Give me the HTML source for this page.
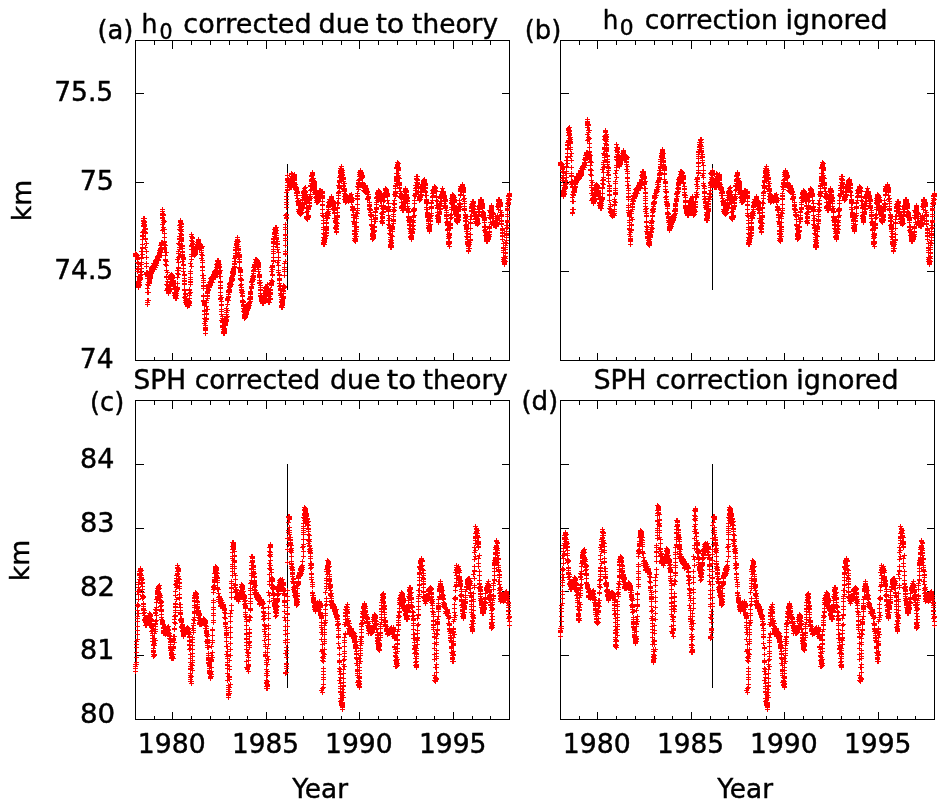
<!DOCTYPE html>
<html lang="en"><head><meta charset="utf-8"><title>Reflection height and sharpness time series, 1978-1998</title>
<style>
html,body{margin:0;padding:0;background:#fff}
body{width:945px;height:806px;overflow:hidden}
svg{display:block}
text{font-family:"DejaVu Sans","Liberation Sans",sans-serif;font-size:26.67px;fill:#000;stroke:#000;stroke-width:0.45px;stroke-linejoin:round}
.ax{fill:none;stroke:#000;stroke-width:1;shape-rendering:crispEdges}
.pt{fill:none;stroke:#f00;stroke-width:1;shape-rendering:crispEdges}
</style></head><body>
<svg width="945" height="806" viewBox="0 0 945 806" role="img" aria-label="Four-panel time series plot">
<rect width="945" height="806" fill="#fff"/>

<g id="panel-a">
<path class="ax" d="M135.5 40.5H509.5V360.5H135.5ZM154.5 360.5v-4M154.5 40.5v4M172.5 360.5v-8M172.5 40.5v8M191.5 360.5v-4M191.5 40.5v4M210.5 360.5v-4M210.5 40.5v4M229.5 360.5v-4M229.5 40.5v4M247.5 360.5v-4M247.5 40.5v4M266.5 360.5v-8M266.5 40.5v8M285.5 360.5v-4M285.5 40.5v4M303.5 360.5v-4M303.5 40.5v4M322.5 360.5v-4M322.5 40.5v4M341.5 360.5v-4M341.5 40.5v4M359.5 360.5v-8M359.5 40.5v8M378.5 360.5v-4M378.5 40.5v4M397.5 360.5v-4M397.5 40.5v4M416.5 360.5v-4M416.5 40.5v4M434.5 360.5v-4M434.5 40.5v4M453.5 360.5v-8M453.5 40.5v8M472.5 360.5v-4M472.5 40.5v4M490.5 360.5v-4M490.5 40.5v4M135.5 93.5h8M509.5 93.5h-8M135.5 182.5h8M509.5 182.5h-8M135.5 271.5h8M509.5 271.5h-8"/>
<path class="ax" d="M287.5 164V290"/>
<path class="pt" d="M133 253.5h5m-2.5-2.5v5M133 254.5h5m-2.5-2.5v5M133 256.5h5m-2.5-2.5v5M134 255.5h5m-2.5-2.5v5M133 255.5h5m-2.5-2.5v5M134 254.5h5m-2.5-2.5v5M134 256.5h5m-2.5-2.5v5M135 255.5h5m-2.5-2.5v5M135 257.5h5m-2.5-2.5v5M135 259.5h5m-2.5-2.5v5M135 258.5h5m-2.5-2.5v5M135 262.5h5m-2.5-2.5v5M136 263.5h5m-2.5-2.5v5M135 269.5h5m-2.5-2.5v5M135 271.5h5m-2.5-2.5v5M136 266.5h5m-2.5-2.5v5M136 268.5h5m-2.5-2.5v5M136 276.5h5m-2.5-2.5v5M136 281.5h5m-2.5-2.5v5M136 287.5h5m-2.5-2.5v5M136 283.5h5m-2.5-2.5v5M136 285.5h5m-2.5-2.5v5M136 286.5h5m-2.5-2.5v5M137 285.5h5m-2.5-2.5v5M137 284.5h5m-2.5-2.5v5M137 280.5h5m-2.5-2.5v5M137 282.5h5m-2.5-2.5v5M137 279.5h5m-2.5-2.5v5M138 279.5h5m-2.5-2.5v5M137 277.5h5m-2.5-2.5v5M138 278.5h5m-2.5-2.5v5M137 278.5h5m-2.5-2.5v5M138 277.5h5m-2.5-2.5v5M138 275.5h5m-2.5-2.5v5M139 274.5h5m-2.5-2.5v5M138 271.5h5m-2.5-2.5v5M138 272.5h5m-2.5-2.5v5M139 268.5h5m-2.5-2.5v5M138 264.5h5m-2.5-2.5v5M139 264.5h5m-2.5-2.5v5M139 262.5h5m-2.5-2.5v5M139 258.5h5m-2.5-2.5v5M139 257.5h5m-2.5-2.5v5M140 254.5h5m-2.5-2.5v5M139 251.5h5m-2.5-2.5v5M140 248.5h5m-2.5-2.5v5M140 247.5h5m-2.5-2.5v5M140 244.5h5m-2.5-2.5v5M140 239.5h5m-2.5-2.5v5M140 236.5h5m-2.5-2.5v5M140 235.5h5m-2.5-2.5v5M141 235.5h5m-2.5-2.5v5M140 232.5h5m-2.5-2.5v5M141 232.5h5m-2.5-2.5v5M141 231.5h5m-2.5-2.5v5M141 225.5h5m-2.5-2.5v5M141 226.5h5m-2.5-2.5v5M141 220.5h5m-2.5-2.5v5M141 223.5h5m-2.5-2.5v5M141 221.5h5m-2.5-2.5v5M141 218.5h5m-2.5-2.5v5M142 218.5h5m-2.5-2.5v5M142 222.5h5m-2.5-2.5v5M142 221.5h5m-2.5-2.5v5M142 224.5h5m-2.5-2.5v5M142 225.5h5m-2.5-2.5v5M142 226.5h5m-2.5-2.5v5M142 229.5h5m-2.5-2.5v5M143 228.5h5m-2.5-2.5v5M143 229.5h5m-2.5-2.5v5M142 231.5h5m-2.5-2.5v5M143 232.5h5m-2.5-2.5v5M143 233.5h5m-2.5-2.5v5M143 238.5h5m-2.5-2.5v5M143 239.5h5m-2.5-2.5v5M144 243.5h5m-2.5-2.5v5M143 247.5h5m-2.5-2.5v5M144 251.5h5m-2.5-2.5v5M144 257.5h5m-2.5-2.5v5M144 263.5h5m-2.5-2.5v5M144 266.5h5m-2.5-2.5v5M144 272.5h5m-2.5-2.5v5M144 273.5h5m-2.5-2.5v5M145 272.5h5m-2.5-2.5v5M144 274.5h5m-2.5-2.5v5M145 275.5h5m-2.5-2.5v5M145 274.5h5m-2.5-2.5v5M145 276.5h5m-2.5-2.5v5M145 278.5h5m-2.5-2.5v5M145 284.5h5m-2.5-2.5v5M145 292.5h5m-2.5-2.5v5M145 300.5h5m-2.5-2.5v5M146 300.5h5m-2.5-2.5v5M146 292.5h5m-2.5-2.5v5M145 288.5h5m-2.5-2.5v5M146 285.5h5m-2.5-2.5v5M146 282.5h5m-2.5-2.5v5M147 283.5h5m-2.5-2.5v5M147 282.5h5m-2.5-2.5v5M147 281.5h5m-2.5-2.5v5M147 279.5h5m-2.5-2.5v5M147 278.5h5m-2.5-2.5v5M147 280.5h5m-2.5-2.5v5M147 277.5h5m-2.5-2.5v5M148 278.5h5m-2.5-2.5v5M148 277.5h5m-2.5-2.5v5M148 276.5h5m-2.5-2.5v5M148 275.5h5m-2.5-2.5v5M148 274.5h5m-2.5-2.5v5M149 273.5h5m-2.5-2.5v5M148 271.5h5m-2.5-2.5v5M149 271.5h5m-2.5-2.5v5M149 272.5h5m-2.5-2.5v5M149 270.5h5m-2.5-2.5v5M149 269.5h5m-2.5-2.5v5M149 267.5h5m-2.5-2.5v5M149 268.5h5m-2.5-2.5v5M150 268.5h5m-2.5-2.5v5M150 269.5h5m-2.5-2.5v5M150 270.5h5m-2.5-2.5v5M150 266.5h5m-2.5-2.5v5M151 267.5h5m-2.5-2.5v5M151 268.5h5m-2.5-2.5v5M150 267.5h5m-2.5-2.5v5M151 265.5h5m-2.5-2.5v5M151 266.5h5m-2.5-2.5v5M151 263.5h5m-2.5-2.5v5M151 269.5h5m-2.5-2.5v5M152 269.5h5m-2.5-2.5v5M152 266.5h5m-2.5-2.5v5M152 265.5h5m-2.5-2.5v5M152 263.5h5m-2.5-2.5v5M153 264.5h5m-2.5-2.5v5M153 267.5h5m-2.5-2.5v5M153 260.5h5m-2.5-2.5v5M153 262.5h5m-2.5-2.5v5M153 261.5h5m-2.5-2.5v5M153 263.5h5m-2.5-2.5v5M154 262.5h5m-2.5-2.5v5M154 265.5h5m-2.5-2.5v5M154 263.5h5m-2.5-2.5v5M153 265.5h5m-2.5-2.5v5M154 260.5h5m-2.5-2.5v5M154 261.5h5m-2.5-2.5v5M155 260.5h5m-2.5-2.5v5M155 259.5h5m-2.5-2.5v5M154 259.5h5m-2.5-2.5v5M155 257.5h5m-2.5-2.5v5M155 256.5h5m-2.5-2.5v5M155 258.5h5m-2.5-2.5v5M156 260.5h5m-2.5-2.5v5M156 259.5h5m-2.5-2.5v5M156 256.5h5m-2.5-2.5v5M156 257.5h5m-2.5-2.5v5M157 255.5h5m-2.5-2.5v5M156 255.5h5m-2.5-2.5v5M157 257.5h5m-2.5-2.5v5M157 256.5h5m-2.5-2.5v5M157 254.5h5m-2.5-2.5v5M157 253.5h5m-2.5-2.5v5M158 255.5h5m-2.5-2.5v5M157 252.5h5m-2.5-2.5v5M158 251.5h5m-2.5-2.5v5M158 250.5h5m-2.5-2.5v5M157 250.5h5m-2.5-2.5v5M158 249.5h5m-2.5-2.5v5M158 252.5h5m-2.5-2.5v5M158 248.5h5m-2.5-2.5v5M159 247.5h5m-2.5-2.5v5M158 245.5h5m-2.5-2.5v5M159 245.5h5m-2.5-2.5v5M159 244.5h5m-2.5-2.5v5M159 242.5h5m-2.5-2.5v5M159 243.5h5m-2.5-2.5v5M160 242.5h5m-2.5-2.5v5M160 230.5h5m-2.5-2.5v5M160 224.5h5m-2.5-2.5v5M160 218.5h5m-2.5-2.5v5M160 211.5h5m-2.5-2.5v5M160 209.5h5m-2.5-2.5v5M160 213.5h5m-2.5-2.5v5M160 215.5h5m-2.5-2.5v5M161 214.5h5m-2.5-2.5v5M160 217.5h5m-2.5-2.5v5M161 215.5h5m-2.5-2.5v5M161 220.5h5m-2.5-2.5v5M161 222.5h5m-2.5-2.5v5M162 221.5h5m-2.5-2.5v5M161 227.5h5m-2.5-2.5v5M161 229.5h5m-2.5-2.5v5M162 229.5h5m-2.5-2.5v5M162 233.5h5m-2.5-2.5v5M162 237.5h5m-2.5-2.5v5M162 241.5h5m-2.5-2.5v5M162 242.5h5m-2.5-2.5v5M162 245.5h5m-2.5-2.5v5M162 244.5h5m-2.5-2.5v5M162 247.5h5m-2.5-2.5v5M163 245.5h5m-2.5-2.5v5M162 248.5h5m-2.5-2.5v5M162 249.5h5m-2.5-2.5v5M163 252.5h5m-2.5-2.5v5M164 252.5h5m-2.5-2.5v5M163 255.5h5m-2.5-2.5v5M163 259.5h5m-2.5-2.5v5M163 260.5h5m-2.5-2.5v5M164 261.5h5m-2.5-2.5v5M163 264.5h5m-2.5-2.5v5M164 265.5h5m-2.5-2.5v5M164 270.5h5m-2.5-2.5v5M165 272.5h5m-2.5-2.5v5M164 276.5h5m-2.5-2.5v5M164 277.5h5m-2.5-2.5v5M165 281.5h5m-2.5-2.5v5M164 284.5h5m-2.5-2.5v5M165 285.5h5m-2.5-2.5v5M165 288.5h5m-2.5-2.5v5M164 290.5h5m-2.5-2.5v5M165 289.5h5m-2.5-2.5v5M166 287.5h5m-2.5-2.5v5M166 288.5h5m-2.5-2.5v5M166 292.5h5m-2.5-2.5v5M166 290.5h5m-2.5-2.5v5M166 289.5h5m-2.5-2.5v5M166 291.5h5m-2.5-2.5v5M167 290.5h5m-2.5-2.5v5M167 291.5h5m-2.5-2.5v5M167 288.5h5m-2.5-2.5v5M167 286.5h5m-2.5-2.5v5M168 289.5h5m-2.5-2.5v5M168 284.5h5m-2.5-2.5v5M167 285.5h5m-2.5-2.5v5M168 282.5h5m-2.5-2.5v5M168 279.5h5m-2.5-2.5v5M169 281.5h5m-2.5-2.5v5M168 278.5h5m-2.5-2.5v5M169 278.5h5m-2.5-2.5v5M169 279.5h5m-2.5-2.5v5M168 275.5h5m-2.5-2.5v5M169 274.5h5m-2.5-2.5v5M169 275.5h5m-2.5-2.5v5M169 276.5h5m-2.5-2.5v5M170 276.5h5m-2.5-2.5v5M170 275.5h5m-2.5-2.5v5M169 277.5h5m-2.5-2.5v5M171 277.5h5m-2.5-2.5v5M170 277.5h5m-2.5-2.5v5M170 280.5h5m-2.5-2.5v5M171 280.5h5m-2.5-2.5v5M170 278.5h5m-2.5-2.5v5M171 284.5h5m-2.5-2.5v5M171 283.5h5m-2.5-2.5v5M171 281.5h5m-2.5-2.5v5M171 282.5h5m-2.5-2.5v5M171 285.5h5m-2.5-2.5v5M171 286.5h5m-2.5-2.5v5M172 288.5h5m-2.5-2.5v5M172 289.5h5m-2.5-2.5v5M172 293.5h5m-2.5-2.5v5M172 292.5h5m-2.5-2.5v5M172 295.5h5m-2.5-2.5v5M173 292.5h5m-2.5-2.5v5M173 293.5h5m-2.5-2.5v5M173 296.5h5m-2.5-2.5v5M173 298.5h5m-2.5-2.5v5M173 295.5h5m-2.5-2.5v5M173 297.5h5m-2.5-2.5v5M174 298.5h5m-2.5-2.5v5M173 294.5h5m-2.5-2.5v5M174 295.5h5m-2.5-2.5v5M174 293.5h5m-2.5-2.5v5M174 291.5h5m-2.5-2.5v5M174 290.5h5m-2.5-2.5v5M174 289.5h5m-2.5-2.5v5M174 288.5h5m-2.5-2.5v5M175 289.5h5m-2.5-2.5v5M175 288.5h5m-2.5-2.5v5M175 287.5h5m-2.5-2.5v5M175 283.5h5m-2.5-2.5v5M175 277.5h5m-2.5-2.5v5M176 274.5h5m-2.5-2.5v5M175 273.5h5m-2.5-2.5v5M175 270.5h5m-2.5-2.5v5M176 270.5h5m-2.5-2.5v5M176 268.5h5m-2.5-2.5v5M176 267.5h5m-2.5-2.5v5M176 262.5h5m-2.5-2.5v5M175 259.5h5m-2.5-2.5v5M177 256.5h5m-2.5-2.5v5M176 257.5h5m-2.5-2.5v5M176 253.5h5m-2.5-2.5v5M176 251.5h5m-2.5-2.5v5M177 249.5h5m-2.5-2.5v5M177 247.5h5m-2.5-2.5v5M177 244.5h5m-2.5-2.5v5M176 243.5h5m-2.5-2.5v5M177 238.5h5m-2.5-2.5v5M177 239.5h5m-2.5-2.5v5M177 236.5h5m-2.5-2.5v5M178 233.5h5m-2.5-2.5v5M177 229.5h5m-2.5-2.5v5M178 230.5h5m-2.5-2.5v5M178 227.5h5m-2.5-2.5v5M177 225.5h5m-2.5-2.5v5M178 221.5h5m-2.5-2.5v5M178 222.5h5m-2.5-2.5v5M178 220.5h5m-2.5-2.5v5M178 224.5h5m-2.5-2.5v5M179 224.5h5m-2.5-2.5v5M179 226.5h5m-2.5-2.5v5M179 229.5h5m-2.5-2.5v5M179 231.5h5m-2.5-2.5v5M179 234.5h5m-2.5-2.5v5M179 235.5h5m-2.5-2.5v5M179 238.5h5m-2.5-2.5v5M179 237.5h5m-2.5-2.5v5M179 239.5h5m-2.5-2.5v5M179 240.5h5m-2.5-2.5v5M179 241.5h5m-2.5-2.5v5M180 245.5h5m-2.5-2.5v5M180 246.5h5m-2.5-2.5v5M180 248.5h5m-2.5-2.5v5M180 251.5h5m-2.5-2.5v5M180 252.5h5m-2.5-2.5v5M180 254.5h5m-2.5-2.5v5M180 256.5h5m-2.5-2.5v5M180 255.5h5m-2.5-2.5v5M181 257.5h5m-2.5-2.5v5M181 258.5h5m-2.5-2.5v5M181 259.5h5m-2.5-2.5v5M180 261.5h5m-2.5-2.5v5M181 265.5h5m-2.5-2.5v5M181 264.5h5m-2.5-2.5v5M181 268.5h5m-2.5-2.5v5M181 271.5h5m-2.5-2.5v5M182 275.5h5m-2.5-2.5v5M182 274.5h5m-2.5-2.5v5M182 278.5h5m-2.5-2.5v5M182 280.5h5m-2.5-2.5v5M182 281.5h5m-2.5-2.5v5M182 283.5h5m-2.5-2.5v5M182 284.5h5m-2.5-2.5v5M182 289.5h5m-2.5-2.5v5M182 290.5h5m-2.5-2.5v5M183 294.5h5m-2.5-2.5v5M183 293.5h5m-2.5-2.5v5M183 296.5h5m-2.5-2.5v5M182 297.5h5m-2.5-2.5v5M183 298.5h5m-2.5-2.5v5M183 300.5h5m-2.5-2.5v5M183 302.5h5m-2.5-2.5v5M184 302.5h5m-2.5-2.5v5M184 303.5h5m-2.5-2.5v5M185 302.5h5m-2.5-2.5v5M185 301.5h5m-2.5-2.5v5M184 304.5h5m-2.5-2.5v5M185 303.5h5m-2.5-2.5v5M185 305.5h5m-2.5-2.5v5M185 306.5h5m-2.5-2.5v5M186 303.5h5m-2.5-2.5v5M186 302.5h5m-2.5-2.5v5M186 304.5h5m-2.5-2.5v5M186 305.5h5m-2.5-2.5v5M187 301.5h5m-2.5-2.5v5M187 305.5h5m-2.5-2.5v5M187 303.5h5m-2.5-2.5v5M186 300.5h5m-2.5-2.5v5M187 302.5h5m-2.5-2.5v5M187 298.5h5m-2.5-2.5v5M187 295.5h5m-2.5-2.5v5M187 293.5h5m-2.5-2.5v5M188 292.5h5m-2.5-2.5v5M187 290.5h5m-2.5-2.5v5M187 289.5h5m-2.5-2.5v5M188 284.5h5m-2.5-2.5v5M188 281.5h5m-2.5-2.5v5M188 282.5h5m-2.5-2.5v5M188 279.5h5m-2.5-2.5v5M188 277.5h5m-2.5-2.5v5M188 273.5h5m-2.5-2.5v5M188 271.5h5m-2.5-2.5v5M189 266.5h5m-2.5-2.5v5M188 263.5h5m-2.5-2.5v5M189 259.5h5m-2.5-2.5v5M189 256.5h5m-2.5-2.5v5M189 254.5h5m-2.5-2.5v5M189 249.5h5m-2.5-2.5v5M189 246.5h5m-2.5-2.5v5M189 245.5h5m-2.5-2.5v5M189 240.5h5m-2.5-2.5v5M190 238.5h5m-2.5-2.5v5M189 236.5h5m-2.5-2.5v5M189 234.5h5m-2.5-2.5v5M190 237.5h5m-2.5-2.5v5M190 241.5h5m-2.5-2.5v5M190 243.5h5m-2.5-2.5v5M190 244.5h5m-2.5-2.5v5M191 244.5h5m-2.5-2.5v5M190 246.5h5m-2.5-2.5v5M190 249.5h5m-2.5-2.5v5M191 249.5h5m-2.5-2.5v5M191 248.5h5m-2.5-2.5v5M191 253.5h5m-2.5-2.5v5M191 252.5h5m-2.5-2.5v5M192 250.5h5m-2.5-2.5v5M191 251.5h5m-2.5-2.5v5M191 254.5h5m-2.5-2.5v5M192 255.5h5m-2.5-2.5v5M192 254.5h5m-2.5-2.5v5M192 252.5h5m-2.5-2.5v5M192 249.5h5m-2.5-2.5v5M192 251.5h5m-2.5-2.5v5M192 253.5h5m-2.5-2.5v5M193 254.5h5m-2.5-2.5v5M193 252.5h5m-2.5-2.5v5M193 251.5h5m-2.5-2.5v5M193 253.5h5m-2.5-2.5v5M193 248.5h5m-2.5-2.5v5M194 249.5h5m-2.5-2.5v5M194 247.5h5m-2.5-2.5v5M193 247.5h5m-2.5-2.5v5M193 246.5h5m-2.5-2.5v5M194 246.5h5m-2.5-2.5v5M194 244.5h5m-2.5-2.5v5M195 248.5h5m-2.5-2.5v5M195 249.5h5m-2.5-2.5v5M195 245.5h5m-2.5-2.5v5M195 242.5h5m-2.5-2.5v5M196 241.5h5m-2.5-2.5v5M196 245.5h5m-2.5-2.5v5M196 242.5h5m-2.5-2.5v5M196 239.5h5m-2.5-2.5v5M197 244.5h5m-2.5-2.5v5M196 243.5h5m-2.5-2.5v5M196 246.5h5m-2.5-2.5v5M197 246.5h5m-2.5-2.5v5M197 245.5h5m-2.5-2.5v5M197 243.5h5m-2.5-2.5v5M197 248.5h5m-2.5-2.5v5M197 249.5h5m-2.5-2.5v5M198 248.5h5m-2.5-2.5v5M198 247.5h5m-2.5-2.5v5M198 246.5h5m-2.5-2.5v5M198 245.5h5m-2.5-2.5v5M199 248.5h5m-2.5-2.5v5M199 250.5h5m-2.5-2.5v5M199 246.5h5m-2.5-2.5v5M200 246.5h5m-2.5-2.5v5M199 247.5h5m-2.5-2.5v5M199 252.5h5m-2.5-2.5v5M199 254.5h5m-2.5-2.5v5M200 255.5h5m-2.5-2.5v5M199 258.5h5m-2.5-2.5v5M200 260.5h5m-2.5-2.5v5M200 262.5h5m-2.5-2.5v5M200 266.5h5m-2.5-2.5v5M200 267.5h5m-2.5-2.5v5M200 270.5h5m-2.5-2.5v5M200 275.5h5m-2.5-2.5v5M201 275.5h5m-2.5-2.5v5M201 278.5h5m-2.5-2.5v5M201 280.5h5m-2.5-2.5v5M201 282.5h5m-2.5-2.5v5M201 285.5h5m-2.5-2.5v5M201 286.5h5m-2.5-2.5v5M201 288.5h5m-2.5-2.5v5M201 295.5h5m-2.5-2.5v5M201 296.5h5m-2.5-2.5v5M201 301.5h5m-2.5-2.5v5M202 302.5h5m-2.5-2.5v5M201 300.5h5m-2.5-2.5v5M202 303.5h5m-2.5-2.5v5M202 304.5h5m-2.5-2.5v5M202 305.5h5m-2.5-2.5v5M202 310.5h5m-2.5-2.5v5M202 311.5h5m-2.5-2.5v5M202 314.5h5m-2.5-2.5v5M202 318.5h5m-2.5-2.5v5M203 321.5h5m-2.5-2.5v5M202 323.5h5m-2.5-2.5v5M203 325.5h5m-2.5-2.5v5M203 327.5h5m-2.5-2.5v5M203 329.5h5m-2.5-2.5v5M203 330.5h5m-2.5-2.5v5M203 333.5h5m-2.5-2.5v5M203 328.5h5m-2.5-2.5v5M204 319.5h5m-2.5-2.5v5M203 319.5h5m-2.5-2.5v5M204 318.5h5m-2.5-2.5v5M204 314.5h5m-2.5-2.5v5M204 313.5h5m-2.5-2.5v5M205 309.5h5m-2.5-2.5v5M204 306.5h5m-2.5-2.5v5M204 302.5h5m-2.5-2.5v5M204 300.5h5m-2.5-2.5v5M205 298.5h5m-2.5-2.5v5M205 296.5h5m-2.5-2.5v5M205 295.5h5m-2.5-2.5v5M205 293.5h5m-2.5-2.5v5M205 292.5h5m-2.5-2.5v5M205 291.5h5m-2.5-2.5v5M206 289.5h5m-2.5-2.5v5M205 288.5h5m-2.5-2.5v5M206 290.5h5m-2.5-2.5v5M206 287.5h5m-2.5-2.5v5M206 286.5h5m-2.5-2.5v5M206 284.5h5m-2.5-2.5v5M206 285.5h5m-2.5-2.5v5M207 286.5h5m-2.5-2.5v5M207 287.5h5m-2.5-2.5v5M207 284.5h5m-2.5-2.5v5M207 285.5h5m-2.5-2.5v5M207 282.5h5m-2.5-2.5v5M208 282.5h5m-2.5-2.5v5M208 281.5h5m-2.5-2.5v5M208 285.5h5m-2.5-2.5v5M208 284.5h5m-2.5-2.5v5M208 283.5h5m-2.5-2.5v5M209 281.5h5m-2.5-2.5v5M208 278.5h5m-2.5-2.5v5M209 278.5h5m-2.5-2.5v5M209 279.5h5m-2.5-2.5v5M209 277.5h5m-2.5-2.5v5M210 279.5h5m-2.5-2.5v5M210 282.5h5m-2.5-2.5v5M209 282.5h5m-2.5-2.5v5M210 277.5h5m-2.5-2.5v5M210 276.5h5m-2.5-2.5v5M210 278.5h5m-2.5-2.5v5M211 279.5h5m-2.5-2.5v5M211 276.5h5m-2.5-2.5v5M211 278.5h5m-2.5-2.5v5M211 275.5h5m-2.5-2.5v5M211 277.5h5m-2.5-2.5v5M211 274.5h5m-2.5-2.5v5M212 275.5h5m-2.5-2.5v5M212 274.5h5m-2.5-2.5v5M212 273.5h5m-2.5-2.5v5M212 277.5h5m-2.5-2.5v5M212 272.5h5m-2.5-2.5v5M213 273.5h5m-2.5-2.5v5M212 271.5h5m-2.5-2.5v5M213 271.5h5m-2.5-2.5v5M213 270.5h5m-2.5-2.5v5M213 272.5h5m-2.5-2.5v5M213 275.5h5m-2.5-2.5v5M214 273.5h5m-2.5-2.5v5M214 272.5h5m-2.5-2.5v5M214 271.5h5m-2.5-2.5v5M214 274.5h5m-2.5-2.5v5M214 270.5h5m-2.5-2.5v5M215 271.5h5m-2.5-2.5v5M214 267.5h5m-2.5-2.5v5M214 264.5h5m-2.5-2.5v5M215 266.5h5m-2.5-2.5v5M215 265.5h5m-2.5-2.5v5M215 263.5h5m-2.5-2.5v5M215 264.5h5m-2.5-2.5v5M215 260.5h5m-2.5-2.5v5M216 260.5h5m-2.5-2.5v5M216 261.5h5m-2.5-2.5v5M216 262.5h5m-2.5-2.5v5M215 261.5h5m-2.5-2.5v5M216 263.5h5m-2.5-2.5v5M216 265.5h5m-2.5-2.5v5M216 264.5h5m-2.5-2.5v5M216 266.5h5m-2.5-2.5v5M217 264.5h5m-2.5-2.5v5M217 266.5h5m-2.5-2.5v5M217 267.5h5m-2.5-2.5v5M218 270.5h5m-2.5-2.5v5M217 271.5h5m-2.5-2.5v5M217 272.5h5m-2.5-2.5v5M217 273.5h5m-2.5-2.5v5M218 276.5h5m-2.5-2.5v5M217 276.5h5m-2.5-2.5v5M218 281.5h5m-2.5-2.5v5M218 282.5h5m-2.5-2.5v5M218 285.5h5m-2.5-2.5v5M218 288.5h5m-2.5-2.5v5M218 287.5h5m-2.5-2.5v5M218 292.5h5m-2.5-2.5v5M218 295.5h5m-2.5-2.5v5M218 298.5h5m-2.5-2.5v5M219 297.5h5m-2.5-2.5v5M218 299.5h5m-2.5-2.5v5M219 301.5h5m-2.5-2.5v5M219 304.5h5m-2.5-2.5v5M219 305.5h5m-2.5-2.5v5M219 309.5h5m-2.5-2.5v5M219 311.5h5m-2.5-2.5v5M219 314.5h5m-2.5-2.5v5M220 316.5h5m-2.5-2.5v5M219 320.5h5m-2.5-2.5v5M220 321.5h5m-2.5-2.5v5M220 320.5h5m-2.5-2.5v5M220 318.5h5m-2.5-2.5v5M220 322.5h5m-2.5-2.5v5M220 325.5h5m-2.5-2.5v5M221 327.5h5m-2.5-2.5v5M220 326.5h5m-2.5-2.5v5M220 327.5h5m-2.5-2.5v5M221 329.5h5m-2.5-2.5v5M221 331.5h5m-2.5-2.5v5M221 332.5h5m-2.5-2.5v5M221 333.5h5m-2.5-2.5v5M222 332.5h5m-2.5-2.5v5M222 333.5h5m-2.5-2.5v5M222 331.5h5m-2.5-2.5v5M222 330.5h5m-2.5-2.5v5M222 329.5h5m-2.5-2.5v5M222 328.5h5m-2.5-2.5v5M223 325.5h5m-2.5-2.5v5M223 322.5h5m-2.5-2.5v5M223 323.5h5m-2.5-2.5v5M223 324.5h5m-2.5-2.5v5M223 321.5h5m-2.5-2.5v5M223 319.5h5m-2.5-2.5v5M224 319.5h5m-2.5-2.5v5M224 320.5h5m-2.5-2.5v5M224 321.5h5m-2.5-2.5v5M224 316.5h5m-2.5-2.5v5M224 317.5h5m-2.5-2.5v5M225 316.5h5m-2.5-2.5v5M224 314.5h5m-2.5-2.5v5M224 310.5h5m-2.5-2.5v5M224 308.5h5m-2.5-2.5v5M224 312.5h5m-2.5-2.5v5M225 310.5h5m-2.5-2.5v5M225 304.5h5m-2.5-2.5v5M225 300.5h5m-2.5-2.5v5M225 298.5h5m-2.5-2.5v5M226 300.5h5m-2.5-2.5v5M226 296.5h5m-2.5-2.5v5M225 299.5h5m-2.5-2.5v5M226 297.5h5m-2.5-2.5v5M226 294.5h5m-2.5-2.5v5M226 291.5h5m-2.5-2.5v5M226 292.5h5m-2.5-2.5v5M226 290.5h5m-2.5-2.5v5M227 292.5h5m-2.5-2.5v5M227 290.5h5m-2.5-2.5v5M227 289.5h5m-2.5-2.5v5M227 291.5h5m-2.5-2.5v5M227 287.5h5m-2.5-2.5v5M227 286.5h5m-2.5-2.5v5M227 284.5h5m-2.5-2.5v5M227 283.5h5m-2.5-2.5v5M228 282.5h5m-2.5-2.5v5M228 285.5h5m-2.5-2.5v5M228 286.5h5m-2.5-2.5v5M229 284.5h5m-2.5-2.5v5M228 283.5h5m-2.5-2.5v5M229 281.5h5m-2.5-2.5v5M229 280.5h5m-2.5-2.5v5M229 279.5h5m-2.5-2.5v5M229 278.5h5m-2.5-2.5v5M229 277.5h5m-2.5-2.5v5M230 275.5h5m-2.5-2.5v5M230 276.5h5m-2.5-2.5v5M230 278.5h5m-2.5-2.5v5M230 280.5h5m-2.5-2.5v5M230 279.5h5m-2.5-2.5v5M230 272.5h5m-2.5-2.5v5M230 271.5h5m-2.5-2.5v5M230 273.5h5m-2.5-2.5v5M231 273.5h5m-2.5-2.5v5M231 272.5h5m-2.5-2.5v5M231 269.5h5m-2.5-2.5v5M231 274.5h5m-2.5-2.5v5M231 271.5h5m-2.5-2.5v5M231 270.5h5m-2.5-2.5v5M232 267.5h5m-2.5-2.5v5M231 268.5h5m-2.5-2.5v5M232 266.5h5m-2.5-2.5v5M232 264.5h5m-2.5-2.5v5M232 263.5h5m-2.5-2.5v5M233 261.5h5m-2.5-2.5v5M232 261.5h5m-2.5-2.5v5M232 258.5h5m-2.5-2.5v5M233 257.5h5m-2.5-2.5v5M233 255.5h5m-2.5-2.5v5M233 256.5h5m-2.5-2.5v5M233 253.5h5m-2.5-2.5v5M233 249.5h5m-2.5-2.5v5M233 247.5h5m-2.5-2.5v5M234 247.5h5m-2.5-2.5v5M233 250.5h5m-2.5-2.5v5M234 249.5h5m-2.5-2.5v5M234 243.5h5m-2.5-2.5v5M234 241.5h5m-2.5-2.5v5M234 245.5h5m-2.5-2.5v5M234 244.5h5m-2.5-2.5v5M235 244.5h5m-2.5-2.5v5M235 240.5h5m-2.5-2.5v5M235 237.5h5m-2.5-2.5v5M235 239.5h5m-2.5-2.5v5M235 242.5h5m-2.5-2.5v5M236 241.5h5m-2.5-2.5v5M235 246.5h5m-2.5-2.5v5M236 249.5h5m-2.5-2.5v5M236 246.5h5m-2.5-2.5v5M236 248.5h5m-2.5-2.5v5M236 250.5h5m-2.5-2.5v5M236 252.5h5m-2.5-2.5v5M236 254.5h5m-2.5-2.5v5M236 257.5h5m-2.5-2.5v5M236 256.5h5m-2.5-2.5v5M237 254.5h5m-2.5-2.5v5M237 255.5h5m-2.5-2.5v5M237 256.5h5m-2.5-2.5v5M237 257.5h5m-2.5-2.5v5M237 259.5h5m-2.5-2.5v5M237 261.5h5m-2.5-2.5v5M237 262.5h5m-2.5-2.5v5M237 268.5h5m-2.5-2.5v5M237 267.5h5m-2.5-2.5v5M238 269.5h5m-2.5-2.5v5M238 270.5h5m-2.5-2.5v5M238 271.5h5m-2.5-2.5v5M238 272.5h5m-2.5-2.5v5M238 275.5h5m-2.5-2.5v5M238 278.5h5m-2.5-2.5v5M239 279.5h5m-2.5-2.5v5M238 279.5h5m-2.5-2.5v5M239 280.5h5m-2.5-2.5v5M239 284.5h5m-2.5-2.5v5M238 285.5h5m-2.5-2.5v5M239 287.5h5m-2.5-2.5v5M239 289.5h5m-2.5-2.5v5M239 292.5h5m-2.5-2.5v5M239 290.5h5m-2.5-2.5v5M240 291.5h5m-2.5-2.5v5M240 293.5h5m-2.5-2.5v5M240 295.5h5m-2.5-2.5v5M240 296.5h5m-2.5-2.5v5M240 301.5h5m-2.5-2.5v5M240 302.5h5m-2.5-2.5v5M240 300.5h5m-2.5-2.5v5M241 302.5h5m-2.5-2.5v5M241 301.5h5m-2.5-2.5v5M241 306.5h5m-2.5-2.5v5M241 304.5h5m-2.5-2.5v5M241 305.5h5m-2.5-2.5v5M241 308.5h5m-2.5-2.5v5M242 310.5h5m-2.5-2.5v5M241 311.5h5m-2.5-2.5v5M242 309.5h5m-2.5-2.5v5M242 312.5h5m-2.5-2.5v5M242 314.5h5m-2.5-2.5v5M242 317.5h5m-2.5-2.5v5M242 318.5h5m-2.5-2.5v5M242 316.5h5m-2.5-2.5v5M243 316.5h5m-2.5-2.5v5M243 317.5h5m-2.5-2.5v5M243 313.5h5m-2.5-2.5v5M243 315.5h5m-2.5-2.5v5M243 312.5h5m-2.5-2.5v5M244 314.5h5m-2.5-2.5v5M244 313.5h5m-2.5-2.5v5M243 311.5h5m-2.5-2.5v5M244 311.5h5m-2.5-2.5v5M244 312.5h5m-2.5-2.5v5M245 310.5h5m-2.5-2.5v5M244 310.5h5m-2.5-2.5v5M244 309.5h5m-2.5-2.5v5M245 309.5h5m-2.5-2.5v5M245 305.5h5m-2.5-2.5v5M246 306.5h5m-2.5-2.5v5M245 306.5h5m-2.5-2.5v5M246 305.5h5m-2.5-2.5v5M246 308.5h5m-2.5-2.5v5M245 307.5h5m-2.5-2.5v5M246 304.5h5m-2.5-2.5v5M246 307.5h5m-2.5-2.5v5M246 303.5h5m-2.5-2.5v5M247 302.5h5m-2.5-2.5v5M247 305.5h5m-2.5-2.5v5M247 303.5h5m-2.5-2.5v5M248 301.5h5m-2.5-2.5v5M247 299.5h5m-2.5-2.5v5M247 298.5h5m-2.5-2.5v5M248 299.5h5m-2.5-2.5v5M248 297.5h5m-2.5-2.5v5M248 298.5h5m-2.5-2.5v5M248 296.5h5m-2.5-2.5v5M248 294.5h5m-2.5-2.5v5M248 292.5h5m-2.5-2.5v5M248 293.5h5m-2.5-2.5v5M248 291.5h5m-2.5-2.5v5M249 288.5h5m-2.5-2.5v5M249 287.5h5m-2.5-2.5v5M249 286.5h5m-2.5-2.5v5M249 282.5h5m-2.5-2.5v5M250 284.5h5m-2.5-2.5v5M249 281.5h5m-2.5-2.5v5M250 280.5h5m-2.5-2.5v5M250 281.5h5m-2.5-2.5v5M250 279.5h5m-2.5-2.5v5M250 278.5h5m-2.5-2.5v5M251 279.5h5m-2.5-2.5v5M250 276.5h5m-2.5-2.5v5M251 276.5h5m-2.5-2.5v5M251 277.5h5m-2.5-2.5v5M251 275.5h5m-2.5-2.5v5M251 271.5h5m-2.5-2.5v5M251 270.5h5m-2.5-2.5v5M251 273.5h5m-2.5-2.5v5M252 269.5h5m-2.5-2.5v5M251 267.5h5m-2.5-2.5v5M252 265.5h5m-2.5-2.5v5M252 266.5h5m-2.5-2.5v5M252 264.5h5m-2.5-2.5v5M252 267.5h5m-2.5-2.5v5M253 269.5h5m-2.5-2.5v5M253 264.5h5m-2.5-2.5v5M253 265.5h5m-2.5-2.5v5M253 262.5h5m-2.5-2.5v5M254 262.5h5m-2.5-2.5v5M254 263.5h5m-2.5-2.5v5M254 265.5h5m-2.5-2.5v5M254 261.5h5m-2.5-2.5v5M254 264.5h5m-2.5-2.5v5M253 259.5h5m-2.5-2.5v5M254 260.5h5m-2.5-2.5v5M254 259.5h5m-2.5-2.5v5M255 263.5h5m-2.5-2.5v5M255 261.5h5m-2.5-2.5v5M255 260.5h5m-2.5-2.5v5M255 266.5h5m-2.5-2.5v5M255 267.5h5m-2.5-2.5v5M255 264.5h5m-2.5-2.5v5M256 263.5h5m-2.5-2.5v5M256 262.5h5m-2.5-2.5v5M256 266.5h5m-2.5-2.5v5M256 264.5h5m-2.5-2.5v5M256 265.5h5m-2.5-2.5v5M256 267.5h5m-2.5-2.5v5M256 269.5h5m-2.5-2.5v5M256 271.5h5m-2.5-2.5v5M257 274.5h5m-2.5-2.5v5M257 275.5h5m-2.5-2.5v5M257 276.5h5m-2.5-2.5v5M257 277.5h5m-2.5-2.5v5M257 280.5h5m-2.5-2.5v5M257 282.5h5m-2.5-2.5v5M257 283.5h5m-2.5-2.5v5M258 282.5h5m-2.5-2.5v5M258 285.5h5m-2.5-2.5v5M258 290.5h5m-2.5-2.5v5M258 287.5h5m-2.5-2.5v5M258 289.5h5m-2.5-2.5v5M258 293.5h5m-2.5-2.5v5M258 296.5h5m-2.5-2.5v5M259 296.5h5m-2.5-2.5v5M258 295.5h5m-2.5-2.5v5M259 295.5h5m-2.5-2.5v5M259 298.5h5m-2.5-2.5v5M259 299.5h5m-2.5-2.5v5M259 301.5h5m-2.5-2.5v5M259 300.5h5m-2.5-2.5v5M260 299.5h5m-2.5-2.5v5M259 297.5h5m-2.5-2.5v5M260 300.5h5m-2.5-2.5v5M260 301.5h5m-2.5-2.5v5M260 303.5h5m-2.5-2.5v5M260 302.5h5m-2.5-2.5v5M261 302.5h5m-2.5-2.5v5M261 303.5h5m-2.5-2.5v5M261 301.5h5m-2.5-2.5v5M261 299.5h5m-2.5-2.5v5M261 298.5h5m-2.5-2.5v5M261 297.5h5m-2.5-2.5v5M261 300.5h5m-2.5-2.5v5M262 300.5h5m-2.5-2.5v5M262 298.5h5m-2.5-2.5v5M262 299.5h5m-2.5-2.5v5M262 297.5h5m-2.5-2.5v5M262 296.5h5m-2.5-2.5v5M263 293.5h5m-2.5-2.5v5M263 294.5h5m-2.5-2.5v5M263 292.5h5m-2.5-2.5v5M263 290.5h5m-2.5-2.5v5M263 291.5h5m-2.5-2.5v5M263 287.5h5m-2.5-2.5v5M264 287.5h5m-2.5-2.5v5M263 288.5h5m-2.5-2.5v5M264 289.5h5m-2.5-2.5v5M264 290.5h5m-2.5-2.5v5M265 291.5h5m-2.5-2.5v5M264 286.5h5m-2.5-2.5v5M265 284.5h5m-2.5-2.5v5M265 288.5h5m-2.5-2.5v5M265 290.5h5m-2.5-2.5v5M265 294.5h5m-2.5-2.5v5M266 295.5h5m-2.5-2.5v5M266 293.5h5m-2.5-2.5v5M266 299.5h5m-2.5-2.5v5M266 300.5h5m-2.5-2.5v5M266 302.5h5m-2.5-2.5v5M266 301.5h5m-2.5-2.5v5M267 302.5h5m-2.5-2.5v5M267 299.5h5m-2.5-2.5v5M267 298.5h5m-2.5-2.5v5M268 298.5h5m-2.5-2.5v5M268 299.5h5m-2.5-2.5v5M268 294.5h5m-2.5-2.5v5M267 296.5h5m-2.5-2.5v5M268 293.5h5m-2.5-2.5v5M268 292.5h5m-2.5-2.5v5M268 290.5h5m-2.5-2.5v5M268 289.5h5m-2.5-2.5v5M268 283.5h5m-2.5-2.5v5M269 283.5h5m-2.5-2.5v5M269 285.5h5m-2.5-2.5v5M269 282.5h5m-2.5-2.5v5M269 284.5h5m-2.5-2.5v5M269 280.5h5m-2.5-2.5v5M270 281.5h5m-2.5-2.5v5M270 275.5h5m-2.5-2.5v5M270 274.5h5m-2.5-2.5v5M269 271.5h5m-2.5-2.5v5M270 269.5h5m-2.5-2.5v5M270 267.5h5m-2.5-2.5v5M270 266.5h5m-2.5-2.5v5M269 267.5h5m-2.5-2.5v5M270 265.5h5m-2.5-2.5v5M271 261.5h5m-2.5-2.5v5M271 260.5h5m-2.5-2.5v5M271 257.5h5m-2.5-2.5v5M271 253.5h5m-2.5-2.5v5M271 251.5h5m-2.5-2.5v5M271 249.5h5m-2.5-2.5v5M271 246.5h5m-2.5-2.5v5M271 243.5h5m-2.5-2.5v5M271 242.5h5m-2.5-2.5v5M271 241.5h5m-2.5-2.5v5M271 238.5h5m-2.5-2.5v5M272 239.5h5m-2.5-2.5v5M271 239.5h5m-2.5-2.5v5M272 234.5h5m-2.5-2.5v5M272 236.5h5m-2.5-2.5v5M272 232.5h5m-2.5-2.5v5M272 233.5h5m-2.5-2.5v5M273 233.5h5m-2.5-2.5v5M273 231.5h5m-2.5-2.5v5M272 229.5h5m-2.5-2.5v5M273 232.5h5m-2.5-2.5v5M273 228.5h5m-2.5-2.5v5M273 227.5h5m-2.5-2.5v5M274 227.5h5m-2.5-2.5v5M274 230.5h5m-2.5-2.5v5M273 230.5h5m-2.5-2.5v5M274 233.5h5m-2.5-2.5v5M274 235.5h5m-2.5-2.5v5M274 238.5h5m-2.5-2.5v5M274 237.5h5m-2.5-2.5v5M274 239.5h5m-2.5-2.5v5M275 241.5h5m-2.5-2.5v5M274 244.5h5m-2.5-2.5v5M275 244.5h5m-2.5-2.5v5M275 243.5h5m-2.5-2.5v5M275 247.5h5m-2.5-2.5v5M275 249.5h5m-2.5-2.5v5M276 252.5h5m-2.5-2.5v5M276 257.5h5m-2.5-2.5v5M276 260.5h5m-2.5-2.5v5M275 262.5h5m-2.5-2.5v5M276 265.5h5m-2.5-2.5v5M276 270.5h5m-2.5-2.5v5M276 272.5h5m-2.5-2.5v5M277 274.5h5m-2.5-2.5v5M277 275.5h5m-2.5-2.5v5M277 280.5h5m-2.5-2.5v5M277 278.5h5m-2.5-2.5v5M277 279.5h5m-2.5-2.5v5M277 286.5h5m-2.5-2.5v5M277 283.5h5m-2.5-2.5v5M278 286.5h5m-2.5-2.5v5M278 285.5h5m-2.5-2.5v5M278 289.5h5m-2.5-2.5v5M278 288.5h5m-2.5-2.5v5M278 290.5h5m-2.5-2.5v5M278 293.5h5m-2.5-2.5v5M278 295.5h5m-2.5-2.5v5M279 295.5h5m-2.5-2.5v5M279 294.5h5m-2.5-2.5v5M279 297.5h5m-2.5-2.5v5M279 299.5h5m-2.5-2.5v5M279 301.5h5m-2.5-2.5v5M279 302.5h5m-2.5-2.5v5M279 305.5h5m-2.5-2.5v5M279 306.5h5m-2.5-2.5v5M279 307.5h5m-2.5-2.5v5M280 303.5h5m-2.5-2.5v5M280 305.5h5m-2.5-2.5v5M280 307.5h5m-2.5-2.5v5M280 304.5h5m-2.5-2.5v5M280 302.5h5m-2.5-2.5v5M280 301.5h5m-2.5-2.5v5M280 300.5h5m-2.5-2.5v5M280 299.5h5m-2.5-2.5v5M281 298.5h5m-2.5-2.5v5M281 296.5h5m-2.5-2.5v5M281 297.5h5m-2.5-2.5v5M281 293.5h5m-2.5-2.5v5M281 290.5h5m-2.5-2.5v5M281 291.5h5m-2.5-2.5v5M281 288.5h5m-2.5-2.5v5M281 286.5h5m-2.5-2.5v5M281 285.5h5m-2.5-2.5v5M282 286.5h5m-2.5-2.5v5M282 269.5h5m-2.5-2.5v5M282 275.5h5m-2.5-2.5v5M283 261.5h5m-2.5-2.5v5M282 263.5h5m-2.5-2.5v5M282 267.5h5m-2.5-2.5v5M283 254.5h5m-2.5-2.5v5M283 238.5h5m-2.5-2.5v5M283 245.5h5m-2.5-2.5v5M283 251.5h5m-2.5-2.5v5M283 240.5h5m-2.5-2.5v5M284 217.5h5m-2.5-2.5v5M283 234.5h5m-2.5-2.5v5M283 227.5h5m-2.5-2.5v5M283 229.5h5m-2.5-2.5v5M284 214.5h5m-2.5-2.5v5M283 224.5h5m-2.5-2.5v5M284 215.5h5m-2.5-2.5v5M284 207.5h5m-2.5-2.5v5M284 204.5h5m-2.5-2.5v5M284 199.5h5m-2.5-2.5v5M284 196.5h5m-2.5-2.5v5M283 215.5h5m-2.5-2.5v5M285 185.5h5m-2.5-2.5v5M285 187.5h5m-2.5-2.5v5M285 179.5h5m-2.5-2.5v5M284 192.5h5m-2.5-2.5v5M285 175.5h5m-2.5-2.5v5M285 182.5h5m-2.5-2.5v5M285 180.5h5m-2.5-2.5v5M286 179.5h5m-2.5-2.5v5M285 178.5h5m-2.5-2.5v5M286 182.5h5m-2.5-2.5v5M286 181.5h5m-2.5-2.5v5M286 180.5h5m-2.5-2.5v5M287 183.5h5m-2.5-2.5v5M287 187.5h5m-2.5-2.5v5M287 186.5h5m-2.5-2.5v5M287 184.5h5m-2.5-2.5v5M288 187.5h5m-2.5-2.5v5M288 184.5h5m-2.5-2.5v5M288 185.5h5m-2.5-2.5v5M288 186.5h5m-2.5-2.5v5M289 187.5h5m-2.5-2.5v5M289 185.5h5m-2.5-2.5v5M289 182.5h5m-2.5-2.5v5M289 181.5h5m-2.5-2.5v5M289 179.5h5m-2.5-2.5v5M289 176.5h5m-2.5-2.5v5M289 174.5h5m-2.5-2.5v5M290 174.5h5m-2.5-2.5v5M289 173.5h5m-2.5-2.5v5M291 176.5h5m-2.5-2.5v5M290 178.5h5m-2.5-2.5v5M290 177.5h5m-2.5-2.5v5M290 176.5h5m-2.5-2.5v5M291 178.5h5m-2.5-2.5v5M291 177.5h5m-2.5-2.5v5M291 180.5h5m-2.5-2.5v5M291 175.5h5m-2.5-2.5v5M292 177.5h5m-2.5-2.5v5M292 174.5h5m-2.5-2.5v5M292 176.5h5m-2.5-2.5v5M292 179.5h5m-2.5-2.5v5M292 180.5h5m-2.5-2.5v5M292 178.5h5m-2.5-2.5v5M292 182.5h5m-2.5-2.5v5M292 183.5h5m-2.5-2.5v5M293 184.5h5m-2.5-2.5v5M293 187.5h5m-2.5-2.5v5M293 186.5h5m-2.5-2.5v5M293 189.5h5m-2.5-2.5v5M293 188.5h5m-2.5-2.5v5M294 189.5h5m-2.5-2.5v5M294 188.5h5m-2.5-2.5v5M294 187.5h5m-2.5-2.5v5M294 190.5h5m-2.5-2.5v5M294 192.5h5m-2.5-2.5v5M295 191.5h5m-2.5-2.5v5M295 193.5h5m-2.5-2.5v5M294 195.5h5m-2.5-2.5v5M294 193.5h5m-2.5-2.5v5M295 192.5h5m-2.5-2.5v5M295 195.5h5m-2.5-2.5v5M295 198.5h5m-2.5-2.5v5M295 201.5h5m-2.5-2.5v5M296 200.5h5m-2.5-2.5v5M296 201.5h5m-2.5-2.5v5M296 203.5h5m-2.5-2.5v5M296 202.5h5m-2.5-2.5v5M296 204.5h5m-2.5-2.5v5M296 205.5h5m-2.5-2.5v5M296 209.5h5m-2.5-2.5v5M296 211.5h5m-2.5-2.5v5M297 211.5h5m-2.5-2.5v5M297 212.5h5m-2.5-2.5v5M297 210.5h5m-2.5-2.5v5M297 209.5h5m-2.5-2.5v5M298 212.5h5m-2.5-2.5v5M297 213.5h5m-2.5-2.5v5M298 211.5h5m-2.5-2.5v5M298 213.5h5m-2.5-2.5v5M298 208.5h5m-2.5-2.5v5M298 210.5h5m-2.5-2.5v5M299 210.5h5m-2.5-2.5v5M299 213.5h5m-2.5-2.5v5M299 212.5h5m-2.5-2.5v5M299 208.5h5m-2.5-2.5v5M299 209.5h5m-2.5-2.5v5M299 206.5h5m-2.5-2.5v5M299 207.5h5m-2.5-2.5v5M300 208.5h5m-2.5-2.5v5M300 207.5h5m-2.5-2.5v5M300 205.5h5m-2.5-2.5v5M300 204.5h5m-2.5-2.5v5M300 206.5h5m-2.5-2.5v5M300 200.5h5m-2.5-2.5v5M300 203.5h5m-2.5-2.5v5M300 202.5h5m-2.5-2.5v5M300 199.5h5m-2.5-2.5v5M301 197.5h5m-2.5-2.5v5M301 195.5h5m-2.5-2.5v5M300 195.5h5m-2.5-2.5v5M301 191.5h5m-2.5-2.5v5M301 192.5h5m-2.5-2.5v5M302 193.5h5m-2.5-2.5v5M301 193.5h5m-2.5-2.5v5M302 194.5h5m-2.5-2.5v5M302 196.5h5m-2.5-2.5v5M302 195.5h5m-2.5-2.5v5M302 190.5h5m-2.5-2.5v5M303 187.5h5m-2.5-2.5v5M302 188.5h5m-2.5-2.5v5M303 191.5h5m-2.5-2.5v5M303 194.5h5m-2.5-2.5v5M303 196.5h5m-2.5-2.5v5M303 195.5h5m-2.5-2.5v5M304 197.5h5m-2.5-2.5v5M303 198.5h5m-2.5-2.5v5M304 201.5h5m-2.5-2.5v5M303 202.5h5m-2.5-2.5v5M304 200.5h5m-2.5-2.5v5M304 203.5h5m-2.5-2.5v5M305 207.5h5m-2.5-2.5v5M304 208.5h5m-2.5-2.5v5M304 212.5h5m-2.5-2.5v5M304 217.5h5m-2.5-2.5v5M304 218.5h5m-2.5-2.5v5M305 216.5h5m-2.5-2.5v5M305 217.5h5m-2.5-2.5v5M305 219.5h5m-2.5-2.5v5M305 218.5h5m-2.5-2.5v5M306 217.5h5m-2.5-2.5v5M306 216.5h5m-2.5-2.5v5M306 215.5h5m-2.5-2.5v5M305 211.5h5m-2.5-2.5v5M306 209.5h5m-2.5-2.5v5M306 207.5h5m-2.5-2.5v5M306 208.5h5m-2.5-2.5v5M307 206.5h5m-2.5-2.5v5M307 205.5h5m-2.5-2.5v5M307 203.5h5m-2.5-2.5v5M307 202.5h5m-2.5-2.5v5M307 200.5h5m-2.5-2.5v5M307 199.5h5m-2.5-2.5v5M307 197.5h5m-2.5-2.5v5M308 196.5h5m-2.5-2.5v5M308 198.5h5m-2.5-2.5v5M308 194.5h5m-2.5-2.5v5M308 190.5h5m-2.5-2.5v5M309 189.5h5m-2.5-2.5v5M309 183.5h5m-2.5-2.5v5M308 185.5h5m-2.5-2.5v5M308 186.5h5m-2.5-2.5v5M309 181.5h5m-2.5-2.5v5M309 179.5h5m-2.5-2.5v5M309 180.5h5m-2.5-2.5v5M309 176.5h5m-2.5-2.5v5M310 175.5h5m-2.5-2.5v5M310 173.5h5m-2.5-2.5v5M309 175.5h5m-2.5-2.5v5M310 174.5h5m-2.5-2.5v5M310 172.5h5m-2.5-2.5v5M310 178.5h5m-2.5-2.5v5M310 179.5h5m-2.5-2.5v5M311 178.5h5m-2.5-2.5v5M311 180.5h5m-2.5-2.5v5M311 184.5h5m-2.5-2.5v5M312 182.5h5m-2.5-2.5v5M312 181.5h5m-2.5-2.5v5M311 186.5h5m-2.5-2.5v5M311 185.5h5m-2.5-2.5v5M312 183.5h5m-2.5-2.5v5M312 184.5h5m-2.5-2.5v5M312 185.5h5m-2.5-2.5v5M312 186.5h5m-2.5-2.5v5M312 188.5h5m-2.5-2.5v5M312 187.5h5m-2.5-2.5v5M313 190.5h5m-2.5-2.5v5M313 191.5h5m-2.5-2.5v5M313 192.5h5m-2.5-2.5v5M312 192.5h5m-2.5-2.5v5M313 193.5h5m-2.5-2.5v5M314 190.5h5m-2.5-2.5v5M313 194.5h5m-2.5-2.5v5M314 193.5h5m-2.5-2.5v5M313 197.5h5m-2.5-2.5v5M314 198.5h5m-2.5-2.5v5M314 196.5h5m-2.5-2.5v5M314 194.5h5m-2.5-2.5v5M314 197.5h5m-2.5-2.5v5M315 201.5h5m-2.5-2.5v5M315 199.5h5m-2.5-2.5v5M315 202.5h5m-2.5-2.5v5M314 202.5h5m-2.5-2.5v5M314 200.5h5m-2.5-2.5v5M315 200.5h5m-2.5-2.5v5M315 198.5h5m-2.5-2.5v5M316 201.5h5m-2.5-2.5v5M316 200.5h5m-2.5-2.5v5M316 199.5h5m-2.5-2.5v5M316 196.5h5m-2.5-2.5v5M317 195.5h5m-2.5-2.5v5M317 193.5h5m-2.5-2.5v5M316 192.5h5m-2.5-2.5v5M317 191.5h5m-2.5-2.5v5M317 190.5h5m-2.5-2.5v5M317 192.5h5m-2.5-2.5v5M318 193.5h5m-2.5-2.5v5M317 194.5h5m-2.5-2.5v5M318 191.5h5m-2.5-2.5v5M318 190.5h5m-2.5-2.5v5M319 192.5h5m-2.5-2.5v5M318 192.5h5m-2.5-2.5v5M319 195.5h5m-2.5-2.5v5M319 191.5h5m-2.5-2.5v5M319 193.5h5m-2.5-2.5v5M320 191.5h5m-2.5-2.5v5M320 193.5h5m-2.5-2.5v5M320 195.5h5m-2.5-2.5v5M320 197.5h5m-2.5-2.5v5M320 198.5h5m-2.5-2.5v5M320 196.5h5m-2.5-2.5v5M320 201.5h5m-2.5-2.5v5M320 204.5h5m-2.5-2.5v5M320 205.5h5m-2.5-2.5v5M320 209.5h5m-2.5-2.5v5M320 213.5h5m-2.5-2.5v5M320 215.5h5m-2.5-2.5v5M321 216.5h5m-2.5-2.5v5M321 220.5h5m-2.5-2.5v5M321 223.5h5m-2.5-2.5v5M321 227.5h5m-2.5-2.5v5M321 229.5h5m-2.5-2.5v5M321 233.5h5m-2.5-2.5v5M321 237.5h5m-2.5-2.5v5M321 242.5h5m-2.5-2.5v5M322 241.5h5m-2.5-2.5v5M321 244.5h5m-2.5-2.5v5M321 240.5h5m-2.5-2.5v5M322 240.5h5m-2.5-2.5v5M322 242.5h5m-2.5-2.5v5M322 239.5h5m-2.5-2.5v5M322 238.5h5m-2.5-2.5v5M323 236.5h5m-2.5-2.5v5M322 234.5h5m-2.5-2.5v5M323 238.5h5m-2.5-2.5v5M323 235.5h5m-2.5-2.5v5M323 233.5h5m-2.5-2.5v5M324 233.5h5m-2.5-2.5v5M324 235.5h5m-2.5-2.5v5M324 232.5h5m-2.5-2.5v5M324 229.5h5m-2.5-2.5v5M324 228.5h5m-2.5-2.5v5M324 230.5h5m-2.5-2.5v5M324 227.5h5m-2.5-2.5v5M324 226.5h5m-2.5-2.5v5M324 223.5h5m-2.5-2.5v5M324 222.5h5m-2.5-2.5v5M325 218.5h5m-2.5-2.5v5M324 218.5h5m-2.5-2.5v5M325 214.5h5m-2.5-2.5v5M325 217.5h5m-2.5-2.5v5M325 212.5h5m-2.5-2.5v5M325 213.5h5m-2.5-2.5v5M325 215.5h5m-2.5-2.5v5M326 215.5h5m-2.5-2.5v5M326 213.5h5m-2.5-2.5v5M326 211.5h5m-2.5-2.5v5M326 209.5h5m-2.5-2.5v5M326 207.5h5m-2.5-2.5v5M326 206.5h5m-2.5-2.5v5M326 205.5h5m-2.5-2.5v5M327 203.5h5m-2.5-2.5v5M327 204.5h5m-2.5-2.5v5M327 202.5h5m-2.5-2.5v5M327 201.5h5m-2.5-2.5v5M327 199.5h5m-2.5-2.5v5M326 202.5h5m-2.5-2.5v5M327 205.5h5m-2.5-2.5v5M328 204.5h5m-2.5-2.5v5M328 201.5h5m-2.5-2.5v5M328 199.5h5m-2.5-2.5v5M328 203.5h5m-2.5-2.5v5M328 200.5h5m-2.5-2.5v5M329 200.5h5m-2.5-2.5v5M329 199.5h5m-2.5-2.5v5M329 196.5h5m-2.5-2.5v5M329 198.5h5m-2.5-2.5v5M329 197.5h5m-2.5-2.5v5M330 200.5h5m-2.5-2.5v5M330 202.5h5m-2.5-2.5v5M330 203.5h5m-2.5-2.5v5M330 204.5h5m-2.5-2.5v5M331 202.5h5m-2.5-2.5v5M331 201.5h5m-2.5-2.5v5M331 204.5h5m-2.5-2.5v5M331 208.5h5m-2.5-2.5v5M331 205.5h5m-2.5-2.5v5M331 206.5h5m-2.5-2.5v5M332 209.5h5m-2.5-2.5v5M331 209.5h5m-2.5-2.5v5M332 207.5h5m-2.5-2.5v5M332 208.5h5m-2.5-2.5v5M332 210.5h5m-2.5-2.5v5M332 213.5h5m-2.5-2.5v5M332 212.5h5m-2.5-2.5v5M333 218.5h5m-2.5-2.5v5M332 218.5h5m-2.5-2.5v5M333 220.5h5m-2.5-2.5v5M333 221.5h5m-2.5-2.5v5M333 222.5h5m-2.5-2.5v5M334 226.5h5m-2.5-2.5v5M333 228.5h5m-2.5-2.5v5M334 229.5h5m-2.5-2.5v5M334 231.5h5m-2.5-2.5v5M334 232.5h5m-2.5-2.5v5M334 228.5h5m-2.5-2.5v5M334 225.5h5m-2.5-2.5v5M334 223.5h5m-2.5-2.5v5M334 222.5h5m-2.5-2.5v5M335 223.5h5m-2.5-2.5v5M334 219.5h5m-2.5-2.5v5M335 217.5h5m-2.5-2.5v5M335 216.5h5m-2.5-2.5v5M335 215.5h5m-2.5-2.5v5M335 212.5h5m-2.5-2.5v5M335 208.5h5m-2.5-2.5v5M335 207.5h5m-2.5-2.5v5M335 203.5h5m-2.5-2.5v5M336 203.5h5m-2.5-2.5v5M335 202.5h5m-2.5-2.5v5M336 198.5h5m-2.5-2.5v5M336 195.5h5m-2.5-2.5v5M336 193.5h5m-2.5-2.5v5M336 192.5h5m-2.5-2.5v5M337 191.5h5m-2.5-2.5v5M337 188.5h5m-2.5-2.5v5M337 187.5h5m-2.5-2.5v5M336 185.5h5m-2.5-2.5v5M337 186.5h5m-2.5-2.5v5M337 182.5h5m-2.5-2.5v5M337 181.5h5m-2.5-2.5v5M337 180.5h5m-2.5-2.5v5M337 177.5h5m-2.5-2.5v5M338 177.5h5m-2.5-2.5v5M338 176.5h5m-2.5-2.5v5M338 175.5h5m-2.5-2.5v5M338 173.5h5m-2.5-2.5v5M338 171.5h5m-2.5-2.5v5M338 170.5h5m-2.5-2.5v5M338 172.5h5m-2.5-2.5v5M339 169.5h5m-2.5-2.5v5M338 168.5h5m-2.5-2.5v5M339 166.5h5m-2.5-2.5v5M339 168.5h5m-2.5-2.5v5M339 171.5h5m-2.5-2.5v5M340 172.5h5m-2.5-2.5v5M339 173.5h5m-2.5-2.5v5M339 172.5h5m-2.5-2.5v5M339 174.5h5m-2.5-2.5v5M340 174.5h5m-2.5-2.5v5M340 175.5h5m-2.5-2.5v5M340 177.5h5m-2.5-2.5v5M340 178.5h5m-2.5-2.5v5M341 177.5h5m-2.5-2.5v5M341 178.5h5m-2.5-2.5v5M341 179.5h5m-2.5-2.5v5M341 181.5h5m-2.5-2.5v5M341 183.5h5m-2.5-2.5v5M341 185.5h5m-2.5-2.5v5M341 186.5h5m-2.5-2.5v5M342 188.5h5m-2.5-2.5v5M342 183.5h5m-2.5-2.5v5M341 189.5h5m-2.5-2.5v5M342 189.5h5m-2.5-2.5v5M342 190.5h5m-2.5-2.5v5M342 191.5h5m-2.5-2.5v5M342 193.5h5m-2.5-2.5v5M343 194.5h5m-2.5-2.5v5M343 195.5h5m-2.5-2.5v5M342 196.5h5m-2.5-2.5v5M342 199.5h5m-2.5-2.5v5M343 201.5h5m-2.5-2.5v5M343 202.5h5m-2.5-2.5v5M343 199.5h5m-2.5-2.5v5M343 200.5h5m-2.5-2.5v5M343 197.5h5m-2.5-2.5v5M344 199.5h5m-2.5-2.5v5M344 200.5h5m-2.5-2.5v5M345 200.5h5m-2.5-2.5v5M344 201.5h5m-2.5-2.5v5M345 199.5h5m-2.5-2.5v5M345 196.5h5m-2.5-2.5v5M345 197.5h5m-2.5-2.5v5M345 198.5h5m-2.5-2.5v5M346 197.5h5m-2.5-2.5v5M346 201.5h5m-2.5-2.5v5M346 200.5h5m-2.5-2.5v5M346 199.5h5m-2.5-2.5v5M346 198.5h5m-2.5-2.5v5M347 195.5h5m-2.5-2.5v5M347 198.5h5m-2.5-2.5v5M347 196.5h5m-2.5-2.5v5M347 197.5h5m-2.5-2.5v5M348 197.5h5m-2.5-2.5v5M348 199.5h5m-2.5-2.5v5M348 200.5h5m-2.5-2.5v5M348 198.5h5m-2.5-2.5v5M349 197.5h5m-2.5-2.5v5M348 195.5h5m-2.5-2.5v5M348 196.5h5m-2.5-2.5v5M349 194.5h5m-2.5-2.5v5M349 199.5h5m-2.5-2.5v5M349 201.5h5m-2.5-2.5v5M349 202.5h5m-2.5-2.5v5M350 198.5h5m-2.5-2.5v5M349 198.5h5m-2.5-2.5v5M350 200.5h5m-2.5-2.5v5M350 206.5h5m-2.5-2.5v5M350 207.5h5m-2.5-2.5v5M350 209.5h5m-2.5-2.5v5M351 208.5h5m-2.5-2.5v5M350 210.5h5m-2.5-2.5v5M351 209.5h5m-2.5-2.5v5M351 210.5h5m-2.5-2.5v5M351 215.5h5m-2.5-2.5v5M351 214.5h5m-2.5-2.5v5M351 217.5h5m-2.5-2.5v5M352 217.5h5m-2.5-2.5v5M352 222.5h5m-2.5-2.5v5M351 221.5h5m-2.5-2.5v5M352 223.5h5m-2.5-2.5v5M352 224.5h5m-2.5-2.5v5M352 226.5h5m-2.5-2.5v5M352 230.5h5m-2.5-2.5v5M352 231.5h5m-2.5-2.5v5M352 233.5h5m-2.5-2.5v5M352 234.5h5m-2.5-2.5v5M353 238.5h5m-2.5-2.5v5M352 238.5h5m-2.5-2.5v5M353 239.5h5m-2.5-2.5v5M353 240.5h5m-2.5-2.5v5M353 241.5h5m-2.5-2.5v5M353 236.5h5m-2.5-2.5v5M354 236.5h5m-2.5-2.5v5M353 233.5h5m-2.5-2.5v5M353 234.5h5m-2.5-2.5v5M354 231.5h5m-2.5-2.5v5M354 229.5h5m-2.5-2.5v5M353 226.5h5m-2.5-2.5v5M354 227.5h5m-2.5-2.5v5M354 226.5h5m-2.5-2.5v5M354 222.5h5m-2.5-2.5v5M354 218.5h5m-2.5-2.5v5M354 216.5h5m-2.5-2.5v5M355 213.5h5m-2.5-2.5v5M354 212.5h5m-2.5-2.5v5M355 210.5h5m-2.5-2.5v5M355 208.5h5m-2.5-2.5v5M355 204.5h5m-2.5-2.5v5M355 199.5h5m-2.5-2.5v5M355 198.5h5m-2.5-2.5v5M355 196.5h5m-2.5-2.5v5M355 193.5h5m-2.5-2.5v5M355 195.5h5m-2.5-2.5v5M356 189.5h5m-2.5-2.5v5M355 186.5h5m-2.5-2.5v5M356 187.5h5m-2.5-2.5v5M356 186.5h5m-2.5-2.5v5M356 184.5h5m-2.5-2.5v5M356 183.5h5m-2.5-2.5v5M357 184.5h5m-2.5-2.5v5M357 179.5h5m-2.5-2.5v5M356 182.5h5m-2.5-2.5v5M356 180.5h5m-2.5-2.5v5M357 180.5h5m-2.5-2.5v5M357 176.5h5m-2.5-2.5v5M357 174.5h5m-2.5-2.5v5M357 172.5h5m-2.5-2.5v5M358 175.5h5m-2.5-2.5v5M358 172.5h5m-2.5-2.5v5M358 170.5h5m-2.5-2.5v5M358 173.5h5m-2.5-2.5v5M358 174.5h5m-2.5-2.5v5M359 173.5h5m-2.5-2.5v5M358 171.5h5m-2.5-2.5v5M359 174.5h5m-2.5-2.5v5M359 177.5h5m-2.5-2.5v5M359 176.5h5m-2.5-2.5v5M360 175.5h5m-2.5-2.5v5M360 176.5h5m-2.5-2.5v5M360 177.5h5m-2.5-2.5v5M359 178.5h5m-2.5-2.5v5M360 182.5h5m-2.5-2.5v5M360 184.5h5m-2.5-2.5v5M360 183.5h5m-2.5-2.5v5M360 185.5h5m-2.5-2.5v5M360 186.5h5m-2.5-2.5v5M361 185.5h5m-2.5-2.5v5M361 186.5h5m-2.5-2.5v5M361 187.5h5m-2.5-2.5v5M361 190.5h5m-2.5-2.5v5M362 187.5h5m-2.5-2.5v5M362 185.5h5m-2.5-2.5v5M362 186.5h5m-2.5-2.5v5M362 188.5h5m-2.5-2.5v5M362 190.5h5m-2.5-2.5v5M362 191.5h5m-2.5-2.5v5M363 187.5h5m-2.5-2.5v5M363 186.5h5m-2.5-2.5v5M363 188.5h5m-2.5-2.5v5M363 185.5h5m-2.5-2.5v5M363 189.5h5m-2.5-2.5v5M364 191.5h5m-2.5-2.5v5M363 191.5h5m-2.5-2.5v5M363 190.5h5m-2.5-2.5v5M364 188.5h5m-2.5-2.5v5M364 190.5h5m-2.5-2.5v5M364 189.5h5m-2.5-2.5v5M364 192.5h5m-2.5-2.5v5M365 192.5h5m-2.5-2.5v5M365 191.5h5m-2.5-2.5v5M365 194.5h5m-2.5-2.5v5M366 197.5h5m-2.5-2.5v5M365 198.5h5m-2.5-2.5v5M366 196.5h5m-2.5-2.5v5M365 199.5h5m-2.5-2.5v5M366 194.5h5m-2.5-2.5v5M366 198.5h5m-2.5-2.5v5M367 202.5h5m-2.5-2.5v5M367 204.5h5m-2.5-2.5v5M367 205.5h5m-2.5-2.5v5M367 206.5h5m-2.5-2.5v5M367 208.5h5m-2.5-2.5v5M367 209.5h5m-2.5-2.5v5M368 210.5h5m-2.5-2.5v5M368 209.5h5m-2.5-2.5v5M368 212.5h5m-2.5-2.5v5M368 214.5h5m-2.5-2.5v5M369 215.5h5m-2.5-2.5v5M368 215.5h5m-2.5-2.5v5M369 216.5h5m-2.5-2.5v5M369 214.5h5m-2.5-2.5v5M369 219.5h5m-2.5-2.5v5M369 224.5h5m-2.5-2.5v5M369 225.5h5m-2.5-2.5v5M370 226.5h5m-2.5-2.5v5M370 228.5h5m-2.5-2.5v5M370 229.5h5m-2.5-2.5v5M370 233.5h5m-2.5-2.5v5M370 234.5h5m-2.5-2.5v5M371 235.5h5m-2.5-2.5v5M370 235.5h5m-2.5-2.5v5M370 239.5h5m-2.5-2.5v5M370 238.5h5m-2.5-2.5v5M371 238.5h5m-2.5-2.5v5M371 236.5h5m-2.5-2.5v5M371 237.5h5m-2.5-2.5v5M371 234.5h5m-2.5-2.5v5M371 232.5h5m-2.5-2.5v5M371 231.5h5m-2.5-2.5v5M372 231.5h5m-2.5-2.5v5M371 230.5h5m-2.5-2.5v5M372 230.5h5m-2.5-2.5v5M372 227.5h5m-2.5-2.5v5M372 226.5h5m-2.5-2.5v5M372 221.5h5m-2.5-2.5v5M373 221.5h5m-2.5-2.5v5M373 219.5h5m-2.5-2.5v5M372 219.5h5m-2.5-2.5v5M373 218.5h5m-2.5-2.5v5M373 217.5h5m-2.5-2.5v5M373 215.5h5m-2.5-2.5v5M373 212.5h5m-2.5-2.5v5M373 211.5h5m-2.5-2.5v5M374 209.5h5m-2.5-2.5v5M374 207.5h5m-2.5-2.5v5M374 208.5h5m-2.5-2.5v5M374 204.5h5m-2.5-2.5v5M375 200.5h5m-2.5-2.5v5M374 202.5h5m-2.5-2.5v5M374 198.5h5m-2.5-2.5v5M374 197.5h5m-2.5-2.5v5M375 197.5h5m-2.5-2.5v5M375 193.5h5m-2.5-2.5v5M375 192.5h5m-2.5-2.5v5M375 194.5h5m-2.5-2.5v5M376 194.5h5m-2.5-2.5v5M375 196.5h5m-2.5-2.5v5M376 195.5h5m-2.5-2.5v5M376 192.5h5m-2.5-2.5v5M376 193.5h5m-2.5-2.5v5M376 191.5h5m-2.5-2.5v5M376 190.5h5m-2.5-2.5v5M377 192.5h5m-2.5-2.5v5M377 193.5h5m-2.5-2.5v5M377 191.5h5m-2.5-2.5v5M378 193.5h5m-2.5-2.5v5M377 194.5h5m-2.5-2.5v5M378 195.5h5m-2.5-2.5v5M377 197.5h5m-2.5-2.5v5M378 197.5h5m-2.5-2.5v5M378 198.5h5m-2.5-2.5v5M379 199.5h5m-2.5-2.5v5M378 199.5h5m-2.5-2.5v5M378 201.5h5m-2.5-2.5v5M379 197.5h5m-2.5-2.5v5M379 200.5h5m-2.5-2.5v5M379 205.5h5m-2.5-2.5v5M379 206.5h5m-2.5-2.5v5M380 208.5h5m-2.5-2.5v5M379 213.5h5m-2.5-2.5v5M380 212.5h5m-2.5-2.5v5M380 217.5h5m-2.5-2.5v5M380 222.5h5m-2.5-2.5v5M380 218.5h5m-2.5-2.5v5M380 220.5h5m-2.5-2.5v5M380 216.5h5m-2.5-2.5v5M380 214.5h5m-2.5-2.5v5M381 212.5h5m-2.5-2.5v5M381 211.5h5m-2.5-2.5v5M381 209.5h5m-2.5-2.5v5M381 207.5h5m-2.5-2.5v5M381 205.5h5m-2.5-2.5v5M381 206.5h5m-2.5-2.5v5M381 201.5h5m-2.5-2.5v5M382 200.5h5m-2.5-2.5v5M381 196.5h5m-2.5-2.5v5M381 195.5h5m-2.5-2.5v5M381 194.5h5m-2.5-2.5v5M382 196.5h5m-2.5-2.5v5M382 195.5h5m-2.5-2.5v5M382 197.5h5m-2.5-2.5v5M382 194.5h5m-2.5-2.5v5M383 194.5h5m-2.5-2.5v5M383 192.5h5m-2.5-2.5v5M383 193.5h5m-2.5-2.5v5M382 193.5h5m-2.5-2.5v5M383 190.5h5m-2.5-2.5v5M383 189.5h5m-2.5-2.5v5M383 188.5h5m-2.5-2.5v5M384 189.5h5m-2.5-2.5v5M384 191.5h5m-2.5-2.5v5M384 192.5h5m-2.5-2.5v5M384 190.5h5m-2.5-2.5v5M384 193.5h5m-2.5-2.5v5M385 193.5h5m-2.5-2.5v5M385 194.5h5m-2.5-2.5v5M385 196.5h5m-2.5-2.5v5M385 195.5h5m-2.5-2.5v5M385 200.5h5m-2.5-2.5v5M386 203.5h5m-2.5-2.5v5M386 206.5h5m-2.5-2.5v5M385 208.5h5m-2.5-2.5v5M386 207.5h5m-2.5-2.5v5M386 209.5h5m-2.5-2.5v5M386 210.5h5m-2.5-2.5v5M386 211.5h5m-2.5-2.5v5M386 215.5h5m-2.5-2.5v5M387 218.5h5m-2.5-2.5v5M387 220.5h5m-2.5-2.5v5M386 220.5h5m-2.5-2.5v5M386 224.5h5m-2.5-2.5v5M387 225.5h5m-2.5-2.5v5M387 227.5h5m-2.5-2.5v5M387 228.5h5m-2.5-2.5v5M388 230.5h5m-2.5-2.5v5M388 228.5h5m-2.5-2.5v5M388 234.5h5m-2.5-2.5v5M387 233.5h5m-2.5-2.5v5M388 233.5h5m-2.5-2.5v5M388 237.5h5m-2.5-2.5v5M388 239.5h5m-2.5-2.5v5M388 241.5h5m-2.5-2.5v5M388 245.5h5m-2.5-2.5v5M388 244.5h5m-2.5-2.5v5M389 247.5h5m-2.5-2.5v5M389 246.5h5m-2.5-2.5v5M389 245.5h5m-2.5-2.5v5M389 243.5h5m-2.5-2.5v5M389 242.5h5m-2.5-2.5v5M389 240.5h5m-2.5-2.5v5M390 236.5h5m-2.5-2.5v5M389 235.5h5m-2.5-2.5v5M390 231.5h5m-2.5-2.5v5M390 228.5h5m-2.5-2.5v5M390 229.5h5m-2.5-2.5v5M390 227.5h5m-2.5-2.5v5M390 226.5h5m-2.5-2.5v5M391 223.5h5m-2.5-2.5v5M391 221.5h5m-2.5-2.5v5M391 220.5h5m-2.5-2.5v5M391 219.5h5m-2.5-2.5v5M391 216.5h5m-2.5-2.5v5M391 214.5h5m-2.5-2.5v5M391 211.5h5m-2.5-2.5v5M391 209.5h5m-2.5-2.5v5M392 210.5h5m-2.5-2.5v5M392 207.5h5m-2.5-2.5v5M392 204.5h5m-2.5-2.5v5M391 203.5h5m-2.5-2.5v5M392 203.5h5m-2.5-2.5v5M392 200.5h5m-2.5-2.5v5M393 196.5h5m-2.5-2.5v5M392 194.5h5m-2.5-2.5v5M393 195.5h5m-2.5-2.5v5M393 193.5h5m-2.5-2.5v5M393 192.5h5m-2.5-2.5v5M393 191.5h5m-2.5-2.5v5M393 188.5h5m-2.5-2.5v5M393 186.5h5m-2.5-2.5v5M393 185.5h5m-2.5-2.5v5M394 183.5h5m-2.5-2.5v5M394 179.5h5m-2.5-2.5v5M394 181.5h5m-2.5-2.5v5M394 180.5h5m-2.5-2.5v5M394 178.5h5m-2.5-2.5v5M394 176.5h5m-2.5-2.5v5M394 177.5h5m-2.5-2.5v5M395 173.5h5m-2.5-2.5v5M394 173.5h5m-2.5-2.5v5M394 168.5h5m-2.5-2.5v5M394 167.5h5m-2.5-2.5v5M395 166.5h5m-2.5-2.5v5M395 165.5h5m-2.5-2.5v5M395 164.5h5m-2.5-2.5v5M395 167.5h5m-2.5-2.5v5M396 167.5h5m-2.5-2.5v5M396 168.5h5m-2.5-2.5v5M396 170.5h5m-2.5-2.5v5M396 169.5h5m-2.5-2.5v5M396 175.5h5m-2.5-2.5v5M397 178.5h5m-2.5-2.5v5M396 177.5h5m-2.5-2.5v5M397 183.5h5m-2.5-2.5v5M397 182.5h5m-2.5-2.5v5M397 184.5h5m-2.5-2.5v5M397 187.5h5m-2.5-2.5v5M397 185.5h5m-2.5-2.5v5M397 188.5h5m-2.5-2.5v5M398 191.5h5m-2.5-2.5v5M398 193.5h5m-2.5-2.5v5M399 195.5h5m-2.5-2.5v5M399 194.5h5m-2.5-2.5v5M398 196.5h5m-2.5-2.5v5M398 197.5h5m-2.5-2.5v5M399 197.5h5m-2.5-2.5v5M399 198.5h5m-2.5-2.5v5M399 202.5h5m-2.5-2.5v5M399 207.5h5m-2.5-2.5v5M399 206.5h5m-2.5-2.5v5M399 208.5h5m-2.5-2.5v5M400 206.5h5m-2.5-2.5v5M400 205.5h5m-2.5-2.5v5M400 208.5h5m-2.5-2.5v5M400 207.5h5m-2.5-2.5v5M400 210.5h5m-2.5-2.5v5M401 209.5h5m-2.5-2.5v5M401 210.5h5m-2.5-2.5v5M401 207.5h5m-2.5-2.5v5M401 208.5h5m-2.5-2.5v5M401 206.5h5m-2.5-2.5v5M401 205.5h5m-2.5-2.5v5M401 204.5h5m-2.5-2.5v5M402 203.5h5m-2.5-2.5v5M401 201.5h5m-2.5-2.5v5M402 202.5h5m-2.5-2.5v5M402 201.5h5m-2.5-2.5v5M402 198.5h5m-2.5-2.5v5M402 199.5h5m-2.5-2.5v5M402 195.5h5m-2.5-2.5v5M403 196.5h5m-2.5-2.5v5M402 194.5h5m-2.5-2.5v5M403 192.5h5m-2.5-2.5v5M403 191.5h5m-2.5-2.5v5M403 190.5h5m-2.5-2.5v5M403 188.5h5m-2.5-2.5v5M403 189.5h5m-2.5-2.5v5M404 192.5h5m-2.5-2.5v5M404 191.5h5m-2.5-2.5v5M404 190.5h5m-2.5-2.5v5M404 196.5h5m-2.5-2.5v5M404 195.5h5m-2.5-2.5v5M404 194.5h5m-2.5-2.5v5M404 200.5h5m-2.5-2.5v5M405 200.5h5m-2.5-2.5v5M404 199.5h5m-2.5-2.5v5M404 198.5h5m-2.5-2.5v5M405 198.5h5m-2.5-2.5v5M405 197.5h5m-2.5-2.5v5M405 201.5h5m-2.5-2.5v5M405 203.5h5m-2.5-2.5v5M405 206.5h5m-2.5-2.5v5M405 209.5h5m-2.5-2.5v5M406 208.5h5m-2.5-2.5v5M405 208.5h5m-2.5-2.5v5M405 210.5h5m-2.5-2.5v5M406 211.5h5m-2.5-2.5v5M406 212.5h5m-2.5-2.5v5M406 216.5h5m-2.5-2.5v5M406 217.5h5m-2.5-2.5v5M406 220.5h5m-2.5-2.5v5M407 218.5h5m-2.5-2.5v5M407 219.5h5m-2.5-2.5v5M407 221.5h5m-2.5-2.5v5M407 222.5h5m-2.5-2.5v5M407 224.5h5m-2.5-2.5v5M407 225.5h5m-2.5-2.5v5M408 225.5h5m-2.5-2.5v5M407 228.5h5m-2.5-2.5v5M408 231.5h5m-2.5-2.5v5M408 229.5h5m-2.5-2.5v5M408 233.5h5m-2.5-2.5v5M408 236.5h5m-2.5-2.5v5M409 237.5h5m-2.5-2.5v5M409 239.5h5m-2.5-2.5v5M409 236.5h5m-2.5-2.5v5M408 237.5h5m-2.5-2.5v5M409 238.5h5m-2.5-2.5v5M410 233.5h5m-2.5-2.5v5M409 233.5h5m-2.5-2.5v5M409 235.5h5m-2.5-2.5v5M409 232.5h5m-2.5-2.5v5M410 232.5h5m-2.5-2.5v5M410 231.5h5m-2.5-2.5v5M410 228.5h5m-2.5-2.5v5M411 229.5h5m-2.5-2.5v5M410 226.5h5m-2.5-2.5v5M411 225.5h5m-2.5-2.5v5M411 222.5h5m-2.5-2.5v5M410 221.5h5m-2.5-2.5v5M411 220.5h5m-2.5-2.5v5M411 216.5h5m-2.5-2.5v5M411 217.5h5m-2.5-2.5v5M412 215.5h5m-2.5-2.5v5M411 211.5h5m-2.5-2.5v5M411 210.5h5m-2.5-2.5v5M412 210.5h5m-2.5-2.5v5M411 209.5h5m-2.5-2.5v5M412 209.5h5m-2.5-2.5v5M412 208.5h5m-2.5-2.5v5M412 203.5h5m-2.5-2.5v5M412 200.5h5m-2.5-2.5v5M412 195.5h5m-2.5-2.5v5M413 196.5h5m-2.5-2.5v5M413 194.5h5m-2.5-2.5v5M413 193.5h5m-2.5-2.5v5M413 190.5h5m-2.5-2.5v5M413 188.5h5m-2.5-2.5v5M414 187.5h5m-2.5-2.5v5M413 185.5h5m-2.5-2.5v5M414 185.5h5m-2.5-2.5v5M414 182.5h5m-2.5-2.5v5M414 178.5h5m-2.5-2.5v5M414 176.5h5m-2.5-2.5v5M414 179.5h5m-2.5-2.5v5M415 176.5h5m-2.5-2.5v5M415 180.5h5m-2.5-2.5v5M415 179.5h5m-2.5-2.5v5M415 182.5h5m-2.5-2.5v5M415 184.5h5m-2.5-2.5v5M415 183.5h5m-2.5-2.5v5M415 186.5h5m-2.5-2.5v5M416 186.5h5m-2.5-2.5v5M416 187.5h5m-2.5-2.5v5M416 191.5h5m-2.5-2.5v5M416 188.5h5m-2.5-2.5v5M416 192.5h5m-2.5-2.5v5M416 194.5h5m-2.5-2.5v5M416 196.5h5m-2.5-2.5v5M417 198.5h5m-2.5-2.5v5M417 199.5h5m-2.5-2.5v5M417 197.5h5m-2.5-2.5v5M417 196.5h5m-2.5-2.5v5M417 200.5h5m-2.5-2.5v5M418 199.5h5m-2.5-2.5v5M418 197.5h5m-2.5-2.5v5M418 196.5h5m-2.5-2.5v5M418 195.5h5m-2.5-2.5v5M418 192.5h5m-2.5-2.5v5M419 194.5h5m-2.5-2.5v5M418 194.5h5m-2.5-2.5v5M419 192.5h5m-2.5-2.5v5M419 188.5h5m-2.5-2.5v5M419 187.5h5m-2.5-2.5v5M420 189.5h5m-2.5-2.5v5M420 187.5h5m-2.5-2.5v5M420 188.5h5m-2.5-2.5v5M420 186.5h5m-2.5-2.5v5M420 185.5h5m-2.5-2.5v5M420 184.5h5m-2.5-2.5v5M421 182.5h5m-2.5-2.5v5M421 183.5h5m-2.5-2.5v5M421 181.5h5m-2.5-2.5v5M421 180.5h5m-2.5-2.5v5M422 180.5h5m-2.5-2.5v5M422 179.5h5m-2.5-2.5v5M422 182.5h5m-2.5-2.5v5M422 183.5h5m-2.5-2.5v5M423 183.5h5m-2.5-2.5v5M423 184.5h5m-2.5-2.5v5M423 187.5h5m-2.5-2.5v5M423 185.5h5m-2.5-2.5v5M423 188.5h5m-2.5-2.5v5M422 190.5h5m-2.5-2.5v5M423 191.5h5m-2.5-2.5v5M423 192.5h5m-2.5-2.5v5M424 195.5h5m-2.5-2.5v5M423 195.5h5m-2.5-2.5v5M424 199.5h5m-2.5-2.5v5M424 200.5h5m-2.5-2.5v5M424 201.5h5m-2.5-2.5v5M424 202.5h5m-2.5-2.5v5M424 203.5h5m-2.5-2.5v5M425 203.5h5m-2.5-2.5v5M424 207.5h5m-2.5-2.5v5M424 209.5h5m-2.5-2.5v5M425 209.5h5m-2.5-2.5v5M425 212.5h5m-2.5-2.5v5M425 214.5h5m-2.5-2.5v5M425 213.5h5m-2.5-2.5v5M425 215.5h5m-2.5-2.5v5M425 216.5h5m-2.5-2.5v5M425 217.5h5m-2.5-2.5v5M426 219.5h5m-2.5-2.5v5M426 220.5h5m-2.5-2.5v5M426 223.5h5m-2.5-2.5v5M426 221.5h5m-2.5-2.5v5M426 225.5h5m-2.5-2.5v5M427 225.5h5m-2.5-2.5v5M427 226.5h5m-2.5-2.5v5M427 228.5h5m-2.5-2.5v5M426 227.5h5m-2.5-2.5v5M427 231.5h5m-2.5-2.5v5M427 229.5h5m-2.5-2.5v5M427 227.5h5m-2.5-2.5v5M428 224.5h5m-2.5-2.5v5M428 221.5h5m-2.5-2.5v5M428 220.5h5m-2.5-2.5v5M428 218.5h5m-2.5-2.5v5M428 215.5h5m-2.5-2.5v5M428 216.5h5m-2.5-2.5v5M429 215.5h5m-2.5-2.5v5M429 213.5h5m-2.5-2.5v5M429 207.5h5m-2.5-2.5v5M429 206.5h5m-2.5-2.5v5M429 208.5h5m-2.5-2.5v5M429 203.5h5m-2.5-2.5v5M429 202.5h5m-2.5-2.5v5M430 200.5h5m-2.5-2.5v5M430 197.5h5m-2.5-2.5v5M430 196.5h5m-2.5-2.5v5M431 195.5h5m-2.5-2.5v5M430 193.5h5m-2.5-2.5v5M430 190.5h5m-2.5-2.5v5M431 193.5h5m-2.5-2.5v5M431 191.5h5m-2.5-2.5v5M431 192.5h5m-2.5-2.5v5M431 189.5h5m-2.5-2.5v5M432 191.5h5m-2.5-2.5v5M432 187.5h5m-2.5-2.5v5M432 188.5h5m-2.5-2.5v5M432 189.5h5m-2.5-2.5v5M432 190.5h5m-2.5-2.5v5M433 188.5h5m-2.5-2.5v5M433 187.5h5m-2.5-2.5v5M433 191.5h5m-2.5-2.5v5M433 190.5h5m-2.5-2.5v5M434 191.5h5m-2.5-2.5v5M434 196.5h5m-2.5-2.5v5M434 197.5h5m-2.5-2.5v5M434 200.5h5m-2.5-2.5v5M435 201.5h5m-2.5-2.5v5M434 205.5h5m-2.5-2.5v5M435 205.5h5m-2.5-2.5v5M435 208.5h5m-2.5-2.5v5M435 207.5h5m-2.5-2.5v5M435 212.5h5m-2.5-2.5v5M435 215.5h5m-2.5-2.5v5M435 216.5h5m-2.5-2.5v5M436 217.5h5m-2.5-2.5v5M436 219.5h5m-2.5-2.5v5M436 221.5h5m-2.5-2.5v5M436 222.5h5m-2.5-2.5v5M436 218.5h5m-2.5-2.5v5M436 216.5h5m-2.5-2.5v5M436 214.5h5m-2.5-2.5v5M437 214.5h5m-2.5-2.5v5M437 213.5h5m-2.5-2.5v5M437 212.5h5m-2.5-2.5v5M437 208.5h5m-2.5-2.5v5M437 211.5h5m-2.5-2.5v5M437 209.5h5m-2.5-2.5v5M438 209.5h5m-2.5-2.5v5M437 205.5h5m-2.5-2.5v5M437 204.5h5m-2.5-2.5v5M438 208.5h5m-2.5-2.5v5M438 206.5h5m-2.5-2.5v5M438 205.5h5m-2.5-2.5v5M438 203.5h5m-2.5-2.5v5M439 201.5h5m-2.5-2.5v5M438 201.5h5m-2.5-2.5v5M438 198.5h5m-2.5-2.5v5M439 196.5h5m-2.5-2.5v5M439 194.5h5m-2.5-2.5v5M439 195.5h5m-2.5-2.5v5M438 197.5h5m-2.5-2.5v5M440 192.5h5m-2.5-2.5v5M440 188.5h5m-2.5-2.5v5M439 191.5h5m-2.5-2.5v5M440 191.5h5m-2.5-2.5v5M440 193.5h5m-2.5-2.5v5M440 195.5h5m-2.5-2.5v5M441 192.5h5m-2.5-2.5v5M440 194.5h5m-2.5-2.5v5M441 194.5h5m-2.5-2.5v5M441 193.5h5m-2.5-2.5v5M441 191.5h5m-2.5-2.5v5M441 195.5h5m-2.5-2.5v5M441 196.5h5m-2.5-2.5v5M442 197.5h5m-2.5-2.5v5M442 195.5h5m-2.5-2.5v5M442 196.5h5m-2.5-2.5v5M442 198.5h5m-2.5-2.5v5M442 200.5h5m-2.5-2.5v5M443 199.5h5m-2.5-2.5v5M442 203.5h5m-2.5-2.5v5M443 200.5h5m-2.5-2.5v5M443 201.5h5m-2.5-2.5v5M443 205.5h5m-2.5-2.5v5M443 207.5h5m-2.5-2.5v5M443 206.5h5m-2.5-2.5v5M443 208.5h5m-2.5-2.5v5M444 210.5h5m-2.5-2.5v5M444 212.5h5m-2.5-2.5v5M444 214.5h5m-2.5-2.5v5M444 215.5h5m-2.5-2.5v5M444 216.5h5m-2.5-2.5v5M444 218.5h5m-2.5-2.5v5M445 222.5h5m-2.5-2.5v5M444 222.5h5m-2.5-2.5v5M445 221.5h5m-2.5-2.5v5M445 223.5h5m-2.5-2.5v5M445 225.5h5m-2.5-2.5v5M445 224.5h5m-2.5-2.5v5M445 229.5h5m-2.5-2.5v5M446 228.5h5m-2.5-2.5v5M445 230.5h5m-2.5-2.5v5M446 236.5h5m-2.5-2.5v5M446 234.5h5m-2.5-2.5v5M446 238.5h5m-2.5-2.5v5M446 241.5h5m-2.5-2.5v5M446 243.5h5m-2.5-2.5v5M446 242.5h5m-2.5-2.5v5M447 246.5h5m-2.5-2.5v5M447 242.5h5m-2.5-2.5v5M447 243.5h5m-2.5-2.5v5M447 241.5h5m-2.5-2.5v5M447 235.5h5m-2.5-2.5v5M447 237.5h5m-2.5-2.5v5M447 234.5h5m-2.5-2.5v5M447 233.5h5m-2.5-2.5v5M448 228.5h5m-2.5-2.5v5M447 227.5h5m-2.5-2.5v5M447 228.5h5m-2.5-2.5v5M448 227.5h5m-2.5-2.5v5M448 225.5h5m-2.5-2.5v5M448 224.5h5m-2.5-2.5v5M448 223.5h5m-2.5-2.5v5M448 218.5h5m-2.5-2.5v5M449 217.5h5m-2.5-2.5v5M448 215.5h5m-2.5-2.5v5M449 214.5h5m-2.5-2.5v5M449 209.5h5m-2.5-2.5v5M449 207.5h5m-2.5-2.5v5M450 204.5h5m-2.5-2.5v5M449 202.5h5m-2.5-2.5v5M449 203.5h5m-2.5-2.5v5M449 200.5h5m-2.5-2.5v5M449 198.5h5m-2.5-2.5v5M450 200.5h5m-2.5-2.5v5M450 201.5h5m-2.5-2.5v5M450 199.5h5m-2.5-2.5v5M450 197.5h5m-2.5-2.5v5M450 195.5h5m-2.5-2.5v5M451 196.5h5m-2.5-2.5v5M450 194.5h5m-2.5-2.5v5M451 195.5h5m-2.5-2.5v5M450 196.5h5m-2.5-2.5v5M451 197.5h5m-2.5-2.5v5M451 198.5h5m-2.5-2.5v5M452 197.5h5m-2.5-2.5v5M452 200.5h5m-2.5-2.5v5M452 199.5h5m-2.5-2.5v5M452 202.5h5m-2.5-2.5v5M452 201.5h5m-2.5-2.5v5M452 205.5h5m-2.5-2.5v5M452 206.5h5m-2.5-2.5v5M452 208.5h5m-2.5-2.5v5M452 209.5h5m-2.5-2.5v5M452 207.5h5m-2.5-2.5v5M453 208.5h5m-2.5-2.5v5M452 210.5h5m-2.5-2.5v5M453 212.5h5m-2.5-2.5v5M453 211.5h5m-2.5-2.5v5M453 214.5h5m-2.5-2.5v5M453 210.5h5m-2.5-2.5v5M454 214.5h5m-2.5-2.5v5M453 213.5h5m-2.5-2.5v5M454 216.5h5m-2.5-2.5v5M454 220.5h5m-2.5-2.5v5M454 215.5h5m-2.5-2.5v5M455 216.5h5m-2.5-2.5v5M454 218.5h5m-2.5-2.5v5M454 221.5h5m-2.5-2.5v5M454 219.5h5m-2.5-2.5v5M455 220.5h5m-2.5-2.5v5M455 219.5h5m-2.5-2.5v5M455 221.5h5m-2.5-2.5v5M455 222.5h5m-2.5-2.5v5M456 220.5h5m-2.5-2.5v5M455 218.5h5m-2.5-2.5v5M456 219.5h5m-2.5-2.5v5M456 216.5h5m-2.5-2.5v5M456 217.5h5m-2.5-2.5v5M456 215.5h5m-2.5-2.5v5M456 214.5h5m-2.5-2.5v5M456 211.5h5m-2.5-2.5v5M456 210.5h5m-2.5-2.5v5M457 207.5h5m-2.5-2.5v5M456 207.5h5m-2.5-2.5v5M457 209.5h5m-2.5-2.5v5M456 208.5h5m-2.5-2.5v5M457 206.5h5m-2.5-2.5v5M457 204.5h5m-2.5-2.5v5M458 204.5h5m-2.5-2.5v5M457 203.5h5m-2.5-2.5v5M457 200.5h5m-2.5-2.5v5M458 195.5h5m-2.5-2.5v5M458 194.5h5m-2.5-2.5v5M458 191.5h5m-2.5-2.5v5M458 190.5h5m-2.5-2.5v5M458 189.5h5m-2.5-2.5v5M458 188.5h5m-2.5-2.5v5M459 191.5h5m-2.5-2.5v5M459 189.5h5m-2.5-2.5v5M458 186.5h5m-2.5-2.5v5M459 186.5h5m-2.5-2.5v5M459 187.5h5m-2.5-2.5v5M460 188.5h5m-2.5-2.5v5M460 186.5h5m-2.5-2.5v5M459 188.5h5m-2.5-2.5v5M460 187.5h5m-2.5-2.5v5M460 189.5h5m-2.5-2.5v5M461 187.5h5m-2.5-2.5v5M460 184.5h5m-2.5-2.5v5M460 185.5h5m-2.5-2.5v5M461 189.5h5m-2.5-2.5v5M461 188.5h5m-2.5-2.5v5M461 192.5h5m-2.5-2.5v5M461 190.5h5m-2.5-2.5v5M461 191.5h5m-2.5-2.5v5M461 195.5h5m-2.5-2.5v5M462 198.5h5m-2.5-2.5v5M461 199.5h5m-2.5-2.5v5M462 201.5h5m-2.5-2.5v5M462 203.5h5m-2.5-2.5v5M462 206.5h5m-2.5-2.5v5M462 208.5h5m-2.5-2.5v5M462 209.5h5m-2.5-2.5v5M462 210.5h5m-2.5-2.5v5M463 214.5h5m-2.5-2.5v5M463 215.5h5m-2.5-2.5v5M463 217.5h5m-2.5-2.5v5M463 218.5h5m-2.5-2.5v5M464 216.5h5m-2.5-2.5v5M463 221.5h5m-2.5-2.5v5M463 220.5h5m-2.5-2.5v5M464 221.5h5m-2.5-2.5v5M463 225.5h5m-2.5-2.5v5M464 224.5h5m-2.5-2.5v5M464 225.5h5m-2.5-2.5v5M464 226.5h5m-2.5-2.5v5M464 227.5h5m-2.5-2.5v5M464 228.5h5m-2.5-2.5v5M464 229.5h5m-2.5-2.5v5M465 231.5h5m-2.5-2.5v5M464 231.5h5m-2.5-2.5v5M465 233.5h5m-2.5-2.5v5M464 236.5h5m-2.5-2.5v5M465 236.5h5m-2.5-2.5v5M465 237.5h5m-2.5-2.5v5M465 239.5h5m-2.5-2.5v5M465 241.5h5m-2.5-2.5v5M465 243.5h5m-2.5-2.5v5M466 243.5h5m-2.5-2.5v5M465 244.5h5m-2.5-2.5v5M465 242.5h5m-2.5-2.5v5M466 245.5h5m-2.5-2.5v5M466 246.5h5m-2.5-2.5v5M466 250.5h5m-2.5-2.5v5M466 251.5h5m-2.5-2.5v5M466 248.5h5m-2.5-2.5v5M467 248.5h5m-2.5-2.5v5M467 244.5h5m-2.5-2.5v5M467 242.5h5m-2.5-2.5v5M468 239.5h5m-2.5-2.5v5M468 240.5h5m-2.5-2.5v5M468 234.5h5m-2.5-2.5v5M468 228.5h5m-2.5-2.5v5M468 223.5h5m-2.5-2.5v5M468 222.5h5m-2.5-2.5v5M468 219.5h5m-2.5-2.5v5M469 216.5h5m-2.5-2.5v5M468 216.5h5m-2.5-2.5v5M469 211.5h5m-2.5-2.5v5M469 210.5h5m-2.5-2.5v5M469 207.5h5m-2.5-2.5v5M469 208.5h5m-2.5-2.5v5M469 206.5h5m-2.5-2.5v5M470 204.5h5m-2.5-2.5v5M469 204.5h5m-2.5-2.5v5M470 203.5h5m-2.5-2.5v5M471 201.5h5m-2.5-2.5v5M470 205.5h5m-2.5-2.5v5M470 201.5h5m-2.5-2.5v5M471 203.5h5m-2.5-2.5v5M471 202.5h5m-2.5-2.5v5M471 206.5h5m-2.5-2.5v5M471 205.5h5m-2.5-2.5v5M471 208.5h5m-2.5-2.5v5M471 209.5h5m-2.5-2.5v5M471 213.5h5m-2.5-2.5v5M472 211.5h5m-2.5-2.5v5M472 209.5h5m-2.5-2.5v5M472 215.5h5m-2.5-2.5v5M472 212.5h5m-2.5-2.5v5M472 213.5h5m-2.5-2.5v5M472 216.5h5m-2.5-2.5v5M473 216.5h5m-2.5-2.5v5M473 218.5h5m-2.5-2.5v5M473 219.5h5m-2.5-2.5v5M473 223.5h5m-2.5-2.5v5M473 221.5h5m-2.5-2.5v5M474 219.5h5m-2.5-2.5v5M474 218.5h5m-2.5-2.5v5M474 222.5h5m-2.5-2.5v5M474 223.5h5m-2.5-2.5v5M475 220.5h5m-2.5-2.5v5M475 222.5h5m-2.5-2.5v5M475 224.5h5m-2.5-2.5v5M475 221.5h5m-2.5-2.5v5M476 223.5h5m-2.5-2.5v5M475 219.5h5m-2.5-2.5v5M475 218.5h5m-2.5-2.5v5M476 216.5h5m-2.5-2.5v5M476 215.5h5m-2.5-2.5v5M476 214.5h5m-2.5-2.5v5M476 212.5h5m-2.5-2.5v5M477 211.5h5m-2.5-2.5v5M476 211.5h5m-2.5-2.5v5M477 208.5h5m-2.5-2.5v5M477 209.5h5m-2.5-2.5v5M477 207.5h5m-2.5-2.5v5M476 206.5h5m-2.5-2.5v5M477 205.5h5m-2.5-2.5v5M478 204.5h5m-2.5-2.5v5M478 199.5h5m-2.5-2.5v5M478 200.5h5m-2.5-2.5v5M478 201.5h5m-2.5-2.5v5M478 202.5h5m-2.5-2.5v5M478 203.5h5m-2.5-2.5v5M479 199.5h5m-2.5-2.5v5M479 204.5h5m-2.5-2.5v5M479 201.5h5m-2.5-2.5v5M479 202.5h5m-2.5-2.5v5M479 203.5h5m-2.5-2.5v5M479 200.5h5m-2.5-2.5v5M479 205.5h5m-2.5-2.5v5M480 203.5h5m-2.5-2.5v5M480 204.5h5m-2.5-2.5v5M480 205.5h5m-2.5-2.5v5M480 206.5h5m-2.5-2.5v5M480 207.5h5m-2.5-2.5v5M480 208.5h5m-2.5-2.5v5M480 211.5h5m-2.5-2.5v5M480 212.5h5m-2.5-2.5v5M481 212.5h5m-2.5-2.5v5M481 213.5h5m-2.5-2.5v5M481 215.5h5m-2.5-2.5v5M481 216.5h5m-2.5-2.5v5M481 214.5h5m-2.5-2.5v5M481 217.5h5m-2.5-2.5v5M482 220.5h5m-2.5-2.5v5M482 217.5h5m-2.5-2.5v5M483 217.5h5m-2.5-2.5v5M482 218.5h5m-2.5-2.5v5M482 219.5h5m-2.5-2.5v5M482 222.5h5m-2.5-2.5v5M482 226.5h5m-2.5-2.5v5M483 226.5h5m-2.5-2.5v5M482 230.5h5m-2.5-2.5v5M482 227.5h5m-2.5-2.5v5M483 229.5h5m-2.5-2.5v5M483 231.5h5m-2.5-2.5v5M483 232.5h5m-2.5-2.5v5M484 234.5h5m-2.5-2.5v5M483 235.5h5m-2.5-2.5v5M484 235.5h5m-2.5-2.5v5M484 233.5h5m-2.5-2.5v5M484 236.5h5m-2.5-2.5v5M484 237.5h5m-2.5-2.5v5M484 239.5h5m-2.5-2.5v5M484 241.5h5m-2.5-2.5v5M484 240.5h5m-2.5-2.5v5M484 238.5h5m-2.5-2.5v5M485 240.5h5m-2.5-2.5v5M485 237.5h5m-2.5-2.5v5M485 241.5h5m-2.5-2.5v5M485 239.5h5m-2.5-2.5v5M485 238.5h5m-2.5-2.5v5M486 239.5h5m-2.5-2.5v5M486 235.5h5m-2.5-2.5v5M486 238.5h5m-2.5-2.5v5M486 237.5h5m-2.5-2.5v5M486 234.5h5m-2.5-2.5v5M487 236.5h5m-2.5-2.5v5M487 232.5h5m-2.5-2.5v5M487 234.5h5m-2.5-2.5v5M487 231.5h5m-2.5-2.5v5M487 228.5h5m-2.5-2.5v5M487 227.5h5m-2.5-2.5v5M487 226.5h5m-2.5-2.5v5M488 222.5h5m-2.5-2.5v5M488 218.5h5m-2.5-2.5v5M487 217.5h5m-2.5-2.5v5M487 215.5h5m-2.5-2.5v5M488 211.5h5m-2.5-2.5v5M487 210.5h5m-2.5-2.5v5M488 210.5h5m-2.5-2.5v5M488 212.5h5m-2.5-2.5v5M489 210.5h5m-2.5-2.5v5M489 212.5h5m-2.5-2.5v5M489 208.5h5m-2.5-2.5v5M489 207.5h5m-2.5-2.5v5M489 205.5h5m-2.5-2.5v5M489 206.5h5m-2.5-2.5v5M489 211.5h5m-2.5-2.5v5M490 213.5h5m-2.5-2.5v5M490 212.5h5m-2.5-2.5v5M490 216.5h5m-2.5-2.5v5M490 214.5h5m-2.5-2.5v5M491 214.5h5m-2.5-2.5v5M491 213.5h5m-2.5-2.5v5M491 216.5h5m-2.5-2.5v5M490 218.5h5m-2.5-2.5v5M491 221.5h5m-2.5-2.5v5M491 218.5h5m-2.5-2.5v5M491 223.5h5m-2.5-2.5v5M491 224.5h5m-2.5-2.5v5M491 222.5h5m-2.5-2.5v5M491 225.5h5m-2.5-2.5v5M492 224.5h5m-2.5-2.5v5M492 222.5h5m-2.5-2.5v5M492 225.5h5m-2.5-2.5v5M492 223.5h5m-2.5-2.5v5M493 226.5h5m-2.5-2.5v5M493 225.5h5m-2.5-2.5v5M493 223.5h5m-2.5-2.5v5M493 224.5h5m-2.5-2.5v5M494 224.5h5m-2.5-2.5v5M494 225.5h5m-2.5-2.5v5M494 222.5h5m-2.5-2.5v5M494 223.5h5m-2.5-2.5v5M494 226.5h5m-2.5-2.5v5M495 222.5h5m-2.5-2.5v5M495 216.5h5m-2.5-2.5v5M495 219.5h5m-2.5-2.5v5M495 220.5h5m-2.5-2.5v5M495 217.5h5m-2.5-2.5v5M496 218.5h5m-2.5-2.5v5M495 215.5h5m-2.5-2.5v5M496 209.5h5m-2.5-2.5v5M496 207.5h5m-2.5-2.5v5M495 206.5h5m-2.5-2.5v5M496 206.5h5m-2.5-2.5v5M496 205.5h5m-2.5-2.5v5M496 204.5h5m-2.5-2.5v5M496 199.5h5m-2.5-2.5v5M496 201.5h5m-2.5-2.5v5M497 203.5h5m-2.5-2.5v5M496 203.5h5m-2.5-2.5v5M496 200.5h5m-2.5-2.5v5M497 199.5h5m-2.5-2.5v5M497 204.5h5m-2.5-2.5v5M497 202.5h5m-2.5-2.5v5M497 201.5h5m-2.5-2.5v5M498 203.5h5m-2.5-2.5v5M498 202.5h5m-2.5-2.5v5M498 204.5h5m-2.5-2.5v5M498 206.5h5m-2.5-2.5v5M498 205.5h5m-2.5-2.5v5M498 210.5h5m-2.5-2.5v5M499 212.5h5m-2.5-2.5v5M498 212.5h5m-2.5-2.5v5M499 215.5h5m-2.5-2.5v5M499 214.5h5m-2.5-2.5v5M499 216.5h5m-2.5-2.5v5M499 220.5h5m-2.5-2.5v5M499 221.5h5m-2.5-2.5v5M499 223.5h5m-2.5-2.5v5M499 224.5h5m-2.5-2.5v5M500 228.5h5m-2.5-2.5v5M500 229.5h5m-2.5-2.5v5M500 230.5h5m-2.5-2.5v5M500 232.5h5m-2.5-2.5v5M500 233.5h5m-2.5-2.5v5M500 235.5h5m-2.5-2.5v5M500 236.5h5m-2.5-2.5v5M500 239.5h5m-2.5-2.5v5M501 243.5h5m-2.5-2.5v5M501 247.5h5m-2.5-2.5v5M501 248.5h5m-2.5-2.5v5M501 250.5h5m-2.5-2.5v5M501 252.5h5m-2.5-2.5v5M501 257.5h5m-2.5-2.5v5M501 259.5h5m-2.5-2.5v5M502 257.5h5m-2.5-2.5v5M502 258.5h5m-2.5-2.5v5M502 261.5h5m-2.5-2.5v5M502 263.5h5m-2.5-2.5v5M502 262.5h5m-2.5-2.5v5M501 261.5h5m-2.5-2.5v5M502 264.5h5m-2.5-2.5v5M502 260.5h5m-2.5-2.5v5M503 261.5h5m-2.5-2.5v5M503 256.5h5m-2.5-2.5v5M503 258.5h5m-2.5-2.5v5M503 253.5h5m-2.5-2.5v5M503 252.5h5m-2.5-2.5v5M503 249.5h5m-2.5-2.5v5M503 247.5h5m-2.5-2.5v5M503 245.5h5m-2.5-2.5v5M504 243.5h5m-2.5-2.5v5M503 242.5h5m-2.5-2.5v5M504 240.5h5m-2.5-2.5v5M504 237.5h5m-2.5-2.5v5M504 235.5h5m-2.5-2.5v5M504 233.5h5m-2.5-2.5v5M504 234.5h5m-2.5-2.5v5M504 231.5h5m-2.5-2.5v5M504 228.5h5m-2.5-2.5v5M505 227.5h5m-2.5-2.5v5M504 225.5h5m-2.5-2.5v5M505 222.5h5m-2.5-2.5v5M505 221.5h5m-2.5-2.5v5M505 220.5h5m-2.5-2.5v5M505 216.5h5m-2.5-2.5v5M505 214.5h5m-2.5-2.5v5M505 210.5h5m-2.5-2.5v5M505 208.5h5m-2.5-2.5v5M505 209.5h5m-2.5-2.5v5M505 206.5h5m-2.5-2.5v5M505 203.5h5m-2.5-2.5v5M506 204.5h5m-2.5-2.5v5M506 202.5h5m-2.5-2.5v5M506 203.5h5m-2.5-2.5v5M506 200.5h5m-2.5-2.5v5M506 196.5h5m-2.5-2.5v5M506 195.5h5m-2.5-2.5v5M507 193.5h5m-2.5-2.5v5M507 194.5h5m-2.5-2.5v5M507 199.5h5m-2.5-2.5v5M506 198.5h5m-2.5-2.5v5M507 195.5h5m-2.5-2.5v5M507 196.5h5m-2.5-2.5v5M136 284.5h5m-2.5-2.5v5M136 282.5h5m-2.5-2.5v5M145 304.5h5m-2.5-2.5v5M145 302.5h5m-2.5-2.5v5M160 214.5h5m-2.5-2.5v5M166 293.5h5m-2.5-2.5v5M179 223.5h5m-2.5-2.5v5M184 301.5h5m-2.5-2.5v5M196 240.5h5m-2.5-2.5v5M209 280.5h5m-2.5-2.5v5M213 277.5h5m-2.5-2.5v5M242 315.5h5m-2.5-2.5v5M264 288.5h5m-2.5-2.5v5M273 229.5h5m-2.5-2.5v5M285 190.5h5m-2.5-2.5v5M292 175.5h5m-2.5-2.5v5M298 214.5h5m-2.5-2.5v5M303 192.5h5m-2.5-2.5v5M304 216.5h5m-2.5-2.5v5M320 192.5h5m-2.5-2.5v5M322 244.5h5m-2.5-2.5v5M321 243.5h5m-2.5-2.5v5M333 227.5h5m-2.5-2.5v5M340 170.5h5m-2.5-2.5v5M343 198.5h5m-2.5-2.5v5M352 240.5h5m-2.5-2.5v5M359 172.5h5m-2.5-2.5v5M370 236.5h5m-2.5-2.5v5M380 223.5h5m-2.5-2.5v5M379 221.5h5m-2.5-2.5v5M388 247.5h5m-2.5-2.5v5M388 246.5h5m-2.5-2.5v5M395 162.5h5m-2.5-2.5v5M396 163.5h5m-2.5-2.5v5M422 181.5h5m-2.5-2.5v5M427 230.5h5m-2.5-2.5v5M426 228.5h5m-2.5-2.5v5M432 186.5h5m-2.5-2.5v5M436 220.5h5m-2.5-2.5v5M435 218.5h5m-2.5-2.5v5M446 244.5h5m-2.5-2.5v5M475 223.5h5m-2.5-2.5v5M489 209.5h5m-2.5-2.5v5M497 200.5h5m-2.5-2.5v5M282 287.5h5m-2.5-2.5v5M282 271.5h5m-2.5-2.5v5M283 253.5h5m-2.5-2.5v5M283 235.5h5m-2.5-2.5v5M284 218.5h5m-2.5-2.5v5M284 202.5h5m-2.5-2.5v5M285 189.5h5m-2.5-2.5v5"/>
</g>
<g id="panel-b">
<path class="ax" d="M560.5 40.5H934.5V360.5H560.5ZM579.5 360.5v-4M579.5 40.5v4M597.5 360.5v-8M597.5 40.5v8M616.5 360.5v-4M616.5 40.5v4M635.5 360.5v-4M635.5 40.5v4M654.5 360.5v-4M654.5 40.5v4M672.5 360.5v-4M672.5 40.5v4M691.5 360.5v-8M691.5 40.5v8M710.5 360.5v-4M710.5 40.5v4M728.5 360.5v-4M728.5 40.5v4M747.5 360.5v-4M747.5 40.5v4M766.5 360.5v-4M766.5 40.5v4M784.5 360.5v-8M784.5 40.5v8M803.5 360.5v-4M803.5 40.5v4M822.5 360.5v-4M822.5 40.5v4M841.5 360.5v-4M841.5 40.5v4M859.5 360.5v-4M859.5 40.5v4M878.5 360.5v-8M878.5 40.5v8M897.5 360.5v-4M897.5 40.5v4M915.5 360.5v-4M915.5 40.5v4M560.5 93.5h8M934.5 93.5h-8M560.5 182.5h8M934.5 182.5h-8M560.5 271.5h8M934.5 271.5h-8"/>
<path class="ax" d="M712.5 164V290"/>
<path class="pt" d="M558 162.5h5m-2.5-2.5v5M558 163.5h5m-2.5-2.5v5M558 165.5h5m-2.5-2.5v5M559 164.5h5m-2.5-2.5v5M558 164.5h5m-2.5-2.5v5M559 163.5h5m-2.5-2.5v5M559 165.5h5m-2.5-2.5v5M560 164.5h5m-2.5-2.5v5M560 166.5h5m-2.5-2.5v5M560 168.5h5m-2.5-2.5v5M560 167.5h5m-2.5-2.5v5M560 169.5h5m-2.5-2.5v5M560 171.5h5m-2.5-2.5v5M561 172.5h5m-2.5-2.5v5M560 178.5h5m-2.5-2.5v5M560 180.5h5m-2.5-2.5v5M561 175.5h5m-2.5-2.5v5M561 177.5h5m-2.5-2.5v5M561 185.5h5m-2.5-2.5v5M561 190.5h5m-2.5-2.5v5M561 196.5h5m-2.5-2.5v5M561 192.5h5m-2.5-2.5v5M561 194.5h5m-2.5-2.5v5M561 195.5h5m-2.5-2.5v5M562 194.5h5m-2.5-2.5v5M562 193.5h5m-2.5-2.5v5M562 189.5h5m-2.5-2.5v5M562 191.5h5m-2.5-2.5v5M562 188.5h5m-2.5-2.5v5M563 188.5h5m-2.5-2.5v5M562 187.5h5m-2.5-2.5v5M563 187.5h5m-2.5-2.5v5M563 186.5h5m-2.5-2.5v5M563 184.5h5m-2.5-2.5v5M564 183.5h5m-2.5-2.5v5M563 180.5h5m-2.5-2.5v5M563 181.5h5m-2.5-2.5v5M564 177.5h5m-2.5-2.5v5M563 173.5h5m-2.5-2.5v5M564 173.5h5m-2.5-2.5v5M564 171.5h5m-2.5-2.5v5M564 167.5h5m-2.5-2.5v5M564 166.5h5m-2.5-2.5v5M565 163.5h5m-2.5-2.5v5M564 160.5h5m-2.5-2.5v5M565 157.5h5m-2.5-2.5v5M565 156.5h5m-2.5-2.5v5M565 153.5h5m-2.5-2.5v5M565 149.5h5m-2.5-2.5v5M565 148.5h5m-2.5-2.5v5M565 145.5h5m-2.5-2.5v5M565 144.5h5m-2.5-2.5v5M566 144.5h5m-2.5-2.5v5M565 142.5h5m-2.5-2.5v5M566 141.5h5m-2.5-2.5v5M566 140.5h5m-2.5-2.5v5M566 135.5h5m-2.5-2.5v5M566 129.5h5m-2.5-2.5v5M566 132.5h5m-2.5-2.5v5M566 130.5h5m-2.5-2.5v5M566 128.5h5m-2.5-2.5v5M567 127.5h5m-2.5-2.5v5M567 131.5h5m-2.5-2.5v5M567 130.5h5m-2.5-2.5v5M567 133.5h5m-2.5-2.5v5M567 134.5h5m-2.5-2.5v5M567 135.5h5m-2.5-2.5v5M567 138.5h5m-2.5-2.5v5M568 137.5h5m-2.5-2.5v5M568 139.5h5m-2.5-2.5v5M567 140.5h5m-2.5-2.5v5M568 141.5h5m-2.5-2.5v5M568 143.5h5m-2.5-2.5v5M568 142.5h5m-2.5-2.5v5M568 147.5h5m-2.5-2.5v5M568 149.5h5m-2.5-2.5v5M569 153.5h5m-2.5-2.5v5M568 156.5h5m-2.5-2.5v5M569 160.5h5m-2.5-2.5v5M569 167.5h5m-2.5-2.5v5M569 173.5h5m-2.5-2.5v5M569 176.5h5m-2.5-2.5v5M569 175.5h5m-2.5-2.5v5M569 181.5h5m-2.5-2.5v5M569 182.5h5m-2.5-2.5v5M570 181.5h5m-2.5-2.5v5M569 184.5h5m-2.5-2.5v5M570 184.5h5m-2.5-2.5v5M570 183.5h5m-2.5-2.5v5M570 186.5h5m-2.5-2.5v5M570 187.5h5m-2.5-2.5v5M570 194.5h5m-2.5-2.5v5M570 201.5h5m-2.5-2.5v5M570 209.5h5m-2.5-2.5v5M571 209.5h5m-2.5-2.5v5M571 201.5h5m-2.5-2.5v5M570 197.5h5m-2.5-2.5v5M571 194.5h5m-2.5-2.5v5M571 195.5h5m-2.5-2.5v5M571 191.5h5m-2.5-2.5v5M571 192.5h5m-2.5-2.5v5M572 192.5h5m-2.5-2.5v5M572 191.5h5m-2.5-2.5v5M572 190.5h5m-2.5-2.5v5M572 188.5h5m-2.5-2.5v5M572 187.5h5m-2.5-2.5v5M572 186.5h5m-2.5-2.5v5M572 189.5h5m-2.5-2.5v5M573 187.5h5m-2.5-2.5v5M573 186.5h5m-2.5-2.5v5M573 184.5h5m-2.5-2.5v5M573 183.5h5m-2.5-2.5v5M574 182.5h5m-2.5-2.5v5M573 180.5h5m-2.5-2.5v5M574 180.5h5m-2.5-2.5v5M574 181.5h5m-2.5-2.5v5M574 179.5h5m-2.5-2.5v5M574 178.5h5m-2.5-2.5v5M574 176.5h5m-2.5-2.5v5M574 177.5h5m-2.5-2.5v5M575 177.5h5m-2.5-2.5v5M575 179.5h5m-2.5-2.5v5M575 180.5h5m-2.5-2.5v5M575 176.5h5m-2.5-2.5v5M576 176.5h5m-2.5-2.5v5M576 178.5h5m-2.5-2.5v5M576 175.5h5m-2.5-2.5v5M576 173.5h5m-2.5-2.5v5M576 174.5h5m-2.5-2.5v5M576 179.5h5m-2.5-2.5v5M577 178.5h5m-2.5-2.5v5M577 175.5h5m-2.5-2.5v5M577 174.5h5m-2.5-2.5v5M577 173.5h5m-2.5-2.5v5M578 173.5h5m-2.5-2.5v5M578 176.5h5m-2.5-2.5v5M578 170.5h5m-2.5-2.5v5M578 171.5h5m-2.5-2.5v5M578 172.5h5m-2.5-2.5v5M579 171.5h5m-2.5-2.5v5M579 174.5h5m-2.5-2.5v5M579 175.5h5m-2.5-2.5v5M579 173.5h5m-2.5-2.5v5M578 175.5h5m-2.5-2.5v5M579 170.5h5m-2.5-2.5v5M580 169.5h5m-2.5-2.5v5M579 172.5h5m-2.5-2.5v5M579 168.5h5m-2.5-2.5v5M580 166.5h5m-2.5-2.5v5M580 167.5h5m-2.5-2.5v5M580 168.5h5m-2.5-2.5v5M581 169.5h5m-2.5-2.5v5M581 166.5h5m-2.5-2.5v5M582 164.5h5m-2.5-2.5v5M581 165.5h5m-2.5-2.5v5M582 167.5h5m-2.5-2.5v5M582 165.5h5m-2.5-2.5v5M582 163.5h5m-2.5-2.5v5M583 165.5h5m-2.5-2.5v5M582 162.5h5m-2.5-2.5v5M583 160.5h5m-2.5-2.5v5M582 159.5h5m-2.5-2.5v5M583 158.5h5m-2.5-2.5v5M583 162.5h5m-2.5-2.5v5M583 159.5h5m-2.5-2.5v5M583 157.5h5m-2.5-2.5v5M584 157.5h5m-2.5-2.5v5M583 155.5h5m-2.5-2.5v5M584 155.5h5m-2.5-2.5v5M584 154.5h5m-2.5-2.5v5M584 152.5h5m-2.5-2.5v5M584 153.5h5m-2.5-2.5v5M585 152.5h5m-2.5-2.5v5M585 140.5h5m-2.5-2.5v5M585 134.5h5m-2.5-2.5v5M585 127.5h5m-2.5-2.5v5M585 121.5h5m-2.5-2.5v5M585 119.5h5m-2.5-2.5v5M585 123.5h5m-2.5-2.5v5M585 125.5h5m-2.5-2.5v5M586 124.5h5m-2.5-2.5v5M586 125.5h5m-2.5-2.5v5M586 130.5h5m-2.5-2.5v5M586 132.5h5m-2.5-2.5v5M587 130.5h5m-2.5-2.5v5M586 137.5h5m-2.5-2.5v5M586 139.5h5m-2.5-2.5v5M587 138.5h5m-2.5-2.5v5M587 143.5h5m-2.5-2.5v5M587 147.5h5m-2.5-2.5v5M587 151.5h5m-2.5-2.5v5M587 152.5h5m-2.5-2.5v5M587 155.5h5m-2.5-2.5v5M587 154.5h5m-2.5-2.5v5M587 156.5h5m-2.5-2.5v5M587 157.5h5m-2.5-2.5v5M588 155.5h5m-2.5-2.5v5M587 158.5h5m-2.5-2.5v5M587 159.5h5m-2.5-2.5v5M588 162.5h5m-2.5-2.5v5M588 161.5h5m-2.5-2.5v5M589 162.5h5m-2.5-2.5v5M588 165.5h5m-2.5-2.5v5M588 169.5h5m-2.5-2.5v5M588 170.5h5m-2.5-2.5v5M589 170.5h5m-2.5-2.5v5M588 174.5h5m-2.5-2.5v5M589 175.5h5m-2.5-2.5v5M589 180.5h5m-2.5-2.5v5M590 182.5h5m-2.5-2.5v5M589 185.5h5m-2.5-2.5v5M589 187.5h5m-2.5-2.5v5M590 190.5h5m-2.5-2.5v5M589 193.5h5m-2.5-2.5v5M590 195.5h5m-2.5-2.5v5M590 198.5h5m-2.5-2.5v5M589 200.5h5m-2.5-2.5v5M590 199.5h5m-2.5-2.5v5M591 197.5h5m-2.5-2.5v5M591 198.5h5m-2.5-2.5v5M591 202.5h5m-2.5-2.5v5M591 200.5h5m-2.5-2.5v5M591 199.5h5m-2.5-2.5v5M591 201.5h5m-2.5-2.5v5M592 200.5h5m-2.5-2.5v5M592 199.5h5m-2.5-2.5v5M592 201.5h5m-2.5-2.5v5M592 198.5h5m-2.5-2.5v5M592 196.5h5m-2.5-2.5v5M593 199.5h5m-2.5-2.5v5M593 194.5h5m-2.5-2.5v5M592 195.5h5m-2.5-2.5v5M593 192.5h5m-2.5-2.5v5M593 189.5h5m-2.5-2.5v5M594 191.5h5m-2.5-2.5v5M593 188.5h5m-2.5-2.5v5M594 188.5h5m-2.5-2.5v5M594 189.5h5m-2.5-2.5v5M593 185.5h5m-2.5-2.5v5M594 184.5h5m-2.5-2.5v5M594 185.5h5m-2.5-2.5v5M594 186.5h5m-2.5-2.5v5M595 186.5h5m-2.5-2.5v5M595 185.5h5m-2.5-2.5v5M594 187.5h5m-2.5-2.5v5M596 187.5h5m-2.5-2.5v5M595 187.5h5m-2.5-2.5v5M595 190.5h5m-2.5-2.5v5M596 190.5h5m-2.5-2.5v5M595 188.5h5m-2.5-2.5v5M596 194.5h5m-2.5-2.5v5M596 193.5h5m-2.5-2.5v5M596 191.5h5m-2.5-2.5v5M596 192.5h5m-2.5-2.5v5M596 195.5h5m-2.5-2.5v5M596 196.5h5m-2.5-2.5v5M597 198.5h5m-2.5-2.5v5M597 199.5h5m-2.5-2.5v5M597 203.5h5m-2.5-2.5v5M597 202.5h5m-2.5-2.5v5M597 205.5h5m-2.5-2.5v5M598 202.5h5m-2.5-2.5v5M598 203.5h5m-2.5-2.5v5M598 206.5h5m-2.5-2.5v5M598 208.5h5m-2.5-2.5v5M598 205.5h5m-2.5-2.5v5M598 207.5h5m-2.5-2.5v5M599 208.5h5m-2.5-2.5v5M598 204.5h5m-2.5-2.5v5M599 205.5h5m-2.5-2.5v5M599 203.5h5m-2.5-2.5v5M599 201.5h5m-2.5-2.5v5M599 200.5h5m-2.5-2.5v5M599 199.5h5m-2.5-2.5v5M599 198.5h5m-2.5-2.5v5M600 199.5h5m-2.5-2.5v5M600 198.5h5m-2.5-2.5v5M600 197.5h5m-2.5-2.5v5M600 193.5h5m-2.5-2.5v5M600 188.5h5m-2.5-2.5v5M600 187.5h5m-2.5-2.5v5M601 184.5h5m-2.5-2.5v5M600 183.5h5m-2.5-2.5v5M600 180.5h5m-2.5-2.5v5M601 180.5h5m-2.5-2.5v5M601 179.5h5m-2.5-2.5v5M601 177.5h5m-2.5-2.5v5M601 172.5h5m-2.5-2.5v5M600 169.5h5m-2.5-2.5v5M602 166.5h5m-2.5-2.5v5M601 167.5h5m-2.5-2.5v5M601 164.5h5m-2.5-2.5v5M601 162.5h5m-2.5-2.5v5M602 160.5h5m-2.5-2.5v5M602 157.5h5m-2.5-2.5v5M602 155.5h5m-2.5-2.5v5M602 154.5h5m-2.5-2.5v5M601 153.5h5m-2.5-2.5v5M602 148.5h5m-2.5-2.5v5M602 149.5h5m-2.5-2.5v5M602 147.5h5m-2.5-2.5v5M603 143.5h5m-2.5-2.5v5M602 139.5h5m-2.5-2.5v5M603 140.5h5m-2.5-2.5v5M603 138.5h5m-2.5-2.5v5M602 136.5h5m-2.5-2.5v5M603 131.5h5m-2.5-2.5v5M603 132.5h5m-2.5-2.5v5M603 130.5h5m-2.5-2.5v5M603 135.5h5m-2.5-2.5v5M604 134.5h5m-2.5-2.5v5M603 137.5h5m-2.5-2.5v5M604 137.5h5m-2.5-2.5v5M604 136.5h5m-2.5-2.5v5M604 139.5h5m-2.5-2.5v5M604 141.5h5m-2.5-2.5v5M604 144.5h5m-2.5-2.5v5M604 145.5h5m-2.5-2.5v5M604 148.5h5m-2.5-2.5v5M604 147.5h5m-2.5-2.5v5M604 149.5h5m-2.5-2.5v5M604 150.5h5m-2.5-2.5v5M604 151.5h5m-2.5-2.5v5M605 155.5h5m-2.5-2.5v5M605 156.5h5m-2.5-2.5v5M605 159.5h5m-2.5-2.5v5M605 161.5h5m-2.5-2.5v5M605 162.5h5m-2.5-2.5v5M605 164.5h5m-2.5-2.5v5M605 166.5h5m-2.5-2.5v5M606 167.5h5m-2.5-2.5v5M606 168.5h5m-2.5-2.5v5M606 170.5h5m-2.5-2.5v5M605 172.5h5m-2.5-2.5v5M606 175.5h5m-2.5-2.5v5M606 174.5h5m-2.5-2.5v5M606 178.5h5m-2.5-2.5v5M606 181.5h5m-2.5-2.5v5M607 186.5h5m-2.5-2.5v5M607 185.5h5m-2.5-2.5v5M607 188.5h5m-2.5-2.5v5M607 190.5h5m-2.5-2.5v5M607 191.5h5m-2.5-2.5v5M607 194.5h5m-2.5-2.5v5M607 195.5h5m-2.5-2.5v5M607 200.5h5m-2.5-2.5v5M608 204.5h5m-2.5-2.5v5M608 206.5h5m-2.5-2.5v5M607 208.5h5m-2.5-2.5v5M608 209.5h5m-2.5-2.5v5M608 211.5h5m-2.5-2.5v5M608 212.5h5m-2.5-2.5v5M609 212.5h5m-2.5-2.5v5M609 213.5h5m-2.5-2.5v5M610 213.5h5m-2.5-2.5v5M610 212.5h5m-2.5-2.5v5M609 215.5h5m-2.5-2.5v5M610 211.5h5m-2.5-2.5v5M610 215.5h5m-2.5-2.5v5M610 216.5h5m-2.5-2.5v5M611 213.5h5m-2.5-2.5v5M611 214.5h5m-2.5-2.5v5M611 215.5h5m-2.5-2.5v5M612 211.5h5m-2.5-2.5v5M612 215.5h5m-2.5-2.5v5M612 213.5h5m-2.5-2.5v5M611 211.5h5m-2.5-2.5v5M612 209.5h5m-2.5-2.5v5M612 205.5h5m-2.5-2.5v5M612 204.5h5m-2.5-2.5v5M613 202.5h5m-2.5-2.5v5M612 201.5h5m-2.5-2.5v5M612 199.5h5m-2.5-2.5v5M613 194.5h5m-2.5-2.5v5M613 192.5h5m-2.5-2.5v5M613 193.5h5m-2.5-2.5v5M613 190.5h5m-2.5-2.5v5M613 188.5h5m-2.5-2.5v5M613 183.5h5m-2.5-2.5v5M613 181.5h5m-2.5-2.5v5M614 177.5h5m-2.5-2.5v5M613 173.5h5m-2.5-2.5v5M614 170.5h5m-2.5-2.5v5M614 167.5h5m-2.5-2.5v5M614 165.5h5m-2.5-2.5v5M614 159.5h5m-2.5-2.5v5M614 157.5h5m-2.5-2.5v5M614 156.5h5m-2.5-2.5v5M614 150.5h5m-2.5-2.5v5M615 148.5h5m-2.5-2.5v5M614 147.5h5m-2.5-2.5v5M614 144.5h5m-2.5-2.5v5M615 151.5h5m-2.5-2.5v5M615 152.5h5m-2.5-2.5v5M615 154.5h5m-2.5-2.5v5M616 155.5h5m-2.5-2.5v5M615 156.5h5m-2.5-2.5v5M615 160.5h5m-2.5-2.5v5M616 159.5h5m-2.5-2.5v5M616 158.5h5m-2.5-2.5v5M616 163.5h5m-2.5-2.5v5M616 162.5h5m-2.5-2.5v5M617 160.5h5m-2.5-2.5v5M616 161.5h5m-2.5-2.5v5M616 164.5h5m-2.5-2.5v5M616 165.5h5m-2.5-2.5v5M617 166.5h5m-2.5-2.5v5M617 165.5h5m-2.5-2.5v5M617 163.5h5m-2.5-2.5v5M617 159.5h5m-2.5-2.5v5M617 161.5h5m-2.5-2.5v5M617 162.5h5m-2.5-2.5v5M617 164.5h5m-2.5-2.5v5M618 164.5h5m-2.5-2.5v5M618 163.5h5m-2.5-2.5v5M618 162.5h5m-2.5-2.5v5M618 159.5h5m-2.5-2.5v5M619 159.5h5m-2.5-2.5v5M619 158.5h5m-2.5-2.5v5M618 158.5h5m-2.5-2.5v5M619 157.5h5m-2.5-2.5v5M618 157.5h5m-2.5-2.5v5M619 156.5h5m-2.5-2.5v5M619 155.5h5m-2.5-2.5v5M620 159.5h5m-2.5-2.5v5M620 158.5h5m-2.5-2.5v5M620 155.5h5m-2.5-2.5v5M620 153.5h5m-2.5-2.5v5M621 151.5h5m-2.5-2.5v5M621 155.5h5m-2.5-2.5v5M621 153.5h5m-2.5-2.5v5M621 150.5h5m-2.5-2.5v5M621 152.5h5m-2.5-2.5v5M622 154.5h5m-2.5-2.5v5M621 154.5h5m-2.5-2.5v5M621 156.5h5m-2.5-2.5v5M622 157.5h5m-2.5-2.5v5M622 155.5h5m-2.5-2.5v5M622 158.5h5m-2.5-2.5v5M622 160.5h5m-2.5-2.5v5M622 159.5h5m-2.5-2.5v5M623 159.5h5m-2.5-2.5v5M623 157.5h5m-2.5-2.5v5M623 156.5h5m-2.5-2.5v5M623 158.5h5m-2.5-2.5v5M624 159.5h5m-2.5-2.5v5M624 161.5h5m-2.5-2.5v5M624 157.5h5m-2.5-2.5v5M625 157.5h5m-2.5-2.5v5M624 156.5h5m-2.5-2.5v5M624 158.5h5m-2.5-2.5v5M624 162.5h5m-2.5-2.5v5M624 164.5h5m-2.5-2.5v5M625 166.5h5m-2.5-2.5v5M624 169.5h5m-2.5-2.5v5M625 171.5h5m-2.5-2.5v5M625 173.5h5m-2.5-2.5v5M625 177.5h5m-2.5-2.5v5M625 178.5h5m-2.5-2.5v5M625 181.5h5m-2.5-2.5v5M625 185.5h5m-2.5-2.5v5M626 185.5h5m-2.5-2.5v5M626 188.5h5m-2.5-2.5v5M626 190.5h5m-2.5-2.5v5M626 193.5h5m-2.5-2.5v5M626 196.5h5m-2.5-2.5v5M626 197.5h5m-2.5-2.5v5M626 199.5h5m-2.5-2.5v5M626 205.5h5m-2.5-2.5v5M626 207.5h5m-2.5-2.5v5M626 212.5h5m-2.5-2.5v5M627 213.5h5m-2.5-2.5v5M626 210.5h5m-2.5-2.5v5M627 214.5h5m-2.5-2.5v5M627 215.5h5m-2.5-2.5v5M627 216.5h5m-2.5-2.5v5M627 220.5h5m-2.5-2.5v5M627 222.5h5m-2.5-2.5v5M627 225.5h5m-2.5-2.5v5M627 229.5h5m-2.5-2.5v5M627 228.5h5m-2.5-2.5v5M628 232.5h5m-2.5-2.5v5M627 234.5h5m-2.5-2.5v5M628 236.5h5m-2.5-2.5v5M628 238.5h5m-2.5-2.5v5M628 240.5h5m-2.5-2.5v5M628 241.5h5m-2.5-2.5v5M628 244.5h5m-2.5-2.5v5M628 239.5h5m-2.5-2.5v5M629 230.5h5m-2.5-2.5v5M628 230.5h5m-2.5-2.5v5M629 229.5h5m-2.5-2.5v5M629 225.5h5m-2.5-2.5v5M629 224.5h5m-2.5-2.5v5M630 219.5h5m-2.5-2.5v5M629 217.5h5m-2.5-2.5v5M629 213.5h5m-2.5-2.5v5M629 211.5h5m-2.5-2.5v5M630 209.5h5m-2.5-2.5v5M630 207.5h5m-2.5-2.5v5M630 206.5h5m-2.5-2.5v5M630 204.5h5m-2.5-2.5v5M630 203.5h5m-2.5-2.5v5M630 201.5h5m-2.5-2.5v5M631 200.5h5m-2.5-2.5v5M630 199.5h5m-2.5-2.5v5M631 201.5h5m-2.5-2.5v5M631 198.5h5m-2.5-2.5v5M631 196.5h5m-2.5-2.5v5M631 195.5h5m-2.5-2.5v5M632 197.5h5m-2.5-2.5v5M632 198.5h5m-2.5-2.5v5M632 195.5h5m-2.5-2.5v5M632 196.5h5m-2.5-2.5v5M632 193.5h5m-2.5-2.5v5M633 193.5h5m-2.5-2.5v5M633 192.5h5m-2.5-2.5v5M633 196.5h5m-2.5-2.5v5M633 195.5h5m-2.5-2.5v5M633 194.5h5m-2.5-2.5v5M634 192.5h5m-2.5-2.5v5M633 189.5h5m-2.5-2.5v5M634 189.5h5m-2.5-2.5v5M634 190.5h5m-2.5-2.5v5M634 188.5h5m-2.5-2.5v5M635 190.5h5m-2.5-2.5v5M635 193.5h5m-2.5-2.5v5M634 193.5h5m-2.5-2.5v5M635 188.5h5m-2.5-2.5v5M635 187.5h5m-2.5-2.5v5M635 189.5h5m-2.5-2.5v5M636 190.5h5m-2.5-2.5v5M636 187.5h5m-2.5-2.5v5M636 189.5h5m-2.5-2.5v5M636 186.5h5m-2.5-2.5v5M636 188.5h5m-2.5-2.5v5M636 185.5h5m-2.5-2.5v5M637 186.5h5m-2.5-2.5v5M637 187.5h5m-2.5-2.5v5M637 185.5h5m-2.5-2.5v5M637 184.5h5m-2.5-2.5v5M637 188.5h5m-2.5-2.5v5M637 183.5h5m-2.5-2.5v5M638 184.5h5m-2.5-2.5v5M637 182.5h5m-2.5-2.5v5M638 182.5h5m-2.5-2.5v5M638 183.5h5m-2.5-2.5v5M638 187.5h5m-2.5-2.5v5M639 184.5h5m-2.5-2.5v5M639 183.5h5m-2.5-2.5v5M639 182.5h5m-2.5-2.5v5M639 185.5h5m-2.5-2.5v5M639 181.5h5m-2.5-2.5v5M640 182.5h5m-2.5-2.5v5M639 179.5h5m-2.5-2.5v5M639 175.5h5m-2.5-2.5v5M640 177.5h5m-2.5-2.5v5M640 176.5h5m-2.5-2.5v5M640 174.5h5m-2.5-2.5v5M640 175.5h5m-2.5-2.5v5M640 171.5h5m-2.5-2.5v5M641 171.5h5m-2.5-2.5v5M641 172.5h5m-2.5-2.5v5M641 173.5h5m-2.5-2.5v5M640 172.5h5m-2.5-2.5v5M641 175.5h5m-2.5-2.5v5M641 174.5h5m-2.5-2.5v5M641 176.5h5m-2.5-2.5v5M641 177.5h5m-2.5-2.5v5M642 176.5h5m-2.5-2.5v5M642 177.5h5m-2.5-2.5v5M642 178.5h5m-2.5-2.5v5M643 181.5h5m-2.5-2.5v5M642 182.5h5m-2.5-2.5v5M642 183.5h5m-2.5-2.5v5M642 184.5h5m-2.5-2.5v5M643 188.5h5m-2.5-2.5v5M642 188.5h5m-2.5-2.5v5M643 192.5h5m-2.5-2.5v5M643 193.5h5m-2.5-2.5v5M643 196.5h5m-2.5-2.5v5M643 200.5h5m-2.5-2.5v5M643 198.5h5m-2.5-2.5v5M643 203.5h5m-2.5-2.5v5M643 206.5h5m-2.5-2.5v5M643 209.5h5m-2.5-2.5v5M644 208.5h5m-2.5-2.5v5M643 211.5h5m-2.5-2.5v5M644 213.5h5m-2.5-2.5v5M644 215.5h5m-2.5-2.5v5M644 216.5h5m-2.5-2.5v5M644 221.5h5m-2.5-2.5v5M644 222.5h5m-2.5-2.5v5M644 226.5h5m-2.5-2.5v5M645 227.5h5m-2.5-2.5v5M644 231.5h5m-2.5-2.5v5M645 233.5h5m-2.5-2.5v5M645 231.5h5m-2.5-2.5v5M645 232.5h5m-2.5-2.5v5M645 229.5h5m-2.5-2.5v5M645 234.5h5m-2.5-2.5v5M645 236.5h5m-2.5-2.5v5M646 238.5h5m-2.5-2.5v5M645 237.5h5m-2.5-2.5v5M645 238.5h5m-2.5-2.5v5M646 240.5h5m-2.5-2.5v5M646 242.5h5m-2.5-2.5v5M646 244.5h5m-2.5-2.5v5M646 243.5h5m-2.5-2.5v5M647 244.5h5m-2.5-2.5v5M647 245.5h5m-2.5-2.5v5M647 242.5h5m-2.5-2.5v5M647 243.5h5m-2.5-2.5v5M647 241.5h5m-2.5-2.5v5M647 239.5h5m-2.5-2.5v5M648 236.5h5m-2.5-2.5v5M648 237.5h5m-2.5-2.5v5M648 234.5h5m-2.5-2.5v5M648 235.5h5m-2.5-2.5v5M648 232.5h5m-2.5-2.5v5M648 231.5h5m-2.5-2.5v5M649 231.5h5m-2.5-2.5v5M649 232.5h5m-2.5-2.5v5M649 227.5h5m-2.5-2.5v5M649 229.5h5m-2.5-2.5v5M650 228.5h5m-2.5-2.5v5M649 225.5h5m-2.5-2.5v5M649 222.5h5m-2.5-2.5v5M649 220.5h5m-2.5-2.5v5M649 223.5h5m-2.5-2.5v5M650 221.5h5m-2.5-2.5v5M650 216.5h5m-2.5-2.5v5M650 215.5h5m-2.5-2.5v5M650 212.5h5m-2.5-2.5v5M650 209.5h5m-2.5-2.5v5M651 211.5h5m-2.5-2.5v5M651 208.5h5m-2.5-2.5v5M650 210.5h5m-2.5-2.5v5M651 209.5h5m-2.5-2.5v5M651 206.5h5m-2.5-2.5v5M651 202.5h5m-2.5-2.5v5M651 203.5h5m-2.5-2.5v5M651 204.5h5m-2.5-2.5v5M652 203.5h5m-2.5-2.5v5M652 201.5h5m-2.5-2.5v5M652 202.5h5m-2.5-2.5v5M652 198.5h5m-2.5-2.5v5M652 197.5h5m-2.5-2.5v5M652 196.5h5m-2.5-2.5v5M652 195.5h5m-2.5-2.5v5M653 193.5h5m-2.5-2.5v5M653 197.5h5m-2.5-2.5v5M654 195.5h5m-2.5-2.5v5M653 195.5h5m-2.5-2.5v5M654 192.5h5m-2.5-2.5v5M654 190.5h5m-2.5-2.5v5M654 191.5h5m-2.5-2.5v5M654 189.5h5m-2.5-2.5v5M655 187.5h5m-2.5-2.5v5M655 189.5h5m-2.5-2.5v5M655 191.5h5m-2.5-2.5v5M655 184.5h5m-2.5-2.5v5M655 182.5h5m-2.5-2.5v5M656 184.5h5m-2.5-2.5v5M656 181.5h5m-2.5-2.5v5M656 186.5h5m-2.5-2.5v5M656 182.5h5m-2.5-2.5v5M657 178.5h5m-2.5-2.5v5M656 180.5h5m-2.5-2.5v5M657 179.5h5m-2.5-2.5v5M657 177.5h5m-2.5-2.5v5M657 175.5h5m-2.5-2.5v5M657 174.5h5m-2.5-2.5v5M658 172.5h5m-2.5-2.5v5M657 173.5h5m-2.5-2.5v5M657 170.5h5m-2.5-2.5v5M658 168.5h5m-2.5-2.5v5M658 166.5h5m-2.5-2.5v5M658 167.5h5m-2.5-2.5v5M658 164.5h5m-2.5-2.5v5M658 161.5h5m-2.5-2.5v5M658 159.5h5m-2.5-2.5v5M659 159.5h5m-2.5-2.5v5M659 161.5h5m-2.5-2.5v5M659 155.5h5m-2.5-2.5v5M659 153.5h5m-2.5-2.5v5M659 157.5h5m-2.5-2.5v5M659 156.5h5m-2.5-2.5v5M660 156.5h5m-2.5-2.5v5M660 155.5h5m-2.5-2.5v5M660 152.5h5m-2.5-2.5v5M660 149.5h5m-2.5-2.5v5M660 150.5h5m-2.5-2.5v5M660 151.5h5m-2.5-2.5v5M660 154.5h5m-2.5-2.5v5M661 153.5h5m-2.5-2.5v5M660 158.5h5m-2.5-2.5v5M660 157.5h5m-2.5-2.5v5M661 160.5h5m-2.5-2.5v5M661 158.5h5m-2.5-2.5v5M661 162.5h5m-2.5-2.5v5M661 161.5h5m-2.5-2.5v5M661 164.5h5m-2.5-2.5v5M661 166.5h5m-2.5-2.5v5M661 165.5h5m-2.5-2.5v5M661 168.5h5m-2.5-2.5v5M662 166.5h5m-2.5-2.5v5M662 167.5h5m-2.5-2.5v5M662 168.5h5m-2.5-2.5v5M662 169.5h5m-2.5-2.5v5M662 170.5h5m-2.5-2.5v5M662 173.5h5m-2.5-2.5v5M662 174.5h5m-2.5-2.5v5M662 179.5h5m-2.5-2.5v5M663 181.5h5m-2.5-2.5v5M663 182.5h5m-2.5-2.5v5M663 183.5h5m-2.5-2.5v5M663 186.5h5m-2.5-2.5v5M663 189.5h5m-2.5-2.5v5M664 191.5h5m-2.5-2.5v5M663 191.5h5m-2.5-2.5v5M664 192.5h5m-2.5-2.5v5M664 196.5h5m-2.5-2.5v5M663 197.5h5m-2.5-2.5v5M664 199.5h5m-2.5-2.5v5M664 201.5h5m-2.5-2.5v5M664 204.5h5m-2.5-2.5v5M664 202.5h5m-2.5-2.5v5M665 203.5h5m-2.5-2.5v5M665 205.5h5m-2.5-2.5v5M665 204.5h5m-2.5-2.5v5M665 206.5h5m-2.5-2.5v5M665 208.5h5m-2.5-2.5v5M665 212.5h5m-2.5-2.5v5M665 213.5h5m-2.5-2.5v5M665 214.5h5m-2.5-2.5v5M666 213.5h5m-2.5-2.5v5M666 214.5h5m-2.5-2.5v5M666 218.5h5m-2.5-2.5v5M666 216.5h5m-2.5-2.5v5M666 217.5h5m-2.5-2.5v5M666 220.5h5m-2.5-2.5v5M667 222.5h5m-2.5-2.5v5M666 222.5h5m-2.5-2.5v5M667 221.5h5m-2.5-2.5v5M667 224.5h5m-2.5-2.5v5M667 226.5h5m-2.5-2.5v5M667 229.5h5m-2.5-2.5v5M667 230.5h5m-2.5-2.5v5M667 228.5h5m-2.5-2.5v5M668 227.5h5m-2.5-2.5v5M667 227.5h5m-2.5-2.5v5M668 228.5h5m-2.5-2.5v5M668 225.5h5m-2.5-2.5v5M668 224.5h5m-2.5-2.5v5M669 226.5h5m-2.5-2.5v5M669 224.5h5m-2.5-2.5v5M668 223.5h5m-2.5-2.5v5M669 223.5h5m-2.5-2.5v5M670 222.5h5m-2.5-2.5v5M669 222.5h5m-2.5-2.5v5M669 221.5h5m-2.5-2.5v5M670 221.5h5m-2.5-2.5v5M670 217.5h5m-2.5-2.5v5M671 218.5h5m-2.5-2.5v5M670 218.5h5m-2.5-2.5v5M671 217.5h5m-2.5-2.5v5M671 220.5h5m-2.5-2.5v5M670 219.5h5m-2.5-2.5v5M671 216.5h5m-2.5-2.5v5M671 219.5h5m-2.5-2.5v5M671 215.5h5m-2.5-2.5v5M672 214.5h5m-2.5-2.5v5M672 217.5h5m-2.5-2.5v5M672 215.5h5m-2.5-2.5v5M673 213.5h5m-2.5-2.5v5M672 211.5h5m-2.5-2.5v5M672 210.5h5m-2.5-2.5v5M673 211.5h5m-2.5-2.5v5M673 209.5h5m-2.5-2.5v5M673 210.5h5m-2.5-2.5v5M673 208.5h5m-2.5-2.5v5M673 206.5h5m-2.5-2.5v5M673 204.5h5m-2.5-2.5v5M673 205.5h5m-2.5-2.5v5M673 203.5h5m-2.5-2.5v5M674 200.5h5m-2.5-2.5v5M674 201.5h5m-2.5-2.5v5M674 199.5h5m-2.5-2.5v5M674 198.5h5m-2.5-2.5v5M674 194.5h5m-2.5-2.5v5M675 196.5h5m-2.5-2.5v5M674 193.5h5m-2.5-2.5v5M675 192.5h5m-2.5-2.5v5M675 193.5h5m-2.5-2.5v5M675 191.5h5m-2.5-2.5v5M676 191.5h5m-2.5-2.5v5M675 188.5h5m-2.5-2.5v5M676 188.5h5m-2.5-2.5v5M676 189.5h5m-2.5-2.5v5M676 187.5h5m-2.5-2.5v5M676 184.5h5m-2.5-2.5v5M676 182.5h5m-2.5-2.5v5M676 185.5h5m-2.5-2.5v5M676 183.5h5m-2.5-2.5v5M677 181.5h5m-2.5-2.5v5M676 179.5h5m-2.5-2.5v5M677 177.5h5m-2.5-2.5v5M677 178.5h5m-2.5-2.5v5M677 180.5h5m-2.5-2.5v5M678 181.5h5m-2.5-2.5v5M677 179.5h5m-2.5-2.5v5M678 176.5h5m-2.5-2.5v5M678 177.5h5m-2.5-2.5v5M678 174.5h5m-2.5-2.5v5M679 175.5h5m-2.5-2.5v5M679 174.5h5m-2.5-2.5v5M679 178.5h5m-2.5-2.5v5M679 173.5h5m-2.5-2.5v5M679 176.5h5m-2.5-2.5v5M678 171.5h5m-2.5-2.5v5M679 172.5h5m-2.5-2.5v5M679 171.5h5m-2.5-2.5v5M680 175.5h5m-2.5-2.5v5M680 173.5h5m-2.5-2.5v5M680 172.5h5m-2.5-2.5v5M680 178.5h5m-2.5-2.5v5M680 179.5h5m-2.5-2.5v5M680 176.5h5m-2.5-2.5v5M681 176.5h5m-2.5-2.5v5M681 175.5h5m-2.5-2.5v5M681 178.5h5m-2.5-2.5v5M681 177.5h5m-2.5-2.5v5M681 179.5h5m-2.5-2.5v5M681 182.5h5m-2.5-2.5v5M681 183.5h5m-2.5-2.5v5M682 186.5h5m-2.5-2.5v5M682 188.5h5m-2.5-2.5v5M682 189.5h5m-2.5-2.5v5M682 192.5h5m-2.5-2.5v5M682 194.5h5m-2.5-2.5v5M682 195.5h5m-2.5-2.5v5M683 195.5h5m-2.5-2.5v5M683 197.5h5m-2.5-2.5v5M683 202.5h5m-2.5-2.5v5M683 200.5h5m-2.5-2.5v5M683 201.5h5m-2.5-2.5v5M683 206.5h5m-2.5-2.5v5M683 205.5h5m-2.5-2.5v5M683 208.5h5m-2.5-2.5v5M684 208.5h5m-2.5-2.5v5M683 207.5h5m-2.5-2.5v5M684 207.5h5m-2.5-2.5v5M684 210.5h5m-2.5-2.5v5M684 211.5h5m-2.5-2.5v5M684 213.5h5m-2.5-2.5v5M684 212.5h5m-2.5-2.5v5M685 211.5h5m-2.5-2.5v5M684 209.5h5m-2.5-2.5v5M685 212.5h5m-2.5-2.5v5M685 213.5h5m-2.5-2.5v5M685 215.5h5m-2.5-2.5v5M685 214.5h5m-2.5-2.5v5M686 215.5h5m-2.5-2.5v5M686 214.5h5m-2.5-2.5v5M686 213.5h5m-2.5-2.5v5M686 211.5h5m-2.5-2.5v5M686 210.5h5m-2.5-2.5v5M686 212.5h5m-2.5-2.5v5M687 212.5h5m-2.5-2.5v5M687 210.5h5m-2.5-2.5v5M687 211.5h5m-2.5-2.5v5M687 209.5h5m-2.5-2.5v5M687 208.5h5m-2.5-2.5v5M688 205.5h5m-2.5-2.5v5M688 206.5h5m-2.5-2.5v5M688 202.5h5m-2.5-2.5v5M688 203.5h5m-2.5-2.5v5M688 200.5h5m-2.5-2.5v5M689 199.5h5m-2.5-2.5v5M688 204.5h5m-2.5-2.5v5M688 201.5h5m-2.5-2.5v5M689 202.5h5m-2.5-2.5v5M689 201.5h5m-2.5-2.5v5M690 203.5h5m-2.5-2.5v5M689 198.5h5m-2.5-2.5v5M690 196.5h5m-2.5-2.5v5M690 197.5h5m-2.5-2.5v5M690 201.5h5m-2.5-2.5v5M690 202.5h5m-2.5-2.5v5M690 207.5h5m-2.5-2.5v5M691 208.5h5m-2.5-2.5v5M691 205.5h5m-2.5-2.5v5M691 211.5h5m-2.5-2.5v5M691 212.5h5m-2.5-2.5v5M691 214.5h5m-2.5-2.5v5M691 213.5h5m-2.5-2.5v5M691 215.5h5m-2.5-2.5v5M692 214.5h5m-2.5-2.5v5M692 212.5h5m-2.5-2.5v5M692 211.5h5m-2.5-2.5v5M692 210.5h5m-2.5-2.5v5M693 211.5h5m-2.5-2.5v5M693 207.5h5m-2.5-2.5v5M692 209.5h5m-2.5-2.5v5M693 206.5h5m-2.5-2.5v5M693 204.5h5m-2.5-2.5v5M693 202.5h5m-2.5-2.5v5M693 201.5h5m-2.5-2.5v5M693 196.5h5m-2.5-2.5v5M694 196.5h5m-2.5-2.5v5M694 197.5h5m-2.5-2.5v5M694 194.5h5m-2.5-2.5v5M694 192.5h5m-2.5-2.5v5M695 194.5h5m-2.5-2.5v5M695 188.5h5m-2.5-2.5v5M695 186.5h5m-2.5-2.5v5M694 184.5h5m-2.5-2.5v5M695 181.5h5m-2.5-2.5v5M695 179.5h5m-2.5-2.5v5M694 179.5h5m-2.5-2.5v5M695 178.5h5m-2.5-2.5v5M695 177.5h5m-2.5-2.5v5M696 173.5h5m-2.5-2.5v5M696 172.5h5m-2.5-2.5v5M696 170.5h5m-2.5-2.5v5M696 166.5h5m-2.5-2.5v5M696 163.5h5m-2.5-2.5v5M696 162.5h5m-2.5-2.5v5M696 158.5h5m-2.5-2.5v5M696 156.5h5m-2.5-2.5v5M696 154.5h5m-2.5-2.5v5M696 151.5h5m-2.5-2.5v5M697 152.5h5m-2.5-2.5v5M696 152.5h5m-2.5-2.5v5M697 147.5h5m-2.5-2.5v5M697 149.5h5m-2.5-2.5v5M697 144.5h5m-2.5-2.5v5M697 146.5h5m-2.5-2.5v5M698 146.5h5m-2.5-2.5v5M698 144.5h5m-2.5-2.5v5M697 142.5h5m-2.5-2.5v5M698 145.5h5m-2.5-2.5v5M698 140.5h5m-2.5-2.5v5M698 139.5h5m-2.5-2.5v5M699 139.5h5m-2.5-2.5v5M699 142.5h5m-2.5-2.5v5M698 142.5h5m-2.5-2.5v5M699 146.5h5m-2.5-2.5v5M699 148.5h5m-2.5-2.5v5M699 151.5h5m-2.5-2.5v5M699 150.5h5m-2.5-2.5v5M699 152.5h5m-2.5-2.5v5M700 154.5h5m-2.5-2.5v5M699 156.5h5m-2.5-2.5v5M700 157.5h5m-2.5-2.5v5M700 156.5h5m-2.5-2.5v5M700 160.5h5m-2.5-2.5v5M700 162.5h5m-2.5-2.5v5M701 165.5h5m-2.5-2.5v5M701 170.5h5m-2.5-2.5v5M701 173.5h5m-2.5-2.5v5M700 175.5h5m-2.5-2.5v5M701 177.5h5m-2.5-2.5v5M701 183.5h5m-2.5-2.5v5M701 185.5h5m-2.5-2.5v5M702 186.5h5m-2.5-2.5v5M702 188.5h5m-2.5-2.5v5M702 192.5h5m-2.5-2.5v5M702 191.5h5m-2.5-2.5v5M702 193.5h5m-2.5-2.5v5M702 199.5h5m-2.5-2.5v5M702 196.5h5m-2.5-2.5v5M703 199.5h5m-2.5-2.5v5M703 198.5h5m-2.5-2.5v5M703 202.5h5m-2.5-2.5v5M703 201.5h5m-2.5-2.5v5M703 203.5h5m-2.5-2.5v5M703 205.5h5m-2.5-2.5v5M703 207.5h5m-2.5-2.5v5M704 208.5h5m-2.5-2.5v5M704 206.5h5m-2.5-2.5v5M704 209.5h5m-2.5-2.5v5M704 212.5h5m-2.5-2.5v5M704 214.5h5m-2.5-2.5v5M704 215.5h5m-2.5-2.5v5M704 218.5h5m-2.5-2.5v5M704 219.5h5m-2.5-2.5v5M704 220.5h5m-2.5-2.5v5M705 216.5h5m-2.5-2.5v5M705 218.5h5m-2.5-2.5v5M705 215.5h5m-2.5-2.5v5M705 220.5h5m-2.5-2.5v5M705 217.5h5m-2.5-2.5v5M705 214.5h5m-2.5-2.5v5M705 213.5h5m-2.5-2.5v5M705 212.5h5m-2.5-2.5v5M706 210.5h5m-2.5-2.5v5M706 209.5h5m-2.5-2.5v5M706 211.5h5m-2.5-2.5v5M706 208.5h5m-2.5-2.5v5M706 206.5h5m-2.5-2.5v5M706 203.5h5m-2.5-2.5v5M706 204.5h5m-2.5-2.5v5M706 201.5h5m-2.5-2.5v5M706 199.5h5m-2.5-2.5v5M706 198.5h5m-2.5-2.5v5M707 199.5h5m-2.5-2.5v5M707 193.5h5m-2.5-2.5v5M707 194.5h5m-2.5-2.5v5M708 197.5h5m-2.5-2.5v5M707 196.5h5m-2.5-2.5v5M708 193.5h5m-2.5-2.5v5M708 190.5h5m-2.5-2.5v5M708 187.5h5m-2.5-2.5v5M708 185.5h5m-2.5-2.5v5M709 184.5h5m-2.5-2.5v5M708 182.5h5m-2.5-2.5v5M708 183.5h5m-2.5-2.5v5M709 181.5h5m-2.5-2.5v5M709 179.5h5m-2.5-2.5v5M709 177.5h5m-2.5-2.5v5M709 174.5h5m-2.5-2.5v5M709 172.5h5m-2.5-2.5v5M708 173.5h5m-2.5-2.5v5M710 171.5h5m-2.5-2.5v5M710 170.5h5m-2.5-2.5v5M710 172.5h5m-2.5-2.5v5M710 174.5h5m-2.5-2.5v5M709 173.5h5m-2.5-2.5v5M710 175.5h5m-2.5-2.5v5M710 178.5h5m-2.5-2.5v5M710 180.5h5m-2.5-2.5v5M711 179.5h5m-2.5-2.5v5M711 182.5h5m-2.5-2.5v5M711 181.5h5m-2.5-2.5v5M711 180.5h5m-2.5-2.5v5M712 183.5h5m-2.5-2.5v5M712 187.5h5m-2.5-2.5v5M712 186.5h5m-2.5-2.5v5M712 184.5h5m-2.5-2.5v5M713 187.5h5m-2.5-2.5v5M713 184.5h5m-2.5-2.5v5M713 185.5h5m-2.5-2.5v5M713 186.5h5m-2.5-2.5v5M714 187.5h5m-2.5-2.5v5M714 185.5h5m-2.5-2.5v5M714 182.5h5m-2.5-2.5v5M714 181.5h5m-2.5-2.5v5M714 179.5h5m-2.5-2.5v5M714 176.5h5m-2.5-2.5v5M714 174.5h5m-2.5-2.5v5M715 174.5h5m-2.5-2.5v5M714 173.5h5m-2.5-2.5v5M716 176.5h5m-2.5-2.5v5M715 178.5h5m-2.5-2.5v5M715 177.5h5m-2.5-2.5v5M715 176.5h5m-2.5-2.5v5M716 178.5h5m-2.5-2.5v5M716 177.5h5m-2.5-2.5v5M716 180.5h5m-2.5-2.5v5M716 175.5h5m-2.5-2.5v5M717 177.5h5m-2.5-2.5v5M717 174.5h5m-2.5-2.5v5M717 176.5h5m-2.5-2.5v5M717 179.5h5m-2.5-2.5v5M717 180.5h5m-2.5-2.5v5M717 178.5h5m-2.5-2.5v5M717 182.5h5m-2.5-2.5v5M717 183.5h5m-2.5-2.5v5M718 184.5h5m-2.5-2.5v5M718 187.5h5m-2.5-2.5v5M718 186.5h5m-2.5-2.5v5M718 189.5h5m-2.5-2.5v5M718 188.5h5m-2.5-2.5v5M719 189.5h5m-2.5-2.5v5M719 188.5h5m-2.5-2.5v5M719 187.5h5m-2.5-2.5v5M719 190.5h5m-2.5-2.5v5M719 192.5h5m-2.5-2.5v5M720 191.5h5m-2.5-2.5v5M720 193.5h5m-2.5-2.5v5M719 195.5h5m-2.5-2.5v5M719 193.5h5m-2.5-2.5v5M720 192.5h5m-2.5-2.5v5M720 195.5h5m-2.5-2.5v5M720 198.5h5m-2.5-2.5v5M720 201.5h5m-2.5-2.5v5M721 200.5h5m-2.5-2.5v5M721 201.5h5m-2.5-2.5v5M721 203.5h5m-2.5-2.5v5M721 202.5h5m-2.5-2.5v5M721 204.5h5m-2.5-2.5v5M721 205.5h5m-2.5-2.5v5M721 209.5h5m-2.5-2.5v5M721 211.5h5m-2.5-2.5v5M722 211.5h5m-2.5-2.5v5M722 212.5h5m-2.5-2.5v5M722 210.5h5m-2.5-2.5v5M722 209.5h5m-2.5-2.5v5M723 212.5h5m-2.5-2.5v5M722 213.5h5m-2.5-2.5v5M723 211.5h5m-2.5-2.5v5M723 213.5h5m-2.5-2.5v5M723 208.5h5m-2.5-2.5v5M723 210.5h5m-2.5-2.5v5M724 210.5h5m-2.5-2.5v5M724 213.5h5m-2.5-2.5v5M724 212.5h5m-2.5-2.5v5M724 208.5h5m-2.5-2.5v5M724 209.5h5m-2.5-2.5v5M724 206.5h5m-2.5-2.5v5M724 207.5h5m-2.5-2.5v5M725 208.5h5m-2.5-2.5v5M725 207.5h5m-2.5-2.5v5M725 205.5h5m-2.5-2.5v5M725 204.5h5m-2.5-2.5v5M725 206.5h5m-2.5-2.5v5M725 200.5h5m-2.5-2.5v5M725 203.5h5m-2.5-2.5v5M725 202.5h5m-2.5-2.5v5M725 199.5h5m-2.5-2.5v5M726 197.5h5m-2.5-2.5v5M726 195.5h5m-2.5-2.5v5M725 195.5h5m-2.5-2.5v5M726 191.5h5m-2.5-2.5v5M726 192.5h5m-2.5-2.5v5M727 193.5h5m-2.5-2.5v5M726 193.5h5m-2.5-2.5v5M727 194.5h5m-2.5-2.5v5M727 196.5h5m-2.5-2.5v5M727 195.5h5m-2.5-2.5v5M727 190.5h5m-2.5-2.5v5M728 187.5h5m-2.5-2.5v5M727 188.5h5m-2.5-2.5v5M728 191.5h5m-2.5-2.5v5M728 194.5h5m-2.5-2.5v5M728 196.5h5m-2.5-2.5v5M728 195.5h5m-2.5-2.5v5M729 197.5h5m-2.5-2.5v5M728 198.5h5m-2.5-2.5v5M729 201.5h5m-2.5-2.5v5M728 202.5h5m-2.5-2.5v5M729 200.5h5m-2.5-2.5v5M729 203.5h5m-2.5-2.5v5M730 207.5h5m-2.5-2.5v5M729 208.5h5m-2.5-2.5v5M729 212.5h5m-2.5-2.5v5M729 217.5h5m-2.5-2.5v5M729 218.5h5m-2.5-2.5v5M730 216.5h5m-2.5-2.5v5M730 217.5h5m-2.5-2.5v5M730 219.5h5m-2.5-2.5v5M730 218.5h5m-2.5-2.5v5M731 217.5h5m-2.5-2.5v5M731 216.5h5m-2.5-2.5v5M731 215.5h5m-2.5-2.5v5M730 211.5h5m-2.5-2.5v5M731 209.5h5m-2.5-2.5v5M731 207.5h5m-2.5-2.5v5M731 208.5h5m-2.5-2.5v5M732 206.5h5m-2.5-2.5v5M732 205.5h5m-2.5-2.5v5M732 203.5h5m-2.5-2.5v5M732 202.5h5m-2.5-2.5v5M732 200.5h5m-2.5-2.5v5M732 199.5h5m-2.5-2.5v5M732 197.5h5m-2.5-2.5v5M733 196.5h5m-2.5-2.5v5M733 198.5h5m-2.5-2.5v5M733 194.5h5m-2.5-2.5v5M733 190.5h5m-2.5-2.5v5M734 189.5h5m-2.5-2.5v5M734 183.5h5m-2.5-2.5v5M733 185.5h5m-2.5-2.5v5M733 186.5h5m-2.5-2.5v5M734 181.5h5m-2.5-2.5v5M734 179.5h5m-2.5-2.5v5M734 180.5h5m-2.5-2.5v5M734 176.5h5m-2.5-2.5v5M735 175.5h5m-2.5-2.5v5M735 173.5h5m-2.5-2.5v5M734 175.5h5m-2.5-2.5v5M735 174.5h5m-2.5-2.5v5M735 172.5h5m-2.5-2.5v5M735 178.5h5m-2.5-2.5v5M735 179.5h5m-2.5-2.5v5M736 178.5h5m-2.5-2.5v5M736 180.5h5m-2.5-2.5v5M736 184.5h5m-2.5-2.5v5M737 182.5h5m-2.5-2.5v5M737 181.5h5m-2.5-2.5v5M736 186.5h5m-2.5-2.5v5M736 185.5h5m-2.5-2.5v5M737 183.5h5m-2.5-2.5v5M737 184.5h5m-2.5-2.5v5M737 185.5h5m-2.5-2.5v5M737 186.5h5m-2.5-2.5v5M737 188.5h5m-2.5-2.5v5M737 187.5h5m-2.5-2.5v5M738 190.5h5m-2.5-2.5v5M738 191.5h5m-2.5-2.5v5M738 192.5h5m-2.5-2.5v5M737 192.5h5m-2.5-2.5v5M738 193.5h5m-2.5-2.5v5M739 190.5h5m-2.5-2.5v5M738 194.5h5m-2.5-2.5v5M739 193.5h5m-2.5-2.5v5M738 197.5h5m-2.5-2.5v5M739 198.5h5m-2.5-2.5v5M739 196.5h5m-2.5-2.5v5M739 194.5h5m-2.5-2.5v5M739 197.5h5m-2.5-2.5v5M740 201.5h5m-2.5-2.5v5M740 199.5h5m-2.5-2.5v5M740 202.5h5m-2.5-2.5v5M739 202.5h5m-2.5-2.5v5M739 200.5h5m-2.5-2.5v5M740 200.5h5m-2.5-2.5v5M740 198.5h5m-2.5-2.5v5M741 201.5h5m-2.5-2.5v5M741 200.5h5m-2.5-2.5v5M741 199.5h5m-2.5-2.5v5M741 196.5h5m-2.5-2.5v5M742 195.5h5m-2.5-2.5v5M742 193.5h5m-2.5-2.5v5M741 192.5h5m-2.5-2.5v5M742 191.5h5m-2.5-2.5v5M742 190.5h5m-2.5-2.5v5M742 192.5h5m-2.5-2.5v5M743 193.5h5m-2.5-2.5v5M742 194.5h5m-2.5-2.5v5M743 191.5h5m-2.5-2.5v5M743 190.5h5m-2.5-2.5v5M744 192.5h5m-2.5-2.5v5M743 192.5h5m-2.5-2.5v5M744 195.5h5m-2.5-2.5v5M744 191.5h5m-2.5-2.5v5M744 193.5h5m-2.5-2.5v5M745 191.5h5m-2.5-2.5v5M745 193.5h5m-2.5-2.5v5M745 195.5h5m-2.5-2.5v5M745 197.5h5m-2.5-2.5v5M745 198.5h5m-2.5-2.5v5M745 196.5h5m-2.5-2.5v5M745 201.5h5m-2.5-2.5v5M745 204.5h5m-2.5-2.5v5M745 205.5h5m-2.5-2.5v5M745 209.5h5m-2.5-2.5v5M745 213.5h5m-2.5-2.5v5M745 215.5h5m-2.5-2.5v5M746 216.5h5m-2.5-2.5v5M746 220.5h5m-2.5-2.5v5M746 223.5h5m-2.5-2.5v5M746 227.5h5m-2.5-2.5v5M746 229.5h5m-2.5-2.5v5M746 233.5h5m-2.5-2.5v5M746 237.5h5m-2.5-2.5v5M746 242.5h5m-2.5-2.5v5M747 241.5h5m-2.5-2.5v5M746 244.5h5m-2.5-2.5v5M746 240.5h5m-2.5-2.5v5M747 240.5h5m-2.5-2.5v5M747 242.5h5m-2.5-2.5v5M747 239.5h5m-2.5-2.5v5M747 238.5h5m-2.5-2.5v5M748 236.5h5m-2.5-2.5v5M747 234.5h5m-2.5-2.5v5M748 238.5h5m-2.5-2.5v5M748 235.5h5m-2.5-2.5v5M748 233.5h5m-2.5-2.5v5M749 233.5h5m-2.5-2.5v5M749 235.5h5m-2.5-2.5v5M749 232.5h5m-2.5-2.5v5M749 229.5h5m-2.5-2.5v5M749 228.5h5m-2.5-2.5v5M749 230.5h5m-2.5-2.5v5M749 227.5h5m-2.5-2.5v5M749 226.5h5m-2.5-2.5v5M749 223.5h5m-2.5-2.5v5M749 222.5h5m-2.5-2.5v5M750 218.5h5m-2.5-2.5v5M749 218.5h5m-2.5-2.5v5M750 214.5h5m-2.5-2.5v5M750 217.5h5m-2.5-2.5v5M750 212.5h5m-2.5-2.5v5M750 213.5h5m-2.5-2.5v5M750 215.5h5m-2.5-2.5v5M751 215.5h5m-2.5-2.5v5M751 213.5h5m-2.5-2.5v5M751 211.5h5m-2.5-2.5v5M751 209.5h5m-2.5-2.5v5M751 207.5h5m-2.5-2.5v5M751 206.5h5m-2.5-2.5v5M751 205.5h5m-2.5-2.5v5M752 203.5h5m-2.5-2.5v5M752 204.5h5m-2.5-2.5v5M752 202.5h5m-2.5-2.5v5M752 201.5h5m-2.5-2.5v5M752 199.5h5m-2.5-2.5v5M751 202.5h5m-2.5-2.5v5M752 205.5h5m-2.5-2.5v5M753 204.5h5m-2.5-2.5v5M753 201.5h5m-2.5-2.5v5M753 199.5h5m-2.5-2.5v5M753 203.5h5m-2.5-2.5v5M753 200.5h5m-2.5-2.5v5M754 200.5h5m-2.5-2.5v5M754 199.5h5m-2.5-2.5v5M754 196.5h5m-2.5-2.5v5M754 198.5h5m-2.5-2.5v5M754 197.5h5m-2.5-2.5v5M755 200.5h5m-2.5-2.5v5M755 202.5h5m-2.5-2.5v5M755 203.5h5m-2.5-2.5v5M755 204.5h5m-2.5-2.5v5M756 202.5h5m-2.5-2.5v5M756 201.5h5m-2.5-2.5v5M756 204.5h5m-2.5-2.5v5M756 208.5h5m-2.5-2.5v5M756 205.5h5m-2.5-2.5v5M756 206.5h5m-2.5-2.5v5M757 209.5h5m-2.5-2.5v5M756 209.5h5m-2.5-2.5v5M757 207.5h5m-2.5-2.5v5M757 208.5h5m-2.5-2.5v5M757 210.5h5m-2.5-2.5v5M757 213.5h5m-2.5-2.5v5M757 212.5h5m-2.5-2.5v5M758 218.5h5m-2.5-2.5v5M757 218.5h5m-2.5-2.5v5M758 220.5h5m-2.5-2.5v5M758 221.5h5m-2.5-2.5v5M758 222.5h5m-2.5-2.5v5M759 226.5h5m-2.5-2.5v5M758 228.5h5m-2.5-2.5v5M759 229.5h5m-2.5-2.5v5M759 231.5h5m-2.5-2.5v5M759 232.5h5m-2.5-2.5v5M759 228.5h5m-2.5-2.5v5M759 225.5h5m-2.5-2.5v5M759 223.5h5m-2.5-2.5v5M759 222.5h5m-2.5-2.5v5M760 223.5h5m-2.5-2.5v5M759 219.5h5m-2.5-2.5v5M760 217.5h5m-2.5-2.5v5M760 216.5h5m-2.5-2.5v5M760 215.5h5m-2.5-2.5v5M760 212.5h5m-2.5-2.5v5M760 208.5h5m-2.5-2.5v5M760 207.5h5m-2.5-2.5v5M760 203.5h5m-2.5-2.5v5M761 203.5h5m-2.5-2.5v5M760 202.5h5m-2.5-2.5v5M761 198.5h5m-2.5-2.5v5M761 195.5h5m-2.5-2.5v5M761 193.5h5m-2.5-2.5v5M761 192.5h5m-2.5-2.5v5M762 191.5h5m-2.5-2.5v5M762 188.5h5m-2.5-2.5v5M762 187.5h5m-2.5-2.5v5M761 185.5h5m-2.5-2.5v5M762 186.5h5m-2.5-2.5v5M762 182.5h5m-2.5-2.5v5M762 181.5h5m-2.5-2.5v5M762 180.5h5m-2.5-2.5v5M762 177.5h5m-2.5-2.5v5M763 177.5h5m-2.5-2.5v5M763 176.5h5m-2.5-2.5v5M763 175.5h5m-2.5-2.5v5M763 173.5h5m-2.5-2.5v5M763 171.5h5m-2.5-2.5v5M763 170.5h5m-2.5-2.5v5M763 172.5h5m-2.5-2.5v5M764 169.5h5m-2.5-2.5v5M763 168.5h5m-2.5-2.5v5M764 166.5h5m-2.5-2.5v5M764 168.5h5m-2.5-2.5v5M764 171.5h5m-2.5-2.5v5M765 172.5h5m-2.5-2.5v5M764 173.5h5m-2.5-2.5v5M764 172.5h5m-2.5-2.5v5M764 174.5h5m-2.5-2.5v5M765 174.5h5m-2.5-2.5v5M765 175.5h5m-2.5-2.5v5M765 177.5h5m-2.5-2.5v5M765 178.5h5m-2.5-2.5v5M766 177.5h5m-2.5-2.5v5M766 178.5h5m-2.5-2.5v5M766 179.5h5m-2.5-2.5v5M766 181.5h5m-2.5-2.5v5M766 183.5h5m-2.5-2.5v5M766 185.5h5m-2.5-2.5v5M766 186.5h5m-2.5-2.5v5M767 188.5h5m-2.5-2.5v5M767 183.5h5m-2.5-2.5v5M766 189.5h5m-2.5-2.5v5M767 189.5h5m-2.5-2.5v5M767 190.5h5m-2.5-2.5v5M767 191.5h5m-2.5-2.5v5M767 193.5h5m-2.5-2.5v5M768 194.5h5m-2.5-2.5v5M768 195.5h5m-2.5-2.5v5M767 196.5h5m-2.5-2.5v5M767 199.5h5m-2.5-2.5v5M768 201.5h5m-2.5-2.5v5M768 202.5h5m-2.5-2.5v5M768 199.5h5m-2.5-2.5v5M768 200.5h5m-2.5-2.5v5M768 197.5h5m-2.5-2.5v5M769 199.5h5m-2.5-2.5v5M769 200.5h5m-2.5-2.5v5M770 200.5h5m-2.5-2.5v5M769 201.5h5m-2.5-2.5v5M770 199.5h5m-2.5-2.5v5M770 196.5h5m-2.5-2.5v5M770 197.5h5m-2.5-2.5v5M770 198.5h5m-2.5-2.5v5M771 197.5h5m-2.5-2.5v5M771 201.5h5m-2.5-2.5v5M771 200.5h5m-2.5-2.5v5M771 199.5h5m-2.5-2.5v5M771 198.5h5m-2.5-2.5v5M772 195.5h5m-2.5-2.5v5M772 198.5h5m-2.5-2.5v5M772 196.5h5m-2.5-2.5v5M772 197.5h5m-2.5-2.5v5M773 197.5h5m-2.5-2.5v5M773 199.5h5m-2.5-2.5v5M773 200.5h5m-2.5-2.5v5M773 198.5h5m-2.5-2.5v5M774 197.5h5m-2.5-2.5v5M773 195.5h5m-2.5-2.5v5M773 196.5h5m-2.5-2.5v5M774 194.5h5m-2.5-2.5v5M774 199.5h5m-2.5-2.5v5M774 201.5h5m-2.5-2.5v5M774 202.5h5m-2.5-2.5v5M775 198.5h5m-2.5-2.5v5M774 198.5h5m-2.5-2.5v5M775 200.5h5m-2.5-2.5v5M775 206.5h5m-2.5-2.5v5M775 207.5h5m-2.5-2.5v5M775 209.5h5m-2.5-2.5v5M776 208.5h5m-2.5-2.5v5M775 210.5h5m-2.5-2.5v5M776 209.5h5m-2.5-2.5v5M776 210.5h5m-2.5-2.5v5M776 215.5h5m-2.5-2.5v5M776 214.5h5m-2.5-2.5v5M776 217.5h5m-2.5-2.5v5M777 217.5h5m-2.5-2.5v5M777 222.5h5m-2.5-2.5v5M776 221.5h5m-2.5-2.5v5M777 223.5h5m-2.5-2.5v5M777 224.5h5m-2.5-2.5v5M777 226.5h5m-2.5-2.5v5M777 230.5h5m-2.5-2.5v5M777 231.5h5m-2.5-2.5v5M777 233.5h5m-2.5-2.5v5M777 234.5h5m-2.5-2.5v5M778 238.5h5m-2.5-2.5v5M777 238.5h5m-2.5-2.5v5M778 239.5h5m-2.5-2.5v5M778 240.5h5m-2.5-2.5v5M778 241.5h5m-2.5-2.5v5M778 236.5h5m-2.5-2.5v5M779 236.5h5m-2.5-2.5v5M778 233.5h5m-2.5-2.5v5M778 234.5h5m-2.5-2.5v5M779 231.5h5m-2.5-2.5v5M779 229.5h5m-2.5-2.5v5M778 226.5h5m-2.5-2.5v5M779 227.5h5m-2.5-2.5v5M779 226.5h5m-2.5-2.5v5M779 222.5h5m-2.5-2.5v5M779 218.5h5m-2.5-2.5v5M779 216.5h5m-2.5-2.5v5M780 213.5h5m-2.5-2.5v5M779 212.5h5m-2.5-2.5v5M780 210.5h5m-2.5-2.5v5M780 208.5h5m-2.5-2.5v5M780 204.5h5m-2.5-2.5v5M780 199.5h5m-2.5-2.5v5M780 198.5h5m-2.5-2.5v5M780 196.5h5m-2.5-2.5v5M780 193.5h5m-2.5-2.5v5M780 195.5h5m-2.5-2.5v5M781 189.5h5m-2.5-2.5v5M780 186.5h5m-2.5-2.5v5M781 187.5h5m-2.5-2.5v5M781 186.5h5m-2.5-2.5v5M781 184.5h5m-2.5-2.5v5M781 183.5h5m-2.5-2.5v5M782 184.5h5m-2.5-2.5v5M782 179.5h5m-2.5-2.5v5M781 182.5h5m-2.5-2.5v5M781 180.5h5m-2.5-2.5v5M782 180.5h5m-2.5-2.5v5M782 176.5h5m-2.5-2.5v5M782 174.5h5m-2.5-2.5v5M782 172.5h5m-2.5-2.5v5M783 175.5h5m-2.5-2.5v5M783 172.5h5m-2.5-2.5v5M783 170.5h5m-2.5-2.5v5M783 173.5h5m-2.5-2.5v5M783 174.5h5m-2.5-2.5v5M784 173.5h5m-2.5-2.5v5M783 171.5h5m-2.5-2.5v5M784 174.5h5m-2.5-2.5v5M784 177.5h5m-2.5-2.5v5M784 176.5h5m-2.5-2.5v5M785 175.5h5m-2.5-2.5v5M785 176.5h5m-2.5-2.5v5M785 177.5h5m-2.5-2.5v5M784 178.5h5m-2.5-2.5v5M785 182.5h5m-2.5-2.5v5M785 184.5h5m-2.5-2.5v5M785 183.5h5m-2.5-2.5v5M785 185.5h5m-2.5-2.5v5M785 186.5h5m-2.5-2.5v5M786 185.5h5m-2.5-2.5v5M786 186.5h5m-2.5-2.5v5M786 187.5h5m-2.5-2.5v5M786 190.5h5m-2.5-2.5v5M787 187.5h5m-2.5-2.5v5M787 185.5h5m-2.5-2.5v5M787 186.5h5m-2.5-2.5v5M787 188.5h5m-2.5-2.5v5M787 190.5h5m-2.5-2.5v5M787 191.5h5m-2.5-2.5v5M788 187.5h5m-2.5-2.5v5M788 186.5h5m-2.5-2.5v5M788 188.5h5m-2.5-2.5v5M788 185.5h5m-2.5-2.5v5M788 189.5h5m-2.5-2.5v5M789 191.5h5m-2.5-2.5v5M788 191.5h5m-2.5-2.5v5M788 190.5h5m-2.5-2.5v5M789 188.5h5m-2.5-2.5v5M789 190.5h5m-2.5-2.5v5M789 189.5h5m-2.5-2.5v5M789 192.5h5m-2.5-2.5v5M790 192.5h5m-2.5-2.5v5M790 191.5h5m-2.5-2.5v5M790 194.5h5m-2.5-2.5v5M791 197.5h5m-2.5-2.5v5M790 198.5h5m-2.5-2.5v5M791 196.5h5m-2.5-2.5v5M790 199.5h5m-2.5-2.5v5M791 194.5h5m-2.5-2.5v5M791 198.5h5m-2.5-2.5v5M792 202.5h5m-2.5-2.5v5M792 204.5h5m-2.5-2.5v5M792 205.5h5m-2.5-2.5v5M792 206.5h5m-2.5-2.5v5M792 208.5h5m-2.5-2.5v5M792 209.5h5m-2.5-2.5v5M793 210.5h5m-2.5-2.5v5M793 209.5h5m-2.5-2.5v5M793 212.5h5m-2.5-2.5v5M793 214.5h5m-2.5-2.5v5M794 215.5h5m-2.5-2.5v5M793 215.5h5m-2.5-2.5v5M794 216.5h5m-2.5-2.5v5M794 214.5h5m-2.5-2.5v5M794 219.5h5m-2.5-2.5v5M794 224.5h5m-2.5-2.5v5M794 225.5h5m-2.5-2.5v5M795 226.5h5m-2.5-2.5v5M795 228.5h5m-2.5-2.5v5M795 229.5h5m-2.5-2.5v5M795 233.5h5m-2.5-2.5v5M795 234.5h5m-2.5-2.5v5M796 235.5h5m-2.5-2.5v5M795 235.5h5m-2.5-2.5v5M795 239.5h5m-2.5-2.5v5M795 238.5h5m-2.5-2.5v5M796 238.5h5m-2.5-2.5v5M796 236.5h5m-2.5-2.5v5M796 237.5h5m-2.5-2.5v5M796 234.5h5m-2.5-2.5v5M796 232.5h5m-2.5-2.5v5M796 231.5h5m-2.5-2.5v5M797 231.5h5m-2.5-2.5v5M796 230.5h5m-2.5-2.5v5M797 230.5h5m-2.5-2.5v5M797 227.5h5m-2.5-2.5v5M797 226.5h5m-2.5-2.5v5M797 221.5h5m-2.5-2.5v5M798 221.5h5m-2.5-2.5v5M798 219.5h5m-2.5-2.5v5M797 219.5h5m-2.5-2.5v5M798 218.5h5m-2.5-2.5v5M798 217.5h5m-2.5-2.5v5M798 215.5h5m-2.5-2.5v5M798 212.5h5m-2.5-2.5v5M798 211.5h5m-2.5-2.5v5M799 209.5h5m-2.5-2.5v5M799 207.5h5m-2.5-2.5v5M799 208.5h5m-2.5-2.5v5M799 204.5h5m-2.5-2.5v5M800 200.5h5m-2.5-2.5v5M799 202.5h5m-2.5-2.5v5M799 198.5h5m-2.5-2.5v5M799 197.5h5m-2.5-2.5v5M800 197.5h5m-2.5-2.5v5M800 193.5h5m-2.5-2.5v5M800 192.5h5m-2.5-2.5v5M800 194.5h5m-2.5-2.5v5M801 194.5h5m-2.5-2.5v5M800 196.5h5m-2.5-2.5v5M801 195.5h5m-2.5-2.5v5M801 192.5h5m-2.5-2.5v5M801 193.5h5m-2.5-2.5v5M801 191.5h5m-2.5-2.5v5M801 190.5h5m-2.5-2.5v5M802 192.5h5m-2.5-2.5v5M802 193.5h5m-2.5-2.5v5M802 191.5h5m-2.5-2.5v5M803 193.5h5m-2.5-2.5v5M802 194.5h5m-2.5-2.5v5M803 195.5h5m-2.5-2.5v5M802 197.5h5m-2.5-2.5v5M803 197.5h5m-2.5-2.5v5M803 198.5h5m-2.5-2.5v5M804 199.5h5m-2.5-2.5v5M803 199.5h5m-2.5-2.5v5M803 201.5h5m-2.5-2.5v5M804 197.5h5m-2.5-2.5v5M804 200.5h5m-2.5-2.5v5M804 205.5h5m-2.5-2.5v5M804 206.5h5m-2.5-2.5v5M805 208.5h5m-2.5-2.5v5M804 213.5h5m-2.5-2.5v5M805 212.5h5m-2.5-2.5v5M805 217.5h5m-2.5-2.5v5M805 222.5h5m-2.5-2.5v5M805 218.5h5m-2.5-2.5v5M805 220.5h5m-2.5-2.5v5M805 216.5h5m-2.5-2.5v5M805 214.5h5m-2.5-2.5v5M806 212.5h5m-2.5-2.5v5M806 211.5h5m-2.5-2.5v5M806 209.5h5m-2.5-2.5v5M806 207.5h5m-2.5-2.5v5M806 205.5h5m-2.5-2.5v5M806 206.5h5m-2.5-2.5v5M806 201.5h5m-2.5-2.5v5M807 200.5h5m-2.5-2.5v5M806 196.5h5m-2.5-2.5v5M806 195.5h5m-2.5-2.5v5M806 194.5h5m-2.5-2.5v5M807 196.5h5m-2.5-2.5v5M807 195.5h5m-2.5-2.5v5M807 197.5h5m-2.5-2.5v5M807 194.5h5m-2.5-2.5v5M808 194.5h5m-2.5-2.5v5M808 192.5h5m-2.5-2.5v5M808 193.5h5m-2.5-2.5v5M807 193.5h5m-2.5-2.5v5M808 190.5h5m-2.5-2.5v5M808 189.5h5m-2.5-2.5v5M808 188.5h5m-2.5-2.5v5M809 189.5h5m-2.5-2.5v5M809 191.5h5m-2.5-2.5v5M809 192.5h5m-2.5-2.5v5M809 190.5h5m-2.5-2.5v5M809 193.5h5m-2.5-2.5v5M810 193.5h5m-2.5-2.5v5M810 194.5h5m-2.5-2.5v5M810 196.5h5m-2.5-2.5v5M810 195.5h5m-2.5-2.5v5M810 200.5h5m-2.5-2.5v5M811 203.5h5m-2.5-2.5v5M811 206.5h5m-2.5-2.5v5M810 208.5h5m-2.5-2.5v5M811 207.5h5m-2.5-2.5v5M811 209.5h5m-2.5-2.5v5M811 210.5h5m-2.5-2.5v5M811 211.5h5m-2.5-2.5v5M811 215.5h5m-2.5-2.5v5M812 218.5h5m-2.5-2.5v5M812 220.5h5m-2.5-2.5v5M811 220.5h5m-2.5-2.5v5M811 224.5h5m-2.5-2.5v5M812 225.5h5m-2.5-2.5v5M812 227.5h5m-2.5-2.5v5M812 228.5h5m-2.5-2.5v5M813 230.5h5m-2.5-2.5v5M813 228.5h5m-2.5-2.5v5M813 234.5h5m-2.5-2.5v5M812 233.5h5m-2.5-2.5v5M813 233.5h5m-2.5-2.5v5M813 237.5h5m-2.5-2.5v5M813 239.5h5m-2.5-2.5v5M813 241.5h5m-2.5-2.5v5M813 245.5h5m-2.5-2.5v5M813 244.5h5m-2.5-2.5v5M814 247.5h5m-2.5-2.5v5M814 246.5h5m-2.5-2.5v5M814 245.5h5m-2.5-2.5v5M814 243.5h5m-2.5-2.5v5M814 242.5h5m-2.5-2.5v5M814 240.5h5m-2.5-2.5v5M815 236.5h5m-2.5-2.5v5M814 235.5h5m-2.5-2.5v5M815 231.5h5m-2.5-2.5v5M815 228.5h5m-2.5-2.5v5M815 229.5h5m-2.5-2.5v5M815 227.5h5m-2.5-2.5v5M815 226.5h5m-2.5-2.5v5M816 223.5h5m-2.5-2.5v5M816 221.5h5m-2.5-2.5v5M816 220.5h5m-2.5-2.5v5M816 219.5h5m-2.5-2.5v5M816 216.5h5m-2.5-2.5v5M816 214.5h5m-2.5-2.5v5M816 211.5h5m-2.5-2.5v5M816 209.5h5m-2.5-2.5v5M817 210.5h5m-2.5-2.5v5M817 207.5h5m-2.5-2.5v5M817 204.5h5m-2.5-2.5v5M816 203.5h5m-2.5-2.5v5M817 203.5h5m-2.5-2.5v5M817 200.5h5m-2.5-2.5v5M818 196.5h5m-2.5-2.5v5M817 194.5h5m-2.5-2.5v5M818 195.5h5m-2.5-2.5v5M818 193.5h5m-2.5-2.5v5M818 192.5h5m-2.5-2.5v5M818 191.5h5m-2.5-2.5v5M818 188.5h5m-2.5-2.5v5M818 186.5h5m-2.5-2.5v5M818 185.5h5m-2.5-2.5v5M819 183.5h5m-2.5-2.5v5M819 179.5h5m-2.5-2.5v5M819 181.5h5m-2.5-2.5v5M819 180.5h5m-2.5-2.5v5M819 178.5h5m-2.5-2.5v5M819 176.5h5m-2.5-2.5v5M819 177.5h5m-2.5-2.5v5M820 173.5h5m-2.5-2.5v5M819 173.5h5m-2.5-2.5v5M819 168.5h5m-2.5-2.5v5M819 167.5h5m-2.5-2.5v5M820 166.5h5m-2.5-2.5v5M820 165.5h5m-2.5-2.5v5M820 164.5h5m-2.5-2.5v5M820 167.5h5m-2.5-2.5v5M821 167.5h5m-2.5-2.5v5M821 168.5h5m-2.5-2.5v5M821 170.5h5m-2.5-2.5v5M821 169.5h5m-2.5-2.5v5M821 175.5h5m-2.5-2.5v5M822 178.5h5m-2.5-2.5v5M821 177.5h5m-2.5-2.5v5M822 183.5h5m-2.5-2.5v5M822 182.5h5m-2.5-2.5v5M822 184.5h5m-2.5-2.5v5M822 187.5h5m-2.5-2.5v5M822 185.5h5m-2.5-2.5v5M822 188.5h5m-2.5-2.5v5M823 191.5h5m-2.5-2.5v5M823 193.5h5m-2.5-2.5v5M824 195.5h5m-2.5-2.5v5M824 194.5h5m-2.5-2.5v5M823 196.5h5m-2.5-2.5v5M823 197.5h5m-2.5-2.5v5M824 197.5h5m-2.5-2.5v5M824 198.5h5m-2.5-2.5v5M824 202.5h5m-2.5-2.5v5M824 207.5h5m-2.5-2.5v5M824 206.5h5m-2.5-2.5v5M824 208.5h5m-2.5-2.5v5M825 206.5h5m-2.5-2.5v5M825 205.5h5m-2.5-2.5v5M825 208.5h5m-2.5-2.5v5M825 207.5h5m-2.5-2.5v5M825 210.5h5m-2.5-2.5v5M826 209.5h5m-2.5-2.5v5M826 210.5h5m-2.5-2.5v5M826 207.5h5m-2.5-2.5v5M826 208.5h5m-2.5-2.5v5M826 206.5h5m-2.5-2.5v5M826 205.5h5m-2.5-2.5v5M826 204.5h5m-2.5-2.5v5M827 203.5h5m-2.5-2.5v5M826 201.5h5m-2.5-2.5v5M827 202.5h5m-2.5-2.5v5M827 201.5h5m-2.5-2.5v5M827 198.5h5m-2.5-2.5v5M827 199.5h5m-2.5-2.5v5M827 195.5h5m-2.5-2.5v5M828 196.5h5m-2.5-2.5v5M827 194.5h5m-2.5-2.5v5M828 192.5h5m-2.5-2.5v5M828 191.5h5m-2.5-2.5v5M828 190.5h5m-2.5-2.5v5M828 188.5h5m-2.5-2.5v5M828 189.5h5m-2.5-2.5v5M829 192.5h5m-2.5-2.5v5M829 191.5h5m-2.5-2.5v5M829 190.5h5m-2.5-2.5v5M829 196.5h5m-2.5-2.5v5M829 195.5h5m-2.5-2.5v5M829 194.5h5m-2.5-2.5v5M829 200.5h5m-2.5-2.5v5M830 200.5h5m-2.5-2.5v5M829 199.5h5m-2.5-2.5v5M829 198.5h5m-2.5-2.5v5M830 198.5h5m-2.5-2.5v5M830 197.5h5m-2.5-2.5v5M830 201.5h5m-2.5-2.5v5M830 203.5h5m-2.5-2.5v5M830 206.5h5m-2.5-2.5v5M830 209.5h5m-2.5-2.5v5M831 208.5h5m-2.5-2.5v5M830 208.5h5m-2.5-2.5v5M830 210.5h5m-2.5-2.5v5M831 211.5h5m-2.5-2.5v5M831 212.5h5m-2.5-2.5v5M831 216.5h5m-2.5-2.5v5M831 217.5h5m-2.5-2.5v5M831 220.5h5m-2.5-2.5v5M832 218.5h5m-2.5-2.5v5M832 219.5h5m-2.5-2.5v5M832 221.5h5m-2.5-2.5v5M832 222.5h5m-2.5-2.5v5M832 224.5h5m-2.5-2.5v5M832 225.5h5m-2.5-2.5v5M833 225.5h5m-2.5-2.5v5M832 228.5h5m-2.5-2.5v5M833 231.5h5m-2.5-2.5v5M833 229.5h5m-2.5-2.5v5M833 233.5h5m-2.5-2.5v5M833 236.5h5m-2.5-2.5v5M834 237.5h5m-2.5-2.5v5M834 239.5h5m-2.5-2.5v5M834 236.5h5m-2.5-2.5v5M833 237.5h5m-2.5-2.5v5M834 238.5h5m-2.5-2.5v5M835 233.5h5m-2.5-2.5v5M834 233.5h5m-2.5-2.5v5M834 235.5h5m-2.5-2.5v5M834 232.5h5m-2.5-2.5v5M835 232.5h5m-2.5-2.5v5M835 231.5h5m-2.5-2.5v5M835 228.5h5m-2.5-2.5v5M836 229.5h5m-2.5-2.5v5M835 226.5h5m-2.5-2.5v5M836 225.5h5m-2.5-2.5v5M836 222.5h5m-2.5-2.5v5M835 221.5h5m-2.5-2.5v5M836 220.5h5m-2.5-2.5v5M836 216.5h5m-2.5-2.5v5M836 217.5h5m-2.5-2.5v5M837 215.5h5m-2.5-2.5v5M836 211.5h5m-2.5-2.5v5M836 210.5h5m-2.5-2.5v5M837 210.5h5m-2.5-2.5v5M836 209.5h5m-2.5-2.5v5M837 209.5h5m-2.5-2.5v5M837 208.5h5m-2.5-2.5v5M837 203.5h5m-2.5-2.5v5M837 200.5h5m-2.5-2.5v5M837 195.5h5m-2.5-2.5v5M838 196.5h5m-2.5-2.5v5M838 194.5h5m-2.5-2.5v5M838 193.5h5m-2.5-2.5v5M838 190.5h5m-2.5-2.5v5M838 188.5h5m-2.5-2.5v5M839 187.5h5m-2.5-2.5v5M838 185.5h5m-2.5-2.5v5M839 185.5h5m-2.5-2.5v5M839 182.5h5m-2.5-2.5v5M839 178.5h5m-2.5-2.5v5M839 176.5h5m-2.5-2.5v5M839 179.5h5m-2.5-2.5v5M840 176.5h5m-2.5-2.5v5M840 180.5h5m-2.5-2.5v5M840 179.5h5m-2.5-2.5v5M840 182.5h5m-2.5-2.5v5M840 184.5h5m-2.5-2.5v5M840 183.5h5m-2.5-2.5v5M840 186.5h5m-2.5-2.5v5M841 186.5h5m-2.5-2.5v5M841 187.5h5m-2.5-2.5v5M841 191.5h5m-2.5-2.5v5M841 188.5h5m-2.5-2.5v5M841 192.5h5m-2.5-2.5v5M841 194.5h5m-2.5-2.5v5M841 196.5h5m-2.5-2.5v5M842 198.5h5m-2.5-2.5v5M842 199.5h5m-2.5-2.5v5M842 197.5h5m-2.5-2.5v5M842 196.5h5m-2.5-2.5v5M842 200.5h5m-2.5-2.5v5M843 199.5h5m-2.5-2.5v5M843 197.5h5m-2.5-2.5v5M843 196.5h5m-2.5-2.5v5M843 195.5h5m-2.5-2.5v5M843 192.5h5m-2.5-2.5v5M844 194.5h5m-2.5-2.5v5M843 194.5h5m-2.5-2.5v5M844 192.5h5m-2.5-2.5v5M844 188.5h5m-2.5-2.5v5M844 187.5h5m-2.5-2.5v5M845 189.5h5m-2.5-2.5v5M845 187.5h5m-2.5-2.5v5M845 188.5h5m-2.5-2.5v5M845 186.5h5m-2.5-2.5v5M845 185.5h5m-2.5-2.5v5M845 184.5h5m-2.5-2.5v5M846 182.5h5m-2.5-2.5v5M846 183.5h5m-2.5-2.5v5M846 181.5h5m-2.5-2.5v5M846 180.5h5m-2.5-2.5v5M847 180.5h5m-2.5-2.5v5M847 179.5h5m-2.5-2.5v5M847 182.5h5m-2.5-2.5v5M847 183.5h5m-2.5-2.5v5M848 183.5h5m-2.5-2.5v5M848 184.5h5m-2.5-2.5v5M848 187.5h5m-2.5-2.5v5M848 185.5h5m-2.5-2.5v5M848 188.5h5m-2.5-2.5v5M847 190.5h5m-2.5-2.5v5M848 191.5h5m-2.5-2.5v5M848 192.5h5m-2.5-2.5v5M849 195.5h5m-2.5-2.5v5M848 195.5h5m-2.5-2.5v5M849 199.5h5m-2.5-2.5v5M849 200.5h5m-2.5-2.5v5M849 201.5h5m-2.5-2.5v5M849 202.5h5m-2.5-2.5v5M849 203.5h5m-2.5-2.5v5M850 203.5h5m-2.5-2.5v5M849 207.5h5m-2.5-2.5v5M849 209.5h5m-2.5-2.5v5M850 209.5h5m-2.5-2.5v5M850 212.5h5m-2.5-2.5v5M850 214.5h5m-2.5-2.5v5M850 213.5h5m-2.5-2.5v5M850 215.5h5m-2.5-2.5v5M850 216.5h5m-2.5-2.5v5M850 217.5h5m-2.5-2.5v5M851 219.5h5m-2.5-2.5v5M851 220.5h5m-2.5-2.5v5M851 223.5h5m-2.5-2.5v5M851 221.5h5m-2.5-2.5v5M851 225.5h5m-2.5-2.5v5M852 225.5h5m-2.5-2.5v5M852 226.5h5m-2.5-2.5v5M852 228.5h5m-2.5-2.5v5M851 227.5h5m-2.5-2.5v5M852 231.5h5m-2.5-2.5v5M852 229.5h5m-2.5-2.5v5M852 227.5h5m-2.5-2.5v5M853 224.5h5m-2.5-2.5v5M853 221.5h5m-2.5-2.5v5M853 220.5h5m-2.5-2.5v5M853 218.5h5m-2.5-2.5v5M853 215.5h5m-2.5-2.5v5M853 216.5h5m-2.5-2.5v5M854 215.5h5m-2.5-2.5v5M854 213.5h5m-2.5-2.5v5M854 207.5h5m-2.5-2.5v5M854 206.5h5m-2.5-2.5v5M854 208.5h5m-2.5-2.5v5M854 203.5h5m-2.5-2.5v5M854 202.5h5m-2.5-2.5v5M855 200.5h5m-2.5-2.5v5M855 197.5h5m-2.5-2.5v5M855 196.5h5m-2.5-2.5v5M856 195.5h5m-2.5-2.5v5M855 193.5h5m-2.5-2.5v5M855 190.5h5m-2.5-2.5v5M856 193.5h5m-2.5-2.5v5M856 191.5h5m-2.5-2.5v5M856 192.5h5m-2.5-2.5v5M856 189.5h5m-2.5-2.5v5M857 191.5h5m-2.5-2.5v5M857 187.5h5m-2.5-2.5v5M857 188.5h5m-2.5-2.5v5M857 189.5h5m-2.5-2.5v5M857 190.5h5m-2.5-2.5v5M858 188.5h5m-2.5-2.5v5M858 187.5h5m-2.5-2.5v5M858 191.5h5m-2.5-2.5v5M858 190.5h5m-2.5-2.5v5M859 191.5h5m-2.5-2.5v5M859 196.5h5m-2.5-2.5v5M859 197.5h5m-2.5-2.5v5M859 200.5h5m-2.5-2.5v5M860 201.5h5m-2.5-2.5v5M859 205.5h5m-2.5-2.5v5M860 205.5h5m-2.5-2.5v5M860 208.5h5m-2.5-2.5v5M860 207.5h5m-2.5-2.5v5M860 212.5h5m-2.5-2.5v5M860 215.5h5m-2.5-2.5v5M860 216.5h5m-2.5-2.5v5M861 217.5h5m-2.5-2.5v5M861 219.5h5m-2.5-2.5v5M861 221.5h5m-2.5-2.5v5M861 222.5h5m-2.5-2.5v5M861 218.5h5m-2.5-2.5v5M861 216.5h5m-2.5-2.5v5M861 214.5h5m-2.5-2.5v5M862 214.5h5m-2.5-2.5v5M862 213.5h5m-2.5-2.5v5M862 212.5h5m-2.5-2.5v5M862 208.5h5m-2.5-2.5v5M862 211.5h5m-2.5-2.5v5M862 209.5h5m-2.5-2.5v5M863 209.5h5m-2.5-2.5v5M862 205.5h5m-2.5-2.5v5M862 204.5h5m-2.5-2.5v5M863 208.5h5m-2.5-2.5v5M863 206.5h5m-2.5-2.5v5M863 205.5h5m-2.5-2.5v5M863 203.5h5m-2.5-2.5v5M864 201.5h5m-2.5-2.5v5M863 201.5h5m-2.5-2.5v5M863 198.5h5m-2.5-2.5v5M864 196.5h5m-2.5-2.5v5M864 194.5h5m-2.5-2.5v5M864 195.5h5m-2.5-2.5v5M863 197.5h5m-2.5-2.5v5M865 192.5h5m-2.5-2.5v5M865 188.5h5m-2.5-2.5v5M864 191.5h5m-2.5-2.5v5M865 191.5h5m-2.5-2.5v5M865 193.5h5m-2.5-2.5v5M865 195.5h5m-2.5-2.5v5M866 192.5h5m-2.5-2.5v5M865 194.5h5m-2.5-2.5v5M866 194.5h5m-2.5-2.5v5M866 193.5h5m-2.5-2.5v5M866 191.5h5m-2.5-2.5v5M866 195.5h5m-2.5-2.5v5M866 196.5h5m-2.5-2.5v5M867 197.5h5m-2.5-2.5v5M867 195.5h5m-2.5-2.5v5M867 196.5h5m-2.5-2.5v5M867 198.5h5m-2.5-2.5v5M867 200.5h5m-2.5-2.5v5M868 199.5h5m-2.5-2.5v5M867 203.5h5m-2.5-2.5v5M868 200.5h5m-2.5-2.5v5M868 201.5h5m-2.5-2.5v5M868 205.5h5m-2.5-2.5v5M868 207.5h5m-2.5-2.5v5M868 206.5h5m-2.5-2.5v5M868 208.5h5m-2.5-2.5v5M869 210.5h5m-2.5-2.5v5M869 212.5h5m-2.5-2.5v5M869 214.5h5m-2.5-2.5v5M869 215.5h5m-2.5-2.5v5M869 216.5h5m-2.5-2.5v5M869 218.5h5m-2.5-2.5v5M870 222.5h5m-2.5-2.5v5M869 222.5h5m-2.5-2.5v5M870 221.5h5m-2.5-2.5v5M870 223.5h5m-2.5-2.5v5M870 225.5h5m-2.5-2.5v5M870 224.5h5m-2.5-2.5v5M870 229.5h5m-2.5-2.5v5M871 228.5h5m-2.5-2.5v5M870 230.5h5m-2.5-2.5v5M871 236.5h5m-2.5-2.5v5M871 234.5h5m-2.5-2.5v5M871 238.5h5m-2.5-2.5v5M871 241.5h5m-2.5-2.5v5M871 243.5h5m-2.5-2.5v5M871 242.5h5m-2.5-2.5v5M872 246.5h5m-2.5-2.5v5M872 242.5h5m-2.5-2.5v5M872 243.5h5m-2.5-2.5v5M872 241.5h5m-2.5-2.5v5M872 235.5h5m-2.5-2.5v5M872 237.5h5m-2.5-2.5v5M872 234.5h5m-2.5-2.5v5M872 233.5h5m-2.5-2.5v5M873 228.5h5m-2.5-2.5v5M872 227.5h5m-2.5-2.5v5M872 228.5h5m-2.5-2.5v5M873 227.5h5m-2.5-2.5v5M873 225.5h5m-2.5-2.5v5M873 224.5h5m-2.5-2.5v5M873 223.5h5m-2.5-2.5v5M873 218.5h5m-2.5-2.5v5M874 217.5h5m-2.5-2.5v5M873 215.5h5m-2.5-2.5v5M874 214.5h5m-2.5-2.5v5M874 209.5h5m-2.5-2.5v5M874 207.5h5m-2.5-2.5v5M875 204.5h5m-2.5-2.5v5M874 202.5h5m-2.5-2.5v5M874 203.5h5m-2.5-2.5v5M874 200.5h5m-2.5-2.5v5M874 198.5h5m-2.5-2.5v5M875 200.5h5m-2.5-2.5v5M875 201.5h5m-2.5-2.5v5M875 199.5h5m-2.5-2.5v5M875 197.5h5m-2.5-2.5v5M875 195.5h5m-2.5-2.5v5M876 196.5h5m-2.5-2.5v5M875 194.5h5m-2.5-2.5v5M876 195.5h5m-2.5-2.5v5M875 196.5h5m-2.5-2.5v5M876 197.5h5m-2.5-2.5v5M876 198.5h5m-2.5-2.5v5M877 197.5h5m-2.5-2.5v5M877 200.5h5m-2.5-2.5v5M877 199.5h5m-2.5-2.5v5M877 202.5h5m-2.5-2.5v5M877 201.5h5m-2.5-2.5v5M877 205.5h5m-2.5-2.5v5M877 206.5h5m-2.5-2.5v5M877 208.5h5m-2.5-2.5v5M877 209.5h5m-2.5-2.5v5M877 207.5h5m-2.5-2.5v5M878 208.5h5m-2.5-2.5v5M877 210.5h5m-2.5-2.5v5M878 212.5h5m-2.5-2.5v5M878 211.5h5m-2.5-2.5v5M878 214.5h5m-2.5-2.5v5M878 210.5h5m-2.5-2.5v5M879 214.5h5m-2.5-2.5v5M878 213.5h5m-2.5-2.5v5M879 216.5h5m-2.5-2.5v5M879 220.5h5m-2.5-2.5v5M879 215.5h5m-2.5-2.5v5M880 216.5h5m-2.5-2.5v5M879 218.5h5m-2.5-2.5v5M879 221.5h5m-2.5-2.5v5M879 219.5h5m-2.5-2.5v5M880 220.5h5m-2.5-2.5v5M880 219.5h5m-2.5-2.5v5M880 221.5h5m-2.5-2.5v5M880 222.5h5m-2.5-2.5v5M881 220.5h5m-2.5-2.5v5M880 218.5h5m-2.5-2.5v5M881 219.5h5m-2.5-2.5v5M881 216.5h5m-2.5-2.5v5M881 217.5h5m-2.5-2.5v5M881 215.5h5m-2.5-2.5v5M881 214.5h5m-2.5-2.5v5M881 211.5h5m-2.5-2.5v5M881 210.5h5m-2.5-2.5v5M882 207.5h5m-2.5-2.5v5M881 207.5h5m-2.5-2.5v5M882 209.5h5m-2.5-2.5v5M881 208.5h5m-2.5-2.5v5M882 206.5h5m-2.5-2.5v5M882 204.5h5m-2.5-2.5v5M883 204.5h5m-2.5-2.5v5M882 203.5h5m-2.5-2.5v5M882 200.5h5m-2.5-2.5v5M883 195.5h5m-2.5-2.5v5M883 194.5h5m-2.5-2.5v5M883 191.5h5m-2.5-2.5v5M883 190.5h5m-2.5-2.5v5M883 189.5h5m-2.5-2.5v5M883 188.5h5m-2.5-2.5v5M884 191.5h5m-2.5-2.5v5M884 189.5h5m-2.5-2.5v5M883 186.5h5m-2.5-2.5v5M884 186.5h5m-2.5-2.5v5M884 187.5h5m-2.5-2.5v5M885 188.5h5m-2.5-2.5v5M885 186.5h5m-2.5-2.5v5M884 188.5h5m-2.5-2.5v5M885 187.5h5m-2.5-2.5v5M885 189.5h5m-2.5-2.5v5M886 187.5h5m-2.5-2.5v5M885 184.5h5m-2.5-2.5v5M885 185.5h5m-2.5-2.5v5M886 189.5h5m-2.5-2.5v5M886 188.5h5m-2.5-2.5v5M886 192.5h5m-2.5-2.5v5M886 190.5h5m-2.5-2.5v5M886 191.5h5m-2.5-2.5v5M886 195.5h5m-2.5-2.5v5M887 198.5h5m-2.5-2.5v5M886 199.5h5m-2.5-2.5v5M887 201.5h5m-2.5-2.5v5M887 203.5h5m-2.5-2.5v5M887 206.5h5m-2.5-2.5v5M887 208.5h5m-2.5-2.5v5M887 209.5h5m-2.5-2.5v5M887 210.5h5m-2.5-2.5v5M888 214.5h5m-2.5-2.5v5M888 215.5h5m-2.5-2.5v5M888 217.5h5m-2.5-2.5v5M888 218.5h5m-2.5-2.5v5M889 216.5h5m-2.5-2.5v5M888 221.5h5m-2.5-2.5v5M888 220.5h5m-2.5-2.5v5M889 221.5h5m-2.5-2.5v5M888 225.5h5m-2.5-2.5v5M889 224.5h5m-2.5-2.5v5M889 225.5h5m-2.5-2.5v5M889 226.5h5m-2.5-2.5v5M889 227.5h5m-2.5-2.5v5M889 228.5h5m-2.5-2.5v5M889 229.5h5m-2.5-2.5v5M890 231.5h5m-2.5-2.5v5M889 231.5h5m-2.5-2.5v5M890 233.5h5m-2.5-2.5v5M889 236.5h5m-2.5-2.5v5M890 236.5h5m-2.5-2.5v5M890 237.5h5m-2.5-2.5v5M890 239.5h5m-2.5-2.5v5M890 241.5h5m-2.5-2.5v5M890 243.5h5m-2.5-2.5v5M891 243.5h5m-2.5-2.5v5M890 244.5h5m-2.5-2.5v5M890 242.5h5m-2.5-2.5v5M891 245.5h5m-2.5-2.5v5M891 246.5h5m-2.5-2.5v5M891 250.5h5m-2.5-2.5v5M891 251.5h5m-2.5-2.5v5M891 248.5h5m-2.5-2.5v5M892 248.5h5m-2.5-2.5v5M892 244.5h5m-2.5-2.5v5M892 242.5h5m-2.5-2.5v5M893 239.5h5m-2.5-2.5v5M893 240.5h5m-2.5-2.5v5M893 234.5h5m-2.5-2.5v5M893 228.5h5m-2.5-2.5v5M893 223.5h5m-2.5-2.5v5M893 222.5h5m-2.5-2.5v5M893 219.5h5m-2.5-2.5v5M894 216.5h5m-2.5-2.5v5M893 216.5h5m-2.5-2.5v5M894 211.5h5m-2.5-2.5v5M894 210.5h5m-2.5-2.5v5M894 207.5h5m-2.5-2.5v5M894 208.5h5m-2.5-2.5v5M894 206.5h5m-2.5-2.5v5M895 204.5h5m-2.5-2.5v5M894 204.5h5m-2.5-2.5v5M895 203.5h5m-2.5-2.5v5M896 201.5h5m-2.5-2.5v5M895 205.5h5m-2.5-2.5v5M895 201.5h5m-2.5-2.5v5M896 203.5h5m-2.5-2.5v5M896 202.5h5m-2.5-2.5v5M896 206.5h5m-2.5-2.5v5M896 205.5h5m-2.5-2.5v5M896 208.5h5m-2.5-2.5v5M896 209.5h5m-2.5-2.5v5M896 213.5h5m-2.5-2.5v5M897 211.5h5m-2.5-2.5v5M897 209.5h5m-2.5-2.5v5M897 215.5h5m-2.5-2.5v5M897 212.5h5m-2.5-2.5v5M897 213.5h5m-2.5-2.5v5M897 216.5h5m-2.5-2.5v5M898 216.5h5m-2.5-2.5v5M898 218.5h5m-2.5-2.5v5M898 219.5h5m-2.5-2.5v5M898 223.5h5m-2.5-2.5v5M898 221.5h5m-2.5-2.5v5M899 219.5h5m-2.5-2.5v5M899 218.5h5m-2.5-2.5v5M899 222.5h5m-2.5-2.5v5M899 223.5h5m-2.5-2.5v5M900 220.5h5m-2.5-2.5v5M900 222.5h5m-2.5-2.5v5M900 224.5h5m-2.5-2.5v5M900 221.5h5m-2.5-2.5v5M901 223.5h5m-2.5-2.5v5M900 219.5h5m-2.5-2.5v5M900 218.5h5m-2.5-2.5v5M901 216.5h5m-2.5-2.5v5M901 215.5h5m-2.5-2.5v5M901 214.5h5m-2.5-2.5v5M901 212.5h5m-2.5-2.5v5M902 211.5h5m-2.5-2.5v5M901 211.5h5m-2.5-2.5v5M902 208.5h5m-2.5-2.5v5M902 209.5h5m-2.5-2.5v5M902 207.5h5m-2.5-2.5v5M901 206.5h5m-2.5-2.5v5M902 205.5h5m-2.5-2.5v5M903 204.5h5m-2.5-2.5v5M903 199.5h5m-2.5-2.5v5M903 200.5h5m-2.5-2.5v5M903 201.5h5m-2.5-2.5v5M903 202.5h5m-2.5-2.5v5M903 203.5h5m-2.5-2.5v5M904 199.5h5m-2.5-2.5v5M904 204.5h5m-2.5-2.5v5M904 201.5h5m-2.5-2.5v5M904 202.5h5m-2.5-2.5v5M904 203.5h5m-2.5-2.5v5M904 200.5h5m-2.5-2.5v5M904 205.5h5m-2.5-2.5v5M905 203.5h5m-2.5-2.5v5M905 204.5h5m-2.5-2.5v5M905 205.5h5m-2.5-2.5v5M905 206.5h5m-2.5-2.5v5M905 207.5h5m-2.5-2.5v5M905 208.5h5m-2.5-2.5v5M905 211.5h5m-2.5-2.5v5M905 212.5h5m-2.5-2.5v5M906 212.5h5m-2.5-2.5v5M906 213.5h5m-2.5-2.5v5M906 215.5h5m-2.5-2.5v5M906 216.5h5m-2.5-2.5v5M906 214.5h5m-2.5-2.5v5M906 217.5h5m-2.5-2.5v5M907 220.5h5m-2.5-2.5v5M907 217.5h5m-2.5-2.5v5M908 217.5h5m-2.5-2.5v5M907 218.5h5m-2.5-2.5v5M907 219.5h5m-2.5-2.5v5M907 222.5h5m-2.5-2.5v5M907 226.5h5m-2.5-2.5v5M908 226.5h5m-2.5-2.5v5M907 230.5h5m-2.5-2.5v5M907 227.5h5m-2.5-2.5v5M908 229.5h5m-2.5-2.5v5M908 231.5h5m-2.5-2.5v5M908 232.5h5m-2.5-2.5v5M909 234.5h5m-2.5-2.5v5M908 235.5h5m-2.5-2.5v5M909 235.5h5m-2.5-2.5v5M909 233.5h5m-2.5-2.5v5M909 236.5h5m-2.5-2.5v5M909 237.5h5m-2.5-2.5v5M909 239.5h5m-2.5-2.5v5M909 241.5h5m-2.5-2.5v5M909 240.5h5m-2.5-2.5v5M909 238.5h5m-2.5-2.5v5M910 240.5h5m-2.5-2.5v5M910 237.5h5m-2.5-2.5v5M910 241.5h5m-2.5-2.5v5M910 239.5h5m-2.5-2.5v5M910 238.5h5m-2.5-2.5v5M911 239.5h5m-2.5-2.5v5M911 235.5h5m-2.5-2.5v5M911 238.5h5m-2.5-2.5v5M911 237.5h5m-2.5-2.5v5M911 234.5h5m-2.5-2.5v5M912 236.5h5m-2.5-2.5v5M912 232.5h5m-2.5-2.5v5M912 234.5h5m-2.5-2.5v5M912 231.5h5m-2.5-2.5v5M912 228.5h5m-2.5-2.5v5M912 227.5h5m-2.5-2.5v5M912 226.5h5m-2.5-2.5v5M913 222.5h5m-2.5-2.5v5M913 218.5h5m-2.5-2.5v5M912 217.5h5m-2.5-2.5v5M912 215.5h5m-2.5-2.5v5M913 211.5h5m-2.5-2.5v5M912 210.5h5m-2.5-2.5v5M913 210.5h5m-2.5-2.5v5M913 212.5h5m-2.5-2.5v5M914 210.5h5m-2.5-2.5v5M914 212.5h5m-2.5-2.5v5M914 208.5h5m-2.5-2.5v5M914 207.5h5m-2.5-2.5v5M914 205.5h5m-2.5-2.5v5M914 206.5h5m-2.5-2.5v5M914 211.5h5m-2.5-2.5v5M915 213.5h5m-2.5-2.5v5M915 212.5h5m-2.5-2.5v5M915 216.5h5m-2.5-2.5v5M915 214.5h5m-2.5-2.5v5M916 214.5h5m-2.5-2.5v5M916 213.5h5m-2.5-2.5v5M916 216.5h5m-2.5-2.5v5M915 218.5h5m-2.5-2.5v5M916 221.5h5m-2.5-2.5v5M916 218.5h5m-2.5-2.5v5M916 223.5h5m-2.5-2.5v5M916 224.5h5m-2.5-2.5v5M916 222.5h5m-2.5-2.5v5M916 225.5h5m-2.5-2.5v5M917 224.5h5m-2.5-2.5v5M917 222.5h5m-2.5-2.5v5M917 225.5h5m-2.5-2.5v5M917 223.5h5m-2.5-2.5v5M918 226.5h5m-2.5-2.5v5M918 225.5h5m-2.5-2.5v5M918 223.5h5m-2.5-2.5v5M918 224.5h5m-2.5-2.5v5M919 224.5h5m-2.5-2.5v5M919 225.5h5m-2.5-2.5v5M919 222.5h5m-2.5-2.5v5M919 223.5h5m-2.5-2.5v5M919 226.5h5m-2.5-2.5v5M920 222.5h5m-2.5-2.5v5M920 216.5h5m-2.5-2.5v5M920 219.5h5m-2.5-2.5v5M920 220.5h5m-2.5-2.5v5M920 217.5h5m-2.5-2.5v5M921 218.5h5m-2.5-2.5v5M920 215.5h5m-2.5-2.5v5M921 209.5h5m-2.5-2.5v5M921 207.5h5m-2.5-2.5v5M920 206.5h5m-2.5-2.5v5M921 206.5h5m-2.5-2.5v5M921 205.5h5m-2.5-2.5v5M921 204.5h5m-2.5-2.5v5M921 199.5h5m-2.5-2.5v5M921 201.5h5m-2.5-2.5v5M922 203.5h5m-2.5-2.5v5M921 203.5h5m-2.5-2.5v5M921 200.5h5m-2.5-2.5v5M922 199.5h5m-2.5-2.5v5M922 204.5h5m-2.5-2.5v5M922 202.5h5m-2.5-2.5v5M922 201.5h5m-2.5-2.5v5M923 203.5h5m-2.5-2.5v5M923 202.5h5m-2.5-2.5v5M923 204.5h5m-2.5-2.5v5M923 206.5h5m-2.5-2.5v5M923 205.5h5m-2.5-2.5v5M923 210.5h5m-2.5-2.5v5M924 212.5h5m-2.5-2.5v5M923 212.5h5m-2.5-2.5v5M924 215.5h5m-2.5-2.5v5M924 214.5h5m-2.5-2.5v5M924 216.5h5m-2.5-2.5v5M924 220.5h5m-2.5-2.5v5M924 221.5h5m-2.5-2.5v5M924 223.5h5m-2.5-2.5v5M924 224.5h5m-2.5-2.5v5M925 228.5h5m-2.5-2.5v5M925 229.5h5m-2.5-2.5v5M925 230.5h5m-2.5-2.5v5M925 232.5h5m-2.5-2.5v5M925 233.5h5m-2.5-2.5v5M925 235.5h5m-2.5-2.5v5M925 236.5h5m-2.5-2.5v5M925 239.5h5m-2.5-2.5v5M926 243.5h5m-2.5-2.5v5M926 247.5h5m-2.5-2.5v5M926 248.5h5m-2.5-2.5v5M926 250.5h5m-2.5-2.5v5M926 252.5h5m-2.5-2.5v5M926 257.5h5m-2.5-2.5v5M926 259.5h5m-2.5-2.5v5M927 257.5h5m-2.5-2.5v5M927 258.5h5m-2.5-2.5v5M927 261.5h5m-2.5-2.5v5M927 263.5h5m-2.5-2.5v5M927 262.5h5m-2.5-2.5v5M926 261.5h5m-2.5-2.5v5M927 264.5h5m-2.5-2.5v5M927 260.5h5m-2.5-2.5v5M928 261.5h5m-2.5-2.5v5M928 256.5h5m-2.5-2.5v5M928 258.5h5m-2.5-2.5v5M928 253.5h5m-2.5-2.5v5M928 252.5h5m-2.5-2.5v5M928 249.5h5m-2.5-2.5v5M928 247.5h5m-2.5-2.5v5M928 245.5h5m-2.5-2.5v5M929 243.5h5m-2.5-2.5v5M928 242.5h5m-2.5-2.5v5M929 240.5h5m-2.5-2.5v5M929 237.5h5m-2.5-2.5v5M929 235.5h5m-2.5-2.5v5M929 233.5h5m-2.5-2.5v5M929 234.5h5m-2.5-2.5v5M929 231.5h5m-2.5-2.5v5M929 228.5h5m-2.5-2.5v5M930 227.5h5m-2.5-2.5v5M929 225.5h5m-2.5-2.5v5M930 222.5h5m-2.5-2.5v5M930 221.5h5m-2.5-2.5v5M930 220.5h5m-2.5-2.5v5M930 216.5h5m-2.5-2.5v5M930 214.5h5m-2.5-2.5v5M930 210.5h5m-2.5-2.5v5M930 208.5h5m-2.5-2.5v5M930 209.5h5m-2.5-2.5v5M930 206.5h5m-2.5-2.5v5M930 203.5h5m-2.5-2.5v5M931 204.5h5m-2.5-2.5v5M931 202.5h5m-2.5-2.5v5M931 203.5h5m-2.5-2.5v5M931 200.5h5m-2.5-2.5v5M931 196.5h5m-2.5-2.5v5M931 195.5h5m-2.5-2.5v5M932 193.5h5m-2.5-2.5v5M932 194.5h5m-2.5-2.5v5M932 199.5h5m-2.5-2.5v5M931 198.5h5m-2.5-2.5v5M932 195.5h5m-2.5-2.5v5M932 196.5h5m-2.5-2.5v5M561 193.5h5m-2.5-2.5v5M561 191.5h5m-2.5-2.5v5M570 213.5h5m-2.5-2.5v5M570 212.5h5m-2.5-2.5v5M585 122.5h5m-2.5-2.5v5M585 124.5h5m-2.5-2.5v5M591 203.5h5m-2.5-2.5v5M615 147.5h5m-2.5-2.5v5M615 149.5h5m-2.5-2.5v5M634 191.5h5m-2.5-2.5v5M638 188.5h5m-2.5-2.5v5M660 153.5h5m-2.5-2.5v5M689 200.5h5m-2.5-2.5v5M710 173.5h5m-2.5-2.5v5M717 175.5h5m-2.5-2.5v5M723 214.5h5m-2.5-2.5v5M728 192.5h5m-2.5-2.5v5M729 216.5h5m-2.5-2.5v5M745 192.5h5m-2.5-2.5v5M747 244.5h5m-2.5-2.5v5M746 243.5h5m-2.5-2.5v5M758 227.5h5m-2.5-2.5v5M765 170.5h5m-2.5-2.5v5M768 198.5h5m-2.5-2.5v5M777 240.5h5m-2.5-2.5v5M784 172.5h5m-2.5-2.5v5M795 236.5h5m-2.5-2.5v5M805 223.5h5m-2.5-2.5v5M804 221.5h5m-2.5-2.5v5M813 247.5h5m-2.5-2.5v5M813 246.5h5m-2.5-2.5v5M820 162.5h5m-2.5-2.5v5M821 163.5h5m-2.5-2.5v5M847 181.5h5m-2.5-2.5v5M852 230.5h5m-2.5-2.5v5M851 228.5h5m-2.5-2.5v5M857 186.5h5m-2.5-2.5v5M861 220.5h5m-2.5-2.5v5M860 218.5h5m-2.5-2.5v5M871 244.5h5m-2.5-2.5v5M900 223.5h5m-2.5-2.5v5M914 209.5h5m-2.5-2.5v5M922 200.5h5m-2.5-2.5v5"/>
</g>
<g id="panel-c">
<path class="ax" d="M135.5 400.5H509.5V719.5H135.5ZM154.5 719.5v-4M154.5 400.5v4M172.5 719.5v-8M172.5 400.5v8M191.5 719.5v-4M191.5 400.5v4M210.5 719.5v-4M210.5 400.5v4M229.5 719.5v-4M229.5 400.5v4M247.5 719.5v-4M247.5 400.5v4M266.5 719.5v-8M266.5 400.5v8M285.5 719.5v-4M285.5 400.5v4M303.5 719.5v-4M303.5 400.5v4M322.5 719.5v-4M322.5 400.5v4M341.5 719.5v-4M341.5 400.5v4M359.5 719.5v-8M359.5 400.5v8M378.5 719.5v-4M378.5 400.5v4M397.5 719.5v-4M397.5 400.5v4M416.5 719.5v-4M416.5 400.5v4M434.5 719.5v-4M434.5 400.5v4M453.5 719.5v-8M453.5 400.5v8M472.5 719.5v-4M472.5 400.5v4M490.5 719.5v-4M490.5 400.5v4M135.5 464.5h8M509.5 464.5h-8M135.5 528.5h8M509.5 528.5h-8M135.5 591.5h8M509.5 591.5h-8M135.5 655.5h8M509.5 655.5h-8"/>
<path class="ax" d="M287.5 464V688"/>
<path class="pt" d="M133 671.5h5m-2.5-2.5v5M133 668.5h5m-2.5-2.5v5M133 664.5h5m-2.5-2.5v5M133 666.5h5m-2.5-2.5v5M134 664.5h5m-2.5-2.5v5M134 662.5h5m-2.5-2.5v5M134 657.5h5m-2.5-2.5v5M134 652.5h5m-2.5-2.5v5M134 647.5h5m-2.5-2.5v5M134 644.5h5m-2.5-2.5v5M134 641.5h5m-2.5-2.5v5M135 639.5h5m-2.5-2.5v5M135 634.5h5m-2.5-2.5v5M135 630.5h5m-2.5-2.5v5M135 626.5h5m-2.5-2.5v5M135 621.5h5m-2.5-2.5v5M135 618.5h5m-2.5-2.5v5M135 616.5h5m-2.5-2.5v5M136 613.5h5m-2.5-2.5v5M135 610.5h5m-2.5-2.5v5M135 606.5h5m-2.5-2.5v5M135 604.5h5m-2.5-2.5v5M136 605.5h5m-2.5-2.5v5M136 599.5h5m-2.5-2.5v5M136 594.5h5m-2.5-2.5v5M136 591.5h5m-2.5-2.5v5M135 591.5h5m-2.5-2.5v5M137 590.5h5m-2.5-2.5v5M137 589.5h5m-2.5-2.5v5M136 587.5h5m-2.5-2.5v5M136 584.5h5m-2.5-2.5v5M136 582.5h5m-2.5-2.5v5M137 579.5h5m-2.5-2.5v5M137 575.5h5m-2.5-2.5v5M137 573.5h5m-2.5-2.5v5M137 574.5h5m-2.5-2.5v5M138 575.5h5m-2.5-2.5v5M137 571.5h5m-2.5-2.5v5M138 569.5h5m-2.5-2.5v5M138 571.5h5m-2.5-2.5v5M139 570.5h5m-2.5-2.5v5M138 568.5h5m-2.5-2.5v5M138 574.5h5m-2.5-2.5v5M138 573.5h5m-2.5-2.5v5M139 575.5h5m-2.5-2.5v5M138 577.5h5m-2.5-2.5v5M139 578.5h5m-2.5-2.5v5M139 577.5h5m-2.5-2.5v5M140 579.5h5m-2.5-2.5v5M139 580.5h5m-2.5-2.5v5M139 582.5h5m-2.5-2.5v5M140 582.5h5m-2.5-2.5v5M139 583.5h5m-2.5-2.5v5M140 583.5h5m-2.5-2.5v5M140 586.5h5m-2.5-2.5v5M140 589.5h5m-2.5-2.5v5M140 592.5h5m-2.5-2.5v5M140 595.5h5m-2.5-2.5v5M140 596.5h5m-2.5-2.5v5M140 598.5h5m-2.5-2.5v5M141 597.5h5m-2.5-2.5v5M141 596.5h5m-2.5-2.5v5M141 603.5h5m-2.5-2.5v5M141 604.5h5m-2.5-2.5v5M141 606.5h5m-2.5-2.5v5M141 608.5h5m-2.5-2.5v5M142 610.5h5m-2.5-2.5v5M141 609.5h5m-2.5-2.5v5M141 610.5h5m-2.5-2.5v5M142 612.5h5m-2.5-2.5v5M141 613.5h5m-2.5-2.5v5M142 615.5h5m-2.5-2.5v5M142 619.5h5m-2.5-2.5v5M143 618.5h5m-2.5-2.5v5M142 620.5h5m-2.5-2.5v5M143 621.5h5m-2.5-2.5v5M143 620.5h5m-2.5-2.5v5M143 622.5h5m-2.5-2.5v5M143 619.5h5m-2.5-2.5v5M143 617.5h5m-2.5-2.5v5M144 621.5h5m-2.5-2.5v5M144 622.5h5m-2.5-2.5v5M143 625.5h5m-2.5-2.5v5M144 623.5h5m-2.5-2.5v5M144 625.5h5m-2.5-2.5v5M144 624.5h5m-2.5-2.5v5M145 622.5h5m-2.5-2.5v5M144 618.5h5m-2.5-2.5v5M145 621.5h5m-2.5-2.5v5M145 620.5h5m-2.5-2.5v5M145 619.5h5m-2.5-2.5v5M145 623.5h5m-2.5-2.5v5M146 620.5h5m-2.5-2.5v5M146 621.5h5m-2.5-2.5v5M146 619.5h5m-2.5-2.5v5M146 617.5h5m-2.5-2.5v5M147 617.5h5m-2.5-2.5v5M146 615.5h5m-2.5-2.5v5M146 618.5h5m-2.5-2.5v5M146 616.5h5m-2.5-2.5v5M147 618.5h5m-2.5-2.5v5M147 616.5h5m-2.5-2.5v5M147 613.5h5m-2.5-2.5v5M148 614.5h5m-2.5-2.5v5M148 615.5h5m-2.5-2.5v5M148 618.5h5m-2.5-2.5v5M148 616.5h5m-2.5-2.5v5M148 619.5h5m-2.5-2.5v5M148 621.5h5m-2.5-2.5v5M149 619.5h5m-2.5-2.5v5M149 620.5h5m-2.5-2.5v5M149 621.5h5m-2.5-2.5v5M149 624.5h5m-2.5-2.5v5M149 625.5h5m-2.5-2.5v5M149 627.5h5m-2.5-2.5v5M149 626.5h5m-2.5-2.5v5M150 625.5h5m-2.5-2.5v5M150 628.5h5m-2.5-2.5v5M150 630.5h5m-2.5-2.5v5M149 631.5h5m-2.5-2.5v5M150 633.5h5m-2.5-2.5v5M150 635.5h5m-2.5-2.5v5M150 638.5h5m-2.5-2.5v5M151 638.5h5m-2.5-2.5v5M150 641.5h5m-2.5-2.5v5M151 644.5h5m-2.5-2.5v5M151 645.5h5m-2.5-2.5v5M151 648.5h5m-2.5-2.5v5M151 651.5h5m-2.5-2.5v5M151 654.5h5m-2.5-2.5v5M151 652.5h5m-2.5-2.5v5M152 654.5h5m-2.5-2.5v5M152 655.5h5m-2.5-2.5v5M151 650.5h5m-2.5-2.5v5M152 645.5h5m-2.5-2.5v5M152 643.5h5m-2.5-2.5v5M152 640.5h5m-2.5-2.5v5M153 640.5h5m-2.5-2.5v5M152 638.5h5m-2.5-2.5v5M152 633.5h5m-2.5-2.5v5M153 631.5h5m-2.5-2.5v5M152 631.5h5m-2.5-2.5v5M153 629.5h5m-2.5-2.5v5M153 626.5h5m-2.5-2.5v5M153 624.5h5m-2.5-2.5v5M153 623.5h5m-2.5-2.5v5M154 620.5h5m-2.5-2.5v5M153 621.5h5m-2.5-2.5v5M154 615.5h5m-2.5-2.5v5M153 613.5h5m-2.5-2.5v5M153 612.5h5m-2.5-2.5v5M154 610.5h5m-2.5-2.5v5M153 609.5h5m-2.5-2.5v5M154 609.5h5m-2.5-2.5v5M154 607.5h5m-2.5-2.5v5M154 602.5h5m-2.5-2.5v5M155 599.5h5m-2.5-2.5v5M154 599.5h5m-2.5-2.5v5M155 597.5h5m-2.5-2.5v5M155 598.5h5m-2.5-2.5v5M155 596.5h5m-2.5-2.5v5M155 594.5h5m-2.5-2.5v5M155 593.5h5m-2.5-2.5v5M155 592.5h5m-2.5-2.5v5M156 592.5h5m-2.5-2.5v5M155 590.5h5m-2.5-2.5v5M156 591.5h5m-2.5-2.5v5M155 591.5h5m-2.5-2.5v5M156 589.5h5m-2.5-2.5v5M156 586.5h5m-2.5-2.5v5M155 588.5h5m-2.5-2.5v5M156 588.5h5m-2.5-2.5v5M156 587.5h5m-2.5-2.5v5M157 585.5h5m-2.5-2.5v5M157 588.5h5m-2.5-2.5v5M157 594.5h5m-2.5-2.5v5M157 595.5h5m-2.5-2.5v5M157 596.5h5m-2.5-2.5v5M157 597.5h5m-2.5-2.5v5M157 593.5h5m-2.5-2.5v5M158 595.5h5m-2.5-2.5v5M158 597.5h5m-2.5-2.5v5M158 600.5h5m-2.5-2.5v5M158 602.5h5m-2.5-2.5v5M158 603.5h5m-2.5-2.5v5M159 601.5h5m-2.5-2.5v5M159 602.5h5m-2.5-2.5v5M159 605.5h5m-2.5-2.5v5M158 606.5h5m-2.5-2.5v5M159 609.5h5m-2.5-2.5v5M159 611.5h5m-2.5-2.5v5M159 610.5h5m-2.5-2.5v5M159 614.5h5m-2.5-2.5v5M159 617.5h5m-2.5-2.5v5M159 619.5h5m-2.5-2.5v5M160 621.5h5m-2.5-2.5v5M160 620.5h5m-2.5-2.5v5M160 623.5h5m-2.5-2.5v5M160 622.5h5m-2.5-2.5v5M160 624.5h5m-2.5-2.5v5M161 624.5h5m-2.5-2.5v5M161 627.5h5m-2.5-2.5v5M161 628.5h5m-2.5-2.5v5M161 631.5h5m-2.5-2.5v5M161 633.5h5m-2.5-2.5v5M161 632.5h5m-2.5-2.5v5M162 632.5h5m-2.5-2.5v5M162 631.5h5m-2.5-2.5v5M161 630.5h5m-2.5-2.5v5M162 633.5h5m-2.5-2.5v5M162 628.5h5m-2.5-2.5v5M162 627.5h5m-2.5-2.5v5M163 627.5h5m-2.5-2.5v5M163 630.5h5m-2.5-2.5v5M163 633.5h5m-2.5-2.5v5M163 632.5h5m-2.5-2.5v5M163 634.5h5m-2.5-2.5v5M164 630.5h5m-2.5-2.5v5M164 628.5h5m-2.5-2.5v5M164 629.5h5m-2.5-2.5v5M164 633.5h5m-2.5-2.5v5M164 632.5h5m-2.5-2.5v5M164 631.5h5m-2.5-2.5v5M165 631.5h5m-2.5-2.5v5M165 632.5h5m-2.5-2.5v5M165 629.5h5m-2.5-2.5v5M165 630.5h5m-2.5-2.5v5M165 628.5h5m-2.5-2.5v5M166 626.5h5m-2.5-2.5v5M165 627.5h5m-2.5-2.5v5M166 632.5h5m-2.5-2.5v5M166 629.5h5m-2.5-2.5v5M166 633.5h5m-2.5-2.5v5M166 630.5h5m-2.5-2.5v5M166 634.5h5m-2.5-2.5v5M167 635.5h5m-2.5-2.5v5M167 633.5h5m-2.5-2.5v5M167 636.5h5m-2.5-2.5v5M167 638.5h5m-2.5-2.5v5M168 639.5h5m-2.5-2.5v5M168 642.5h5m-2.5-2.5v5M168 641.5h5m-2.5-2.5v5M168 646.5h5m-2.5-2.5v5M168 644.5h5m-2.5-2.5v5M168 647.5h5m-2.5-2.5v5M168 648.5h5m-2.5-2.5v5M169 649.5h5m-2.5-2.5v5M168 650.5h5m-2.5-2.5v5M169 652.5h5m-2.5-2.5v5M169 654.5h5m-2.5-2.5v5M169 653.5h5m-2.5-2.5v5M169 655.5h5m-2.5-2.5v5M169 657.5h5m-2.5-2.5v5M169 658.5h5m-2.5-2.5v5M170 657.5h5m-2.5-2.5v5M170 656.5h5m-2.5-2.5v5M171 658.5h5m-2.5-2.5v5M171 654.5h5m-2.5-2.5v5M170 650.5h5m-2.5-2.5v5M171 648.5h5m-2.5-2.5v5M171 647.5h5m-2.5-2.5v5M171 646.5h5m-2.5-2.5v5M172 642.5h5m-2.5-2.5v5M171 640.5h5m-2.5-2.5v5M171 639.5h5m-2.5-2.5v5M171 638.5h5m-2.5-2.5v5M172 636.5h5m-2.5-2.5v5M171 636.5h5m-2.5-2.5v5M172 629.5h5m-2.5-2.5v5M172 628.5h5m-2.5-2.5v5M173 623.5h5m-2.5-2.5v5M172 622.5h5m-2.5-2.5v5M172 619.5h5m-2.5-2.5v5M172 616.5h5m-2.5-2.5v5M173 616.5h5m-2.5-2.5v5M173 615.5h5m-2.5-2.5v5M173 612.5h5m-2.5-2.5v5M173 610.5h5m-2.5-2.5v5M173 606.5h5m-2.5-2.5v5M173 607.5h5m-2.5-2.5v5M173 604.5h5m-2.5-2.5v5M173 603.5h5m-2.5-2.5v5M174 599.5h5m-2.5-2.5v5M173 595.5h5m-2.5-2.5v5M173 591.5h5m-2.5-2.5v5M174 587.5h5m-2.5-2.5v5M173 584.5h5m-2.5-2.5v5M174 585.5h5m-2.5-2.5v5M174 583.5h5m-2.5-2.5v5M174 580.5h5m-2.5-2.5v5M174 581.5h5m-2.5-2.5v5M174 578.5h5m-2.5-2.5v5M174 575.5h5m-2.5-2.5v5M175 574.5h5m-2.5-2.5v5M175 571.5h5m-2.5-2.5v5M175 567.5h5m-2.5-2.5v5M175 568.5h5m-2.5-2.5v5M175 565.5h5m-2.5-2.5v5M176 568.5h5m-2.5-2.5v5M176 569.5h5m-2.5-2.5v5M176 570.5h5m-2.5-2.5v5M176 571.5h5m-2.5-2.5v5M175 573.5h5m-2.5-2.5v5M176 576.5h5m-2.5-2.5v5M176 578.5h5m-2.5-2.5v5M177 579.5h5m-2.5-2.5v5M177 582.5h5m-2.5-2.5v5M177 583.5h5m-2.5-2.5v5M177 586.5h5m-2.5-2.5v5M177 588.5h5m-2.5-2.5v5M177 594.5h5m-2.5-2.5v5M177 597.5h5m-2.5-2.5v5M177 598.5h5m-2.5-2.5v5M177 604.5h5m-2.5-2.5v5M178 604.5h5m-2.5-2.5v5M178 607.5h5m-2.5-2.5v5M178 612.5h5m-2.5-2.5v5M178 610.5h5m-2.5-2.5v5M178 614.5h5m-2.5-2.5v5M178 613.5h5m-2.5-2.5v5M178 619.5h5m-2.5-2.5v5M178 620.5h5m-2.5-2.5v5M179 619.5h5m-2.5-2.5v5M179 618.5h5m-2.5-2.5v5M179 620.5h5m-2.5-2.5v5M179 621.5h5m-2.5-2.5v5M179 622.5h5m-2.5-2.5v5M179 627.5h5m-2.5-2.5v5M179 626.5h5m-2.5-2.5v5M180 624.5h5m-2.5-2.5v5M180 626.5h5m-2.5-2.5v5M180 625.5h5m-2.5-2.5v5M180 628.5h5m-2.5-2.5v5M180 627.5h5m-2.5-2.5v5M180 630.5h5m-2.5-2.5v5M180 631.5h5m-2.5-2.5v5M181 631.5h5m-2.5-2.5v5M181 634.5h5m-2.5-2.5v5M181 632.5h5m-2.5-2.5v5M181 633.5h5m-2.5-2.5v5M181 636.5h5m-2.5-2.5v5M181 635.5h5m-2.5-2.5v5M182 633.5h5m-2.5-2.5v5M182 634.5h5m-2.5-2.5v5M182 631.5h5m-2.5-2.5v5M182 632.5h5m-2.5-2.5v5M183 634.5h5m-2.5-2.5v5M183 632.5h5m-2.5-2.5v5M183 631.5h5m-2.5-2.5v5M183 629.5h5m-2.5-2.5v5M184 631.5h5m-2.5-2.5v5M184 629.5h5m-2.5-2.5v5M184 628.5h5m-2.5-2.5v5M185 629.5h5m-2.5-2.5v5M185 628.5h5m-2.5-2.5v5M185 631.5h5m-2.5-2.5v5M184 630.5h5m-2.5-2.5v5M185 630.5h5m-2.5-2.5v5M186 632.5h5m-2.5-2.5v5M185 627.5h5m-2.5-2.5v5M186 629.5h5m-2.5-2.5v5M186 628.5h5m-2.5-2.5v5M186 633.5h5m-2.5-2.5v5M187 636.5h5m-2.5-2.5v5M187 634.5h5m-2.5-2.5v5M187 637.5h5m-2.5-2.5v5M187 641.5h5m-2.5-2.5v5M187 640.5h5m-2.5-2.5v5M187 644.5h5m-2.5-2.5v5M187 645.5h5m-2.5-2.5v5M187 649.5h5m-2.5-2.5v5M188 648.5h5m-2.5-2.5v5M188 654.5h5m-2.5-2.5v5M188 658.5h5m-2.5-2.5v5M188 662.5h5m-2.5-2.5v5M188 666.5h5m-2.5-2.5v5M188 668.5h5m-2.5-2.5v5M188 669.5h5m-2.5-2.5v5M188 673.5h5m-2.5-2.5v5M188 675.5h5m-2.5-2.5v5M188 677.5h5m-2.5-2.5v5M188 679.5h5m-2.5-2.5v5M188 681.5h5m-2.5-2.5v5M189 681.5h5m-2.5-2.5v5M189 676.5h5m-2.5-2.5v5M190 670.5h5m-2.5-2.5v5M189 668.5h5m-2.5-2.5v5M189 664.5h5m-2.5-2.5v5M190 662.5h5m-2.5-2.5v5M190 665.5h5m-2.5-2.5v5M190 660.5h5m-2.5-2.5v5M190 656.5h5m-2.5-2.5v5M190 653.5h5m-2.5-2.5v5M190 649.5h5m-2.5-2.5v5M190 645.5h5m-2.5-2.5v5M190 642.5h5m-2.5-2.5v5M190 639.5h5m-2.5-2.5v5M190 637.5h5m-2.5-2.5v5M191 632.5h5m-2.5-2.5v5M191 630.5h5m-2.5-2.5v5M190 628.5h5m-2.5-2.5v5M191 628.5h5m-2.5-2.5v5M191 625.5h5m-2.5-2.5v5M191 623.5h5m-2.5-2.5v5M191 619.5h5m-2.5-2.5v5M192 620.5h5m-2.5-2.5v5M192 617.5h5m-2.5-2.5v5M192 613.5h5m-2.5-2.5v5M192 612.5h5m-2.5-2.5v5M192 611.5h5m-2.5-2.5v5M192 607.5h5m-2.5-2.5v5M192 605.5h5m-2.5-2.5v5M192 600.5h5m-2.5-2.5v5M192 601.5h5m-2.5-2.5v5M192 598.5h5m-2.5-2.5v5M192 597.5h5m-2.5-2.5v5M193 595.5h5m-2.5-2.5v5M192 595.5h5m-2.5-2.5v5M193 594.5h5m-2.5-2.5v5M193 593.5h5m-2.5-2.5v5M193 592.5h5m-2.5-2.5v5M194 597.5h5m-2.5-2.5v5M193 596.5h5m-2.5-2.5v5M194 593.5h5m-2.5-2.5v5M194 598.5h5m-2.5-2.5v5M194 596.5h5m-2.5-2.5v5M194 600.5h5m-2.5-2.5v5M195 601.5h5m-2.5-2.5v5M195 602.5h5m-2.5-2.5v5M195 604.5h5m-2.5-2.5v5M195 608.5h5m-2.5-2.5v5M195 606.5h5m-2.5-2.5v5M194 607.5h5m-2.5-2.5v5M195 607.5h5m-2.5-2.5v5M195 610.5h5m-2.5-2.5v5M196 611.5h5m-2.5-2.5v5M196 610.5h5m-2.5-2.5v5M196 612.5h5m-2.5-2.5v5M195 613.5h5m-2.5-2.5v5M196 614.5h5m-2.5-2.5v5M197 614.5h5m-2.5-2.5v5M197 613.5h5m-2.5-2.5v5M196 615.5h5m-2.5-2.5v5M196 617.5h5m-2.5-2.5v5M197 615.5h5m-2.5-2.5v5M197 618.5h5m-2.5-2.5v5M197 620.5h5m-2.5-2.5v5M197 622.5h5m-2.5-2.5v5M197 624.5h5m-2.5-2.5v5M197 623.5h5m-2.5-2.5v5M198 622.5h5m-2.5-2.5v5M198 623.5h5m-2.5-2.5v5M198 620.5h5m-2.5-2.5v5M198 621.5h5m-2.5-2.5v5M198 619.5h5m-2.5-2.5v5M198 618.5h5m-2.5-2.5v5M199 620.5h5m-2.5-2.5v5M199 621.5h5m-2.5-2.5v5M199 622.5h5m-2.5-2.5v5M198 624.5h5m-2.5-2.5v5M200 621.5h5m-2.5-2.5v5M199 624.5h5m-2.5-2.5v5M199 623.5h5m-2.5-2.5v5M200 622.5h5m-2.5-2.5v5M200 623.5h5m-2.5-2.5v5M201 623.5h5m-2.5-2.5v5M201 620.5h5m-2.5-2.5v5M201 618.5h5m-2.5-2.5v5M201 622.5h5m-2.5-2.5v5M201 621.5h5m-2.5-2.5v5M202 624.5h5m-2.5-2.5v5M201 619.5h5m-2.5-2.5v5M202 619.5h5m-2.5-2.5v5M202 621.5h5m-2.5-2.5v5M203 623.5h5m-2.5-2.5v5M202 623.5h5m-2.5-2.5v5M203 620.5h5m-2.5-2.5v5M203 622.5h5m-2.5-2.5v5M203 621.5h5m-2.5-2.5v5M203 625.5h5m-2.5-2.5v5M203 628.5h5m-2.5-2.5v5M204 626.5h5m-2.5-2.5v5M204 628.5h5m-2.5-2.5v5M204 631.5h5m-2.5-2.5v5M204 633.5h5m-2.5-2.5v5M204 630.5h5m-2.5-2.5v5M204 632.5h5m-2.5-2.5v5M205 634.5h5m-2.5-2.5v5M204 635.5h5m-2.5-2.5v5M205 636.5h5m-2.5-2.5v5M205 640.5h5m-2.5-2.5v5M205 642.5h5m-2.5-2.5v5M205 639.5h5m-2.5-2.5v5M204 641.5h5m-2.5-2.5v5M205 641.5h5m-2.5-2.5v5M205 643.5h5m-2.5-2.5v5M205 645.5h5m-2.5-2.5v5M205 647.5h5m-2.5-2.5v5M206 647.5h5m-2.5-2.5v5M206 653.5h5m-2.5-2.5v5M206 655.5h5m-2.5-2.5v5M206 657.5h5m-2.5-2.5v5M206 658.5h5m-2.5-2.5v5M206 659.5h5m-2.5-2.5v5M206 662.5h5m-2.5-2.5v5M206 660.5h5m-2.5-2.5v5M206 663.5h5m-2.5-2.5v5M207 664.5h5m-2.5-2.5v5M207 665.5h5m-2.5-2.5v5M207 666.5h5m-2.5-2.5v5M207 668.5h5m-2.5-2.5v5M207 671.5h5m-2.5-2.5v5M207 673.5h5m-2.5-2.5v5M207 670.5h5m-2.5-2.5v5M208 672.5h5m-2.5-2.5v5M207 672.5h5m-2.5-2.5v5M208 673.5h5m-2.5-2.5v5M208 676.5h5m-2.5-2.5v5M208 674.5h5m-2.5-2.5v5M209 674.5h5m-2.5-2.5v5M208 677.5h5m-2.5-2.5v5M209 676.5h5m-2.5-2.5v5M209 671.5h5m-2.5-2.5v5M209 667.5h5m-2.5-2.5v5M209 661.5h5m-2.5-2.5v5M209 660.5h5m-2.5-2.5v5M209 659.5h5m-2.5-2.5v5M210 657.5h5m-2.5-2.5v5M209 655.5h5m-2.5-2.5v5M210 652.5h5m-2.5-2.5v5M209 646.5h5m-2.5-2.5v5M210 642.5h5m-2.5-2.5v5M210 640.5h5m-2.5-2.5v5M210 635.5h5m-2.5-2.5v5M210 630.5h5m-2.5-2.5v5M210 629.5h5m-2.5-2.5v5M211 622.5h5m-2.5-2.5v5M211 620.5h5m-2.5-2.5v5M211 615.5h5m-2.5-2.5v5M211 613.5h5m-2.5-2.5v5M211 609.5h5m-2.5-2.5v5M211 607.5h5m-2.5-2.5v5M211 602.5h5m-2.5-2.5v5M211 600.5h5m-2.5-2.5v5M211 592.5h5m-2.5-2.5v5M211 589.5h5m-2.5-2.5v5M211 587.5h5m-2.5-2.5v5M211 586.5h5m-2.5-2.5v5M212 588.5h5m-2.5-2.5v5M212 585.5h5m-2.5-2.5v5M212 582.5h5m-2.5-2.5v5M212 581.5h5m-2.5-2.5v5M212 580.5h5m-2.5-2.5v5M212 579.5h5m-2.5-2.5v5M212 577.5h5m-2.5-2.5v5M212 573.5h5m-2.5-2.5v5M213 572.5h5m-2.5-2.5v5M213 569.5h5m-2.5-2.5v5M213 570.5h5m-2.5-2.5v5M213 571.5h5m-2.5-2.5v5M213 567.5h5m-2.5-2.5v5M213 566.5h5m-2.5-2.5v5M213 568.5h5m-2.5-2.5v5M214 567.5h5m-2.5-2.5v5M214 568.5h5m-2.5-2.5v5M214 570.5h5m-2.5-2.5v5M214 573.5h5m-2.5-2.5v5M214 572.5h5m-2.5-2.5v5M214 575.5h5m-2.5-2.5v5M215 573.5h5m-2.5-2.5v5M214 576.5h5m-2.5-2.5v5M214 578.5h5m-2.5-2.5v5M215 577.5h5m-2.5-2.5v5M215 578.5h5m-2.5-2.5v5M215 580.5h5m-2.5-2.5v5M215 582.5h5m-2.5-2.5v5M215 588.5h5m-2.5-2.5v5M215 587.5h5m-2.5-2.5v5M216 589.5h5m-2.5-2.5v5M215 589.5h5m-2.5-2.5v5M216 593.5h5m-2.5-2.5v5M217 596.5h5m-2.5-2.5v5M216 597.5h5m-2.5-2.5v5M216 599.5h5m-2.5-2.5v5M217 597.5h5m-2.5-2.5v5M217 599.5h5m-2.5-2.5v5M216 601.5h5m-2.5-2.5v5M218 600.5h5m-2.5-2.5v5M217 601.5h5m-2.5-2.5v5M218 598.5h5m-2.5-2.5v5M218 601.5h5m-2.5-2.5v5M218 599.5h5m-2.5-2.5v5M218 602.5h5m-2.5-2.5v5M218 606.5h5m-2.5-2.5v5M218 605.5h5m-2.5-2.5v5M218 603.5h5m-2.5-2.5v5M219 604.5h5m-2.5-2.5v5M219 602.5h5m-2.5-2.5v5M219 605.5h5m-2.5-2.5v5M219 600.5h5m-2.5-2.5v5M220 605.5h5m-2.5-2.5v5M220 607.5h5m-2.5-2.5v5M220 604.5h5m-2.5-2.5v5M220 602.5h5m-2.5-2.5v5M220 606.5h5m-2.5-2.5v5M221 604.5h5m-2.5-2.5v5M221 605.5h5m-2.5-2.5v5M221 607.5h5m-2.5-2.5v5M221 606.5h5m-2.5-2.5v5M221 608.5h5m-2.5-2.5v5M222 610.5h5m-2.5-2.5v5M222 608.5h5m-2.5-2.5v5M222 609.5h5m-2.5-2.5v5M222 612.5h5m-2.5-2.5v5M223 613.5h5m-2.5-2.5v5M223 618.5h5m-2.5-2.5v5M222 617.5h5m-2.5-2.5v5M223 622.5h5m-2.5-2.5v5M223 623.5h5m-2.5-2.5v5M223 624.5h5m-2.5-2.5v5M223 626.5h5m-2.5-2.5v5M224 628.5h5m-2.5-2.5v5M224 630.5h5m-2.5-2.5v5M224 634.5h5m-2.5-2.5v5M224 632.5h5m-2.5-2.5v5M224 633.5h5m-2.5-2.5v5M224 635.5h5m-2.5-2.5v5M224 637.5h5m-2.5-2.5v5M224 641.5h5m-2.5-2.5v5M224 646.5h5m-2.5-2.5v5M225 646.5h5m-2.5-2.5v5M225 651.5h5m-2.5-2.5v5M224 654.5h5m-2.5-2.5v5M225 654.5h5m-2.5-2.5v5M225 656.5h5m-2.5-2.5v5M225 658.5h5m-2.5-2.5v5M225 662.5h5m-2.5-2.5v5M225 664.5h5m-2.5-2.5v5M225 665.5h5m-2.5-2.5v5M225 668.5h5m-2.5-2.5v5M225 673.5h5m-2.5-2.5v5M226 676.5h5m-2.5-2.5v5M225 680.5h5m-2.5-2.5v5M226 685.5h5m-2.5-2.5v5M226 687.5h5m-2.5-2.5v5M226 689.5h5m-2.5-2.5v5M226 691.5h5m-2.5-2.5v5M226 693.5h5m-2.5-2.5v5M227 693.5h5m-2.5-2.5v5M226 697.5h5m-2.5-2.5v5M226 694.5h5m-2.5-2.5v5M226 695.5h5m-2.5-2.5v5M227 691.5h5m-2.5-2.5v5M227 687.5h5m-2.5-2.5v5M228 684.5h5m-2.5-2.5v5M227 679.5h5m-2.5-2.5v5M227 677.5h5m-2.5-2.5v5M227 676.5h5m-2.5-2.5v5M227 669.5h5m-2.5-2.5v5M227 666.5h5m-2.5-2.5v5M227 660.5h5m-2.5-2.5v5M228 655.5h5m-2.5-2.5v5M228 649.5h5m-2.5-2.5v5M228 643.5h5m-2.5-2.5v5M228 637.5h5m-2.5-2.5v5M228 632.5h5m-2.5-2.5v5M228 627.5h5m-2.5-2.5v5M228 621.5h5m-2.5-2.5v5M228 616.5h5m-2.5-2.5v5M228 613.5h5m-2.5-2.5v5M229 610.5h5m-2.5-2.5v5M229 605.5h5m-2.5-2.5v5M229 597.5h5m-2.5-2.5v5M229 592.5h5m-2.5-2.5v5M229 588.5h5m-2.5-2.5v5M229 587.5h5m-2.5-2.5v5M229 583.5h5m-2.5-2.5v5M229 581.5h5m-2.5-2.5v5M230 575.5h5m-2.5-2.5v5M230 571.5h5m-2.5-2.5v5M230 568.5h5m-2.5-2.5v5M230 566.5h5m-2.5-2.5v5M230 564.5h5m-2.5-2.5v5M230 558.5h5m-2.5-2.5v5M230 556.5h5m-2.5-2.5v5M230 552.5h5m-2.5-2.5v5M230 549.5h5m-2.5-2.5v5M230 546.5h5m-2.5-2.5v5M231 548.5h5m-2.5-2.5v5M231 545.5h5m-2.5-2.5v5M230 542.5h5m-2.5-2.5v5M231 544.5h5m-2.5-2.5v5M231 543.5h5m-2.5-2.5v5M231 546.5h5m-2.5-2.5v5M231 547.5h5m-2.5-2.5v5M231 549.5h5m-2.5-2.5v5M232 551.5h5m-2.5-2.5v5M232 556.5h5m-2.5-2.5v5M232 555.5h5m-2.5-2.5v5M232 560.5h5m-2.5-2.5v5M231 560.5h5m-2.5-2.5v5M232 561.5h5m-2.5-2.5v5M232 562.5h5m-2.5-2.5v5M232 566.5h5m-2.5-2.5v5M232 568.5h5m-2.5-2.5v5M232 573.5h5m-2.5-2.5v5M233 575.5h5m-2.5-2.5v5M233 579.5h5m-2.5-2.5v5M233 584.5h5m-2.5-2.5v5M233 585.5h5m-2.5-2.5v5M232 585.5h5m-2.5-2.5v5M233 587.5h5m-2.5-2.5v5M234 589.5h5m-2.5-2.5v5M233 589.5h5m-2.5-2.5v5M233 592.5h5m-2.5-2.5v5M233 591.5h5m-2.5-2.5v5M234 590.5h5m-2.5-2.5v5M234 592.5h5m-2.5-2.5v5M234 596.5h5m-2.5-2.5v5M234 597.5h5m-2.5-2.5v5M234 598.5h5m-2.5-2.5v5M235 596.5h5m-2.5-2.5v5M235 598.5h5m-2.5-2.5v5M235 597.5h5m-2.5-2.5v5M234 599.5h5m-2.5-2.5v5M235 595.5h5m-2.5-2.5v5M236 594.5h5m-2.5-2.5v5M236 597.5h5m-2.5-2.5v5M236 596.5h5m-2.5-2.5v5M236 598.5h5m-2.5-2.5v5M236 601.5h5m-2.5-2.5v5M237 598.5h5m-2.5-2.5v5M236 599.5h5m-2.5-2.5v5M237 597.5h5m-2.5-2.5v5M237 596.5h5m-2.5-2.5v5M237 594.5h5m-2.5-2.5v5M237 593.5h5m-2.5-2.5v5M238 593.5h5m-2.5-2.5v5M237 595.5h5m-2.5-2.5v5M238 596.5h5m-2.5-2.5v5M238 595.5h5m-2.5-2.5v5M238 592.5h5m-2.5-2.5v5M239 590.5h5m-2.5-2.5v5M239 592.5h5m-2.5-2.5v5M239 594.5h5m-2.5-2.5v5M239 593.5h5m-2.5-2.5v5M239 595.5h5m-2.5-2.5v5M239 591.5h5m-2.5-2.5v5M239 586.5h5m-2.5-2.5v5M239 587.5h5m-2.5-2.5v5M239 584.5h5m-2.5-2.5v5M240 587.5h5m-2.5-2.5v5M240 585.5h5m-2.5-2.5v5M240 589.5h5m-2.5-2.5v5M241 591.5h5m-2.5-2.5v5M240 592.5h5m-2.5-2.5v5M241 594.5h5m-2.5-2.5v5M240 594.5h5m-2.5-2.5v5M241 599.5h5m-2.5-2.5v5M241 598.5h5m-2.5-2.5v5M241 595.5h5m-2.5-2.5v5M241 596.5h5m-2.5-2.5v5M242 595.5h5m-2.5-2.5v5M242 596.5h5m-2.5-2.5v5M242 597.5h5m-2.5-2.5v5M242 598.5h5m-2.5-2.5v5M243 600.5h5m-2.5-2.5v5M242 601.5h5m-2.5-2.5v5M243 603.5h5m-2.5-2.5v5M242 604.5h5m-2.5-2.5v5M243 605.5h5m-2.5-2.5v5M243 607.5h5m-2.5-2.5v5M243 606.5h5m-2.5-2.5v5M243 608.5h5m-2.5-2.5v5M243 612.5h5m-2.5-2.5v5M243 614.5h5m-2.5-2.5v5M243 616.5h5m-2.5-2.5v5M244 617.5h5m-2.5-2.5v5M244 616.5h5m-2.5-2.5v5M244 619.5h5m-2.5-2.5v5M244 621.5h5m-2.5-2.5v5M244 625.5h5m-2.5-2.5v5M244 629.5h5m-2.5-2.5v5M244 633.5h5m-2.5-2.5v5M244 634.5h5m-2.5-2.5v5M244 638.5h5m-2.5-2.5v5M244 639.5h5m-2.5-2.5v5M244 642.5h5m-2.5-2.5v5M244 645.5h5m-2.5-2.5v5M244 649.5h5m-2.5-2.5v5M245 652.5h5m-2.5-2.5v5M245 655.5h5m-2.5-2.5v5M244 661.5h5m-2.5-2.5v5M244 667.5h5m-2.5-2.5v5M245 669.5h5m-2.5-2.5v5M246 671.5h5m-2.5-2.5v5M245 668.5h5m-2.5-2.5v5M246 664.5h5m-2.5-2.5v5M246 665.5h5m-2.5-2.5v5M246 666.5h5m-2.5-2.5v5M246 660.5h5m-2.5-2.5v5M246 657.5h5m-2.5-2.5v5M246 653.5h5m-2.5-2.5v5M246 652.5h5m-2.5-2.5v5M247 647.5h5m-2.5-2.5v5M247 645.5h5m-2.5-2.5v5M246 643.5h5m-2.5-2.5v5M247 642.5h5m-2.5-2.5v5M247 641.5h5m-2.5-2.5v5M247 636.5h5m-2.5-2.5v5M247 632.5h5m-2.5-2.5v5M247 633.5h5m-2.5-2.5v5M247 629.5h5m-2.5-2.5v5M247 620.5h5m-2.5-2.5v5M248 617.5h5m-2.5-2.5v5M247 616.5h5m-2.5-2.5v5M248 610.5h5m-2.5-2.5v5M248 609.5h5m-2.5-2.5v5M248 608.5h5m-2.5-2.5v5M248 603.5h5m-2.5-2.5v5M248 601.5h5m-2.5-2.5v5M248 598.5h5m-2.5-2.5v5M248 594.5h5m-2.5-2.5v5M248 590.5h5m-2.5-2.5v5M248 588.5h5m-2.5-2.5v5M248 583.5h5m-2.5-2.5v5M249 582.5h5m-2.5-2.5v5M249 580.5h5m-2.5-2.5v5M249 575.5h5m-2.5-2.5v5M249 573.5h5m-2.5-2.5v5M249 569.5h5m-2.5-2.5v5M249 568.5h5m-2.5-2.5v5M249 565.5h5m-2.5-2.5v5M249 562.5h5m-2.5-2.5v5M250 562.5h5m-2.5-2.5v5M250 561.5h5m-2.5-2.5v5M250 558.5h5m-2.5-2.5v5M249 556.5h5m-2.5-2.5v5M250 557.5h5m-2.5-2.5v5M250 556.5h5m-2.5-2.5v5M251 565.5h5m-2.5-2.5v5M251 566.5h5m-2.5-2.5v5M251 567.5h5m-2.5-2.5v5M251 569.5h5m-2.5-2.5v5M251 571.5h5m-2.5-2.5v5M251 574.5h5m-2.5-2.5v5M251 572.5h5m-2.5-2.5v5M252 573.5h5m-2.5-2.5v5M252 576.5h5m-2.5-2.5v5M252 577.5h5m-2.5-2.5v5M252 580.5h5m-2.5-2.5v5M252 581.5h5m-2.5-2.5v5M252 582.5h5m-2.5-2.5v5M252 586.5h5m-2.5-2.5v5M252 583.5h5m-2.5-2.5v5M252 584.5h5m-2.5-2.5v5M253 585.5h5m-2.5-2.5v5M252 587.5h5m-2.5-2.5v5M252 589.5h5m-2.5-2.5v5M252 592.5h5m-2.5-2.5v5M253 592.5h5m-2.5-2.5v5M253 593.5h5m-2.5-2.5v5M253 590.5h5m-2.5-2.5v5M253 594.5h5m-2.5-2.5v5M254 597.5h5m-2.5-2.5v5M254 596.5h5m-2.5-2.5v5M254 592.5h5m-2.5-2.5v5M254 593.5h5m-2.5-2.5v5M255 594.5h5m-2.5-2.5v5M254 595.5h5m-2.5-2.5v5M255 598.5h5m-2.5-2.5v5M255 599.5h5m-2.5-2.5v5M255 596.5h5m-2.5-2.5v5M255 597.5h5m-2.5-2.5v5M255 595.5h5m-2.5-2.5v5M256 597.5h5m-2.5-2.5v5M256 600.5h5m-2.5-2.5v5M256 595.5h5m-2.5-2.5v5M256 596.5h5m-2.5-2.5v5M257 598.5h5m-2.5-2.5v5M257 600.5h5m-2.5-2.5v5M257 603.5h5m-2.5-2.5v5M257 604.5h5m-2.5-2.5v5M258 603.5h5m-2.5-2.5v5M258 601.5h5m-2.5-2.5v5M258 600.5h5m-2.5-2.5v5M258 602.5h5m-2.5-2.5v5M258 599.5h5m-2.5-2.5v5M259 599.5h5m-2.5-2.5v5M259 600.5h5m-2.5-2.5v5M259 603.5h5m-2.5-2.5v5M259 602.5h5m-2.5-2.5v5M260 601.5h5m-2.5-2.5v5M260 602.5h5m-2.5-2.5v5M260 604.5h5m-2.5-2.5v5M260 603.5h5m-2.5-2.5v5M261 603.5h5m-2.5-2.5v5M261 607.5h5m-2.5-2.5v5M261 608.5h5m-2.5-2.5v5M261 611.5h5m-2.5-2.5v5M261 612.5h5m-2.5-2.5v5M261 616.5h5m-2.5-2.5v5M262 613.5h5m-2.5-2.5v5M262 615.5h5m-2.5-2.5v5M261 619.5h5m-2.5-2.5v5M262 618.5h5m-2.5-2.5v5M262 624.5h5m-2.5-2.5v5M262 625.5h5m-2.5-2.5v5M262 629.5h5m-2.5-2.5v5M263 626.5h5m-2.5-2.5v5M262 631.5h5m-2.5-2.5v5M263 634.5h5m-2.5-2.5v5M263 636.5h5m-2.5-2.5v5M262 640.5h5m-2.5-2.5v5M263 644.5h5m-2.5-2.5v5M263 646.5h5m-2.5-2.5v5M263 652.5h5m-2.5-2.5v5M263 654.5h5m-2.5-2.5v5M263 655.5h5m-2.5-2.5v5M263 656.5h5m-2.5-2.5v5M264 660.5h5m-2.5-2.5v5M264 662.5h5m-2.5-2.5v5M264 664.5h5m-2.5-2.5v5M264 669.5h5m-2.5-2.5v5M264 673.5h5m-2.5-2.5v5M264 675.5h5m-2.5-2.5v5M264 680.5h5m-2.5-2.5v5M264 683.5h5m-2.5-2.5v5M265 684.5h5m-2.5-2.5v5M265 686.5h5m-2.5-2.5v5M265 688.5h5m-2.5-2.5v5M265 685.5h5m-2.5-2.5v5M264 682.5h5m-2.5-2.5v5M265 681.5h5m-2.5-2.5v5M265 675.5h5m-2.5-2.5v5M265 671.5h5m-2.5-2.5v5M265 664.5h5m-2.5-2.5v5M266 659.5h5m-2.5-2.5v5M265 656.5h5m-2.5-2.5v5M265 652.5h5m-2.5-2.5v5M265 648.5h5m-2.5-2.5v5M266 644.5h5m-2.5-2.5v5M266 639.5h5m-2.5-2.5v5M266 634.5h5m-2.5-2.5v5M266 628.5h5m-2.5-2.5v5M266 625.5h5m-2.5-2.5v5M266 618.5h5m-2.5-2.5v5M266 613.5h5m-2.5-2.5v5M266 607.5h5m-2.5-2.5v5M267 601.5h5m-2.5-2.5v5M267 595.5h5m-2.5-2.5v5M266 592.5h5m-2.5-2.5v5M267 584.5h5m-2.5-2.5v5M267 581.5h5m-2.5-2.5v5M267 574.5h5m-2.5-2.5v5M267 568.5h5m-2.5-2.5v5M267 563.5h5m-2.5-2.5v5M267 555.5h5m-2.5-2.5v5M267 551.5h5m-2.5-2.5v5M267 547.5h5m-2.5-2.5v5M268 546.5h5m-2.5-2.5v5M268 544.5h5m-2.5-2.5v5M268 547.5h5m-2.5-2.5v5M268 552.5h5m-2.5-2.5v5M268 554.5h5m-2.5-2.5v5M268 556.5h5m-2.5-2.5v5M268 560.5h5m-2.5-2.5v5M268 565.5h5m-2.5-2.5v5M268 569.5h5m-2.5-2.5v5M269 569.5h5m-2.5-2.5v5M269 572.5h5m-2.5-2.5v5M269 577.5h5m-2.5-2.5v5M269 580.5h5m-2.5-2.5v5M269 581.5h5m-2.5-2.5v5M269 578.5h5m-2.5-2.5v5M270 578.5h5m-2.5-2.5v5M270 579.5h5m-2.5-2.5v5M270 580.5h5m-2.5-2.5v5M270 581.5h5m-2.5-2.5v5M270 585.5h5m-2.5-2.5v5M270 588.5h5m-2.5-2.5v5M270 587.5h5m-2.5-2.5v5M271 588.5h5m-2.5-2.5v5M271 587.5h5m-2.5-2.5v5M271 586.5h5m-2.5-2.5v5M271 589.5h5m-2.5-2.5v5M270 593.5h5m-2.5-2.5v5M271 593.5h5m-2.5-2.5v5M271 594.5h5m-2.5-2.5v5M271 595.5h5m-2.5-2.5v5M272 594.5h5m-2.5-2.5v5M271 598.5h5m-2.5-2.5v5M271 600.5h5m-2.5-2.5v5M272 600.5h5m-2.5-2.5v5M272 603.5h5m-2.5-2.5v5M272 602.5h5m-2.5-2.5v5M272 604.5h5m-2.5-2.5v5M272 606.5h5m-2.5-2.5v5M273 607.5h5m-2.5-2.5v5M273 608.5h5m-2.5-2.5v5M272 605.5h5m-2.5-2.5v5M273 609.5h5m-2.5-2.5v5M273 611.5h5m-2.5-2.5v5M274 615.5h5m-2.5-2.5v5M273 616.5h5m-2.5-2.5v5M274 613.5h5m-2.5-2.5v5M274 612.5h5m-2.5-2.5v5M274 609.5h5m-2.5-2.5v5M274 610.5h5m-2.5-2.5v5M274 607.5h5m-2.5-2.5v5M274 605.5h5m-2.5-2.5v5M274 606.5h5m-2.5-2.5v5M275 606.5h5m-2.5-2.5v5M274 602.5h5m-2.5-2.5v5M275 600.5h5m-2.5-2.5v5M275 598.5h5m-2.5-2.5v5M275 599.5h5m-2.5-2.5v5M275 601.5h5m-2.5-2.5v5M275 595.5h5m-2.5-2.5v5M275 593.5h5m-2.5-2.5v5M276 594.5h5m-2.5-2.5v5M276 593.5h5m-2.5-2.5v5M276 591.5h5m-2.5-2.5v5M276 590.5h5m-2.5-2.5v5M276 589.5h5m-2.5-2.5v5M275 586.5h5m-2.5-2.5v5M277 586.5h5m-2.5-2.5v5M276 586.5h5m-2.5-2.5v5M276 588.5h5m-2.5-2.5v5M276 587.5h5m-2.5-2.5v5M277 584.5h5m-2.5-2.5v5M277 585.5h5m-2.5-2.5v5M277 582.5h5m-2.5-2.5v5M278 581.5h5m-2.5-2.5v5M277 580.5h5m-2.5-2.5v5M278 579.5h5m-2.5-2.5v5M278 582.5h5m-2.5-2.5v5M278 580.5h5m-2.5-2.5v5M278 585.5h5m-2.5-2.5v5M278 586.5h5m-2.5-2.5v5M278 583.5h5m-2.5-2.5v5M279 582.5h5m-2.5-2.5v5M279 581.5h5m-2.5-2.5v5M280 579.5h5m-2.5-2.5v5M279 580.5h5m-2.5-2.5v5M280 584.5h5m-2.5-2.5v5M279 584.5h5m-2.5-2.5v5M279 585.5h5m-2.5-2.5v5M280 583.5h5m-2.5-2.5v5M280 582.5h5m-2.5-2.5v5M280 587.5h5m-2.5-2.5v5M281 585.5h5m-2.5-2.5v5M281 582.5h5m-2.5-2.5v5M281 583.5h5m-2.5-2.5v5M281 584.5h5m-2.5-2.5v5M281 588.5h5m-2.5-2.5v5M281 589.5h5m-2.5-2.5v5M281 590.5h5m-2.5-2.5v5M282 593.5h5m-2.5-2.5v5M282 594.5h5m-2.5-2.5v5M281 593.5h5m-2.5-2.5v5M281 591.5h5m-2.5-2.5v5M282 595.5h5m-2.5-2.5v5M282 600.5h5m-2.5-2.5v5M282 602.5h5m-2.5-2.5v5M282 601.5h5m-2.5-2.5v5M282 605.5h5m-2.5-2.5v5M282 611.5h5m-2.5-2.5v5M282 617.5h5m-2.5-2.5v5M283 620.5h5m-2.5-2.5v5M283 626.5h5m-2.5-2.5v5M283 630.5h5m-2.5-2.5v5M283 634.5h5m-2.5-2.5v5M283 640.5h5m-2.5-2.5v5M283 642.5h5m-2.5-2.5v5M283 653.5h5m-2.5-2.5v5M284 664.5h5m-2.5-2.5v5M283 673.5h5m-2.5-2.5v5M284 672.5h5m-2.5-2.5v5M284 668.5h5m-2.5-2.5v5M284 666.5h5m-2.5-2.5v5M284 663.5h5m-2.5-2.5v5M284 657.5h5m-2.5-2.5v5M284 653.5h5m-2.5-2.5v5M284 650.5h5m-2.5-2.5v5M284 647.5h5m-2.5-2.5v5M285 642.5h5m-2.5-2.5v5M285 639.5h5m-2.5-2.5v5M285 633.5h5m-2.5-2.5v5M285 626.5h5m-2.5-2.5v5M285 620.5h5m-2.5-2.5v5M285 613.5h5m-2.5-2.5v5M285 614.5h5m-2.5-2.5v5M285 607.5h5m-2.5-2.5v5M285 600.5h5m-2.5-2.5v5M285 596.5h5m-2.5-2.5v5M285 590.5h5m-2.5-2.5v5M285 549.5h5m-2.5-2.5v5M286 544.5h5m-2.5-2.5v5M285 538.5h5m-2.5-2.5v5M286 532.5h5m-2.5-2.5v5M285 562.5h5m-2.5-2.5v5M286 522.5h5m-2.5-2.5v5M287 517.5h5m-2.5-2.5v5M286 516.5h5m-2.5-2.5v5M287 516.5h5m-2.5-2.5v5M287 519.5h5m-2.5-2.5v5M287 527.5h5m-2.5-2.5v5M287 530.5h5m-2.5-2.5v5M286 530.5h5m-2.5-2.5v5M287 534.5h5m-2.5-2.5v5M287 532.5h5m-2.5-2.5v5M288 537.5h5m-2.5-2.5v5M288 539.5h5m-2.5-2.5v5M288 542.5h5m-2.5-2.5v5M288 540.5h5m-2.5-2.5v5M288 544.5h5m-2.5-2.5v5M288 543.5h5m-2.5-2.5v5M289 545.5h5m-2.5-2.5v5M288 549.5h5m-2.5-2.5v5M289 548.5h5m-2.5-2.5v5M289 552.5h5m-2.5-2.5v5M289 550.5h5m-2.5-2.5v5M288 551.5h5m-2.5-2.5v5M289 556.5h5m-2.5-2.5v5M289 561.5h5m-2.5-2.5v5M289 563.5h5m-2.5-2.5v5M289 566.5h5m-2.5-2.5v5M290 567.5h5m-2.5-2.5v5M289 568.5h5m-2.5-2.5v5M289 564.5h5m-2.5-2.5v5M290 570.5h5m-2.5-2.5v5M290 569.5h5m-2.5-2.5v5M290 572.5h5m-2.5-2.5v5M290 573.5h5m-2.5-2.5v5M290 574.5h5m-2.5-2.5v5M290 576.5h5m-2.5-2.5v5M291 578.5h5m-2.5-2.5v5M290 581.5h5m-2.5-2.5v5M291 579.5h5m-2.5-2.5v5M291 583.5h5m-2.5-2.5v5M291 582.5h5m-2.5-2.5v5M291 581.5h5m-2.5-2.5v5M292 583.5h5m-2.5-2.5v5M292 587.5h5m-2.5-2.5v5M292 586.5h5m-2.5-2.5v5M291 587.5h5m-2.5-2.5v5M292 588.5h5m-2.5-2.5v5M291 589.5h5m-2.5-2.5v5M292 590.5h5m-2.5-2.5v5M292 591.5h5m-2.5-2.5v5M292 592.5h5m-2.5-2.5v5M293 593.5h5m-2.5-2.5v5M292 595.5h5m-2.5-2.5v5M293 592.5h5m-2.5-2.5v5M293 594.5h5m-2.5-2.5v5M293 596.5h5m-2.5-2.5v5M293 597.5h5m-2.5-2.5v5M294 598.5h5m-2.5-2.5v5M294 601.5h5m-2.5-2.5v5M294 599.5h5m-2.5-2.5v5M294 603.5h5m-2.5-2.5v5M294 602.5h5m-2.5-2.5v5M295 601.5h5m-2.5-2.5v5M294 604.5h5m-2.5-2.5v5M294 605.5h5m-2.5-2.5v5M295 604.5h5m-2.5-2.5v5M295 599.5h5m-2.5-2.5v5M295 595.5h5m-2.5-2.5v5M295 596.5h5m-2.5-2.5v5M295 593.5h5m-2.5-2.5v5M295 588.5h5m-2.5-2.5v5M295 585.5h5m-2.5-2.5v5M296 584.5h5m-2.5-2.5v5M296 583.5h5m-2.5-2.5v5M296 582.5h5m-2.5-2.5v5M296 581.5h5m-2.5-2.5v5M296 577.5h5m-2.5-2.5v5M296 575.5h5m-2.5-2.5v5M296 578.5h5m-2.5-2.5v5M297 576.5h5m-2.5-2.5v5M296 576.5h5m-2.5-2.5v5M297 574.5h5m-2.5-2.5v5M297 573.5h5m-2.5-2.5v5M297 572.5h5m-2.5-2.5v5M298 573.5h5m-2.5-2.5v5M298 572.5h5m-2.5-2.5v5M298 574.5h5m-2.5-2.5v5M298 575.5h5m-2.5-2.5v5M298 569.5h5m-2.5-2.5v5M298 570.5h5m-2.5-2.5v5M299 570.5h5m-2.5-2.5v5M298 568.5h5m-2.5-2.5v5M299 573.5h5m-2.5-2.5v5M299 567.5h5m-2.5-2.5v5M299 569.5h5m-2.5-2.5v5M299 568.5h5m-2.5-2.5v5M299 571.5h5m-2.5-2.5v5M299 566.5h5m-2.5-2.5v5M300 567.5h5m-2.5-2.5v5M300 569.5h5m-2.5-2.5v5M300 565.5h5m-2.5-2.5v5M300 561.5h5m-2.5-2.5v5M301 556.5h5m-2.5-2.5v5M301 551.5h5m-2.5-2.5v5M300 547.5h5m-2.5-2.5v5M301 546.5h5m-2.5-2.5v5M301 544.5h5m-2.5-2.5v5M301 539.5h5m-2.5-2.5v5M301 534.5h5m-2.5-2.5v5M301 532.5h5m-2.5-2.5v5M301 530.5h5m-2.5-2.5v5M301 528.5h5m-2.5-2.5v5M301 526.5h5m-2.5-2.5v5M301 523.5h5m-2.5-2.5v5M302 520.5h5m-2.5-2.5v5M301 517.5h5m-2.5-2.5v5M302 518.5h5m-2.5-2.5v5M302 515.5h5m-2.5-2.5v5M302 513.5h5m-2.5-2.5v5M302 514.5h5m-2.5-2.5v5M303 512.5h5m-2.5-2.5v5M302 510.5h5m-2.5-2.5v5M302 507.5h5m-2.5-2.5v5M303 508.5h5m-2.5-2.5v5M303 509.5h5m-2.5-2.5v5M302 509.5h5m-2.5-2.5v5M303 511.5h5m-2.5-2.5v5M303 510.5h5m-2.5-2.5v5M303 514.5h5m-2.5-2.5v5M304 516.5h5m-2.5-2.5v5M304 514.5h5m-2.5-2.5v5M304 515.5h5m-2.5-2.5v5M304 513.5h5m-2.5-2.5v5M304 518.5h5m-2.5-2.5v5M305 518.5h5m-2.5-2.5v5M305 521.5h5m-2.5-2.5v5M305 522.5h5m-2.5-2.5v5M304 523.5h5m-2.5-2.5v5M305 519.5h5m-2.5-2.5v5M306 521.5h5m-2.5-2.5v5M305 524.5h5m-2.5-2.5v5M305 525.5h5m-2.5-2.5v5M306 525.5h5m-2.5-2.5v5M306 528.5h5m-2.5-2.5v5M306 529.5h5m-2.5-2.5v5M306 531.5h5m-2.5-2.5v5M306 534.5h5m-2.5-2.5v5M307 535.5h5m-2.5-2.5v5M307 539.5h5m-2.5-2.5v5M306 540.5h5m-2.5-2.5v5M306 539.5h5m-2.5-2.5v5M307 541.5h5m-2.5-2.5v5M306 543.5h5m-2.5-2.5v5M307 545.5h5m-2.5-2.5v5M307 546.5h5m-2.5-2.5v5M308 548.5h5m-2.5-2.5v5M307 549.5h5m-2.5-2.5v5M308 550.5h5m-2.5-2.5v5M307 551.5h5m-2.5-2.5v5M308 553.5h5m-2.5-2.5v5M308 552.5h5m-2.5-2.5v5M308 556.5h5m-2.5-2.5v5M308 558.5h5m-2.5-2.5v5M308 563.5h5m-2.5-2.5v5M309 563.5h5m-2.5-2.5v5M309 565.5h5m-2.5-2.5v5M309 564.5h5m-2.5-2.5v5M308 565.5h5m-2.5-2.5v5M309 567.5h5m-2.5-2.5v5M308 568.5h5m-2.5-2.5v5M309 573.5h5m-2.5-2.5v5M309 574.5h5m-2.5-2.5v5M309 577.5h5m-2.5-2.5v5M309 579.5h5m-2.5-2.5v5M310 582.5h5m-2.5-2.5v5M310 584.5h5m-2.5-2.5v5M310 586.5h5m-2.5-2.5v5M310 592.5h5m-2.5-2.5v5M310 593.5h5m-2.5-2.5v5M310 595.5h5m-2.5-2.5v5M311 595.5h5m-2.5-2.5v5M311 597.5h5m-2.5-2.5v5M311 600.5h5m-2.5-2.5v5M311 601.5h5m-2.5-2.5v5M311 602.5h5m-2.5-2.5v5M311 598.5h5m-2.5-2.5v5M311 599.5h5m-2.5-2.5v5M312 602.5h5m-2.5-2.5v5M312 601.5h5m-2.5-2.5v5M312 603.5h5m-2.5-2.5v5M312 605.5h5m-2.5-2.5v5M312 607.5h5m-2.5-2.5v5M313 611.5h5m-2.5-2.5v5M313 608.5h5m-2.5-2.5v5M313 609.5h5m-2.5-2.5v5M312 606.5h5m-2.5-2.5v5M312 609.5h5m-2.5-2.5v5M313 610.5h5m-2.5-2.5v5M314 605.5h5m-2.5-2.5v5M313 606.5h5m-2.5-2.5v5M313 605.5h5m-2.5-2.5v5M314 607.5h5m-2.5-2.5v5M314 608.5h5m-2.5-2.5v5M314 606.5h5m-2.5-2.5v5M315 606.5h5m-2.5-2.5v5M314 609.5h5m-2.5-2.5v5M315 605.5h5m-2.5-2.5v5M315 604.5h5m-2.5-2.5v5M315 602.5h5m-2.5-2.5v5M316 605.5h5m-2.5-2.5v5M315 603.5h5m-2.5-2.5v5M316 606.5h5m-2.5-2.5v5M316 604.5h5m-2.5-2.5v5M316 607.5h5m-2.5-2.5v5M316 609.5h5m-2.5-2.5v5M316 608.5h5m-2.5-2.5v5M317 609.5h5m-2.5-2.5v5M317 606.5h5m-2.5-2.5v5M317 603.5h5m-2.5-2.5v5M317 602.5h5m-2.5-2.5v5M317 601.5h5m-2.5-2.5v5M318 604.5h5m-2.5-2.5v5M318 603.5h5m-2.5-2.5v5M318 605.5h5m-2.5-2.5v5M318 606.5h5m-2.5-2.5v5M318 607.5h5m-2.5-2.5v5M318 612.5h5m-2.5-2.5v5M318 613.5h5m-2.5-2.5v5M319 616.5h5m-2.5-2.5v5M318 614.5h5m-2.5-2.5v5M318 615.5h5m-2.5-2.5v5M319 618.5h5m-2.5-2.5v5M319 617.5h5m-2.5-2.5v5M319 622.5h5m-2.5-2.5v5M319 625.5h5m-2.5-2.5v5M319 627.5h5m-2.5-2.5v5M320 629.5h5m-2.5-2.5v5M319 632.5h5m-2.5-2.5v5M320 634.5h5m-2.5-2.5v5M319 639.5h5m-2.5-2.5v5M320 644.5h5m-2.5-2.5v5M320 649.5h5m-2.5-2.5v5M320 650.5h5m-2.5-2.5v5M319 651.5h5m-2.5-2.5v5M321 656.5h5m-2.5-2.5v5M320 657.5h5m-2.5-2.5v5M320 660.5h5m-2.5-2.5v5M320 692.5h5m-2.5-2.5v5M320 688.5h5m-2.5-2.5v5M321 687.5h5m-2.5-2.5v5M321 684.5h5m-2.5-2.5v5M321 679.5h5m-2.5-2.5v5M321 677.5h5m-2.5-2.5v5M321 674.5h5m-2.5-2.5v5M321 671.5h5m-2.5-2.5v5M321 668.5h5m-2.5-2.5v5M321 661.5h5m-2.5-2.5v5M321 658.5h5m-2.5-2.5v5M322 654.5h5m-2.5-2.5v5M321 653.5h5m-2.5-2.5v5M322 649.5h5m-2.5-2.5v5M322 643.5h5m-2.5-2.5v5M322 641.5h5m-2.5-2.5v5M322 639.5h5m-2.5-2.5v5M322 634.5h5m-2.5-2.5v5M322 632.5h5m-2.5-2.5v5M322 629.5h5m-2.5-2.5v5M322 625.5h5m-2.5-2.5v5M322 623.5h5m-2.5-2.5v5M323 622.5h5m-2.5-2.5v5M323 620.5h5m-2.5-2.5v5M323 615.5h5m-2.5-2.5v5M323 613.5h5m-2.5-2.5v5M323 609.5h5m-2.5-2.5v5M323 605.5h5m-2.5-2.5v5M324 604.5h5m-2.5-2.5v5M324 601.5h5m-2.5-2.5v5M324 598.5h5m-2.5-2.5v5M323 592.5h5m-2.5-2.5v5M324 588.5h5m-2.5-2.5v5M324 586.5h5m-2.5-2.5v5M324 583.5h5m-2.5-2.5v5M324 580.5h5m-2.5-2.5v5M324 578.5h5m-2.5-2.5v5M325 574.5h5m-2.5-2.5v5M324 571.5h5m-2.5-2.5v5M324 569.5h5m-2.5-2.5v5M325 567.5h5m-2.5-2.5v5M325 568.5h5m-2.5-2.5v5M325 569.5h5m-2.5-2.5v5M325 566.5h5m-2.5-2.5v5M326 566.5h5m-2.5-2.5v5M325 565.5h5m-2.5-2.5v5M326 562.5h5m-2.5-2.5v5M326 561.5h5m-2.5-2.5v5M325 560.5h5m-2.5-2.5v5M326 563.5h5m-2.5-2.5v5M326 564.5h5m-2.5-2.5v5M327 566.5h5m-2.5-2.5v5M326 567.5h5m-2.5-2.5v5M326 571.5h5m-2.5-2.5v5M326 570.5h5m-2.5-2.5v5M327 574.5h5m-2.5-2.5v5M327 576.5h5m-2.5-2.5v5M327 579.5h5m-2.5-2.5v5M327 578.5h5m-2.5-2.5v5M327 580.5h5m-2.5-2.5v5M327 581.5h5m-2.5-2.5v5M328 584.5h5m-2.5-2.5v5M327 584.5h5m-2.5-2.5v5M328 585.5h5m-2.5-2.5v5M327 588.5h5m-2.5-2.5v5M328 587.5h5m-2.5-2.5v5M328 586.5h5m-2.5-2.5v5M328 590.5h5m-2.5-2.5v5M328 593.5h5m-2.5-2.5v5M328 595.5h5m-2.5-2.5v5M329 593.5h5m-2.5-2.5v5M329 596.5h5m-2.5-2.5v5M329 598.5h5m-2.5-2.5v5M328 594.5h5m-2.5-2.5v5M329 601.5h5m-2.5-2.5v5M329 602.5h5m-2.5-2.5v5M329 600.5h5m-2.5-2.5v5M330 603.5h5m-2.5-2.5v5M329 605.5h5m-2.5-2.5v5M329 604.5h5m-2.5-2.5v5M330 605.5h5m-2.5-2.5v5M330 606.5h5m-2.5-2.5v5M330 608.5h5m-2.5-2.5v5M330 604.5h5m-2.5-2.5v5M330 607.5h5m-2.5-2.5v5M331 607.5h5m-2.5-2.5v5M331 604.5h5m-2.5-2.5v5M331 605.5h5m-2.5-2.5v5M331 608.5h5m-2.5-2.5v5M331 606.5h5m-2.5-2.5v5M332 606.5h5m-2.5-2.5v5M332 608.5h5m-2.5-2.5v5M332 609.5h5m-2.5-2.5v5M332 610.5h5m-2.5-2.5v5M332 607.5h5m-2.5-2.5v5M333 610.5h5m-2.5-2.5v5M332 611.5h5m-2.5-2.5v5M333 609.5h5m-2.5-2.5v5M333 611.5h5m-2.5-2.5v5M333 614.5h5m-2.5-2.5v5M333 612.5h5m-2.5-2.5v5M333 613.5h5m-2.5-2.5v5M334 609.5h5m-2.5-2.5v5M334 615.5h5m-2.5-2.5v5M334 614.5h5m-2.5-2.5v5M335 615.5h5m-2.5-2.5v5M334 617.5h5m-2.5-2.5v5M335 619.5h5m-2.5-2.5v5M335 616.5h5m-2.5-2.5v5M334 616.5h5m-2.5-2.5v5M335 618.5h5m-2.5-2.5v5M335 621.5h5m-2.5-2.5v5M335 625.5h5m-2.5-2.5v5M336 623.5h5m-2.5-2.5v5M335 624.5h5m-2.5-2.5v5M336 624.5h5m-2.5-2.5v5M336 628.5h5m-2.5-2.5v5M336 630.5h5m-2.5-2.5v5M336 634.5h5m-2.5-2.5v5M336 636.5h5m-2.5-2.5v5M336 637.5h5m-2.5-2.5v5M336 643.5h5m-2.5-2.5v5M337 648.5h5m-2.5-2.5v5M337 647.5h5m-2.5-2.5v5M337 654.5h5m-2.5-2.5v5M337 660.5h5m-2.5-2.5v5M337 661.5h5m-2.5-2.5v5M337 662.5h5m-2.5-2.5v5M337 668.5h5m-2.5-2.5v5M338 669.5h5m-2.5-2.5v5M337 671.5h5m-2.5-2.5v5M338 674.5h5m-2.5-2.5v5M338 677.5h5m-2.5-2.5v5M337 680.5h5m-2.5-2.5v5M338 683.5h5m-2.5-2.5v5M338 686.5h5m-2.5-2.5v5M338 688.5h5m-2.5-2.5v5M338 691.5h5m-2.5-2.5v5M338 692.5h5m-2.5-2.5v5M339 694.5h5m-2.5-2.5v5M338 698.5h5m-2.5-2.5v5M339 700.5h5m-2.5-2.5v5M338 701.5h5m-2.5-2.5v5M339 703.5h5m-2.5-2.5v5M339 702.5h5m-2.5-2.5v5M339 705.5h5m-2.5-2.5v5M339 704.5h5m-2.5-2.5v5M340 705.5h5m-2.5-2.5v5M340 704.5h5m-2.5-2.5v5M340 707.5h5m-2.5-2.5v5M340 706.5h5m-2.5-2.5v5M340 709.5h5m-2.5-2.5v5M340 703.5h5m-2.5-2.5v5M340 702.5h5m-2.5-2.5v5M340 697.5h5m-2.5-2.5v5M341 697.5h5m-2.5-2.5v5M340 695.5h5m-2.5-2.5v5M341 692.5h5m-2.5-2.5v5M340 689.5h5m-2.5-2.5v5M341 686.5h5m-2.5-2.5v5M341 685.5h5m-2.5-2.5v5M341 682.5h5m-2.5-2.5v5M341 678.5h5m-2.5-2.5v5M341 673.5h5m-2.5-2.5v5M341 669.5h5m-2.5-2.5v5M342 666.5h5m-2.5-2.5v5M341 664.5h5m-2.5-2.5v5M341 660.5h5m-2.5-2.5v5M342 659.5h5m-2.5-2.5v5M342 656.5h5m-2.5-2.5v5M342 653.5h5m-2.5-2.5v5M342 651.5h5m-2.5-2.5v5M342 646.5h5m-2.5-2.5v5M342 642.5h5m-2.5-2.5v5M342 640.5h5m-2.5-2.5v5M342 637.5h5m-2.5-2.5v5M343 633.5h5m-2.5-2.5v5M343 634.5h5m-2.5-2.5v5M343 624.5h5m-2.5-2.5v5M342 624.5h5m-2.5-2.5v5M343 622.5h5m-2.5-2.5v5M343 619.5h5m-2.5-2.5v5M343 616.5h5m-2.5-2.5v5M343 612.5h5m-2.5-2.5v5M343 615.5h5m-2.5-2.5v5M343 613.5h5m-2.5-2.5v5M344 612.5h5m-2.5-2.5v5M344 610.5h5m-2.5-2.5v5M343 609.5h5m-2.5-2.5v5M344 606.5h5m-2.5-2.5v5M344 609.5h5m-2.5-2.5v5M345 604.5h5m-2.5-2.5v5M345 607.5h5m-2.5-2.5v5M345 612.5h5m-2.5-2.5v5M345 611.5h5m-2.5-2.5v5M345 613.5h5m-2.5-2.5v5M345 616.5h5m-2.5-2.5v5M345 618.5h5m-2.5-2.5v5M346 621.5h5m-2.5-2.5v5M345 622.5h5m-2.5-2.5v5M346 623.5h5m-2.5-2.5v5M346 625.5h5m-2.5-2.5v5M346 620.5h5m-2.5-2.5v5M347 623.5h5m-2.5-2.5v5M347 626.5h5m-2.5-2.5v5M346 628.5h5m-2.5-2.5v5M347 632.5h5m-2.5-2.5v5M347 629.5h5m-2.5-2.5v5M347 633.5h5m-2.5-2.5v5M347 631.5h5m-2.5-2.5v5M348 630.5h5m-2.5-2.5v5M347 634.5h5m-2.5-2.5v5M347 630.5h5m-2.5-2.5v5M348 631.5h5m-2.5-2.5v5M348 628.5h5m-2.5-2.5v5M349 629.5h5m-2.5-2.5v5M349 628.5h5m-2.5-2.5v5M349 630.5h5m-2.5-2.5v5M348 633.5h5m-2.5-2.5v5M349 633.5h5m-2.5-2.5v5M349 636.5h5m-2.5-2.5v5M349 634.5h5m-2.5-2.5v5M349 635.5h5m-2.5-2.5v5M350 635.5h5m-2.5-2.5v5M350 634.5h5m-2.5-2.5v5M350 636.5h5m-2.5-2.5v5M350 633.5h5m-2.5-2.5v5M351 632.5h5m-2.5-2.5v5M351 633.5h5m-2.5-2.5v5M350 632.5h5m-2.5-2.5v5M351 635.5h5m-2.5-2.5v5M351 636.5h5m-2.5-2.5v5M351 634.5h5m-2.5-2.5v5M352 633.5h5m-2.5-2.5v5M352 635.5h5m-2.5-2.5v5M352 637.5h5m-2.5-2.5v5M352 640.5h5m-2.5-2.5v5M352 638.5h5m-2.5-2.5v5M353 636.5h5m-2.5-2.5v5M352 639.5h5m-2.5-2.5v5M352 642.5h5m-2.5-2.5v5M352 641.5h5m-2.5-2.5v5M353 642.5h5m-2.5-2.5v5M353 641.5h5m-2.5-2.5v5M353 645.5h5m-2.5-2.5v5M353 644.5h5m-2.5-2.5v5M353 646.5h5m-2.5-2.5v5M354 645.5h5m-2.5-2.5v5M354 647.5h5m-2.5-2.5v5M353 647.5h5m-2.5-2.5v5M353 648.5h5m-2.5-2.5v5M354 651.5h5m-2.5-2.5v5M354 654.5h5m-2.5-2.5v5M354 653.5h5m-2.5-2.5v5M354 657.5h5m-2.5-2.5v5M354 658.5h5m-2.5-2.5v5M355 659.5h5m-2.5-2.5v5M355 663.5h5m-2.5-2.5v5M354 663.5h5m-2.5-2.5v5M355 665.5h5m-2.5-2.5v5M355 669.5h5m-2.5-2.5v5M355 671.5h5m-2.5-2.5v5M355 670.5h5m-2.5-2.5v5M355 673.5h5m-2.5-2.5v5M355 675.5h5m-2.5-2.5v5M356 677.5h5m-2.5-2.5v5M356 680.5h5m-2.5-2.5v5M356 681.5h5m-2.5-2.5v5M355 682.5h5m-2.5-2.5v5M356 682.5h5m-2.5-2.5v5M357 684.5h5m-2.5-2.5v5M357 686.5h5m-2.5-2.5v5M356 685.5h5m-2.5-2.5v5M357 687.5h5m-2.5-2.5v5M357 683.5h5m-2.5-2.5v5M357 681.5h5m-2.5-2.5v5M357 678.5h5m-2.5-2.5v5M357 677.5h5m-2.5-2.5v5M357 676.5h5m-2.5-2.5v5M357 673.5h5m-2.5-2.5v5M357 670.5h5m-2.5-2.5v5M357 667.5h5m-2.5-2.5v5M357 663.5h5m-2.5-2.5v5M358 661.5h5m-2.5-2.5v5M357 658.5h5m-2.5-2.5v5M358 655.5h5m-2.5-2.5v5M358 653.5h5m-2.5-2.5v5M358 650.5h5m-2.5-2.5v5M358 648.5h5m-2.5-2.5v5M358 645.5h5m-2.5-2.5v5M358 641.5h5m-2.5-2.5v5M359 643.5h5m-2.5-2.5v5M359 641.5h5m-2.5-2.5v5M358 639.5h5m-2.5-2.5v5M359 637.5h5m-2.5-2.5v5M359 636.5h5m-2.5-2.5v5M359 632.5h5m-2.5-2.5v5M359 629.5h5m-2.5-2.5v5M359 626.5h5m-2.5-2.5v5M359 624.5h5m-2.5-2.5v5M359 623.5h5m-2.5-2.5v5M360 623.5h5m-2.5-2.5v5M360 622.5h5m-2.5-2.5v5M360 620.5h5m-2.5-2.5v5M360 617.5h5m-2.5-2.5v5M360 616.5h5m-2.5-2.5v5M361 617.5h5m-2.5-2.5v5M360 613.5h5m-2.5-2.5v5M361 614.5h5m-2.5-2.5v5M361 613.5h5m-2.5-2.5v5M361 612.5h5m-2.5-2.5v5M360 611.5h5m-2.5-2.5v5M361 608.5h5m-2.5-2.5v5M361 606.5h5m-2.5-2.5v5M361 607.5h5m-2.5-2.5v5M361 611.5h5m-2.5-2.5v5M362 606.5h5m-2.5-2.5v5M362 607.5h5m-2.5-2.5v5M362 605.5h5m-2.5-2.5v5M362 603.5h5m-2.5-2.5v5M362 604.5h5m-2.5-2.5v5M363 606.5h5m-2.5-2.5v5M363 608.5h5m-2.5-2.5v5M363 610.5h5m-2.5-2.5v5M363 611.5h5m-2.5-2.5v5M363 614.5h5m-2.5-2.5v5M363 615.5h5m-2.5-2.5v5M364 614.5h5m-2.5-2.5v5M363 612.5h5m-2.5-2.5v5M364 616.5h5m-2.5-2.5v5M364 617.5h5m-2.5-2.5v5M364 618.5h5m-2.5-2.5v5M365 618.5h5m-2.5-2.5v5M365 617.5h5m-2.5-2.5v5M365 619.5h5m-2.5-2.5v5M365 621.5h5m-2.5-2.5v5M365 623.5h5m-2.5-2.5v5M364 621.5h5m-2.5-2.5v5M365 622.5h5m-2.5-2.5v5M366 623.5h5m-2.5-2.5v5M365 625.5h5m-2.5-2.5v5M366 627.5h5m-2.5-2.5v5M366 628.5h5m-2.5-2.5v5M366 625.5h5m-2.5-2.5v5M366 626.5h5m-2.5-2.5v5M367 630.5h5m-2.5-2.5v5M367 629.5h5m-2.5-2.5v5M366 633.5h5m-2.5-2.5v5M367 631.5h5m-2.5-2.5v5M366 630.5h5m-2.5-2.5v5M368 629.5h5m-2.5-2.5v5M368 630.5h5m-2.5-2.5v5M368 627.5h5m-2.5-2.5v5M367 626.5h5m-2.5-2.5v5M367 627.5h5m-2.5-2.5v5M369 630.5h5m-2.5-2.5v5M368 633.5h5m-2.5-2.5v5M368 631.5h5m-2.5-2.5v5M369 633.5h5m-2.5-2.5v5M369 632.5h5m-2.5-2.5v5M369 631.5h5m-2.5-2.5v5M369 629.5h5m-2.5-2.5v5M370 632.5h5m-2.5-2.5v5M370 630.5h5m-2.5-2.5v5M369 628.5h5m-2.5-2.5v5M370 631.5h5m-2.5-2.5v5M370 628.5h5m-2.5-2.5v5M370 627.5h5m-2.5-2.5v5M371 627.5h5m-2.5-2.5v5M371 626.5h5m-2.5-2.5v5M371 625.5h5m-2.5-2.5v5M370 621.5h5m-2.5-2.5v5M371 619.5h5m-2.5-2.5v5M371 617.5h5m-2.5-2.5v5M372 618.5h5m-2.5-2.5v5M372 620.5h5m-2.5-2.5v5M372 621.5h5m-2.5-2.5v5M372 619.5h5m-2.5-2.5v5M372 615.5h5m-2.5-2.5v5M372 616.5h5m-2.5-2.5v5M372 617.5h5m-2.5-2.5v5M372 614.5h5m-2.5-2.5v5M373 618.5h5m-2.5-2.5v5M373 615.5h5m-2.5-2.5v5M373 620.5h5m-2.5-2.5v5M373 617.5h5m-2.5-2.5v5M373 616.5h5m-2.5-2.5v5M373 621.5h5m-2.5-2.5v5M374 621.5h5m-2.5-2.5v5M373 623.5h5m-2.5-2.5v5M373 625.5h5m-2.5-2.5v5M374 623.5h5m-2.5-2.5v5M374 624.5h5m-2.5-2.5v5M374 628.5h5m-2.5-2.5v5M374 629.5h5m-2.5-2.5v5M375 632.5h5m-2.5-2.5v5M375 634.5h5m-2.5-2.5v5M375 635.5h5m-2.5-2.5v5M375 637.5h5m-2.5-2.5v5M375 638.5h5m-2.5-2.5v5M375 640.5h5m-2.5-2.5v5M376 638.5h5m-2.5-2.5v5M376 639.5h5m-2.5-2.5v5M375 641.5h5m-2.5-2.5v5M375 643.5h5m-2.5-2.5v5M376 642.5h5m-2.5-2.5v5M376 644.5h5m-2.5-2.5v5M376 645.5h5m-2.5-2.5v5M376 647.5h5m-2.5-2.5v5M376 646.5h5m-2.5-2.5v5M376 648.5h5m-2.5-2.5v5M377 649.5h5m-2.5-2.5v5M377 646.5h5m-2.5-2.5v5M377 645.5h5m-2.5-2.5v5M377 644.5h5m-2.5-2.5v5M377 643.5h5m-2.5-2.5v5M377 640.5h5m-2.5-2.5v5M378 637.5h5m-2.5-2.5v5M378 635.5h5m-2.5-2.5v5M378 633.5h5m-2.5-2.5v5M378 632.5h5m-2.5-2.5v5M378 628.5h5m-2.5-2.5v5M378 626.5h5m-2.5-2.5v5M378 624.5h5m-2.5-2.5v5M379 622.5h5m-2.5-2.5v5M379 619.5h5m-2.5-2.5v5M379 617.5h5m-2.5-2.5v5M379 614.5h5m-2.5-2.5v5M379 611.5h5m-2.5-2.5v5M379 609.5h5m-2.5-2.5v5M379 608.5h5m-2.5-2.5v5M379 605.5h5m-2.5-2.5v5M379 602.5h5m-2.5-2.5v5M380 597.5h5m-2.5-2.5v5M380 599.5h5m-2.5-2.5v5M380 600.5h5m-2.5-2.5v5M381 596.5h5m-2.5-2.5v5M380 594.5h5m-2.5-2.5v5M381 593.5h5m-2.5-2.5v5M381 594.5h5m-2.5-2.5v5M381 598.5h5m-2.5-2.5v5M381 601.5h5m-2.5-2.5v5M381 602.5h5m-2.5-2.5v5M381 603.5h5m-2.5-2.5v5M381 605.5h5m-2.5-2.5v5M382 605.5h5m-2.5-2.5v5M381 607.5h5m-2.5-2.5v5M381 608.5h5m-2.5-2.5v5M382 606.5h5m-2.5-2.5v5M382 608.5h5m-2.5-2.5v5M382 609.5h5m-2.5-2.5v5M382 612.5h5m-2.5-2.5v5M382 614.5h5m-2.5-2.5v5M382 617.5h5m-2.5-2.5v5M382 620.5h5m-2.5-2.5v5M383 622.5h5m-2.5-2.5v5M383 620.5h5m-2.5-2.5v5M382 622.5h5m-2.5-2.5v5M383 621.5h5m-2.5-2.5v5M383 624.5h5m-2.5-2.5v5M383 625.5h5m-2.5-2.5v5M383 626.5h5m-2.5-2.5v5M384 628.5h5m-2.5-2.5v5M384 626.5h5m-2.5-2.5v5M384 629.5h5m-2.5-2.5v5M384 630.5h5m-2.5-2.5v5M384 631.5h5m-2.5-2.5v5M385 631.5h5m-2.5-2.5v5M385 629.5h5m-2.5-2.5v5M385 628.5h5m-2.5-2.5v5M385 633.5h5m-2.5-2.5v5M385 630.5h5m-2.5-2.5v5M386 632.5h5m-2.5-2.5v5M385 634.5h5m-2.5-2.5v5M386 631.5h5m-2.5-2.5v5M386 633.5h5m-2.5-2.5v5M386 630.5h5m-2.5-2.5v5M387 632.5h5m-2.5-2.5v5M387 631.5h5m-2.5-2.5v5M387 633.5h5m-2.5-2.5v5M387 630.5h5m-2.5-2.5v5M388 632.5h5m-2.5-2.5v5M387 629.5h5m-2.5-2.5v5M388 628.5h5m-2.5-2.5v5M388 631.5h5m-2.5-2.5v5M388 630.5h5m-2.5-2.5v5M389 629.5h5m-2.5-2.5v5M389 627.5h5m-2.5-2.5v5M389 630.5h5m-2.5-2.5v5M389 628.5h5m-2.5-2.5v5M389 631.5h5m-2.5-2.5v5M390 630.5h5m-2.5-2.5v5M390 631.5h5m-2.5-2.5v5M389 632.5h5m-2.5-2.5v5M390 632.5h5m-2.5-2.5v5M391 628.5h5m-2.5-2.5v5M391 629.5h5m-2.5-2.5v5M391 627.5h5m-2.5-2.5v5M391 630.5h5m-2.5-2.5v5M391 634.5h5m-2.5-2.5v5M391 631.5h5m-2.5-2.5v5M392 629.5h5m-2.5-2.5v5M392 635.5h5m-2.5-2.5v5M392 634.5h5m-2.5-2.5v5M391 636.5h5m-2.5-2.5v5M392 636.5h5m-2.5-2.5v5M392 637.5h5m-2.5-2.5v5M392 638.5h5m-2.5-2.5v5M392 646.5h5m-2.5-2.5v5M392 647.5h5m-2.5-2.5v5M393 649.5h5m-2.5-2.5v5M393 652.5h5m-2.5-2.5v5M393 655.5h5m-2.5-2.5v5M393 656.5h5m-2.5-2.5v5M393 660.5h5m-2.5-2.5v5M394 657.5h5m-2.5-2.5v5M394 660.5h5m-2.5-2.5v5M394 661.5h5m-2.5-2.5v5M393 666.5h5m-2.5-2.5v5M394 662.5h5m-2.5-2.5v5M394 663.5h5m-2.5-2.5v5M394 666.5h5m-2.5-2.5v5M395 665.5h5m-2.5-2.5v5M395 663.5h5m-2.5-2.5v5M394 659.5h5m-2.5-2.5v5M395 659.5h5m-2.5-2.5v5M394 653.5h5m-2.5-2.5v5M395 651.5h5m-2.5-2.5v5M395 648.5h5m-2.5-2.5v5M395 644.5h5m-2.5-2.5v5M395 643.5h5m-2.5-2.5v5M395 639.5h5m-2.5-2.5v5M395 640.5h5m-2.5-2.5v5M395 635.5h5m-2.5-2.5v5M395 634.5h5m-2.5-2.5v5M395 631.5h5m-2.5-2.5v5M396 629.5h5m-2.5-2.5v5M396 625.5h5m-2.5-2.5v5M396 624.5h5m-2.5-2.5v5M396 622.5h5m-2.5-2.5v5M396 620.5h5m-2.5-2.5v5M396 617.5h5m-2.5-2.5v5M396 615.5h5m-2.5-2.5v5M397 616.5h5m-2.5-2.5v5M397 611.5h5m-2.5-2.5v5M397 612.5h5m-2.5-2.5v5M397 608.5h5m-2.5-2.5v5M398 603.5h5m-2.5-2.5v5M397 604.5h5m-2.5-2.5v5M398 604.5h5m-2.5-2.5v5M397 600.5h5m-2.5-2.5v5M397 598.5h5m-2.5-2.5v5M398 599.5h5m-2.5-2.5v5M398 600.5h5m-2.5-2.5v5M397 602.5h5m-2.5-2.5v5M398 598.5h5m-2.5-2.5v5M398 595.5h5m-2.5-2.5v5M399 598.5h5m-2.5-2.5v5M398 597.5h5m-2.5-2.5v5M399 596.5h5m-2.5-2.5v5M399 597.5h5m-2.5-2.5v5M399 594.5h5m-2.5-2.5v5M399 592.5h5m-2.5-2.5v5M399 595.5h5m-2.5-2.5v5M400 595.5h5m-2.5-2.5v5M400 596.5h5m-2.5-2.5v5M400 593.5h5m-2.5-2.5v5M400 594.5h5m-2.5-2.5v5M400 598.5h5m-2.5-2.5v5M401 599.5h5m-2.5-2.5v5M401 598.5h5m-2.5-2.5v5M400 599.5h5m-2.5-2.5v5M401 600.5h5m-2.5-2.5v5M401 601.5h5m-2.5-2.5v5M400 602.5h5m-2.5-2.5v5M401 602.5h5m-2.5-2.5v5M401 605.5h5m-2.5-2.5v5M401 606.5h5m-2.5-2.5v5M401 607.5h5m-2.5-2.5v5M402 605.5h5m-2.5-2.5v5M402 608.5h5m-2.5-2.5v5M402 606.5h5m-2.5-2.5v5M402 607.5h5m-2.5-2.5v5M402 610.5h5m-2.5-2.5v5M402 609.5h5m-2.5-2.5v5M403 609.5h5m-2.5-2.5v5M403 611.5h5m-2.5-2.5v5M403 613.5h5m-2.5-2.5v5M403 610.5h5m-2.5-2.5v5M403 614.5h5m-2.5-2.5v5M403 615.5h5m-2.5-2.5v5M404 617.5h5m-2.5-2.5v5M404 615.5h5m-2.5-2.5v5M404 618.5h5m-2.5-2.5v5M404 616.5h5m-2.5-2.5v5M405 616.5h5m-2.5-2.5v5M405 619.5h5m-2.5-2.5v5M405 618.5h5m-2.5-2.5v5M405 615.5h5m-2.5-2.5v5M405 612.5h5m-2.5-2.5v5M405 611.5h5m-2.5-2.5v5M406 610.5h5m-2.5-2.5v5M405 609.5h5m-2.5-2.5v5M406 608.5h5m-2.5-2.5v5M406 607.5h5m-2.5-2.5v5M406 606.5h5m-2.5-2.5v5M406 605.5h5m-2.5-2.5v5M406 604.5h5m-2.5-2.5v5M406 600.5h5m-2.5-2.5v5M407 597.5h5m-2.5-2.5v5M407 596.5h5m-2.5-2.5v5M407 598.5h5m-2.5-2.5v5M406 596.5h5m-2.5-2.5v5M407 594.5h5m-2.5-2.5v5M407 590.5h5m-2.5-2.5v5M407 591.5h5m-2.5-2.5v5M407 587.5h5m-2.5-2.5v5M407 589.5h5m-2.5-2.5v5M408 588.5h5m-2.5-2.5v5M408 589.5h5m-2.5-2.5v5M408 592.5h5m-2.5-2.5v5M409 592.5h5m-2.5-2.5v5M408 593.5h5m-2.5-2.5v5M408 595.5h5m-2.5-2.5v5M408 597.5h5m-2.5-2.5v5M409 597.5h5m-2.5-2.5v5M409 599.5h5m-2.5-2.5v5M409 598.5h5m-2.5-2.5v5M409 602.5h5m-2.5-2.5v5M409 605.5h5m-2.5-2.5v5M409 606.5h5m-2.5-2.5v5M410 606.5h5m-2.5-2.5v5M410 607.5h5m-2.5-2.5v5M409 607.5h5m-2.5-2.5v5M410 611.5h5m-2.5-2.5v5M410 612.5h5m-2.5-2.5v5M411 612.5h5m-2.5-2.5v5M410 616.5h5m-2.5-2.5v5M411 615.5h5m-2.5-2.5v5M411 618.5h5m-2.5-2.5v5M411 619.5h5m-2.5-2.5v5M411 620.5h5m-2.5-2.5v5M411 623.5h5m-2.5-2.5v5M411 625.5h5m-2.5-2.5v5M411 629.5h5m-2.5-2.5v5M411 634.5h5m-2.5-2.5v5M412 634.5h5m-2.5-2.5v5M412 638.5h5m-2.5-2.5v5M411 638.5h5m-2.5-2.5v5M412 642.5h5m-2.5-2.5v5M412 645.5h5m-2.5-2.5v5M413 646.5h5m-2.5-2.5v5M412 648.5h5m-2.5-2.5v5M413 647.5h5m-2.5-2.5v5M413 648.5h5m-2.5-2.5v5M412 649.5h5m-2.5-2.5v5M412 653.5h5m-2.5-2.5v5M413 652.5h5m-2.5-2.5v5M414 654.5h5m-2.5-2.5v5M413 658.5h5m-2.5-2.5v5M414 661.5h5m-2.5-2.5v5M413 662.5h5m-2.5-2.5v5M413 665.5h5m-2.5-2.5v5M414 666.5h5m-2.5-2.5v5M414 667.5h5m-2.5-2.5v5M414 665.5h5m-2.5-2.5v5M414 658.5h5m-2.5-2.5v5M414 656.5h5m-2.5-2.5v5M414 653.5h5m-2.5-2.5v5M414 650.5h5m-2.5-2.5v5M414 648.5h5m-2.5-2.5v5M415 644.5h5m-2.5-2.5v5M414 639.5h5m-2.5-2.5v5M415 640.5h5m-2.5-2.5v5M415 637.5h5m-2.5-2.5v5M415 638.5h5m-2.5-2.5v5M415 633.5h5m-2.5-2.5v5M415 630.5h5m-2.5-2.5v5M415 625.5h5m-2.5-2.5v5M416 624.5h5m-2.5-2.5v5M415 618.5h5m-2.5-2.5v5M416 615.5h5m-2.5-2.5v5M416 614.5h5m-2.5-2.5v5M416 609.5h5m-2.5-2.5v5M416 606.5h5m-2.5-2.5v5M416 601.5h5m-2.5-2.5v5M416 598.5h5m-2.5-2.5v5M416 596.5h5m-2.5-2.5v5M417 594.5h5m-2.5-2.5v5M417 590.5h5m-2.5-2.5v5M416 590.5h5m-2.5-2.5v5M417 585.5h5m-2.5-2.5v5M417 584.5h5m-2.5-2.5v5M417 580.5h5m-2.5-2.5v5M417 577.5h5m-2.5-2.5v5M417 573.5h5m-2.5-2.5v5M417 574.5h5m-2.5-2.5v5M417 572.5h5m-2.5-2.5v5M418 569.5h5m-2.5-2.5v5M418 568.5h5m-2.5-2.5v5M417 567.5h5m-2.5-2.5v5M418 566.5h5m-2.5-2.5v5M418 563.5h5m-2.5-2.5v5M418 562.5h5m-2.5-2.5v5M417 566.5h5m-2.5-2.5v5M418 561.5h5m-2.5-2.5v5M418 560.5h5m-2.5-2.5v5M419 560.5h5m-2.5-2.5v5M419 558.5h5m-2.5-2.5v5M419 559.5h5m-2.5-2.5v5M420 560.5h5m-2.5-2.5v5M420 561.5h5m-2.5-2.5v5M419 561.5h5m-2.5-2.5v5M420 565.5h5m-2.5-2.5v5M419 566.5h5m-2.5-2.5v5M420 569.5h5m-2.5-2.5v5M421 570.5h5m-2.5-2.5v5M420 570.5h5m-2.5-2.5v5M421 573.5h5m-2.5-2.5v5M421 575.5h5m-2.5-2.5v5M420 577.5h5m-2.5-2.5v5M421 578.5h5m-2.5-2.5v5M421 579.5h5m-2.5-2.5v5M421 581.5h5m-2.5-2.5v5M421 583.5h5m-2.5-2.5v5M421 584.5h5m-2.5-2.5v5M421 587.5h5m-2.5-2.5v5M421 591.5h5m-2.5-2.5v5M421 592.5h5m-2.5-2.5v5M421 597.5h5m-2.5-2.5v5M422 597.5h5m-2.5-2.5v5M421 596.5h5m-2.5-2.5v5M422 596.5h5m-2.5-2.5v5M422 598.5h5m-2.5-2.5v5M422 600.5h5m-2.5-2.5v5M423 596.5h5m-2.5-2.5v5M423 598.5h5m-2.5-2.5v5M423 599.5h5m-2.5-2.5v5M423 600.5h5m-2.5-2.5v5M423 601.5h5m-2.5-2.5v5M423 603.5h5m-2.5-2.5v5M424 600.5h5m-2.5-2.5v5M424 599.5h5m-2.5-2.5v5M424 598.5h5m-2.5-2.5v5M424 596.5h5m-2.5-2.5v5M425 597.5h5m-2.5-2.5v5M425 598.5h5m-2.5-2.5v5M425 599.5h5m-2.5-2.5v5M425 596.5h5m-2.5-2.5v5M425 595.5h5m-2.5-2.5v5M426 596.5h5m-2.5-2.5v5M426 598.5h5m-2.5-2.5v5M426 594.5h5m-2.5-2.5v5M426 593.5h5m-2.5-2.5v5M426 591.5h5m-2.5-2.5v5M426 590.5h5m-2.5-2.5v5M427 589.5h5m-2.5-2.5v5M427 590.5h5m-2.5-2.5v5M427 591.5h5m-2.5-2.5v5M426 589.5h5m-2.5-2.5v5M427 588.5h5m-2.5-2.5v5M428 588.5h5m-2.5-2.5v5M428 587.5h5m-2.5-2.5v5M428 590.5h5m-2.5-2.5v5M428 589.5h5m-2.5-2.5v5M429 589.5h5m-2.5-2.5v5M429 588.5h5m-2.5-2.5v5M429 592.5h5m-2.5-2.5v5M429 594.5h5m-2.5-2.5v5M429 593.5h5m-2.5-2.5v5M429 597.5h5m-2.5-2.5v5M429 596.5h5m-2.5-2.5v5M430 599.5h5m-2.5-2.5v5M429 602.5h5m-2.5-2.5v5M429 599.5h5m-2.5-2.5v5M429 600.5h5m-2.5-2.5v5M430 601.5h5m-2.5-2.5v5M430 603.5h5m-2.5-2.5v5M430 605.5h5m-2.5-2.5v5M430 608.5h5m-2.5-2.5v5M430 611.5h5m-2.5-2.5v5M431 612.5h5m-2.5-2.5v5M431 614.5h5m-2.5-2.5v5M431 616.5h5m-2.5-2.5v5M431 620.5h5m-2.5-2.5v5M431 621.5h5m-2.5-2.5v5M431 624.5h5m-2.5-2.5v5M431 625.5h5m-2.5-2.5v5M431 629.5h5m-2.5-2.5v5M431 627.5h5m-2.5-2.5v5M432 633.5h5m-2.5-2.5v5M432 636.5h5m-2.5-2.5v5M432 637.5h5m-2.5-2.5v5M432 643.5h5m-2.5-2.5v5M432 648.5h5m-2.5-2.5v5M432 654.5h5m-2.5-2.5v5M432 659.5h5m-2.5-2.5v5M433 667.5h5m-2.5-2.5v5M432 675.5h5m-2.5-2.5v5M433 678.5h5m-2.5-2.5v5M432 680.5h5m-2.5-2.5v5M433 680.5h5m-2.5-2.5v5M434 679.5h5m-2.5-2.5v5M433 681.5h5m-2.5-2.5v5M434 678.5h5m-2.5-2.5v5M434 672.5h5m-2.5-2.5v5M434 667.5h5m-2.5-2.5v5M434 664.5h5m-2.5-2.5v5M434 658.5h5m-2.5-2.5v5M434 656.5h5m-2.5-2.5v5M434 653.5h5m-2.5-2.5v5M434 650.5h5m-2.5-2.5v5M434 644.5h5m-2.5-2.5v5M434 642.5h5m-2.5-2.5v5M434 638.5h5m-2.5-2.5v5M435 634.5h5m-2.5-2.5v5M434 633.5h5m-2.5-2.5v5M435 630.5h5m-2.5-2.5v5M435 629.5h5m-2.5-2.5v5M435 624.5h5m-2.5-2.5v5M435 623.5h5m-2.5-2.5v5M435 622.5h5m-2.5-2.5v5M435 621.5h5m-2.5-2.5v5M435 619.5h5m-2.5-2.5v5M436 616.5h5m-2.5-2.5v5M436 611.5h5m-2.5-2.5v5M436 607.5h5m-2.5-2.5v5M436 608.5h5m-2.5-2.5v5M436 609.5h5m-2.5-2.5v5M436 606.5h5m-2.5-2.5v5M436 605.5h5m-2.5-2.5v5M436 603.5h5m-2.5-2.5v5M436 599.5h5m-2.5-2.5v5M437 597.5h5m-2.5-2.5v5M437 596.5h5m-2.5-2.5v5M437 591.5h5m-2.5-2.5v5M437 586.5h5m-2.5-2.5v5M437 590.5h5m-2.5-2.5v5M437 588.5h5m-2.5-2.5v5M437 589.5h5m-2.5-2.5v5M438 587.5h5m-2.5-2.5v5M438 583.5h5m-2.5-2.5v5M438 581.5h5m-2.5-2.5v5M438 585.5h5m-2.5-2.5v5M439 588.5h5m-2.5-2.5v5M439 589.5h5m-2.5-2.5v5M438 590.5h5m-2.5-2.5v5M439 590.5h5m-2.5-2.5v5M439 591.5h5m-2.5-2.5v5M439 592.5h5m-2.5-2.5v5M439 586.5h5m-2.5-2.5v5M439 587.5h5m-2.5-2.5v5M440 590.5h5m-2.5-2.5v5M440 594.5h5m-2.5-2.5v5M440 596.5h5m-2.5-2.5v5M440 595.5h5m-2.5-2.5v5M440 597.5h5m-2.5-2.5v5M440 598.5h5m-2.5-2.5v5M441 595.5h5m-2.5-2.5v5M441 598.5h5m-2.5-2.5v5M441 599.5h5m-2.5-2.5v5M441 602.5h5m-2.5-2.5v5M441 606.5h5m-2.5-2.5v5M441 604.5h5m-2.5-2.5v5M442 605.5h5m-2.5-2.5v5M442 607.5h5m-2.5-2.5v5M442 606.5h5m-2.5-2.5v5M442 603.5h5m-2.5-2.5v5M442 604.5h5m-2.5-2.5v5M443 607.5h5m-2.5-2.5v5M443 608.5h5m-2.5-2.5v5M443 611.5h5m-2.5-2.5v5M444 609.5h5m-2.5-2.5v5M444 612.5h5m-2.5-2.5v5M444 611.5h5m-2.5-2.5v5M443 613.5h5m-2.5-2.5v5M444 613.5h5m-2.5-2.5v5M445 612.5h5m-2.5-2.5v5M445 611.5h5m-2.5-2.5v5M445 610.5h5m-2.5-2.5v5M445 609.5h5m-2.5-2.5v5M445 613.5h5m-2.5-2.5v5M446 613.5h5m-2.5-2.5v5M446 615.5h5m-2.5-2.5v5M446 616.5h5m-2.5-2.5v5M446 618.5h5m-2.5-2.5v5M447 617.5h5m-2.5-2.5v5M446 623.5h5m-2.5-2.5v5M447 625.5h5m-2.5-2.5v5M447 624.5h5m-2.5-2.5v5M447 623.5h5m-2.5-2.5v5M447 628.5h5m-2.5-2.5v5M447 629.5h5m-2.5-2.5v5M448 630.5h5m-2.5-2.5v5M447 631.5h5m-2.5-2.5v5M448 631.5h5m-2.5-2.5v5M449 630.5h5m-2.5-2.5v5M448 633.5h5m-2.5-2.5v5M448 637.5h5m-2.5-2.5v5M449 637.5h5m-2.5-2.5v5M448 635.5h5m-2.5-2.5v5M448 638.5h5m-2.5-2.5v5M448 640.5h5m-2.5-2.5v5M449 642.5h5m-2.5-2.5v5M449 641.5h5m-2.5-2.5v5M449 646.5h5m-2.5-2.5v5M449 647.5h5m-2.5-2.5v5M449 648.5h5m-2.5-2.5v5M449 652.5h5m-2.5-2.5v5M450 652.5h5m-2.5-2.5v5M450 655.5h5m-2.5-2.5v5M450 657.5h5m-2.5-2.5v5M450 659.5h5m-2.5-2.5v5M451 661.5h5m-2.5-2.5v5M450 661.5h5m-2.5-2.5v5M450 658.5h5m-2.5-2.5v5M451 654.5h5m-2.5-2.5v5M451 655.5h5m-2.5-2.5v5M450 653.5h5m-2.5-2.5v5M451 651.5h5m-2.5-2.5v5M451 645.5h5m-2.5-2.5v5M451 644.5h5m-2.5-2.5v5M451 643.5h5m-2.5-2.5v5M451 641.5h5m-2.5-2.5v5M451 637.5h5m-2.5-2.5v5M452 634.5h5m-2.5-2.5v5M451 632.5h5m-2.5-2.5v5M451 631.5h5m-2.5-2.5v5M451 628.5h5m-2.5-2.5v5M451 629.5h5m-2.5-2.5v5M451 621.5h5m-2.5-2.5v5M452 619.5h5m-2.5-2.5v5M452 617.5h5m-2.5-2.5v5M453 615.5h5m-2.5-2.5v5M452 612.5h5m-2.5-2.5v5M452 608.5h5m-2.5-2.5v5M452 604.5h5m-2.5-2.5v5M453 599.5h5m-2.5-2.5v5M452 598.5h5m-2.5-2.5v5M453 598.5h5m-2.5-2.5v5M453 597.5h5m-2.5-2.5v5M453 590.5h5m-2.5-2.5v5M453 586.5h5m-2.5-2.5v5M454 585.5h5m-2.5-2.5v5M454 584.5h5m-2.5-2.5v5M454 582.5h5m-2.5-2.5v5M454 578.5h5m-2.5-2.5v5M454 575.5h5m-2.5-2.5v5M453 572.5h5m-2.5-2.5v5M454 570.5h5m-2.5-2.5v5M454 569.5h5m-2.5-2.5v5M454 572.5h5m-2.5-2.5v5M455 568.5h5m-2.5-2.5v5M454 565.5h5m-2.5-2.5v5M454 567.5h5m-2.5-2.5v5M455 569.5h5m-2.5-2.5v5M455 571.5h5m-2.5-2.5v5M456 568.5h5m-2.5-2.5v5M455 567.5h5m-2.5-2.5v5M455 570.5h5m-2.5-2.5v5M456 570.5h5m-2.5-2.5v5M456 571.5h5m-2.5-2.5v5M457 570.5h5m-2.5-2.5v5M456 569.5h5m-2.5-2.5v5M457 572.5h5m-2.5-2.5v5M457 576.5h5m-2.5-2.5v5M457 577.5h5m-2.5-2.5v5M457 578.5h5m-2.5-2.5v5M457 580.5h5m-2.5-2.5v5M457 579.5h5m-2.5-2.5v5M458 581.5h5m-2.5-2.5v5M458 580.5h5m-2.5-2.5v5M457 582.5h5m-2.5-2.5v5M458 584.5h5m-2.5-2.5v5M458 583.5h5m-2.5-2.5v5M458 585.5h5m-2.5-2.5v5M458 586.5h5m-2.5-2.5v5M459 589.5h5m-2.5-2.5v5M459 591.5h5m-2.5-2.5v5M458 595.5h5m-2.5-2.5v5M459 594.5h5m-2.5-2.5v5M459 596.5h5m-2.5-2.5v5M459 599.5h5m-2.5-2.5v5M459 600.5h5m-2.5-2.5v5M459 601.5h5m-2.5-2.5v5M460 604.5h5m-2.5-2.5v5M460 605.5h5m-2.5-2.5v5M459 605.5h5m-2.5-2.5v5M460 607.5h5m-2.5-2.5v5M460 609.5h5m-2.5-2.5v5M460 611.5h5m-2.5-2.5v5M460 610.5h5m-2.5-2.5v5M461 615.5h5m-2.5-2.5v5M461 616.5h5m-2.5-2.5v5M460 616.5h5m-2.5-2.5v5M461 614.5h5m-2.5-2.5v5M460 613.5h5m-2.5-2.5v5M461 617.5h5m-2.5-2.5v5M461 618.5h5m-2.5-2.5v5M462 612.5h5m-2.5-2.5v5M462 609.5h5m-2.5-2.5v5M462 607.5h5m-2.5-2.5v5M462 608.5h5m-2.5-2.5v5M462 605.5h5m-2.5-2.5v5M462 606.5h5m-2.5-2.5v5M462 603.5h5m-2.5-2.5v5M462 602.5h5m-2.5-2.5v5M462 601.5h5m-2.5-2.5v5M463 603.5h5m-2.5-2.5v5M463 601.5h5m-2.5-2.5v5M463 602.5h5m-2.5-2.5v5M463 599.5h5m-2.5-2.5v5M463 597.5h5m-2.5-2.5v5M463 595.5h5m-2.5-2.5v5M463 591.5h5m-2.5-2.5v5M464 589.5h5m-2.5-2.5v5M464 587.5h5m-2.5-2.5v5M464 586.5h5m-2.5-2.5v5M465 584.5h5m-2.5-2.5v5M465 582.5h5m-2.5-2.5v5M465 581.5h5m-2.5-2.5v5M466 583.5h5m-2.5-2.5v5M465 583.5h5m-2.5-2.5v5M466 579.5h5m-2.5-2.5v5M465 580.5h5m-2.5-2.5v5M466 581.5h5m-2.5-2.5v5M465 579.5h5m-2.5-2.5v5M466 578.5h5m-2.5-2.5v5M466 582.5h5m-2.5-2.5v5M467 582.5h5m-2.5-2.5v5M466 580.5h5m-2.5-2.5v5M467 580.5h5m-2.5-2.5v5M467 584.5h5m-2.5-2.5v5M467 583.5h5m-2.5-2.5v5M467 585.5h5m-2.5-2.5v5M468 581.5h5m-2.5-2.5v5M468 585.5h5m-2.5-2.5v5M468 583.5h5m-2.5-2.5v5M467 588.5h5m-2.5-2.5v5M468 588.5h5m-2.5-2.5v5M468 592.5h5m-2.5-2.5v5M468 593.5h5m-2.5-2.5v5M468 595.5h5m-2.5-2.5v5M469 595.5h5m-2.5-2.5v5M469 596.5h5m-2.5-2.5v5M469 597.5h5m-2.5-2.5v5M469 600.5h5m-2.5-2.5v5M469 601.5h5m-2.5-2.5v5M469 604.5h5m-2.5-2.5v5M469 606.5h5m-2.5-2.5v5M469 609.5h5m-2.5-2.5v5M469 612.5h5m-2.5-2.5v5M470 614.5h5m-2.5-2.5v5M470 616.5h5m-2.5-2.5v5M470 621.5h5m-2.5-2.5v5M470 620.5h5m-2.5-2.5v5M469 624.5h5m-2.5-2.5v5M469 627.5h5m-2.5-2.5v5M470 631.5h5m-2.5-2.5v5M470 628.5h5m-2.5-2.5v5M470 626.5h5m-2.5-2.5v5M471 623.5h5m-2.5-2.5v5M471 618.5h5m-2.5-2.5v5M471 617.5h5m-2.5-2.5v5M471 615.5h5m-2.5-2.5v5M471 610.5h5m-2.5-2.5v5M471 606.5h5m-2.5-2.5v5M471 601.5h5m-2.5-2.5v5M471 599.5h5m-2.5-2.5v5M471 593.5h5m-2.5-2.5v5M472 587.5h5m-2.5-2.5v5M472 585.5h5m-2.5-2.5v5M472 578.5h5m-2.5-2.5v5M471 574.5h5m-2.5-2.5v5M472 571.5h5m-2.5-2.5v5M472 570.5h5m-2.5-2.5v5M472 566.5h5m-2.5-2.5v5M472 559.5h5m-2.5-2.5v5M473 556.5h5m-2.5-2.5v5M472 552.5h5m-2.5-2.5v5M473 550.5h5m-2.5-2.5v5M472 547.5h5m-2.5-2.5v5M473 543.5h5m-2.5-2.5v5M473 540.5h5m-2.5-2.5v5M473 536.5h5m-2.5-2.5v5M473 538.5h5m-2.5-2.5v5M473 537.5h5m-2.5-2.5v5M473 533.5h5m-2.5-2.5v5M474 532.5h5m-2.5-2.5v5M474 529.5h5m-2.5-2.5v5M473 526.5h5m-2.5-2.5v5M474 531.5h5m-2.5-2.5v5M474 533.5h5m-2.5-2.5v5M475 533.5h5m-2.5-2.5v5M475 535.5h5m-2.5-2.5v5M475 537.5h5m-2.5-2.5v5M475 536.5h5m-2.5-2.5v5M476 537.5h5m-2.5-2.5v5M475 541.5h5m-2.5-2.5v5M476 541.5h5m-2.5-2.5v5M475 543.5h5m-2.5-2.5v5M476 543.5h5m-2.5-2.5v5M476 542.5h5m-2.5-2.5v5M476 544.5h5m-2.5-2.5v5M476 546.5h5m-2.5-2.5v5M476 547.5h5m-2.5-2.5v5M477 555.5h5m-2.5-2.5v5M476 558.5h5m-2.5-2.5v5M476 563.5h5m-2.5-2.5v5M476 566.5h5m-2.5-2.5v5M477 571.5h5m-2.5-2.5v5M477 575.5h5m-2.5-2.5v5M477 580.5h5m-2.5-2.5v5M477 584.5h5m-2.5-2.5v5M477 583.5h5m-2.5-2.5v5M478 586.5h5m-2.5-2.5v5M477 587.5h5m-2.5-2.5v5M477 588.5h5m-2.5-2.5v5M478 589.5h5m-2.5-2.5v5M478 587.5h5m-2.5-2.5v5M478 591.5h5m-2.5-2.5v5M478 590.5h5m-2.5-2.5v5M478 593.5h5m-2.5-2.5v5M478 596.5h5m-2.5-2.5v5M478 594.5h5m-2.5-2.5v5M478 598.5h5m-2.5-2.5v5M479 599.5h5m-2.5-2.5v5M478 600.5h5m-2.5-2.5v5M479 601.5h5m-2.5-2.5v5M479 605.5h5m-2.5-2.5v5M479 602.5h5m-2.5-2.5v5M479 603.5h5m-2.5-2.5v5M479 604.5h5m-2.5-2.5v5M479 607.5h5m-2.5-2.5v5M480 607.5h5m-2.5-2.5v5M480 608.5h5m-2.5-2.5v5M480 609.5h5m-2.5-2.5v5M480 611.5h5m-2.5-2.5v5M480 612.5h5m-2.5-2.5v5M480 613.5h5m-2.5-2.5v5M481 612.5h5m-2.5-2.5v5M481 610.5h5m-2.5-2.5v5M481 613.5h5m-2.5-2.5v5M481 611.5h5m-2.5-2.5v5M482 609.5h5m-2.5-2.5v5M481 606.5h5m-2.5-2.5v5M482 607.5h5m-2.5-2.5v5M482 608.5h5m-2.5-2.5v5M482 605.5h5m-2.5-2.5v5M482 601.5h5m-2.5-2.5v5M482 602.5h5m-2.5-2.5v5M483 602.5h5m-2.5-2.5v5M483 603.5h5m-2.5-2.5v5M483 599.5h5m-2.5-2.5v5M483 598.5h5m-2.5-2.5v5M483 597.5h5m-2.5-2.5v5M483 593.5h5m-2.5-2.5v5M484 587.5h5m-2.5-2.5v5M484 589.5h5m-2.5-2.5v5M484 588.5h5m-2.5-2.5v5M484 590.5h5m-2.5-2.5v5M485 590.5h5m-2.5-2.5v5M485 589.5h5m-2.5-2.5v5M485 588.5h5m-2.5-2.5v5M485 586.5h5m-2.5-2.5v5M485 585.5h5m-2.5-2.5v5M485 587.5h5m-2.5-2.5v5M486 584.5h5m-2.5-2.5v5M485 583.5h5m-2.5-2.5v5M486 581.5h5m-2.5-2.5v5M486 587.5h5m-2.5-2.5v5M486 586.5h5m-2.5-2.5v5M486 589.5h5m-2.5-2.5v5M487 590.5h5m-2.5-2.5v5M487 589.5h5m-2.5-2.5v5M487 587.5h5m-2.5-2.5v5M486 590.5h5m-2.5-2.5v5M487 591.5h5m-2.5-2.5v5M487 592.5h5m-2.5-2.5v5M488 594.5h5m-2.5-2.5v5M487 596.5h5m-2.5-2.5v5M487 595.5h5m-2.5-2.5v5M487 597.5h5m-2.5-2.5v5M487 598.5h5m-2.5-2.5v5M488 599.5h5m-2.5-2.5v5M487 599.5h5m-2.5-2.5v5M488 600.5h5m-2.5-2.5v5M488 602.5h5m-2.5-2.5v5M488 604.5h5m-2.5-2.5v5M489 605.5h5m-2.5-2.5v5M488 605.5h5m-2.5-2.5v5M489 607.5h5m-2.5-2.5v5M489 610.5h5m-2.5-2.5v5M489 613.5h5m-2.5-2.5v5M489 619.5h5m-2.5-2.5v5M489 622.5h5m-2.5-2.5v5M489 626.5h5m-2.5-2.5v5M489 624.5h5m-2.5-2.5v5M490 627.5h5m-2.5-2.5v5M490 625.5h5m-2.5-2.5v5M489 623.5h5m-2.5-2.5v5M490 622.5h5m-2.5-2.5v5M490 619.5h5m-2.5-2.5v5M490 616.5h5m-2.5-2.5v5M490 609.5h5m-2.5-2.5v5M490 608.5h5m-2.5-2.5v5M490 604.5h5m-2.5-2.5v5M490 602.5h5m-2.5-2.5v5M490 600.5h5m-2.5-2.5v5M491 596.5h5m-2.5-2.5v5M491 598.5h5m-2.5-2.5v5M491 595.5h5m-2.5-2.5v5M491 589.5h5m-2.5-2.5v5M491 585.5h5m-2.5-2.5v5M491 583.5h5m-2.5-2.5v5M492 580.5h5m-2.5-2.5v5M492 579.5h5m-2.5-2.5v5M492 575.5h5m-2.5-2.5v5M492 571.5h5m-2.5-2.5v5M492 568.5h5m-2.5-2.5v5M492 565.5h5m-2.5-2.5v5M492 564.5h5m-2.5-2.5v5M493 561.5h5m-2.5-2.5v5M492 562.5h5m-2.5-2.5v5M492 563.5h5m-2.5-2.5v5M492 560.5h5m-2.5-2.5v5M493 562.5h5m-2.5-2.5v5M493 558.5h5m-2.5-2.5v5M493 559.5h5m-2.5-2.5v5M493 557.5h5m-2.5-2.5v5M493 554.5h5m-2.5-2.5v5M493 553.5h5m-2.5-2.5v5M493 552.5h5m-2.5-2.5v5M494 549.5h5m-2.5-2.5v5M493 547.5h5m-2.5-2.5v5M494 547.5h5m-2.5-2.5v5M494 548.5h5m-2.5-2.5v5M493 549.5h5m-2.5-2.5v5M494 546.5h5m-2.5-2.5v5M494 545.5h5m-2.5-2.5v5M494 540.5h5m-2.5-2.5v5M495 543.5h5m-2.5-2.5v5M494 541.5h5m-2.5-2.5v5M495 542.5h5m-2.5-2.5v5M495 548.5h5m-2.5-2.5v5M495 550.5h5m-2.5-2.5v5M495 552.5h5m-2.5-2.5v5M495 555.5h5m-2.5-2.5v5M495 553.5h5m-2.5-2.5v5M496 558.5h5m-2.5-2.5v5M496 559.5h5m-2.5-2.5v5M495 562.5h5m-2.5-2.5v5M496 565.5h5m-2.5-2.5v5M496 569.5h5m-2.5-2.5v5M496 567.5h5m-2.5-2.5v5M496 570.5h5m-2.5-2.5v5M497 571.5h5m-2.5-2.5v5M497 575.5h5m-2.5-2.5v5M497 574.5h5m-2.5-2.5v5M497 577.5h5m-2.5-2.5v5M496 581.5h5m-2.5-2.5v5M497 581.5h5m-2.5-2.5v5M497 584.5h5m-2.5-2.5v5M497 588.5h5m-2.5-2.5v5M497 590.5h5m-2.5-2.5v5M498 587.5h5m-2.5-2.5v5M498 589.5h5m-2.5-2.5v5M497 593.5h5m-2.5-2.5v5M498 592.5h5m-2.5-2.5v5M498 593.5h5m-2.5-2.5v5M498 596.5h5m-2.5-2.5v5M498 599.5h5m-2.5-2.5v5M498 598.5h5m-2.5-2.5v5M498 595.5h5m-2.5-2.5v5M498 601.5h5m-2.5-2.5v5M499 600.5h5m-2.5-2.5v5M499 597.5h5m-2.5-2.5v5M499 595.5h5m-2.5-2.5v5M499 599.5h5m-2.5-2.5v5M499 598.5h5m-2.5-2.5v5M500 596.5h5m-2.5-2.5v5M500 598.5h5m-2.5-2.5v5M500 599.5h5m-2.5-2.5v5M500 600.5h5m-2.5-2.5v5M501 599.5h5m-2.5-2.5v5M501 598.5h5m-2.5-2.5v5M501 601.5h5m-2.5-2.5v5M501 597.5h5m-2.5-2.5v5M501 596.5h5m-2.5-2.5v5M501 595.5h5m-2.5-2.5v5M502 595.5h5m-2.5-2.5v5M502 600.5h5m-2.5-2.5v5M502 596.5h5m-2.5-2.5v5M502 597.5h5m-2.5-2.5v5M502 598.5h5m-2.5-2.5v5M503 597.5h5m-2.5-2.5v5M503 594.5h5m-2.5-2.5v5M503 595.5h5m-2.5-2.5v5M503 592.5h5m-2.5-2.5v5M503 593.5h5m-2.5-2.5v5M504 597.5h5m-2.5-2.5v5M504 595.5h5m-2.5-2.5v5M504 593.5h5m-2.5-2.5v5M504 591.5h5m-2.5-2.5v5M504 596.5h5m-2.5-2.5v5M504 592.5h5m-2.5-2.5v5M504 594.5h5m-2.5-2.5v5M504 598.5h5m-2.5-2.5v5M505 599.5h5m-2.5-2.5v5M505 597.5h5m-2.5-2.5v5M505 595.5h5m-2.5-2.5v5M505 602.5h5m-2.5-2.5v5M506 603.5h5m-2.5-2.5v5M506 602.5h5m-2.5-2.5v5M505 600.5h5m-2.5-2.5v5M506 605.5h5m-2.5-2.5v5M506 607.5h5m-2.5-2.5v5M506 611.5h5m-2.5-2.5v5M506 610.5h5m-2.5-2.5v5M506 614.5h5m-2.5-2.5v5M507 616.5h5m-2.5-2.5v5M507 617.5h5m-2.5-2.5v5M506 618.5h5m-2.5-2.5v5M507 621.5h5m-2.5-2.5v5M507 625.5h5m-2.5-2.5v5M138 570.5h5m-2.5-2.5v5M151 656.5h5m-2.5-2.5v5M170 658.5h5m-2.5-2.5v5M181 630.5h5m-2.5-2.5v5M186 631.5h5m-2.5-2.5v5M189 683.5h5m-2.5-2.5v5M194 594.5h5m-2.5-2.5v5M208 678.5h5m-2.5-2.5v5M214 569.5h5m-2.5-2.5v5M231 542.5h5m-2.5-2.5v5M240 586.5h5m-2.5-2.5v5M240 588.5h5m-2.5-2.5v5M245 667.5h5m-2.5-2.5v5M250 560.5h5m-2.5-2.5v5M256 598.5h5m-2.5-2.5v5M264 688.5h5m-2.5-2.5v5M264 686.5h5m-2.5-2.5v5M268 545.5h5m-2.5-2.5v5M273 612.5h5m-2.5-2.5v5M279 583.5h5m-2.5-2.5v5M283 672.5h5m-2.5-2.5v5M286 517.5h5m-2.5-2.5v5M287 518.5h5m-2.5-2.5v5M295 602.5h5m-2.5-2.5v5M294 600.5h5m-2.5-2.5v5M319 690.5h5m-2.5-2.5v5M344 607.5h5m-2.5-2.5v5M345 609.5h5m-2.5-2.5v5M349 632.5h5m-2.5-2.5v5M349 631.5h5m-2.5-2.5v5M352 636.5h5m-2.5-2.5v5M356 684.5h5m-2.5-2.5v5M377 650.5h5m-2.5-2.5v5M376 649.5h5m-2.5-2.5v5M380 595.5h5m-2.5-2.5v5M381 597.5h5m-2.5-2.5v5M390 633.5h5m-2.5-2.5v5M394 664.5h5m-2.5-2.5v5M400 597.5h5m-2.5-2.5v5M404 619.5h5m-2.5-2.5v5M408 587.5h5m-2.5-2.5v5M414 664.5h5m-2.5-2.5v5M424 601.5h5m-2.5-2.5v5M433 677.5h5m-2.5-2.5v5M438 584.5h5m-2.5-2.5v5M456 566.5h5m-2.5-2.5v5M467 578.5h5m-2.5-2.5v5M470 630.5h5m-2.5-2.5v5M470 629.5h5m-2.5-2.5v5M474 528.5h5m-2.5-2.5v5M475 530.5h5m-2.5-2.5v5M480 610.5h5m-2.5-2.5v5M486 585.5h5m-2.5-2.5v5M489 628.5h5m-2.5-2.5v5M489 627.5h5m-2.5-2.5v5"/>
</g>
<g id="panel-d">
<path class="ax" d="M560.5 400.5H934.5V719.5H560.5ZM579.5 719.5v-4M579.5 400.5v4M597.5 719.5v-8M597.5 400.5v8M616.5 719.5v-4M616.5 400.5v4M635.5 719.5v-4M635.5 400.5v4M654.5 719.5v-4M654.5 400.5v4M672.5 719.5v-4M672.5 400.5v4M691.5 719.5v-8M691.5 400.5v8M710.5 719.5v-4M710.5 400.5v4M728.5 719.5v-4M728.5 400.5v4M747.5 719.5v-4M747.5 400.5v4M766.5 719.5v-4M766.5 400.5v4M784.5 719.5v-8M784.5 400.5v8M803.5 719.5v-4M803.5 400.5v4M822.5 719.5v-4M822.5 400.5v4M841.5 719.5v-4M841.5 400.5v4M859.5 719.5v-4M859.5 400.5v4M878.5 719.5v-8M878.5 400.5v8M897.5 719.5v-4M897.5 400.5v4M915.5 719.5v-4M915.5 400.5v4M560.5 464.5h8M934.5 464.5h-8M560.5 528.5h8M934.5 528.5h-8M560.5 591.5h8M934.5 591.5h-8M560.5 655.5h8M934.5 655.5h-8"/>
<path class="ax" d="M712.5 464V688"/>
<path class="pt" d="M558 636.5h5m-2.5-2.5v5M558 632.5h5m-2.5-2.5v5M558 628.5h5m-2.5-2.5v5M558 631.5h5m-2.5-2.5v5M558 630.5h5m-2.5-2.5v5M559 628.5h5m-2.5-2.5v5M559 626.5h5m-2.5-2.5v5M559 621.5h5m-2.5-2.5v5M559 616.5h5m-2.5-2.5v5M559 611.5h5m-2.5-2.5v5M559 608.5h5m-2.5-2.5v5M559 605.5h5m-2.5-2.5v5M560 603.5h5m-2.5-2.5v5M560 598.5h5m-2.5-2.5v5M560 594.5h5m-2.5-2.5v5M560 591.5h5m-2.5-2.5v5M560 585.5h5m-2.5-2.5v5M560 582.5h5m-2.5-2.5v5M560 580.5h5m-2.5-2.5v5M561 577.5h5m-2.5-2.5v5M560 574.5h5m-2.5-2.5v5M560 570.5h5m-2.5-2.5v5M560 568.5h5m-2.5-2.5v5M561 569.5h5m-2.5-2.5v5M561 563.5h5m-2.5-2.5v5M561 558.5h5m-2.5-2.5v5M561 555.5h5m-2.5-2.5v5M560 555.5h5m-2.5-2.5v5M562 554.5h5m-2.5-2.5v5M562 553.5h5m-2.5-2.5v5M561 551.5h5m-2.5-2.5v5M561 548.5h5m-2.5-2.5v5M561 545.5h5m-2.5-2.5v5M562 543.5h5m-2.5-2.5v5M562 539.5h5m-2.5-2.5v5M562 537.5h5m-2.5-2.5v5M562 538.5h5m-2.5-2.5v5M563 539.5h5m-2.5-2.5v5M562 535.5h5m-2.5-2.5v5M563 533.5h5m-2.5-2.5v5M563 535.5h5m-2.5-2.5v5M564 534.5h5m-2.5-2.5v5M563 532.5h5m-2.5-2.5v5M563 538.5h5m-2.5-2.5v5M563 537.5h5m-2.5-2.5v5M564 539.5h5m-2.5-2.5v5M563 541.5h5m-2.5-2.5v5M564 542.5h5m-2.5-2.5v5M564 541.5h5m-2.5-2.5v5M565 543.5h5m-2.5-2.5v5M564 544.5h5m-2.5-2.5v5M564 546.5h5m-2.5-2.5v5M565 546.5h5m-2.5-2.5v5M564 547.5h5m-2.5-2.5v5M565 547.5h5m-2.5-2.5v5M565 550.5h5m-2.5-2.5v5M565 553.5h5m-2.5-2.5v5M565 555.5h5m-2.5-2.5v5M565 559.5h5m-2.5-2.5v5M565 560.5h5m-2.5-2.5v5M565 562.5h5m-2.5-2.5v5M566 561.5h5m-2.5-2.5v5M566 560.5h5m-2.5-2.5v5M566 567.5h5m-2.5-2.5v5M566 568.5h5m-2.5-2.5v5M566 570.5h5m-2.5-2.5v5M566 572.5h5m-2.5-2.5v5M567 574.5h5m-2.5-2.5v5M566 573.5h5m-2.5-2.5v5M566 574.5h5m-2.5-2.5v5M567 576.5h5m-2.5-2.5v5M566 577.5h5m-2.5-2.5v5M567 579.5h5m-2.5-2.5v5M567 583.5h5m-2.5-2.5v5M568 582.5h5m-2.5-2.5v5M567 584.5h5m-2.5-2.5v5M568 585.5h5m-2.5-2.5v5M568 584.5h5m-2.5-2.5v5M568 586.5h5m-2.5-2.5v5M568 583.5h5m-2.5-2.5v5M568 581.5h5m-2.5-2.5v5M569 585.5h5m-2.5-2.5v5M569 586.5h5m-2.5-2.5v5M568 589.5h5m-2.5-2.5v5M569 587.5h5m-2.5-2.5v5M569 589.5h5m-2.5-2.5v5M569 588.5h5m-2.5-2.5v5M570 586.5h5m-2.5-2.5v5M569 583.5h5m-2.5-2.5v5M570 585.5h5m-2.5-2.5v5M570 584.5h5m-2.5-2.5v5M570 583.5h5m-2.5-2.5v5M570 587.5h5m-2.5-2.5v5M571 584.5h5m-2.5-2.5v5M571 586.5h5m-2.5-2.5v5M571 585.5h5m-2.5-2.5v5M571 583.5h5m-2.5-2.5v5M571 581.5h5m-2.5-2.5v5M572 582.5h5m-2.5-2.5v5M571 579.5h5m-2.5-2.5v5M571 582.5h5m-2.5-2.5v5M571 580.5h5m-2.5-2.5v5M572 580.5h5m-2.5-2.5v5M572 577.5h5m-2.5-2.5v5M573 578.5h5m-2.5-2.5v5M573 579.5h5m-2.5-2.5v5M573 582.5h5m-2.5-2.5v5M573 580.5h5m-2.5-2.5v5M573 583.5h5m-2.5-2.5v5M573 585.5h5m-2.5-2.5v5M574 583.5h5m-2.5-2.5v5M574 584.5h5m-2.5-2.5v5M574 585.5h5m-2.5-2.5v5M574 588.5h5m-2.5-2.5v5M574 589.5h5m-2.5-2.5v5M574 591.5h5m-2.5-2.5v5M574 590.5h5m-2.5-2.5v5M575 590.5h5m-2.5-2.5v5M575 589.5h5m-2.5-2.5v5M575 592.5h5m-2.5-2.5v5M575 594.5h5m-2.5-2.5v5M574 595.5h5m-2.5-2.5v5M575 598.5h5m-2.5-2.5v5M575 600.5h5m-2.5-2.5v5M575 602.5h5m-2.5-2.5v5M576 602.5h5m-2.5-2.5v5M575 606.5h5m-2.5-2.5v5M576 609.5h5m-2.5-2.5v5M576 613.5h5m-2.5-2.5v5M576 616.5h5m-2.5-2.5v5M576 615.5h5m-2.5-2.5v5M576 618.5h5m-2.5-2.5v5M577 618.5h5m-2.5-2.5v5M577 620.5h5m-2.5-2.5v5M576 614.5h5m-2.5-2.5v5M577 609.5h5m-2.5-2.5v5M577 610.5h5m-2.5-2.5v5M577 607.5h5m-2.5-2.5v5M577 604.5h5m-2.5-2.5v5M578 604.5h5m-2.5-2.5v5M577 602.5h5m-2.5-2.5v5M577 597.5h5m-2.5-2.5v5M578 595.5h5m-2.5-2.5v5M577 595.5h5m-2.5-2.5v5M578 593.5h5m-2.5-2.5v5M578 590.5h5m-2.5-2.5v5M578 588.5h5m-2.5-2.5v5M578 587.5h5m-2.5-2.5v5M579 584.5h5m-2.5-2.5v5M578 585.5h5m-2.5-2.5v5M579 579.5h5m-2.5-2.5v5M578 577.5h5m-2.5-2.5v5M578 576.5h5m-2.5-2.5v5M579 574.5h5m-2.5-2.5v5M578 573.5h5m-2.5-2.5v5M579 573.5h5m-2.5-2.5v5M579 571.5h5m-2.5-2.5v5M579 566.5h5m-2.5-2.5v5M580 563.5h5m-2.5-2.5v5M579 563.5h5m-2.5-2.5v5M580 561.5h5m-2.5-2.5v5M580 562.5h5m-2.5-2.5v5M580 560.5h5m-2.5-2.5v5M580 558.5h5m-2.5-2.5v5M580 557.5h5m-2.5-2.5v5M580 556.5h5m-2.5-2.5v5M581 556.5h5m-2.5-2.5v5M580 554.5h5m-2.5-2.5v5M581 555.5h5m-2.5-2.5v5M580 555.5h5m-2.5-2.5v5M581 553.5h5m-2.5-2.5v5M581 550.5h5m-2.5-2.5v5M580 552.5h5m-2.5-2.5v5M581 552.5h5m-2.5-2.5v5M581 551.5h5m-2.5-2.5v5M582 549.5h5m-2.5-2.5v5M582 552.5h5m-2.5-2.5v5M582 558.5h5m-2.5-2.5v5M582 559.5h5m-2.5-2.5v5M582 560.5h5m-2.5-2.5v5M582 561.5h5m-2.5-2.5v5M582 557.5h5m-2.5-2.5v5M583 559.5h5m-2.5-2.5v5M583 561.5h5m-2.5-2.5v5M583 564.5h5m-2.5-2.5v5M583 566.5h5m-2.5-2.5v5M583 567.5h5m-2.5-2.5v5M584 565.5h5m-2.5-2.5v5M584 566.5h5m-2.5-2.5v5M584 569.5h5m-2.5-2.5v5M583 570.5h5m-2.5-2.5v5M584 573.5h5m-2.5-2.5v5M584 575.5h5m-2.5-2.5v5M584 574.5h5m-2.5-2.5v5M584 578.5h5m-2.5-2.5v5M584 582.5h5m-2.5-2.5v5M584 583.5h5m-2.5-2.5v5M585 585.5h5m-2.5-2.5v5M585 584.5h5m-2.5-2.5v5M585 587.5h5m-2.5-2.5v5M585 586.5h5m-2.5-2.5v5M585 588.5h5m-2.5-2.5v5M586 588.5h5m-2.5-2.5v5M586 589.5h5m-2.5-2.5v5M586 591.5h5m-2.5-2.5v5M586 592.5h5m-2.5-2.5v5M586 595.5h5m-2.5-2.5v5M586 597.5h5m-2.5-2.5v5M586 596.5h5m-2.5-2.5v5M587 596.5h5m-2.5-2.5v5M587 595.5h5m-2.5-2.5v5M587 597.5h5m-2.5-2.5v5M587 592.5h5m-2.5-2.5v5M587 591.5h5m-2.5-2.5v5M588 591.5h5m-2.5-2.5v5M588 594.5h5m-2.5-2.5v5M588 597.5h5m-2.5-2.5v5M588 596.5h5m-2.5-2.5v5M588 598.5h5m-2.5-2.5v5M589 594.5h5m-2.5-2.5v5M589 592.5h5m-2.5-2.5v5M589 597.5h5m-2.5-2.5v5M589 596.5h5m-2.5-2.5v5M589 595.5h5m-2.5-2.5v5M590 595.5h5m-2.5-2.5v5M590 596.5h5m-2.5-2.5v5M590 594.5h5m-2.5-2.5v5M590 593.5h5m-2.5-2.5v5M590 592.5h5m-2.5-2.5v5M591 591.5h5m-2.5-2.5v5M591 590.5h5m-2.5-2.5v5M590 591.5h5m-2.5-2.5v5M591 596.5h5m-2.5-2.5v5M591 593.5h5m-2.5-2.5v5M591 594.5h5m-2.5-2.5v5M591 597.5h5m-2.5-2.5v5M591 598.5h5m-2.5-2.5v5M592 599.5h5m-2.5-2.5v5M592 600.5h5m-2.5-2.5v5M592 597.5h5m-2.5-2.5v5M592 602.5h5m-2.5-2.5v5M593 604.5h5m-2.5-2.5v5M593 603.5h5m-2.5-2.5v5M593 606.5h5m-2.5-2.5v5M593 605.5h5m-2.5-2.5v5M593 610.5h5m-2.5-2.5v5M593 609.5h5m-2.5-2.5v5M593 608.5h5m-2.5-2.5v5M593 612.5h5m-2.5-2.5v5M594 614.5h5m-2.5-2.5v5M593 614.5h5m-2.5-2.5v5M594 616.5h5m-2.5-2.5v5M594 619.5h5m-2.5-2.5v5M594 618.5h5m-2.5-2.5v5M594 621.5h5m-2.5-2.5v5M594 622.5h5m-2.5-2.5v5M595 621.5h5m-2.5-2.5v5M595 622.5h5m-2.5-2.5v5M596 622.5h5m-2.5-2.5v5M596 618.5h5m-2.5-2.5v5M595 614.5h5m-2.5-2.5v5M596 612.5h5m-2.5-2.5v5M596 611.5h5m-2.5-2.5v5M596 610.5h5m-2.5-2.5v5M597 606.5h5m-2.5-2.5v5M596 605.5h5m-2.5-2.5v5M596 603.5h5m-2.5-2.5v5M596 602.5h5m-2.5-2.5v5M597 600.5h5m-2.5-2.5v5M596 600.5h5m-2.5-2.5v5M597 593.5h5m-2.5-2.5v5M597 592.5h5m-2.5-2.5v5M598 587.5h5m-2.5-2.5v5M597 586.5h5m-2.5-2.5v5M597 584.5h5m-2.5-2.5v5M597 580.5h5m-2.5-2.5v5M598 580.5h5m-2.5-2.5v5M598 579.5h5m-2.5-2.5v5M598 576.5h5m-2.5-2.5v5M598 574.5h5m-2.5-2.5v5M598 570.5h5m-2.5-2.5v5M598 571.5h5m-2.5-2.5v5M598 568.5h5m-2.5-2.5v5M598 567.5h5m-2.5-2.5v5M599 563.5h5m-2.5-2.5v5M598 559.5h5m-2.5-2.5v5M598 555.5h5m-2.5-2.5v5M599 551.5h5m-2.5-2.5v5M598 547.5h5m-2.5-2.5v5M599 549.5h5m-2.5-2.5v5M599 547.5h5m-2.5-2.5v5M599 544.5h5m-2.5-2.5v5M599 545.5h5m-2.5-2.5v5M599 541.5h5m-2.5-2.5v5M599 539.5h5m-2.5-2.5v5M600 538.5h5m-2.5-2.5v5M600 535.5h5m-2.5-2.5v5M600 531.5h5m-2.5-2.5v5M600 532.5h5m-2.5-2.5v5M600 529.5h5m-2.5-2.5v5M601 532.5h5m-2.5-2.5v5M601 533.5h5m-2.5-2.5v5M601 535.5h5m-2.5-2.5v5M600 537.5h5m-2.5-2.5v5M601 540.5h5m-2.5-2.5v5M601 542.5h5m-2.5-2.5v5M602 543.5h5m-2.5-2.5v5M602 546.5h5m-2.5-2.5v5M602 550.5h5m-2.5-2.5v5M602 552.5h5m-2.5-2.5v5M602 558.5h5m-2.5-2.5v5M602 561.5h5m-2.5-2.5v5M602 562.5h5m-2.5-2.5v5M602 568.5h5m-2.5-2.5v5M603 568.5h5m-2.5-2.5v5M603 571.5h5m-2.5-2.5v5M603 576.5h5m-2.5-2.5v5M603 574.5h5m-2.5-2.5v5M603 578.5h5m-2.5-2.5v5M603 577.5h5m-2.5-2.5v5M603 583.5h5m-2.5-2.5v5M603 584.5h5m-2.5-2.5v5M604 583.5h5m-2.5-2.5v5M604 582.5h5m-2.5-2.5v5M604 584.5h5m-2.5-2.5v5M604 585.5h5m-2.5-2.5v5M604 586.5h5m-2.5-2.5v5M604 591.5h5m-2.5-2.5v5M604 590.5h5m-2.5-2.5v5M605 589.5h5m-2.5-2.5v5M605 590.5h5m-2.5-2.5v5M605 592.5h5m-2.5-2.5v5M605 591.5h5m-2.5-2.5v5M605 594.5h5m-2.5-2.5v5M605 596.5h5m-2.5-2.5v5M605 595.5h5m-2.5-2.5v5M606 595.5h5m-2.5-2.5v5M606 596.5h5m-2.5-2.5v5M606 598.5h5m-2.5-2.5v5M606 597.5h5m-2.5-2.5v5M606 600.5h5m-2.5-2.5v5M606 599.5h5m-2.5-2.5v5M607 597.5h5m-2.5-2.5v5M607 598.5h5m-2.5-2.5v5M607 596.5h5m-2.5-2.5v5M608 598.5h5m-2.5-2.5v5M608 597.5h5m-2.5-2.5v5M608 595.5h5m-2.5-2.5v5M608 596.5h5m-2.5-2.5v5M608 593.5h5m-2.5-2.5v5M609 595.5h5m-2.5-2.5v5M609 593.5h5m-2.5-2.5v5M609 592.5h5m-2.5-2.5v5M610 593.5h5m-2.5-2.5v5M610 595.5h5m-2.5-2.5v5M609 594.5h5m-2.5-2.5v5M610 596.5h5m-2.5-2.5v5M610 594.5h5m-2.5-2.5v5M611 596.5h5m-2.5-2.5v5M610 592.5h5m-2.5-2.5v5M611 593.5h5m-2.5-2.5v5M611 597.5h5m-2.5-2.5v5M611 598.5h5m-2.5-2.5v5M612 600.5h5m-2.5-2.5v5M612 599.5h5m-2.5-2.5v5M612 602.5h5m-2.5-2.5v5M612 605.5h5m-2.5-2.5v5M612 604.5h5m-2.5-2.5v5M612 608.5h5m-2.5-2.5v5M612 610.5h5m-2.5-2.5v5M612 614.5h5m-2.5-2.5v5M613 613.5h5m-2.5-2.5v5M613 618.5h5m-2.5-2.5v5M613 622.5h5m-2.5-2.5v5M613 626.5h5m-2.5-2.5v5M613 630.5h5m-2.5-2.5v5M613 632.5h5m-2.5-2.5v5M613 633.5h5m-2.5-2.5v5M613 637.5h5m-2.5-2.5v5M613 639.5h5m-2.5-2.5v5M613 641.5h5m-2.5-2.5v5M613 644.5h5m-2.5-2.5v5M613 646.5h5m-2.5-2.5v5M614 645.5h5m-2.5-2.5v5M614 641.5h5m-2.5-2.5v5M614 640.5h5m-2.5-2.5v5M615 635.5h5m-2.5-2.5v5M614 632.5h5m-2.5-2.5v5M614 629.5h5m-2.5-2.5v5M615 626.5h5m-2.5-2.5v5M615 629.5h5m-2.5-2.5v5M615 624.5h5m-2.5-2.5v5M615 620.5h5m-2.5-2.5v5M615 617.5h5m-2.5-2.5v5M615 614.5h5m-2.5-2.5v5M615 610.5h5m-2.5-2.5v5M615 606.5h5m-2.5-2.5v5M615 604.5h5m-2.5-2.5v5M615 601.5h5m-2.5-2.5v5M616 596.5h5m-2.5-2.5v5M616 594.5h5m-2.5-2.5v5M615 593.5h5m-2.5-2.5v5M616 592.5h5m-2.5-2.5v5M616 589.5h5m-2.5-2.5v5M616 587.5h5m-2.5-2.5v5M616 583.5h5m-2.5-2.5v5M617 584.5h5m-2.5-2.5v5M617 581.5h5m-2.5-2.5v5M617 577.5h5m-2.5-2.5v5M617 576.5h5m-2.5-2.5v5M617 575.5h5m-2.5-2.5v5M617 571.5h5m-2.5-2.5v5M617 569.5h5m-2.5-2.5v5M617 564.5h5m-2.5-2.5v5M617 565.5h5m-2.5-2.5v5M617 562.5h5m-2.5-2.5v5M617 561.5h5m-2.5-2.5v5M618 559.5h5m-2.5-2.5v5M617 559.5h5m-2.5-2.5v5M618 558.5h5m-2.5-2.5v5M618 557.5h5m-2.5-2.5v5M618 556.5h5m-2.5-2.5v5M619 561.5h5m-2.5-2.5v5M618 560.5h5m-2.5-2.5v5M619 557.5h5m-2.5-2.5v5M619 562.5h5m-2.5-2.5v5M619 560.5h5m-2.5-2.5v5M619 564.5h5m-2.5-2.5v5M620 565.5h5m-2.5-2.5v5M620 566.5h5m-2.5-2.5v5M620 568.5h5m-2.5-2.5v5M620 572.5h5m-2.5-2.5v5M620 570.5h5m-2.5-2.5v5M619 571.5h5m-2.5-2.5v5M620 571.5h5m-2.5-2.5v5M620 574.5h5m-2.5-2.5v5M621 575.5h5m-2.5-2.5v5M621 574.5h5m-2.5-2.5v5M621 576.5h5m-2.5-2.5v5M620 578.5h5m-2.5-2.5v5M621 578.5h5m-2.5-2.5v5M622 578.5h5m-2.5-2.5v5M622 577.5h5m-2.5-2.5v5M621 579.5h5m-2.5-2.5v5M621 581.5h5m-2.5-2.5v5M622 579.5h5m-2.5-2.5v5M622 582.5h5m-2.5-2.5v5M622 584.5h5m-2.5-2.5v5M622 586.5h5m-2.5-2.5v5M622 588.5h5m-2.5-2.5v5M622 587.5h5m-2.5-2.5v5M623 586.5h5m-2.5-2.5v5M623 587.5h5m-2.5-2.5v5M623 584.5h5m-2.5-2.5v5M623 585.5h5m-2.5-2.5v5M623 583.5h5m-2.5-2.5v5M623 582.5h5m-2.5-2.5v5M624 584.5h5m-2.5-2.5v5M624 585.5h5m-2.5-2.5v5M624 587.5h5m-2.5-2.5v5M623 588.5h5m-2.5-2.5v5M624 586.5h5m-2.5-2.5v5M625 585.5h5m-2.5-2.5v5M624 588.5h5m-2.5-2.5v5M625 587.5h5m-2.5-2.5v5M625 586.5h5m-2.5-2.5v5M626 587.5h5m-2.5-2.5v5M626 584.5h5m-2.5-2.5v5M626 582.5h5m-2.5-2.5v5M626 586.5h5m-2.5-2.5v5M626 585.5h5m-2.5-2.5v5M626 588.5h5m-2.5-2.5v5M627 588.5h5m-2.5-2.5v5M626 583.5h5m-2.5-2.5v5M627 583.5h5m-2.5-2.5v5M627 585.5h5m-2.5-2.5v5M628 587.5h5m-2.5-2.5v5M627 587.5h5m-2.5-2.5v5M628 585.5h5m-2.5-2.5v5M628 586.5h5m-2.5-2.5v5M628 589.5h5m-2.5-2.5v5M628 588.5h5m-2.5-2.5v5M628 592.5h5m-2.5-2.5v5M629 590.5h5m-2.5-2.5v5M629 592.5h5m-2.5-2.5v5M629 595.5h5m-2.5-2.5v5M629 597.5h5m-2.5-2.5v5M629 594.5h5m-2.5-2.5v5M629 596.5h5m-2.5-2.5v5M630 598.5h5m-2.5-2.5v5M629 599.5h5m-2.5-2.5v5M630 600.5h5m-2.5-2.5v5M630 604.5h5m-2.5-2.5v5M630 607.5h5m-2.5-2.5v5M629 605.5h5m-2.5-2.5v5M630 606.5h5m-2.5-2.5v5M630 605.5h5m-2.5-2.5v5M630 609.5h5m-2.5-2.5v5M630 612.5h5m-2.5-2.5v5M631 611.5h5m-2.5-2.5v5M631 617.5h5m-2.5-2.5v5M631 619.5h5m-2.5-2.5v5M631 621.5h5m-2.5-2.5v5M631 622.5h5m-2.5-2.5v5M631 623.5h5m-2.5-2.5v5M631 626.5h5m-2.5-2.5v5M631 624.5h5m-2.5-2.5v5M631 627.5h5m-2.5-2.5v5M632 628.5h5m-2.5-2.5v5M632 629.5h5m-2.5-2.5v5M632 630.5h5m-2.5-2.5v5M632 632.5h5m-2.5-2.5v5M632 636.5h5m-2.5-2.5v5M632 637.5h5m-2.5-2.5v5M632 634.5h5m-2.5-2.5v5M633 637.5h5m-2.5-2.5v5M633 636.5h5m-2.5-2.5v5M632 635.5h5m-2.5-2.5v5M633 640.5h5m-2.5-2.5v5M633 639.5h5m-2.5-2.5v5M633 638.5h5m-2.5-2.5v5M634 638.5h5m-2.5-2.5v5M633 642.5h5m-2.5-2.5v5M634 641.5h5m-2.5-2.5v5M634 639.5h5m-2.5-2.5v5M634 636.5h5m-2.5-2.5v5M634 631.5h5m-2.5-2.5v5M634 626.5h5m-2.5-2.5v5M634 624.5h5m-2.5-2.5v5M634 623.5h5m-2.5-2.5v5M635 621.5h5m-2.5-2.5v5M634 619.5h5m-2.5-2.5v5M635 616.5h5m-2.5-2.5v5M634 610.5h5m-2.5-2.5v5M635 606.5h5m-2.5-2.5v5M635 605.5h5m-2.5-2.5v5M635 604.5h5m-2.5-2.5v5M635 599.5h5m-2.5-2.5v5M635 594.5h5m-2.5-2.5v5M635 593.5h5m-2.5-2.5v5M636 586.5h5m-2.5-2.5v5M636 584.5h5m-2.5-2.5v5M636 579.5h5m-2.5-2.5v5M636 577.5h5m-2.5-2.5v5M636 573.5h5m-2.5-2.5v5M636 571.5h5m-2.5-2.5v5M636 566.5h5m-2.5-2.5v5M636 564.5h5m-2.5-2.5v5M636 556.5h5m-2.5-2.5v5M636 553.5h5m-2.5-2.5v5M636 551.5h5m-2.5-2.5v5M636 550.5h5m-2.5-2.5v5M637 552.5h5m-2.5-2.5v5M637 549.5h5m-2.5-2.5v5M637 546.5h5m-2.5-2.5v5M637 545.5h5m-2.5-2.5v5M637 544.5h5m-2.5-2.5v5M637 543.5h5m-2.5-2.5v5M637 541.5h5m-2.5-2.5v5M637 537.5h5m-2.5-2.5v5M638 536.5h5m-2.5-2.5v5M638 533.5h5m-2.5-2.5v5M638 534.5h5m-2.5-2.5v5M638 535.5h5m-2.5-2.5v5M638 531.5h5m-2.5-2.5v5M638 530.5h5m-2.5-2.5v5M638 532.5h5m-2.5-2.5v5M639 531.5h5m-2.5-2.5v5M639 532.5h5m-2.5-2.5v5M639 534.5h5m-2.5-2.5v5M639 537.5h5m-2.5-2.5v5M639 535.5h5m-2.5-2.5v5M639 536.5h5m-2.5-2.5v5M639 539.5h5m-2.5-2.5v5M640 537.5h5m-2.5-2.5v5M639 540.5h5m-2.5-2.5v5M639 542.5h5m-2.5-2.5v5M640 540.5h5m-2.5-2.5v5M640 542.5h5m-2.5-2.5v5M640 544.5h5m-2.5-2.5v5M640 546.5h5m-2.5-2.5v5M640 552.5h5m-2.5-2.5v5M640 551.5h5m-2.5-2.5v5M641 553.5h5m-2.5-2.5v5M640 553.5h5m-2.5-2.5v5M641 557.5h5m-2.5-2.5v5M642 560.5h5m-2.5-2.5v5M641 561.5h5m-2.5-2.5v5M641 563.5h5m-2.5-2.5v5M642 561.5h5m-2.5-2.5v5M642 563.5h5m-2.5-2.5v5M641 565.5h5m-2.5-2.5v5M643 564.5h5m-2.5-2.5v5M642 565.5h5m-2.5-2.5v5M643 562.5h5m-2.5-2.5v5M643 565.5h5m-2.5-2.5v5M643 563.5h5m-2.5-2.5v5M643 566.5h5m-2.5-2.5v5M643 570.5h5m-2.5-2.5v5M643 569.5h5m-2.5-2.5v5M643 567.5h5m-2.5-2.5v5M644 568.5h5m-2.5-2.5v5M644 566.5h5m-2.5-2.5v5M644 569.5h5m-2.5-2.5v5M644 564.5h5m-2.5-2.5v5M645 569.5h5m-2.5-2.5v5M645 571.5h5m-2.5-2.5v5M645 568.5h5m-2.5-2.5v5M645 566.5h5m-2.5-2.5v5M645 570.5h5m-2.5-2.5v5M646 568.5h5m-2.5-2.5v5M646 569.5h5m-2.5-2.5v5M646 571.5h5m-2.5-2.5v5M646 570.5h5m-2.5-2.5v5M646 572.5h5m-2.5-2.5v5M647 574.5h5m-2.5-2.5v5M647 572.5h5m-2.5-2.5v5M647 573.5h5m-2.5-2.5v5M647 576.5h5m-2.5-2.5v5M648 577.5h5m-2.5-2.5v5M648 582.5h5m-2.5-2.5v5M647 581.5h5m-2.5-2.5v5M648 586.5h5m-2.5-2.5v5M648 587.5h5m-2.5-2.5v5M648 588.5h5m-2.5-2.5v5M648 590.5h5m-2.5-2.5v5M649 592.5h5m-2.5-2.5v5M649 594.5h5m-2.5-2.5v5M649 598.5h5m-2.5-2.5v5M649 596.5h5m-2.5-2.5v5M649 597.5h5m-2.5-2.5v5M649 599.5h5m-2.5-2.5v5M649 601.5h5m-2.5-2.5v5M649 606.5h5m-2.5-2.5v5M649 611.5h5m-2.5-2.5v5M650 610.5h5m-2.5-2.5v5M650 616.5h5m-2.5-2.5v5M649 618.5h5m-2.5-2.5v5M650 618.5h5m-2.5-2.5v5M650 620.5h5m-2.5-2.5v5M650 623.5h5m-2.5-2.5v5M650 626.5h5m-2.5-2.5v5M650 629.5h5m-2.5-2.5v5M650 632.5h5m-2.5-2.5v5M650 637.5h5m-2.5-2.5v5M651 641.5h5m-2.5-2.5v5M650 644.5h5m-2.5-2.5v5M651 649.5h5m-2.5-2.5v5M651 651.5h5m-2.5-2.5v5M651 654.5h5m-2.5-2.5v5M651 656.5h5m-2.5-2.5v5M651 657.5h5m-2.5-2.5v5M652 658.5h5m-2.5-2.5v5M651 661.5h5m-2.5-2.5v5M651 662.5h5m-2.5-2.5v5M651 659.5h5m-2.5-2.5v5M651 660.5h5m-2.5-2.5v5M652 655.5h5m-2.5-2.5v5M652 651.5h5m-2.5-2.5v5M653 649.5h5m-2.5-2.5v5M652 644.5h5m-2.5-2.5v5M652 641.5h5m-2.5-2.5v5M652 640.5h5m-2.5-2.5v5M652 633.5h5m-2.5-2.5v5M652 630.5h5m-2.5-2.5v5M652 625.5h5m-2.5-2.5v5M653 619.5h5m-2.5-2.5v5M653 613.5h5m-2.5-2.5v5M653 607.5h5m-2.5-2.5v5M653 601.5h5m-2.5-2.5v5M653 597.5h5m-2.5-2.5v5M653 591.5h5m-2.5-2.5v5M653 585.5h5m-2.5-2.5v5M653 580.5h5m-2.5-2.5v5M653 577.5h5m-2.5-2.5v5M654 574.5h5m-2.5-2.5v5M654 569.5h5m-2.5-2.5v5M654 561.5h5m-2.5-2.5v5M654 556.5h5m-2.5-2.5v5M654 552.5h5m-2.5-2.5v5M654 551.5h5m-2.5-2.5v5M654 547.5h5m-2.5-2.5v5M654 545.5h5m-2.5-2.5v5M655 538.5h5m-2.5-2.5v5M655 535.5h5m-2.5-2.5v5M655 532.5h5m-2.5-2.5v5M655 530.5h5m-2.5-2.5v5M655 528.5h5m-2.5-2.5v5M655 521.5h5m-2.5-2.5v5M655 520.5h5m-2.5-2.5v5M655 515.5h5m-2.5-2.5v5M655 513.5h5m-2.5-2.5v5M655 510.5h5m-2.5-2.5v5M656 512.5h5m-2.5-2.5v5M656 509.5h5m-2.5-2.5v5M655 505.5h5m-2.5-2.5v5M656 508.5h5m-2.5-2.5v5M656 507.5h5m-2.5-2.5v5M656 510.5h5m-2.5-2.5v5M656 513.5h5m-2.5-2.5v5M657 514.5h5m-2.5-2.5v5M657 520.5h5m-2.5-2.5v5M657 519.5h5m-2.5-2.5v5M657 523.5h5m-2.5-2.5v5M656 524.5h5m-2.5-2.5v5M657 525.5h5m-2.5-2.5v5M657 526.5h5m-2.5-2.5v5M657 530.5h5m-2.5-2.5v5M657 532.5h5m-2.5-2.5v5M657 537.5h5m-2.5-2.5v5M658 539.5h5m-2.5-2.5v5M658 543.5h5m-2.5-2.5v5M658 548.5h5m-2.5-2.5v5M658 549.5h5m-2.5-2.5v5M657 549.5h5m-2.5-2.5v5M658 551.5h5m-2.5-2.5v5M659 553.5h5m-2.5-2.5v5M658 553.5h5m-2.5-2.5v5M658 556.5h5m-2.5-2.5v5M658 555.5h5m-2.5-2.5v5M659 554.5h5m-2.5-2.5v5M659 556.5h5m-2.5-2.5v5M659 560.5h5m-2.5-2.5v5M659 561.5h5m-2.5-2.5v5M659 562.5h5m-2.5-2.5v5M660 560.5h5m-2.5-2.5v5M660 562.5h5m-2.5-2.5v5M660 561.5h5m-2.5-2.5v5M659 563.5h5m-2.5-2.5v5M660 559.5h5m-2.5-2.5v5M661 558.5h5m-2.5-2.5v5M661 561.5h5m-2.5-2.5v5M661 560.5h5m-2.5-2.5v5M661 562.5h5m-2.5-2.5v5M661 565.5h5m-2.5-2.5v5M662 562.5h5m-2.5-2.5v5M661 563.5h5m-2.5-2.5v5M662 561.5h5m-2.5-2.5v5M662 560.5h5m-2.5-2.5v5M662 558.5h5m-2.5-2.5v5M662 557.5h5m-2.5-2.5v5M663 556.5h5m-2.5-2.5v5M662 559.5h5m-2.5-2.5v5M663 560.5h5m-2.5-2.5v5M663 557.5h5m-2.5-2.5v5M663 559.5h5m-2.5-2.5v5M664 554.5h5m-2.5-2.5v5M664 556.5h5m-2.5-2.5v5M664 558.5h5m-2.5-2.5v5M664 557.5h5m-2.5-2.5v5M664 559.5h5m-2.5-2.5v5M664 555.5h5m-2.5-2.5v5M664 550.5h5m-2.5-2.5v5M664 551.5h5m-2.5-2.5v5M664 548.5h5m-2.5-2.5v5M665 551.5h5m-2.5-2.5v5M665 549.5h5m-2.5-2.5v5M665 553.5h5m-2.5-2.5v5M666 555.5h5m-2.5-2.5v5M665 556.5h5m-2.5-2.5v5M666 558.5h5m-2.5-2.5v5M665 558.5h5m-2.5-2.5v5M666 563.5h5m-2.5-2.5v5M666 562.5h5m-2.5-2.5v5M666 559.5h5m-2.5-2.5v5M666 560.5h5m-2.5-2.5v5M667 559.5h5m-2.5-2.5v5M667 560.5h5m-2.5-2.5v5M667 561.5h5m-2.5-2.5v5M667 562.5h5m-2.5-2.5v5M668 564.5h5m-2.5-2.5v5M667 565.5h5m-2.5-2.5v5M668 567.5h5m-2.5-2.5v5M667 568.5h5m-2.5-2.5v5M668 569.5h5m-2.5-2.5v5M668 571.5h5m-2.5-2.5v5M668 570.5h5m-2.5-2.5v5M668 572.5h5m-2.5-2.5v5M668 576.5h5m-2.5-2.5v5M668 578.5h5m-2.5-2.5v5M668 580.5h5m-2.5-2.5v5M669 581.5h5m-2.5-2.5v5M669 583.5h5m-2.5-2.5v5M669 585.5h5m-2.5-2.5v5M669 589.5h5m-2.5-2.5v5M669 593.5h5m-2.5-2.5v5M669 597.5h5m-2.5-2.5v5M669 598.5h5m-2.5-2.5v5M669 602.5h5m-2.5-2.5v5M669 603.5h5m-2.5-2.5v5M669 606.5h5m-2.5-2.5v5M669 609.5h5m-2.5-2.5v5M669 614.5h5m-2.5-2.5v5M670 616.5h5m-2.5-2.5v5M670 619.5h5m-2.5-2.5v5M669 626.5h5m-2.5-2.5v5M669 631.5h5m-2.5-2.5v5M670 633.5h5m-2.5-2.5v5M671 636.5h5m-2.5-2.5v5M670 632.5h5m-2.5-2.5v5M671 628.5h5m-2.5-2.5v5M671 629.5h5m-2.5-2.5v5M671 630.5h5m-2.5-2.5v5M671 625.5h5m-2.5-2.5v5M671 621.5h5m-2.5-2.5v5M671 617.5h5m-2.5-2.5v5M671 616.5h5m-2.5-2.5v5M672 611.5h5m-2.5-2.5v5M672 609.5h5m-2.5-2.5v5M671 608.5h5m-2.5-2.5v5M672 606.5h5m-2.5-2.5v5M672 605.5h5m-2.5-2.5v5M672 601.5h5m-2.5-2.5v5M672 596.5h5m-2.5-2.5v5M672 597.5h5m-2.5-2.5v5M672 593.5h5m-2.5-2.5v5M672 584.5h5m-2.5-2.5v5M673 581.5h5m-2.5-2.5v5M672 580.5h5m-2.5-2.5v5M673 575.5h5m-2.5-2.5v5M673 573.5h5m-2.5-2.5v5M673 572.5h5m-2.5-2.5v5M673 567.5h5m-2.5-2.5v5M673 565.5h5m-2.5-2.5v5M673 562.5h5m-2.5-2.5v5M673 558.5h5m-2.5-2.5v5M673 554.5h5m-2.5-2.5v5M673 552.5h5m-2.5-2.5v5M673 547.5h5m-2.5-2.5v5M674 545.5h5m-2.5-2.5v5M674 544.5h5m-2.5-2.5v5M674 539.5h5m-2.5-2.5v5M674 537.5h5m-2.5-2.5v5M674 533.5h5m-2.5-2.5v5M674 532.5h5m-2.5-2.5v5M674 529.5h5m-2.5-2.5v5M674 526.5h5m-2.5-2.5v5M675 526.5h5m-2.5-2.5v5M675 524.5h5m-2.5-2.5v5M675 522.5h5m-2.5-2.5v5M674 520.5h5m-2.5-2.5v5M675 521.5h5m-2.5-2.5v5M675 520.5h5m-2.5-2.5v5M675 525.5h5m-2.5-2.5v5M676 529.5h5m-2.5-2.5v5M676 530.5h5m-2.5-2.5v5M676 532.5h5m-2.5-2.5v5M676 535.5h5m-2.5-2.5v5M676 534.5h5m-2.5-2.5v5M676 538.5h5m-2.5-2.5v5M676 536.5h5m-2.5-2.5v5M677 537.5h5m-2.5-2.5v5M677 539.5h5m-2.5-2.5v5M677 541.5h5m-2.5-2.5v5M677 544.5h5m-2.5-2.5v5M677 545.5h5m-2.5-2.5v5M677 546.5h5m-2.5-2.5v5M677 549.5h5m-2.5-2.5v5M677 547.5h5m-2.5-2.5v5M677 548.5h5m-2.5-2.5v5M678 549.5h5m-2.5-2.5v5M677 551.5h5m-2.5-2.5v5M677 553.5h5m-2.5-2.5v5M677 556.5h5m-2.5-2.5v5M678 556.5h5m-2.5-2.5v5M678 557.5h5m-2.5-2.5v5M678 554.5h5m-2.5-2.5v5M678 558.5h5m-2.5-2.5v5M679 561.5h5m-2.5-2.5v5M679 560.5h5m-2.5-2.5v5M679 556.5h5m-2.5-2.5v5M679 557.5h5m-2.5-2.5v5M680 558.5h5m-2.5-2.5v5M679 559.5h5m-2.5-2.5v5M680 562.5h5m-2.5-2.5v5M680 563.5h5m-2.5-2.5v5M680 560.5h5m-2.5-2.5v5M680 561.5h5m-2.5-2.5v5M680 559.5h5m-2.5-2.5v5M681 561.5h5m-2.5-2.5v5M681 564.5h5m-2.5-2.5v5M681 559.5h5m-2.5-2.5v5M681 560.5h5m-2.5-2.5v5M682 562.5h5m-2.5-2.5v5M682 564.5h5m-2.5-2.5v5M682 568.5h5m-2.5-2.5v5M682 567.5h5m-2.5-2.5v5M683 567.5h5m-2.5-2.5v5M683 565.5h5m-2.5-2.5v5M683 564.5h5m-2.5-2.5v5M683 566.5h5m-2.5-2.5v5M683 563.5h5m-2.5-2.5v5M684 563.5h5m-2.5-2.5v5M684 564.5h5m-2.5-2.5v5M684 567.5h5m-2.5-2.5v5M684 566.5h5m-2.5-2.5v5M685 565.5h5m-2.5-2.5v5M685 566.5h5m-2.5-2.5v5M685 568.5h5m-2.5-2.5v5M685 567.5h5m-2.5-2.5v5M686 568.5h5m-2.5-2.5v5M686 567.5h5m-2.5-2.5v5M686 571.5h5m-2.5-2.5v5M686 572.5h5m-2.5-2.5v5M686 575.5h5m-2.5-2.5v5M686 576.5h5m-2.5-2.5v5M686 580.5h5m-2.5-2.5v5M687 577.5h5m-2.5-2.5v5M687 579.5h5m-2.5-2.5v5M686 583.5h5m-2.5-2.5v5M687 583.5h5m-2.5-2.5v5M687 588.5h5m-2.5-2.5v5M687 589.5h5m-2.5-2.5v5M687 593.5h5m-2.5-2.5v5M688 590.5h5m-2.5-2.5v5M687 595.5h5m-2.5-2.5v5M688 598.5h5m-2.5-2.5v5M688 600.5h5m-2.5-2.5v5M687 605.5h5m-2.5-2.5v5M688 608.5h5m-2.5-2.5v5M688 610.5h5m-2.5-2.5v5M688 616.5h5m-2.5-2.5v5M688 618.5h5m-2.5-2.5v5M688 619.5h5m-2.5-2.5v5M688 621.5h5m-2.5-2.5v5M689 624.5h5m-2.5-2.5v5M689 626.5h5m-2.5-2.5v5M689 628.5h5m-2.5-2.5v5M689 634.5h5m-2.5-2.5v5M689 637.5h5m-2.5-2.5v5M689 639.5h5m-2.5-2.5v5M689 644.5h5m-2.5-2.5v5M689 645.5h5m-2.5-2.5v5M689 647.5h5m-2.5-2.5v5M690 649.5h5m-2.5-2.5v5M690 651.5h5m-2.5-2.5v5M690 652.5h5m-2.5-2.5v5M690 650.5h5m-2.5-2.5v5M690 645.5h5m-2.5-2.5v5M690 639.5h5m-2.5-2.5v5M690 636.5h5m-2.5-2.5v5M690 629.5h5m-2.5-2.5v5M691 623.5h5m-2.5-2.5v5M690 620.5h5m-2.5-2.5v5M690 616.5h5m-2.5-2.5v5M690 613.5h5m-2.5-2.5v5M691 608.5h5m-2.5-2.5v5M691 603.5h5m-2.5-2.5v5M691 598.5h5m-2.5-2.5v5M691 592.5h5m-2.5-2.5v5M691 589.5h5m-2.5-2.5v5M691 582.5h5m-2.5-2.5v5M691 577.5h5m-2.5-2.5v5M691 571.5h5m-2.5-2.5v5M692 565.5h5m-2.5-2.5v5M692 559.5h5m-2.5-2.5v5M691 556.5h5m-2.5-2.5v5M692 548.5h5m-2.5-2.5v5M692 545.5h5m-2.5-2.5v5M692 538.5h5m-2.5-2.5v5M692 531.5h5m-2.5-2.5v5M692 526.5h5m-2.5-2.5v5M692 519.5h5m-2.5-2.5v5M692 515.5h5m-2.5-2.5v5M692 510.5h5m-2.5-2.5v5M693 509.5h5m-2.5-2.5v5M693 508.5h5m-2.5-2.5v5M693 511.5h5m-2.5-2.5v5M693 516.5h5m-2.5-2.5v5M693 518.5h5m-2.5-2.5v5M693 520.5h5m-2.5-2.5v5M693 524.5h5m-2.5-2.5v5M693 529.5h5m-2.5-2.5v5M693 533.5h5m-2.5-2.5v5M694 533.5h5m-2.5-2.5v5M694 532.5h5m-2.5-2.5v5M694 536.5h5m-2.5-2.5v5M694 540.5h5m-2.5-2.5v5M694 544.5h5m-2.5-2.5v5M694 545.5h5m-2.5-2.5v5M694 542.5h5m-2.5-2.5v5M695 542.5h5m-2.5-2.5v5M695 543.5h5m-2.5-2.5v5M695 544.5h5m-2.5-2.5v5M695 545.5h5m-2.5-2.5v5M695 549.5h5m-2.5-2.5v5M695 552.5h5m-2.5-2.5v5M695 551.5h5m-2.5-2.5v5M696 552.5h5m-2.5-2.5v5M696 551.5h5m-2.5-2.5v5M696 550.5h5m-2.5-2.5v5M696 553.5h5m-2.5-2.5v5M695 557.5h5m-2.5-2.5v5M696 557.5h5m-2.5-2.5v5M696 558.5h5m-2.5-2.5v5M696 559.5h5m-2.5-2.5v5M697 558.5h5m-2.5-2.5v5M696 562.5h5m-2.5-2.5v5M696 564.5h5m-2.5-2.5v5M697 564.5h5m-2.5-2.5v5M697 567.5h5m-2.5-2.5v5M697 566.5h5m-2.5-2.5v5M697 568.5h5m-2.5-2.5v5M697 570.5h5m-2.5-2.5v5M698 571.5h5m-2.5-2.5v5M698 572.5h5m-2.5-2.5v5M697 569.5h5m-2.5-2.5v5M698 573.5h5m-2.5-2.5v5M698 576.5h5m-2.5-2.5v5M698 575.5h5m-2.5-2.5v5M699 579.5h5m-2.5-2.5v5M698 580.5h5m-2.5-2.5v5M699 577.5h5m-2.5-2.5v5M699 576.5h5m-2.5-2.5v5M699 573.5h5m-2.5-2.5v5M699 574.5h5m-2.5-2.5v5M699 572.5h5m-2.5-2.5v5M699 569.5h5m-2.5-2.5v5M699 570.5h5m-2.5-2.5v5M700 570.5h5m-2.5-2.5v5M699 566.5h5m-2.5-2.5v5M700 564.5h5m-2.5-2.5v5M700 562.5h5m-2.5-2.5v5M700 563.5h5m-2.5-2.5v5M700 565.5h5m-2.5-2.5v5M700 559.5h5m-2.5-2.5v5M700 557.5h5m-2.5-2.5v5M701 558.5h5m-2.5-2.5v5M701 557.5h5m-2.5-2.5v5M701 555.5h5m-2.5-2.5v5M701 554.5h5m-2.5-2.5v5M701 553.5h5m-2.5-2.5v5M700 550.5h5m-2.5-2.5v5M702 550.5h5m-2.5-2.5v5M701 549.5h5m-2.5-2.5v5M701 551.5h5m-2.5-2.5v5M701 550.5h5m-2.5-2.5v5M702 548.5h5m-2.5-2.5v5M702 549.5h5m-2.5-2.5v5M702 546.5h5m-2.5-2.5v5M703 545.5h5m-2.5-2.5v5M702 544.5h5m-2.5-2.5v5M703 543.5h5m-2.5-2.5v5M703 546.5h5m-2.5-2.5v5M703 544.5h5m-2.5-2.5v5M703 549.5h5m-2.5-2.5v5M703 550.5h5m-2.5-2.5v5M703 547.5h5m-2.5-2.5v5M704 546.5h5m-2.5-2.5v5M704 545.5h5m-2.5-2.5v5M705 543.5h5m-2.5-2.5v5M704 544.5h5m-2.5-2.5v5M705 548.5h5m-2.5-2.5v5M704 548.5h5m-2.5-2.5v5M704 549.5h5m-2.5-2.5v5M705 546.5h5m-2.5-2.5v5M705 551.5h5m-2.5-2.5v5M706 549.5h5m-2.5-2.5v5M705 547.5h5m-2.5-2.5v5M706 546.5h5m-2.5-2.5v5M706 547.5h5m-2.5-2.5v5M706 548.5h5m-2.5-2.5v5M706 552.5h5m-2.5-2.5v5M706 554.5h5m-2.5-2.5v5M707 557.5h5m-2.5-2.5v5M707 558.5h5m-2.5-2.5v5M706 557.5h5m-2.5-2.5v5M706 555.5h5m-2.5-2.5v5M707 559.5h5m-2.5-2.5v5M707 564.5h5m-2.5-2.5v5M707 566.5h5m-2.5-2.5v5M707 565.5h5m-2.5-2.5v5M707 569.5h5m-2.5-2.5v5M707 575.5h5m-2.5-2.5v5M707 581.5h5m-2.5-2.5v5M708 584.5h5m-2.5-2.5v5M708 590.5h5m-2.5-2.5v5M708 594.5h5m-2.5-2.5v5M708 598.5h5m-2.5-2.5v5M708 604.5h5m-2.5-2.5v5M708 606.5h5m-2.5-2.5v5M708 617.5h5m-2.5-2.5v5M709 629.5h5m-2.5-2.5v5M708 638.5h5m-2.5-2.5v5M708 637.5h5m-2.5-2.5v5M709 637.5h5m-2.5-2.5v5M709 632.5h5m-2.5-2.5v5M709 630.5h5m-2.5-2.5v5M709 628.5h5m-2.5-2.5v5M709 622.5h5m-2.5-2.5v5M709 618.5h5m-2.5-2.5v5M709 614.5h5m-2.5-2.5v5M709 611.5h5m-2.5-2.5v5M710 606.5h5m-2.5-2.5v5M710 603.5h5m-2.5-2.5v5M710 597.5h5m-2.5-2.5v5M710 590.5h5m-2.5-2.5v5M710 584.5h5m-2.5-2.5v5M710 577.5h5m-2.5-2.5v5M710 578.5h5m-2.5-2.5v5M710 571.5h5m-2.5-2.5v5M710 563.5h5m-2.5-2.5v5M710 560.5h5m-2.5-2.5v5M710 554.5h5m-2.5-2.5v5M710 549.5h5m-2.5-2.5v5M711 544.5h5m-2.5-2.5v5M710 538.5h5m-2.5-2.5v5M711 532.5h5m-2.5-2.5v5M710 525.5h5m-2.5-2.5v5M711 522.5h5m-2.5-2.5v5M712 517.5h5m-2.5-2.5v5M711 516.5h5m-2.5-2.5v5M712 516.5h5m-2.5-2.5v5M712 519.5h5m-2.5-2.5v5M712 527.5h5m-2.5-2.5v5M712 530.5h5m-2.5-2.5v5M711 530.5h5m-2.5-2.5v5M712 534.5h5m-2.5-2.5v5M712 532.5h5m-2.5-2.5v5M713 537.5h5m-2.5-2.5v5M713 539.5h5m-2.5-2.5v5M713 542.5h5m-2.5-2.5v5M713 540.5h5m-2.5-2.5v5M713 544.5h5m-2.5-2.5v5M713 543.5h5m-2.5-2.5v5M714 545.5h5m-2.5-2.5v5M713 549.5h5m-2.5-2.5v5M714 548.5h5m-2.5-2.5v5M714 552.5h5m-2.5-2.5v5M714 550.5h5m-2.5-2.5v5M713 551.5h5m-2.5-2.5v5M714 556.5h5m-2.5-2.5v5M714 561.5h5m-2.5-2.5v5M714 563.5h5m-2.5-2.5v5M714 566.5h5m-2.5-2.5v5M715 567.5h5m-2.5-2.5v5M714 568.5h5m-2.5-2.5v5M714 564.5h5m-2.5-2.5v5M715 570.5h5m-2.5-2.5v5M715 569.5h5m-2.5-2.5v5M715 572.5h5m-2.5-2.5v5M715 573.5h5m-2.5-2.5v5M715 574.5h5m-2.5-2.5v5M715 576.5h5m-2.5-2.5v5M716 578.5h5m-2.5-2.5v5M715 581.5h5m-2.5-2.5v5M716 579.5h5m-2.5-2.5v5M716 583.5h5m-2.5-2.5v5M716 582.5h5m-2.5-2.5v5M716 581.5h5m-2.5-2.5v5M717 583.5h5m-2.5-2.5v5M717 587.5h5m-2.5-2.5v5M717 586.5h5m-2.5-2.5v5M716 587.5h5m-2.5-2.5v5M717 588.5h5m-2.5-2.5v5M716 589.5h5m-2.5-2.5v5M717 590.5h5m-2.5-2.5v5M717 591.5h5m-2.5-2.5v5M717 592.5h5m-2.5-2.5v5M718 593.5h5m-2.5-2.5v5M717 595.5h5m-2.5-2.5v5M718 592.5h5m-2.5-2.5v5M718 594.5h5m-2.5-2.5v5M718 596.5h5m-2.5-2.5v5M718 597.5h5m-2.5-2.5v5M719 598.5h5m-2.5-2.5v5M719 601.5h5m-2.5-2.5v5M719 599.5h5m-2.5-2.5v5M719 603.5h5m-2.5-2.5v5M719 602.5h5m-2.5-2.5v5M720 601.5h5m-2.5-2.5v5M719 604.5h5m-2.5-2.5v5M719 605.5h5m-2.5-2.5v5M720 604.5h5m-2.5-2.5v5M720 599.5h5m-2.5-2.5v5M720 595.5h5m-2.5-2.5v5M720 596.5h5m-2.5-2.5v5M720 593.5h5m-2.5-2.5v5M720 588.5h5m-2.5-2.5v5M720 585.5h5m-2.5-2.5v5M721 584.5h5m-2.5-2.5v5M721 583.5h5m-2.5-2.5v5M721 582.5h5m-2.5-2.5v5M721 581.5h5m-2.5-2.5v5M721 577.5h5m-2.5-2.5v5M721 575.5h5m-2.5-2.5v5M721 578.5h5m-2.5-2.5v5M722 576.5h5m-2.5-2.5v5M721 576.5h5m-2.5-2.5v5M722 574.5h5m-2.5-2.5v5M722 573.5h5m-2.5-2.5v5M722 572.5h5m-2.5-2.5v5M723 573.5h5m-2.5-2.5v5M723 572.5h5m-2.5-2.5v5M723 574.5h5m-2.5-2.5v5M723 575.5h5m-2.5-2.5v5M723 569.5h5m-2.5-2.5v5M723 570.5h5m-2.5-2.5v5M724 570.5h5m-2.5-2.5v5M723 568.5h5m-2.5-2.5v5M724 573.5h5m-2.5-2.5v5M724 567.5h5m-2.5-2.5v5M724 569.5h5m-2.5-2.5v5M724 568.5h5m-2.5-2.5v5M724 571.5h5m-2.5-2.5v5M724 566.5h5m-2.5-2.5v5M725 567.5h5m-2.5-2.5v5M725 569.5h5m-2.5-2.5v5M725 565.5h5m-2.5-2.5v5M725 561.5h5m-2.5-2.5v5M726 556.5h5m-2.5-2.5v5M726 551.5h5m-2.5-2.5v5M725 547.5h5m-2.5-2.5v5M726 546.5h5m-2.5-2.5v5M726 544.5h5m-2.5-2.5v5M726 539.5h5m-2.5-2.5v5M726 534.5h5m-2.5-2.5v5M726 532.5h5m-2.5-2.5v5M726 530.5h5m-2.5-2.5v5M726 528.5h5m-2.5-2.5v5M726 526.5h5m-2.5-2.5v5M726 523.5h5m-2.5-2.5v5M727 520.5h5m-2.5-2.5v5M726 517.5h5m-2.5-2.5v5M727 518.5h5m-2.5-2.5v5M727 515.5h5m-2.5-2.5v5M727 513.5h5m-2.5-2.5v5M727 514.5h5m-2.5-2.5v5M728 512.5h5m-2.5-2.5v5M727 510.5h5m-2.5-2.5v5M727 507.5h5m-2.5-2.5v5M728 508.5h5m-2.5-2.5v5M728 509.5h5m-2.5-2.5v5M727 509.5h5m-2.5-2.5v5M728 511.5h5m-2.5-2.5v5M728 510.5h5m-2.5-2.5v5M728 514.5h5m-2.5-2.5v5M729 516.5h5m-2.5-2.5v5M729 514.5h5m-2.5-2.5v5M729 515.5h5m-2.5-2.5v5M729 513.5h5m-2.5-2.5v5M729 518.5h5m-2.5-2.5v5M730 518.5h5m-2.5-2.5v5M730 521.5h5m-2.5-2.5v5M730 522.5h5m-2.5-2.5v5M729 523.5h5m-2.5-2.5v5M730 519.5h5m-2.5-2.5v5M731 521.5h5m-2.5-2.5v5M730 524.5h5m-2.5-2.5v5M730 525.5h5m-2.5-2.5v5M731 525.5h5m-2.5-2.5v5M731 528.5h5m-2.5-2.5v5M731 529.5h5m-2.5-2.5v5M731 531.5h5m-2.5-2.5v5M731 534.5h5m-2.5-2.5v5M732 535.5h5m-2.5-2.5v5M732 539.5h5m-2.5-2.5v5M731 540.5h5m-2.5-2.5v5M731 539.5h5m-2.5-2.5v5M732 541.5h5m-2.5-2.5v5M731 543.5h5m-2.5-2.5v5M732 545.5h5m-2.5-2.5v5M732 546.5h5m-2.5-2.5v5M733 548.5h5m-2.5-2.5v5M732 549.5h5m-2.5-2.5v5M733 550.5h5m-2.5-2.5v5M732 551.5h5m-2.5-2.5v5M733 553.5h5m-2.5-2.5v5M733 552.5h5m-2.5-2.5v5M733 556.5h5m-2.5-2.5v5M733 558.5h5m-2.5-2.5v5M733 563.5h5m-2.5-2.5v5M734 563.5h5m-2.5-2.5v5M734 565.5h5m-2.5-2.5v5M734 564.5h5m-2.5-2.5v5M733 565.5h5m-2.5-2.5v5M734 567.5h5m-2.5-2.5v5M733 568.5h5m-2.5-2.5v5M734 573.5h5m-2.5-2.5v5M734 574.5h5m-2.5-2.5v5M734 577.5h5m-2.5-2.5v5M734 579.5h5m-2.5-2.5v5M735 582.5h5m-2.5-2.5v5M735 584.5h5m-2.5-2.5v5M735 586.5h5m-2.5-2.5v5M735 592.5h5m-2.5-2.5v5M735 593.5h5m-2.5-2.5v5M735 595.5h5m-2.5-2.5v5M736 595.5h5m-2.5-2.5v5M736 597.5h5m-2.5-2.5v5M736 600.5h5m-2.5-2.5v5M736 601.5h5m-2.5-2.5v5M736 602.5h5m-2.5-2.5v5M736 598.5h5m-2.5-2.5v5M736 599.5h5m-2.5-2.5v5M737 602.5h5m-2.5-2.5v5M737 601.5h5m-2.5-2.5v5M737 603.5h5m-2.5-2.5v5M737 605.5h5m-2.5-2.5v5M737 607.5h5m-2.5-2.5v5M738 611.5h5m-2.5-2.5v5M738 608.5h5m-2.5-2.5v5M738 609.5h5m-2.5-2.5v5M737 606.5h5m-2.5-2.5v5M737 609.5h5m-2.5-2.5v5M738 610.5h5m-2.5-2.5v5M739 605.5h5m-2.5-2.5v5M738 606.5h5m-2.5-2.5v5M738 605.5h5m-2.5-2.5v5M739 607.5h5m-2.5-2.5v5M739 608.5h5m-2.5-2.5v5M739 606.5h5m-2.5-2.5v5M740 606.5h5m-2.5-2.5v5M739 609.5h5m-2.5-2.5v5M740 605.5h5m-2.5-2.5v5M740 604.5h5m-2.5-2.5v5M740 602.5h5m-2.5-2.5v5M741 605.5h5m-2.5-2.5v5M740 603.5h5m-2.5-2.5v5M741 606.5h5m-2.5-2.5v5M741 604.5h5m-2.5-2.5v5M741 607.5h5m-2.5-2.5v5M741 609.5h5m-2.5-2.5v5M741 608.5h5m-2.5-2.5v5M742 609.5h5m-2.5-2.5v5M742 606.5h5m-2.5-2.5v5M742 603.5h5m-2.5-2.5v5M742 602.5h5m-2.5-2.5v5M742 601.5h5m-2.5-2.5v5M743 604.5h5m-2.5-2.5v5M743 603.5h5m-2.5-2.5v5M743 605.5h5m-2.5-2.5v5M743 606.5h5m-2.5-2.5v5M743 607.5h5m-2.5-2.5v5M743 612.5h5m-2.5-2.5v5M743 613.5h5m-2.5-2.5v5M744 616.5h5m-2.5-2.5v5M743 614.5h5m-2.5-2.5v5M743 615.5h5m-2.5-2.5v5M744 618.5h5m-2.5-2.5v5M744 617.5h5m-2.5-2.5v5M744 622.5h5m-2.5-2.5v5M744 625.5h5m-2.5-2.5v5M744 627.5h5m-2.5-2.5v5M745 629.5h5m-2.5-2.5v5M744 632.5h5m-2.5-2.5v5M745 634.5h5m-2.5-2.5v5M744 639.5h5m-2.5-2.5v5M745 644.5h5m-2.5-2.5v5M745 649.5h5m-2.5-2.5v5M745 650.5h5m-2.5-2.5v5M744 651.5h5m-2.5-2.5v5M746 656.5h5m-2.5-2.5v5M745 657.5h5m-2.5-2.5v5M745 660.5h5m-2.5-2.5v5M745 692.5h5m-2.5-2.5v5M745 688.5h5m-2.5-2.5v5M746 687.5h5m-2.5-2.5v5M746 684.5h5m-2.5-2.5v5M746 679.5h5m-2.5-2.5v5M746 677.5h5m-2.5-2.5v5M746 674.5h5m-2.5-2.5v5M746 671.5h5m-2.5-2.5v5M746 668.5h5m-2.5-2.5v5M746 661.5h5m-2.5-2.5v5M746 658.5h5m-2.5-2.5v5M747 654.5h5m-2.5-2.5v5M746 653.5h5m-2.5-2.5v5M747 649.5h5m-2.5-2.5v5M747 643.5h5m-2.5-2.5v5M747 641.5h5m-2.5-2.5v5M747 639.5h5m-2.5-2.5v5M747 634.5h5m-2.5-2.5v5M747 632.5h5m-2.5-2.5v5M747 629.5h5m-2.5-2.5v5M747 625.5h5m-2.5-2.5v5M747 623.5h5m-2.5-2.5v5M748 622.5h5m-2.5-2.5v5M748 620.5h5m-2.5-2.5v5M748 615.5h5m-2.5-2.5v5M748 613.5h5m-2.5-2.5v5M748 609.5h5m-2.5-2.5v5M748 605.5h5m-2.5-2.5v5M749 604.5h5m-2.5-2.5v5M749 601.5h5m-2.5-2.5v5M749 598.5h5m-2.5-2.5v5M748 592.5h5m-2.5-2.5v5M749 588.5h5m-2.5-2.5v5M749 586.5h5m-2.5-2.5v5M749 583.5h5m-2.5-2.5v5M749 580.5h5m-2.5-2.5v5M749 578.5h5m-2.5-2.5v5M750 574.5h5m-2.5-2.5v5M749 571.5h5m-2.5-2.5v5M749 569.5h5m-2.5-2.5v5M750 567.5h5m-2.5-2.5v5M750 568.5h5m-2.5-2.5v5M750 569.5h5m-2.5-2.5v5M750 566.5h5m-2.5-2.5v5M751 566.5h5m-2.5-2.5v5M750 565.5h5m-2.5-2.5v5M751 562.5h5m-2.5-2.5v5M751 561.5h5m-2.5-2.5v5M750 560.5h5m-2.5-2.5v5M751 563.5h5m-2.5-2.5v5M751 564.5h5m-2.5-2.5v5M752 566.5h5m-2.5-2.5v5M751 567.5h5m-2.5-2.5v5M751 571.5h5m-2.5-2.5v5M751 570.5h5m-2.5-2.5v5M752 574.5h5m-2.5-2.5v5M752 576.5h5m-2.5-2.5v5M752 579.5h5m-2.5-2.5v5M752 578.5h5m-2.5-2.5v5M752 580.5h5m-2.5-2.5v5M752 581.5h5m-2.5-2.5v5M753 584.5h5m-2.5-2.5v5M752 584.5h5m-2.5-2.5v5M753 585.5h5m-2.5-2.5v5M752 588.5h5m-2.5-2.5v5M753 587.5h5m-2.5-2.5v5M753 586.5h5m-2.5-2.5v5M753 590.5h5m-2.5-2.5v5M753 593.5h5m-2.5-2.5v5M753 595.5h5m-2.5-2.5v5M754 593.5h5m-2.5-2.5v5M754 596.5h5m-2.5-2.5v5M754 598.5h5m-2.5-2.5v5M753 594.5h5m-2.5-2.5v5M754 601.5h5m-2.5-2.5v5M754 602.5h5m-2.5-2.5v5M754 600.5h5m-2.5-2.5v5M755 603.5h5m-2.5-2.5v5M754 605.5h5m-2.5-2.5v5M754 604.5h5m-2.5-2.5v5M755 605.5h5m-2.5-2.5v5M755 606.5h5m-2.5-2.5v5M755 608.5h5m-2.5-2.5v5M755 604.5h5m-2.5-2.5v5M755 607.5h5m-2.5-2.5v5M756 607.5h5m-2.5-2.5v5M756 604.5h5m-2.5-2.5v5M756 605.5h5m-2.5-2.5v5M756 608.5h5m-2.5-2.5v5M756 606.5h5m-2.5-2.5v5M757 606.5h5m-2.5-2.5v5M757 608.5h5m-2.5-2.5v5M757 609.5h5m-2.5-2.5v5M757 610.5h5m-2.5-2.5v5M757 607.5h5m-2.5-2.5v5M758 610.5h5m-2.5-2.5v5M757 611.5h5m-2.5-2.5v5M758 609.5h5m-2.5-2.5v5M758 611.5h5m-2.5-2.5v5M758 614.5h5m-2.5-2.5v5M758 612.5h5m-2.5-2.5v5M758 613.5h5m-2.5-2.5v5M759 609.5h5m-2.5-2.5v5M759 615.5h5m-2.5-2.5v5M759 614.5h5m-2.5-2.5v5M760 615.5h5m-2.5-2.5v5M759 617.5h5m-2.5-2.5v5M760 619.5h5m-2.5-2.5v5M760 616.5h5m-2.5-2.5v5M759 616.5h5m-2.5-2.5v5M760 618.5h5m-2.5-2.5v5M760 621.5h5m-2.5-2.5v5M760 625.5h5m-2.5-2.5v5M761 623.5h5m-2.5-2.5v5M760 624.5h5m-2.5-2.5v5M761 624.5h5m-2.5-2.5v5M761 628.5h5m-2.5-2.5v5M761 630.5h5m-2.5-2.5v5M761 634.5h5m-2.5-2.5v5M761 636.5h5m-2.5-2.5v5M761 637.5h5m-2.5-2.5v5M761 643.5h5m-2.5-2.5v5M762 648.5h5m-2.5-2.5v5M762 647.5h5m-2.5-2.5v5M762 654.5h5m-2.5-2.5v5M762 660.5h5m-2.5-2.5v5M762 661.5h5m-2.5-2.5v5M762 662.5h5m-2.5-2.5v5M762 668.5h5m-2.5-2.5v5M763 669.5h5m-2.5-2.5v5M762 671.5h5m-2.5-2.5v5M763 674.5h5m-2.5-2.5v5M763 677.5h5m-2.5-2.5v5M762 680.5h5m-2.5-2.5v5M763 683.5h5m-2.5-2.5v5M763 686.5h5m-2.5-2.5v5M763 688.5h5m-2.5-2.5v5M763 691.5h5m-2.5-2.5v5M763 692.5h5m-2.5-2.5v5M764 694.5h5m-2.5-2.5v5M763 698.5h5m-2.5-2.5v5M764 700.5h5m-2.5-2.5v5M763 701.5h5m-2.5-2.5v5M764 703.5h5m-2.5-2.5v5M764 702.5h5m-2.5-2.5v5M764 705.5h5m-2.5-2.5v5M764 704.5h5m-2.5-2.5v5M765 705.5h5m-2.5-2.5v5M765 704.5h5m-2.5-2.5v5M765 707.5h5m-2.5-2.5v5M765 706.5h5m-2.5-2.5v5M765 709.5h5m-2.5-2.5v5M765 703.5h5m-2.5-2.5v5M765 702.5h5m-2.5-2.5v5M765 697.5h5m-2.5-2.5v5M766 697.5h5m-2.5-2.5v5M765 695.5h5m-2.5-2.5v5M766 692.5h5m-2.5-2.5v5M765 689.5h5m-2.5-2.5v5M766 686.5h5m-2.5-2.5v5M766 685.5h5m-2.5-2.5v5M766 682.5h5m-2.5-2.5v5M766 678.5h5m-2.5-2.5v5M766 673.5h5m-2.5-2.5v5M766 669.5h5m-2.5-2.5v5M767 666.5h5m-2.5-2.5v5M766 664.5h5m-2.5-2.5v5M766 660.5h5m-2.5-2.5v5M767 659.5h5m-2.5-2.5v5M767 656.5h5m-2.5-2.5v5M767 653.5h5m-2.5-2.5v5M767 651.5h5m-2.5-2.5v5M767 646.5h5m-2.5-2.5v5M767 642.5h5m-2.5-2.5v5M767 640.5h5m-2.5-2.5v5M767 637.5h5m-2.5-2.5v5M768 633.5h5m-2.5-2.5v5M768 634.5h5m-2.5-2.5v5M768 624.5h5m-2.5-2.5v5M767 624.5h5m-2.5-2.5v5M768 622.5h5m-2.5-2.5v5M768 619.5h5m-2.5-2.5v5M768 616.5h5m-2.5-2.5v5M768 612.5h5m-2.5-2.5v5M768 615.5h5m-2.5-2.5v5M768 613.5h5m-2.5-2.5v5M769 612.5h5m-2.5-2.5v5M769 610.5h5m-2.5-2.5v5M768 609.5h5m-2.5-2.5v5M769 606.5h5m-2.5-2.5v5M769 609.5h5m-2.5-2.5v5M770 604.5h5m-2.5-2.5v5M770 607.5h5m-2.5-2.5v5M770 612.5h5m-2.5-2.5v5M770 611.5h5m-2.5-2.5v5M770 613.5h5m-2.5-2.5v5M770 616.5h5m-2.5-2.5v5M770 618.5h5m-2.5-2.5v5M771 621.5h5m-2.5-2.5v5M770 622.5h5m-2.5-2.5v5M771 623.5h5m-2.5-2.5v5M771 625.5h5m-2.5-2.5v5M771 620.5h5m-2.5-2.5v5M772 623.5h5m-2.5-2.5v5M772 626.5h5m-2.5-2.5v5M771 628.5h5m-2.5-2.5v5M772 632.5h5m-2.5-2.5v5M772 629.5h5m-2.5-2.5v5M772 633.5h5m-2.5-2.5v5M772 631.5h5m-2.5-2.5v5M773 630.5h5m-2.5-2.5v5M772 634.5h5m-2.5-2.5v5M772 630.5h5m-2.5-2.5v5M773 631.5h5m-2.5-2.5v5M773 628.5h5m-2.5-2.5v5M774 629.5h5m-2.5-2.5v5M774 628.5h5m-2.5-2.5v5M774 630.5h5m-2.5-2.5v5M773 633.5h5m-2.5-2.5v5M774 633.5h5m-2.5-2.5v5M774 636.5h5m-2.5-2.5v5M774 634.5h5m-2.5-2.5v5M774 635.5h5m-2.5-2.5v5M775 635.5h5m-2.5-2.5v5M775 634.5h5m-2.5-2.5v5M775 636.5h5m-2.5-2.5v5M775 633.5h5m-2.5-2.5v5M776 632.5h5m-2.5-2.5v5M776 633.5h5m-2.5-2.5v5M775 632.5h5m-2.5-2.5v5M776 635.5h5m-2.5-2.5v5M776 636.5h5m-2.5-2.5v5M776 634.5h5m-2.5-2.5v5M777 633.5h5m-2.5-2.5v5M777 635.5h5m-2.5-2.5v5M777 637.5h5m-2.5-2.5v5M777 640.5h5m-2.5-2.5v5M777 638.5h5m-2.5-2.5v5M778 636.5h5m-2.5-2.5v5M777 639.5h5m-2.5-2.5v5M777 642.5h5m-2.5-2.5v5M777 641.5h5m-2.5-2.5v5M778 642.5h5m-2.5-2.5v5M778 641.5h5m-2.5-2.5v5M778 645.5h5m-2.5-2.5v5M778 644.5h5m-2.5-2.5v5M778 646.5h5m-2.5-2.5v5M779 645.5h5m-2.5-2.5v5M779 647.5h5m-2.5-2.5v5M778 647.5h5m-2.5-2.5v5M778 648.5h5m-2.5-2.5v5M779 651.5h5m-2.5-2.5v5M779 654.5h5m-2.5-2.5v5M779 653.5h5m-2.5-2.5v5M779 657.5h5m-2.5-2.5v5M779 658.5h5m-2.5-2.5v5M780 659.5h5m-2.5-2.5v5M780 663.5h5m-2.5-2.5v5M779 663.5h5m-2.5-2.5v5M780 665.5h5m-2.5-2.5v5M780 669.5h5m-2.5-2.5v5M780 671.5h5m-2.5-2.5v5M780 670.5h5m-2.5-2.5v5M780 673.5h5m-2.5-2.5v5M780 675.5h5m-2.5-2.5v5M781 677.5h5m-2.5-2.5v5M781 680.5h5m-2.5-2.5v5M781 681.5h5m-2.5-2.5v5M780 682.5h5m-2.5-2.5v5M781 682.5h5m-2.5-2.5v5M782 684.5h5m-2.5-2.5v5M782 686.5h5m-2.5-2.5v5M781 685.5h5m-2.5-2.5v5M782 687.5h5m-2.5-2.5v5M782 683.5h5m-2.5-2.5v5M782 681.5h5m-2.5-2.5v5M782 678.5h5m-2.5-2.5v5M782 677.5h5m-2.5-2.5v5M782 676.5h5m-2.5-2.5v5M782 673.5h5m-2.5-2.5v5M782 670.5h5m-2.5-2.5v5M782 667.5h5m-2.5-2.5v5M782 663.5h5m-2.5-2.5v5M783 661.5h5m-2.5-2.5v5M782 658.5h5m-2.5-2.5v5M783 655.5h5m-2.5-2.5v5M783 653.5h5m-2.5-2.5v5M783 650.5h5m-2.5-2.5v5M783 648.5h5m-2.5-2.5v5M783 645.5h5m-2.5-2.5v5M783 641.5h5m-2.5-2.5v5M784 643.5h5m-2.5-2.5v5M784 641.5h5m-2.5-2.5v5M783 639.5h5m-2.5-2.5v5M784 637.5h5m-2.5-2.5v5M784 636.5h5m-2.5-2.5v5M784 632.5h5m-2.5-2.5v5M784 629.5h5m-2.5-2.5v5M784 626.5h5m-2.5-2.5v5M784 624.5h5m-2.5-2.5v5M784 623.5h5m-2.5-2.5v5M785 623.5h5m-2.5-2.5v5M785 622.5h5m-2.5-2.5v5M785 620.5h5m-2.5-2.5v5M785 617.5h5m-2.5-2.5v5M785 616.5h5m-2.5-2.5v5M786 617.5h5m-2.5-2.5v5M785 613.5h5m-2.5-2.5v5M786 614.5h5m-2.5-2.5v5M786 613.5h5m-2.5-2.5v5M786 612.5h5m-2.5-2.5v5M785 611.5h5m-2.5-2.5v5M786 608.5h5m-2.5-2.5v5M786 606.5h5m-2.5-2.5v5M786 607.5h5m-2.5-2.5v5M786 611.5h5m-2.5-2.5v5M787 606.5h5m-2.5-2.5v5M787 607.5h5m-2.5-2.5v5M787 605.5h5m-2.5-2.5v5M787 603.5h5m-2.5-2.5v5M787 604.5h5m-2.5-2.5v5M788 606.5h5m-2.5-2.5v5M788 608.5h5m-2.5-2.5v5M788 610.5h5m-2.5-2.5v5M788 611.5h5m-2.5-2.5v5M788 614.5h5m-2.5-2.5v5M788 615.5h5m-2.5-2.5v5M789 614.5h5m-2.5-2.5v5M788 612.5h5m-2.5-2.5v5M789 616.5h5m-2.5-2.5v5M789 617.5h5m-2.5-2.5v5M789 618.5h5m-2.5-2.5v5M790 618.5h5m-2.5-2.5v5M790 617.5h5m-2.5-2.5v5M790 619.5h5m-2.5-2.5v5M790 621.5h5m-2.5-2.5v5M790 623.5h5m-2.5-2.5v5M789 621.5h5m-2.5-2.5v5M790 622.5h5m-2.5-2.5v5M791 623.5h5m-2.5-2.5v5M790 625.5h5m-2.5-2.5v5M791 627.5h5m-2.5-2.5v5M791 628.5h5m-2.5-2.5v5M791 625.5h5m-2.5-2.5v5M791 626.5h5m-2.5-2.5v5M792 630.5h5m-2.5-2.5v5M792 629.5h5m-2.5-2.5v5M791 633.5h5m-2.5-2.5v5M792 631.5h5m-2.5-2.5v5M791 630.5h5m-2.5-2.5v5M793 629.5h5m-2.5-2.5v5M793 630.5h5m-2.5-2.5v5M793 627.5h5m-2.5-2.5v5M792 626.5h5m-2.5-2.5v5M792 627.5h5m-2.5-2.5v5M794 630.5h5m-2.5-2.5v5M793 633.5h5m-2.5-2.5v5M793 631.5h5m-2.5-2.5v5M794 633.5h5m-2.5-2.5v5M794 632.5h5m-2.5-2.5v5M794 631.5h5m-2.5-2.5v5M794 629.5h5m-2.5-2.5v5M795 632.5h5m-2.5-2.5v5M795 630.5h5m-2.5-2.5v5M794 628.5h5m-2.5-2.5v5M795 631.5h5m-2.5-2.5v5M795 628.5h5m-2.5-2.5v5M795 627.5h5m-2.5-2.5v5M796 627.5h5m-2.5-2.5v5M796 626.5h5m-2.5-2.5v5M796 625.5h5m-2.5-2.5v5M795 621.5h5m-2.5-2.5v5M796 619.5h5m-2.5-2.5v5M796 617.5h5m-2.5-2.5v5M797 618.5h5m-2.5-2.5v5M797 620.5h5m-2.5-2.5v5M797 621.5h5m-2.5-2.5v5M797 619.5h5m-2.5-2.5v5M797 615.5h5m-2.5-2.5v5M797 616.5h5m-2.5-2.5v5M797 617.5h5m-2.5-2.5v5M797 614.5h5m-2.5-2.5v5M798 618.5h5m-2.5-2.5v5M798 615.5h5m-2.5-2.5v5M798 620.5h5m-2.5-2.5v5M798 617.5h5m-2.5-2.5v5M798 616.5h5m-2.5-2.5v5M798 621.5h5m-2.5-2.5v5M799 621.5h5m-2.5-2.5v5M798 623.5h5m-2.5-2.5v5M798 625.5h5m-2.5-2.5v5M799 623.5h5m-2.5-2.5v5M799 624.5h5m-2.5-2.5v5M799 628.5h5m-2.5-2.5v5M799 629.5h5m-2.5-2.5v5M800 632.5h5m-2.5-2.5v5M800 634.5h5m-2.5-2.5v5M800 635.5h5m-2.5-2.5v5M800 637.5h5m-2.5-2.5v5M800 638.5h5m-2.5-2.5v5M800 640.5h5m-2.5-2.5v5M801 638.5h5m-2.5-2.5v5M801 639.5h5m-2.5-2.5v5M800 641.5h5m-2.5-2.5v5M800 643.5h5m-2.5-2.5v5M801 642.5h5m-2.5-2.5v5M801 644.5h5m-2.5-2.5v5M801 645.5h5m-2.5-2.5v5M801 647.5h5m-2.5-2.5v5M801 646.5h5m-2.5-2.5v5M801 648.5h5m-2.5-2.5v5M802 649.5h5m-2.5-2.5v5M802 646.5h5m-2.5-2.5v5M802 645.5h5m-2.5-2.5v5M802 644.5h5m-2.5-2.5v5M802 643.5h5m-2.5-2.5v5M802 640.5h5m-2.5-2.5v5M803 637.5h5m-2.5-2.5v5M803 635.5h5m-2.5-2.5v5M803 633.5h5m-2.5-2.5v5M803 632.5h5m-2.5-2.5v5M803 628.5h5m-2.5-2.5v5M803 626.5h5m-2.5-2.5v5M803 624.5h5m-2.5-2.5v5M804 622.5h5m-2.5-2.5v5M804 619.5h5m-2.5-2.5v5M804 617.5h5m-2.5-2.5v5M804 614.5h5m-2.5-2.5v5M804 611.5h5m-2.5-2.5v5M804 609.5h5m-2.5-2.5v5M804 608.5h5m-2.5-2.5v5M804 605.5h5m-2.5-2.5v5M804 602.5h5m-2.5-2.5v5M805 597.5h5m-2.5-2.5v5M805 599.5h5m-2.5-2.5v5M805 600.5h5m-2.5-2.5v5M806 596.5h5m-2.5-2.5v5M805 594.5h5m-2.5-2.5v5M806 593.5h5m-2.5-2.5v5M806 594.5h5m-2.5-2.5v5M806 598.5h5m-2.5-2.5v5M806 601.5h5m-2.5-2.5v5M806 602.5h5m-2.5-2.5v5M806 603.5h5m-2.5-2.5v5M806 605.5h5m-2.5-2.5v5M807 605.5h5m-2.5-2.5v5M806 607.5h5m-2.5-2.5v5M806 608.5h5m-2.5-2.5v5M807 606.5h5m-2.5-2.5v5M807 608.5h5m-2.5-2.5v5M807 609.5h5m-2.5-2.5v5M807 612.5h5m-2.5-2.5v5M807 614.5h5m-2.5-2.5v5M807 617.5h5m-2.5-2.5v5M807 620.5h5m-2.5-2.5v5M808 622.5h5m-2.5-2.5v5M808 620.5h5m-2.5-2.5v5M807 622.5h5m-2.5-2.5v5M808 621.5h5m-2.5-2.5v5M808 624.5h5m-2.5-2.5v5M808 625.5h5m-2.5-2.5v5M808 626.5h5m-2.5-2.5v5M809 628.5h5m-2.5-2.5v5M809 626.5h5m-2.5-2.5v5M809 629.5h5m-2.5-2.5v5M809 630.5h5m-2.5-2.5v5M809 631.5h5m-2.5-2.5v5M810 631.5h5m-2.5-2.5v5M810 629.5h5m-2.5-2.5v5M810 628.5h5m-2.5-2.5v5M810 633.5h5m-2.5-2.5v5M810 630.5h5m-2.5-2.5v5M811 632.5h5m-2.5-2.5v5M810 634.5h5m-2.5-2.5v5M811 631.5h5m-2.5-2.5v5M811 633.5h5m-2.5-2.5v5M811 630.5h5m-2.5-2.5v5M812 632.5h5m-2.5-2.5v5M812 631.5h5m-2.5-2.5v5M812 633.5h5m-2.5-2.5v5M812 630.5h5m-2.5-2.5v5M813 632.5h5m-2.5-2.5v5M812 629.5h5m-2.5-2.5v5M813 628.5h5m-2.5-2.5v5M813 631.5h5m-2.5-2.5v5M813 630.5h5m-2.5-2.5v5M814 629.5h5m-2.5-2.5v5M814 627.5h5m-2.5-2.5v5M814 630.5h5m-2.5-2.5v5M814 628.5h5m-2.5-2.5v5M814 631.5h5m-2.5-2.5v5M815 630.5h5m-2.5-2.5v5M815 631.5h5m-2.5-2.5v5M814 632.5h5m-2.5-2.5v5M815 632.5h5m-2.5-2.5v5M816 628.5h5m-2.5-2.5v5M816 629.5h5m-2.5-2.5v5M816 627.5h5m-2.5-2.5v5M816 630.5h5m-2.5-2.5v5M816 634.5h5m-2.5-2.5v5M816 631.5h5m-2.5-2.5v5M817 629.5h5m-2.5-2.5v5M817 635.5h5m-2.5-2.5v5M817 634.5h5m-2.5-2.5v5M816 636.5h5m-2.5-2.5v5M817 636.5h5m-2.5-2.5v5M817 637.5h5m-2.5-2.5v5M817 638.5h5m-2.5-2.5v5M817 646.5h5m-2.5-2.5v5M817 647.5h5m-2.5-2.5v5M818 649.5h5m-2.5-2.5v5M818 652.5h5m-2.5-2.5v5M818 655.5h5m-2.5-2.5v5M818 656.5h5m-2.5-2.5v5M818 660.5h5m-2.5-2.5v5M819 657.5h5m-2.5-2.5v5M819 660.5h5m-2.5-2.5v5M819 661.5h5m-2.5-2.5v5M818 666.5h5m-2.5-2.5v5M819 662.5h5m-2.5-2.5v5M819 663.5h5m-2.5-2.5v5M819 666.5h5m-2.5-2.5v5M820 665.5h5m-2.5-2.5v5M820 663.5h5m-2.5-2.5v5M819 659.5h5m-2.5-2.5v5M820 659.5h5m-2.5-2.5v5M819 653.5h5m-2.5-2.5v5M820 651.5h5m-2.5-2.5v5M820 648.5h5m-2.5-2.5v5M820 644.5h5m-2.5-2.5v5M820 643.5h5m-2.5-2.5v5M820 639.5h5m-2.5-2.5v5M820 640.5h5m-2.5-2.5v5M820 635.5h5m-2.5-2.5v5M820 634.5h5m-2.5-2.5v5M820 631.5h5m-2.5-2.5v5M821 629.5h5m-2.5-2.5v5M821 625.5h5m-2.5-2.5v5M821 624.5h5m-2.5-2.5v5M821 622.5h5m-2.5-2.5v5M821 620.5h5m-2.5-2.5v5M821 617.5h5m-2.5-2.5v5M821 615.5h5m-2.5-2.5v5M822 616.5h5m-2.5-2.5v5M822 611.5h5m-2.5-2.5v5M822 612.5h5m-2.5-2.5v5M822 608.5h5m-2.5-2.5v5M823 603.5h5m-2.5-2.5v5M822 604.5h5m-2.5-2.5v5M823 604.5h5m-2.5-2.5v5M822 600.5h5m-2.5-2.5v5M822 598.5h5m-2.5-2.5v5M823 599.5h5m-2.5-2.5v5M823 600.5h5m-2.5-2.5v5M822 602.5h5m-2.5-2.5v5M823 598.5h5m-2.5-2.5v5M823 595.5h5m-2.5-2.5v5M824 598.5h5m-2.5-2.5v5M823 597.5h5m-2.5-2.5v5M824 596.5h5m-2.5-2.5v5M824 597.5h5m-2.5-2.5v5M824 594.5h5m-2.5-2.5v5M824 592.5h5m-2.5-2.5v5M824 595.5h5m-2.5-2.5v5M825 595.5h5m-2.5-2.5v5M825 596.5h5m-2.5-2.5v5M825 593.5h5m-2.5-2.5v5M825 594.5h5m-2.5-2.5v5M825 598.5h5m-2.5-2.5v5M826 599.5h5m-2.5-2.5v5M826 598.5h5m-2.5-2.5v5M825 599.5h5m-2.5-2.5v5M826 600.5h5m-2.5-2.5v5M826 601.5h5m-2.5-2.5v5M825 602.5h5m-2.5-2.5v5M826 602.5h5m-2.5-2.5v5M826 605.5h5m-2.5-2.5v5M826 606.5h5m-2.5-2.5v5M826 607.5h5m-2.5-2.5v5M827 605.5h5m-2.5-2.5v5M827 608.5h5m-2.5-2.5v5M827 606.5h5m-2.5-2.5v5M827 607.5h5m-2.5-2.5v5M827 610.5h5m-2.5-2.5v5M827 609.5h5m-2.5-2.5v5M828 609.5h5m-2.5-2.5v5M828 611.5h5m-2.5-2.5v5M828 613.5h5m-2.5-2.5v5M828 610.5h5m-2.5-2.5v5M828 614.5h5m-2.5-2.5v5M828 615.5h5m-2.5-2.5v5M829 617.5h5m-2.5-2.5v5M829 615.5h5m-2.5-2.5v5M829 618.5h5m-2.5-2.5v5M829 616.5h5m-2.5-2.5v5M830 616.5h5m-2.5-2.5v5M830 619.5h5m-2.5-2.5v5M830 618.5h5m-2.5-2.5v5M830 615.5h5m-2.5-2.5v5M830 612.5h5m-2.5-2.5v5M830 611.5h5m-2.5-2.5v5M831 610.5h5m-2.5-2.5v5M830 609.5h5m-2.5-2.5v5M831 608.5h5m-2.5-2.5v5M831 607.5h5m-2.5-2.5v5M831 606.5h5m-2.5-2.5v5M831 605.5h5m-2.5-2.5v5M831 604.5h5m-2.5-2.5v5M831 600.5h5m-2.5-2.5v5M832 597.5h5m-2.5-2.5v5M832 596.5h5m-2.5-2.5v5M832 598.5h5m-2.5-2.5v5M831 596.5h5m-2.5-2.5v5M832 594.5h5m-2.5-2.5v5M832 590.5h5m-2.5-2.5v5M832 591.5h5m-2.5-2.5v5M832 587.5h5m-2.5-2.5v5M832 589.5h5m-2.5-2.5v5M833 588.5h5m-2.5-2.5v5M833 589.5h5m-2.5-2.5v5M833 592.5h5m-2.5-2.5v5M834 592.5h5m-2.5-2.5v5M833 593.5h5m-2.5-2.5v5M833 595.5h5m-2.5-2.5v5M833 597.5h5m-2.5-2.5v5M834 597.5h5m-2.5-2.5v5M834 599.5h5m-2.5-2.5v5M834 598.5h5m-2.5-2.5v5M834 602.5h5m-2.5-2.5v5M834 605.5h5m-2.5-2.5v5M834 606.5h5m-2.5-2.5v5M835 606.5h5m-2.5-2.5v5M835 607.5h5m-2.5-2.5v5M834 607.5h5m-2.5-2.5v5M835 611.5h5m-2.5-2.5v5M835 612.5h5m-2.5-2.5v5M836 612.5h5m-2.5-2.5v5M835 616.5h5m-2.5-2.5v5M836 615.5h5m-2.5-2.5v5M836 618.5h5m-2.5-2.5v5M836 619.5h5m-2.5-2.5v5M836 620.5h5m-2.5-2.5v5M836 623.5h5m-2.5-2.5v5M836 625.5h5m-2.5-2.5v5M836 629.5h5m-2.5-2.5v5M836 634.5h5m-2.5-2.5v5M837 634.5h5m-2.5-2.5v5M837 638.5h5m-2.5-2.5v5M836 638.5h5m-2.5-2.5v5M837 642.5h5m-2.5-2.5v5M837 645.5h5m-2.5-2.5v5M838 646.5h5m-2.5-2.5v5M837 648.5h5m-2.5-2.5v5M838 647.5h5m-2.5-2.5v5M838 648.5h5m-2.5-2.5v5M837 649.5h5m-2.5-2.5v5M837 653.5h5m-2.5-2.5v5M838 652.5h5m-2.5-2.5v5M839 654.5h5m-2.5-2.5v5M838 658.5h5m-2.5-2.5v5M839 661.5h5m-2.5-2.5v5M838 662.5h5m-2.5-2.5v5M838 665.5h5m-2.5-2.5v5M839 666.5h5m-2.5-2.5v5M839 667.5h5m-2.5-2.5v5M839 665.5h5m-2.5-2.5v5M839 658.5h5m-2.5-2.5v5M839 656.5h5m-2.5-2.5v5M839 653.5h5m-2.5-2.5v5M839 650.5h5m-2.5-2.5v5M839 648.5h5m-2.5-2.5v5M840 644.5h5m-2.5-2.5v5M839 639.5h5m-2.5-2.5v5M840 640.5h5m-2.5-2.5v5M840 637.5h5m-2.5-2.5v5M840 638.5h5m-2.5-2.5v5M840 633.5h5m-2.5-2.5v5M840 630.5h5m-2.5-2.5v5M840 625.5h5m-2.5-2.5v5M841 624.5h5m-2.5-2.5v5M840 618.5h5m-2.5-2.5v5M841 615.5h5m-2.5-2.5v5M841 614.5h5m-2.5-2.5v5M841 609.5h5m-2.5-2.5v5M841 606.5h5m-2.5-2.5v5M841 601.5h5m-2.5-2.5v5M841 598.5h5m-2.5-2.5v5M841 596.5h5m-2.5-2.5v5M842 594.5h5m-2.5-2.5v5M842 590.5h5m-2.5-2.5v5M841 590.5h5m-2.5-2.5v5M842 585.5h5m-2.5-2.5v5M842 584.5h5m-2.5-2.5v5M842 580.5h5m-2.5-2.5v5M842 577.5h5m-2.5-2.5v5M842 573.5h5m-2.5-2.5v5M842 574.5h5m-2.5-2.5v5M842 572.5h5m-2.5-2.5v5M843 569.5h5m-2.5-2.5v5M843 568.5h5m-2.5-2.5v5M842 567.5h5m-2.5-2.5v5M843 566.5h5m-2.5-2.5v5M843 563.5h5m-2.5-2.5v5M843 562.5h5m-2.5-2.5v5M842 566.5h5m-2.5-2.5v5M843 561.5h5m-2.5-2.5v5M843 560.5h5m-2.5-2.5v5M844 560.5h5m-2.5-2.5v5M844 558.5h5m-2.5-2.5v5M844 559.5h5m-2.5-2.5v5M845 560.5h5m-2.5-2.5v5M845 561.5h5m-2.5-2.5v5M844 561.5h5m-2.5-2.5v5M845 565.5h5m-2.5-2.5v5M844 566.5h5m-2.5-2.5v5M845 569.5h5m-2.5-2.5v5M846 570.5h5m-2.5-2.5v5M845 570.5h5m-2.5-2.5v5M846 573.5h5m-2.5-2.5v5M846 575.5h5m-2.5-2.5v5M845 577.5h5m-2.5-2.5v5M846 578.5h5m-2.5-2.5v5M846 579.5h5m-2.5-2.5v5M846 581.5h5m-2.5-2.5v5M846 583.5h5m-2.5-2.5v5M846 584.5h5m-2.5-2.5v5M846 587.5h5m-2.5-2.5v5M846 591.5h5m-2.5-2.5v5M846 592.5h5m-2.5-2.5v5M846 597.5h5m-2.5-2.5v5M847 597.5h5m-2.5-2.5v5M846 596.5h5m-2.5-2.5v5M847 596.5h5m-2.5-2.5v5M847 598.5h5m-2.5-2.5v5M847 600.5h5m-2.5-2.5v5M848 596.5h5m-2.5-2.5v5M848 598.5h5m-2.5-2.5v5M848 599.5h5m-2.5-2.5v5M848 600.5h5m-2.5-2.5v5M848 601.5h5m-2.5-2.5v5M848 603.5h5m-2.5-2.5v5M849 600.5h5m-2.5-2.5v5M849 599.5h5m-2.5-2.5v5M849 598.5h5m-2.5-2.5v5M849 596.5h5m-2.5-2.5v5M850 597.5h5m-2.5-2.5v5M850 598.5h5m-2.5-2.5v5M850 599.5h5m-2.5-2.5v5M850 596.5h5m-2.5-2.5v5M850 595.5h5m-2.5-2.5v5M851 596.5h5m-2.5-2.5v5M851 598.5h5m-2.5-2.5v5M851 594.5h5m-2.5-2.5v5M851 593.5h5m-2.5-2.5v5M851 591.5h5m-2.5-2.5v5M851 590.5h5m-2.5-2.5v5M852 589.5h5m-2.5-2.5v5M852 590.5h5m-2.5-2.5v5M852 591.5h5m-2.5-2.5v5M851 589.5h5m-2.5-2.5v5M852 588.5h5m-2.5-2.5v5M853 588.5h5m-2.5-2.5v5M853 587.5h5m-2.5-2.5v5M853 590.5h5m-2.5-2.5v5M853 589.5h5m-2.5-2.5v5M854 589.5h5m-2.5-2.5v5M854 588.5h5m-2.5-2.5v5M854 592.5h5m-2.5-2.5v5M854 594.5h5m-2.5-2.5v5M854 593.5h5m-2.5-2.5v5M854 597.5h5m-2.5-2.5v5M854 596.5h5m-2.5-2.5v5M855 599.5h5m-2.5-2.5v5M854 602.5h5m-2.5-2.5v5M854 599.5h5m-2.5-2.5v5M854 600.5h5m-2.5-2.5v5M855 601.5h5m-2.5-2.5v5M855 603.5h5m-2.5-2.5v5M855 605.5h5m-2.5-2.5v5M855 608.5h5m-2.5-2.5v5M855 611.5h5m-2.5-2.5v5M856 612.5h5m-2.5-2.5v5M856 614.5h5m-2.5-2.5v5M856 616.5h5m-2.5-2.5v5M856 620.5h5m-2.5-2.5v5M856 621.5h5m-2.5-2.5v5M856 624.5h5m-2.5-2.5v5M856 625.5h5m-2.5-2.5v5M856 629.5h5m-2.5-2.5v5M856 627.5h5m-2.5-2.5v5M857 633.5h5m-2.5-2.5v5M857 636.5h5m-2.5-2.5v5M857 637.5h5m-2.5-2.5v5M857 643.5h5m-2.5-2.5v5M857 648.5h5m-2.5-2.5v5M857 654.5h5m-2.5-2.5v5M857 659.5h5m-2.5-2.5v5M858 667.5h5m-2.5-2.5v5M857 675.5h5m-2.5-2.5v5M858 678.5h5m-2.5-2.5v5M857 680.5h5m-2.5-2.5v5M858 680.5h5m-2.5-2.5v5M859 679.5h5m-2.5-2.5v5M858 681.5h5m-2.5-2.5v5M859 678.5h5m-2.5-2.5v5M859 672.5h5m-2.5-2.5v5M859 667.5h5m-2.5-2.5v5M859 664.5h5m-2.5-2.5v5M859 658.5h5m-2.5-2.5v5M859 656.5h5m-2.5-2.5v5M859 653.5h5m-2.5-2.5v5M859 650.5h5m-2.5-2.5v5M859 644.5h5m-2.5-2.5v5M859 642.5h5m-2.5-2.5v5M859 638.5h5m-2.5-2.5v5M860 634.5h5m-2.5-2.5v5M859 633.5h5m-2.5-2.5v5M860 630.5h5m-2.5-2.5v5M860 629.5h5m-2.5-2.5v5M860 624.5h5m-2.5-2.5v5M860 623.5h5m-2.5-2.5v5M860 622.5h5m-2.5-2.5v5M860 621.5h5m-2.5-2.5v5M860 619.5h5m-2.5-2.5v5M861 616.5h5m-2.5-2.5v5M861 611.5h5m-2.5-2.5v5M861 607.5h5m-2.5-2.5v5M861 608.5h5m-2.5-2.5v5M861 609.5h5m-2.5-2.5v5M861 606.5h5m-2.5-2.5v5M861 605.5h5m-2.5-2.5v5M861 603.5h5m-2.5-2.5v5M861 599.5h5m-2.5-2.5v5M862 597.5h5m-2.5-2.5v5M862 596.5h5m-2.5-2.5v5M862 591.5h5m-2.5-2.5v5M862 586.5h5m-2.5-2.5v5M862 590.5h5m-2.5-2.5v5M862 588.5h5m-2.5-2.5v5M862 589.5h5m-2.5-2.5v5M863 587.5h5m-2.5-2.5v5M863 583.5h5m-2.5-2.5v5M863 581.5h5m-2.5-2.5v5M863 585.5h5m-2.5-2.5v5M864 588.5h5m-2.5-2.5v5M864 589.5h5m-2.5-2.5v5M863 590.5h5m-2.5-2.5v5M864 590.5h5m-2.5-2.5v5M864 591.5h5m-2.5-2.5v5M864 592.5h5m-2.5-2.5v5M864 586.5h5m-2.5-2.5v5M864 587.5h5m-2.5-2.5v5M865 590.5h5m-2.5-2.5v5M865 594.5h5m-2.5-2.5v5M865 596.5h5m-2.5-2.5v5M865 595.5h5m-2.5-2.5v5M865 597.5h5m-2.5-2.5v5M865 598.5h5m-2.5-2.5v5M866 595.5h5m-2.5-2.5v5M866 598.5h5m-2.5-2.5v5M866 599.5h5m-2.5-2.5v5M866 602.5h5m-2.5-2.5v5M866 606.5h5m-2.5-2.5v5M866 604.5h5m-2.5-2.5v5M867 605.5h5m-2.5-2.5v5M867 607.5h5m-2.5-2.5v5M867 606.5h5m-2.5-2.5v5M867 603.5h5m-2.5-2.5v5M867 604.5h5m-2.5-2.5v5M868 607.5h5m-2.5-2.5v5M868 608.5h5m-2.5-2.5v5M868 611.5h5m-2.5-2.5v5M869 609.5h5m-2.5-2.5v5M869 612.5h5m-2.5-2.5v5M869 611.5h5m-2.5-2.5v5M868 613.5h5m-2.5-2.5v5M869 613.5h5m-2.5-2.5v5M870 612.5h5m-2.5-2.5v5M870 611.5h5m-2.5-2.5v5M870 610.5h5m-2.5-2.5v5M870 609.5h5m-2.5-2.5v5M870 613.5h5m-2.5-2.5v5M871 613.5h5m-2.5-2.5v5M871 615.5h5m-2.5-2.5v5M871 616.5h5m-2.5-2.5v5M871 618.5h5m-2.5-2.5v5M872 617.5h5m-2.5-2.5v5M871 623.5h5m-2.5-2.5v5M872 625.5h5m-2.5-2.5v5M872 624.5h5m-2.5-2.5v5M872 623.5h5m-2.5-2.5v5M872 628.5h5m-2.5-2.5v5M872 629.5h5m-2.5-2.5v5M873 630.5h5m-2.5-2.5v5M872 631.5h5m-2.5-2.5v5M873 631.5h5m-2.5-2.5v5M874 630.5h5m-2.5-2.5v5M873 633.5h5m-2.5-2.5v5M873 637.5h5m-2.5-2.5v5M874 637.5h5m-2.5-2.5v5M873 635.5h5m-2.5-2.5v5M873 638.5h5m-2.5-2.5v5M873 640.5h5m-2.5-2.5v5M874 642.5h5m-2.5-2.5v5M874 641.5h5m-2.5-2.5v5M874 646.5h5m-2.5-2.5v5M874 647.5h5m-2.5-2.5v5M874 648.5h5m-2.5-2.5v5M874 652.5h5m-2.5-2.5v5M875 652.5h5m-2.5-2.5v5M875 655.5h5m-2.5-2.5v5M875 657.5h5m-2.5-2.5v5M875 659.5h5m-2.5-2.5v5M876 661.5h5m-2.5-2.5v5M875 661.5h5m-2.5-2.5v5M875 658.5h5m-2.5-2.5v5M876 654.5h5m-2.5-2.5v5M876 655.5h5m-2.5-2.5v5M875 653.5h5m-2.5-2.5v5M876 651.5h5m-2.5-2.5v5M876 645.5h5m-2.5-2.5v5M876 644.5h5m-2.5-2.5v5M876 643.5h5m-2.5-2.5v5M876 641.5h5m-2.5-2.5v5M876 637.5h5m-2.5-2.5v5M877 634.5h5m-2.5-2.5v5M876 632.5h5m-2.5-2.5v5M876 631.5h5m-2.5-2.5v5M876 628.5h5m-2.5-2.5v5M876 629.5h5m-2.5-2.5v5M876 621.5h5m-2.5-2.5v5M877 619.5h5m-2.5-2.5v5M877 617.5h5m-2.5-2.5v5M878 615.5h5m-2.5-2.5v5M877 612.5h5m-2.5-2.5v5M877 608.5h5m-2.5-2.5v5M877 604.5h5m-2.5-2.5v5M878 599.5h5m-2.5-2.5v5M877 598.5h5m-2.5-2.5v5M878 598.5h5m-2.5-2.5v5M878 597.5h5m-2.5-2.5v5M878 590.5h5m-2.5-2.5v5M878 586.5h5m-2.5-2.5v5M879 585.5h5m-2.5-2.5v5M879 584.5h5m-2.5-2.5v5M879 582.5h5m-2.5-2.5v5M879 578.5h5m-2.5-2.5v5M879 575.5h5m-2.5-2.5v5M878 572.5h5m-2.5-2.5v5M879 570.5h5m-2.5-2.5v5M879 569.5h5m-2.5-2.5v5M879 572.5h5m-2.5-2.5v5M880 568.5h5m-2.5-2.5v5M879 565.5h5m-2.5-2.5v5M879 567.5h5m-2.5-2.5v5M880 569.5h5m-2.5-2.5v5M880 571.5h5m-2.5-2.5v5M881 568.5h5m-2.5-2.5v5M880 567.5h5m-2.5-2.5v5M880 570.5h5m-2.5-2.5v5M881 570.5h5m-2.5-2.5v5M881 571.5h5m-2.5-2.5v5M882 570.5h5m-2.5-2.5v5M881 569.5h5m-2.5-2.5v5M882 572.5h5m-2.5-2.5v5M882 576.5h5m-2.5-2.5v5M882 577.5h5m-2.5-2.5v5M882 578.5h5m-2.5-2.5v5M882 580.5h5m-2.5-2.5v5M882 579.5h5m-2.5-2.5v5M883 581.5h5m-2.5-2.5v5M883 580.5h5m-2.5-2.5v5M882 582.5h5m-2.5-2.5v5M883 584.5h5m-2.5-2.5v5M883 583.5h5m-2.5-2.5v5M883 585.5h5m-2.5-2.5v5M883 586.5h5m-2.5-2.5v5M884 589.5h5m-2.5-2.5v5M884 591.5h5m-2.5-2.5v5M883 595.5h5m-2.5-2.5v5M884 594.5h5m-2.5-2.5v5M884 596.5h5m-2.5-2.5v5M884 599.5h5m-2.5-2.5v5M884 600.5h5m-2.5-2.5v5M884 601.5h5m-2.5-2.5v5M885 604.5h5m-2.5-2.5v5M885 605.5h5m-2.5-2.5v5M884 605.5h5m-2.5-2.5v5M885 607.5h5m-2.5-2.5v5M885 609.5h5m-2.5-2.5v5M885 611.5h5m-2.5-2.5v5M885 610.5h5m-2.5-2.5v5M886 615.5h5m-2.5-2.5v5M886 616.5h5m-2.5-2.5v5M885 616.5h5m-2.5-2.5v5M886 614.5h5m-2.5-2.5v5M885 613.5h5m-2.5-2.5v5M886 617.5h5m-2.5-2.5v5M886 618.5h5m-2.5-2.5v5M887 612.5h5m-2.5-2.5v5M887 609.5h5m-2.5-2.5v5M887 607.5h5m-2.5-2.5v5M887 608.5h5m-2.5-2.5v5M887 605.5h5m-2.5-2.5v5M887 606.5h5m-2.5-2.5v5M887 603.5h5m-2.5-2.5v5M887 602.5h5m-2.5-2.5v5M887 601.5h5m-2.5-2.5v5M888 603.5h5m-2.5-2.5v5M888 601.5h5m-2.5-2.5v5M888 602.5h5m-2.5-2.5v5M888 599.5h5m-2.5-2.5v5M888 597.5h5m-2.5-2.5v5M888 595.5h5m-2.5-2.5v5M888 591.5h5m-2.5-2.5v5M889 589.5h5m-2.5-2.5v5M889 587.5h5m-2.5-2.5v5M889 586.5h5m-2.5-2.5v5M890 584.5h5m-2.5-2.5v5M890 582.5h5m-2.5-2.5v5M890 581.5h5m-2.5-2.5v5M891 583.5h5m-2.5-2.5v5M890 583.5h5m-2.5-2.5v5M891 579.5h5m-2.5-2.5v5M890 580.5h5m-2.5-2.5v5M891 581.5h5m-2.5-2.5v5M890 579.5h5m-2.5-2.5v5M891 578.5h5m-2.5-2.5v5M891 582.5h5m-2.5-2.5v5M892 582.5h5m-2.5-2.5v5M891 580.5h5m-2.5-2.5v5M892 580.5h5m-2.5-2.5v5M892 584.5h5m-2.5-2.5v5M892 583.5h5m-2.5-2.5v5M892 585.5h5m-2.5-2.5v5M893 581.5h5m-2.5-2.5v5M893 585.5h5m-2.5-2.5v5M893 583.5h5m-2.5-2.5v5M892 588.5h5m-2.5-2.5v5M893 588.5h5m-2.5-2.5v5M893 592.5h5m-2.5-2.5v5M893 593.5h5m-2.5-2.5v5M893 595.5h5m-2.5-2.5v5M894 595.5h5m-2.5-2.5v5M894 596.5h5m-2.5-2.5v5M894 597.5h5m-2.5-2.5v5M894 600.5h5m-2.5-2.5v5M894 601.5h5m-2.5-2.5v5M894 604.5h5m-2.5-2.5v5M894 606.5h5m-2.5-2.5v5M894 609.5h5m-2.5-2.5v5M894 612.5h5m-2.5-2.5v5M895 614.5h5m-2.5-2.5v5M895 616.5h5m-2.5-2.5v5M895 621.5h5m-2.5-2.5v5M895 620.5h5m-2.5-2.5v5M894 624.5h5m-2.5-2.5v5M894 627.5h5m-2.5-2.5v5M895 631.5h5m-2.5-2.5v5M895 628.5h5m-2.5-2.5v5M895 626.5h5m-2.5-2.5v5M896 623.5h5m-2.5-2.5v5M896 618.5h5m-2.5-2.5v5M896 617.5h5m-2.5-2.5v5M896 615.5h5m-2.5-2.5v5M896 610.5h5m-2.5-2.5v5M896 606.5h5m-2.5-2.5v5M896 601.5h5m-2.5-2.5v5M896 599.5h5m-2.5-2.5v5M896 593.5h5m-2.5-2.5v5M897 587.5h5m-2.5-2.5v5M897 585.5h5m-2.5-2.5v5M897 578.5h5m-2.5-2.5v5M896 574.5h5m-2.5-2.5v5M897 571.5h5m-2.5-2.5v5M897 570.5h5m-2.5-2.5v5M897 566.5h5m-2.5-2.5v5M897 559.5h5m-2.5-2.5v5M898 556.5h5m-2.5-2.5v5M897 552.5h5m-2.5-2.5v5M898 550.5h5m-2.5-2.5v5M897 547.5h5m-2.5-2.5v5M898 543.5h5m-2.5-2.5v5M898 540.5h5m-2.5-2.5v5M898 536.5h5m-2.5-2.5v5M898 538.5h5m-2.5-2.5v5M898 537.5h5m-2.5-2.5v5M898 533.5h5m-2.5-2.5v5M899 532.5h5m-2.5-2.5v5M899 529.5h5m-2.5-2.5v5M898 526.5h5m-2.5-2.5v5M899 531.5h5m-2.5-2.5v5M899 533.5h5m-2.5-2.5v5M900 533.5h5m-2.5-2.5v5M900 535.5h5m-2.5-2.5v5M900 537.5h5m-2.5-2.5v5M900 536.5h5m-2.5-2.5v5M901 537.5h5m-2.5-2.5v5M900 541.5h5m-2.5-2.5v5M901 541.5h5m-2.5-2.5v5M900 543.5h5m-2.5-2.5v5M901 543.5h5m-2.5-2.5v5M901 542.5h5m-2.5-2.5v5M901 544.5h5m-2.5-2.5v5M901 546.5h5m-2.5-2.5v5M901 547.5h5m-2.5-2.5v5M902 555.5h5m-2.5-2.5v5M901 558.5h5m-2.5-2.5v5M901 563.5h5m-2.5-2.5v5M901 566.5h5m-2.5-2.5v5M902 571.5h5m-2.5-2.5v5M902 575.5h5m-2.5-2.5v5M902 580.5h5m-2.5-2.5v5M902 584.5h5m-2.5-2.5v5M902 583.5h5m-2.5-2.5v5M903 586.5h5m-2.5-2.5v5M902 587.5h5m-2.5-2.5v5M902 588.5h5m-2.5-2.5v5M903 589.5h5m-2.5-2.5v5M903 587.5h5m-2.5-2.5v5M903 591.5h5m-2.5-2.5v5M903 590.5h5m-2.5-2.5v5M903 593.5h5m-2.5-2.5v5M903 596.5h5m-2.5-2.5v5M903 594.5h5m-2.5-2.5v5M903 598.5h5m-2.5-2.5v5M904 599.5h5m-2.5-2.5v5M903 600.5h5m-2.5-2.5v5M904 601.5h5m-2.5-2.5v5M904 605.5h5m-2.5-2.5v5M904 602.5h5m-2.5-2.5v5M904 603.5h5m-2.5-2.5v5M904 604.5h5m-2.5-2.5v5M904 607.5h5m-2.5-2.5v5M905 607.5h5m-2.5-2.5v5M905 608.5h5m-2.5-2.5v5M905 609.5h5m-2.5-2.5v5M905 611.5h5m-2.5-2.5v5M905 612.5h5m-2.5-2.5v5M905 613.5h5m-2.5-2.5v5M906 612.5h5m-2.5-2.5v5M906 610.5h5m-2.5-2.5v5M906 613.5h5m-2.5-2.5v5M906 611.5h5m-2.5-2.5v5M907 609.5h5m-2.5-2.5v5M906 606.5h5m-2.5-2.5v5M907 607.5h5m-2.5-2.5v5M907 608.5h5m-2.5-2.5v5M907 605.5h5m-2.5-2.5v5M907 601.5h5m-2.5-2.5v5M907 602.5h5m-2.5-2.5v5M908 602.5h5m-2.5-2.5v5M908 603.5h5m-2.5-2.5v5M908 599.5h5m-2.5-2.5v5M908 598.5h5m-2.5-2.5v5M908 597.5h5m-2.5-2.5v5M908 593.5h5m-2.5-2.5v5M909 587.5h5m-2.5-2.5v5M909 589.5h5m-2.5-2.5v5M909 588.5h5m-2.5-2.5v5M909 590.5h5m-2.5-2.5v5M910 590.5h5m-2.5-2.5v5M910 589.5h5m-2.5-2.5v5M910 588.5h5m-2.5-2.5v5M910 586.5h5m-2.5-2.5v5M910 585.5h5m-2.5-2.5v5M910 587.5h5m-2.5-2.5v5M911 584.5h5m-2.5-2.5v5M910 583.5h5m-2.5-2.5v5M911 581.5h5m-2.5-2.5v5M911 587.5h5m-2.5-2.5v5M911 586.5h5m-2.5-2.5v5M911 589.5h5m-2.5-2.5v5M912 590.5h5m-2.5-2.5v5M912 589.5h5m-2.5-2.5v5M912 587.5h5m-2.5-2.5v5M911 590.5h5m-2.5-2.5v5M912 591.5h5m-2.5-2.5v5M912 592.5h5m-2.5-2.5v5M913 594.5h5m-2.5-2.5v5M912 596.5h5m-2.5-2.5v5M912 595.5h5m-2.5-2.5v5M912 597.5h5m-2.5-2.5v5M912 598.5h5m-2.5-2.5v5M913 599.5h5m-2.5-2.5v5M912 599.5h5m-2.5-2.5v5M913 600.5h5m-2.5-2.5v5M913 602.5h5m-2.5-2.5v5M913 604.5h5m-2.5-2.5v5M914 605.5h5m-2.5-2.5v5M913 605.5h5m-2.5-2.5v5M914 607.5h5m-2.5-2.5v5M914 610.5h5m-2.5-2.5v5M914 613.5h5m-2.5-2.5v5M914 619.5h5m-2.5-2.5v5M914 622.5h5m-2.5-2.5v5M914 626.5h5m-2.5-2.5v5M914 624.5h5m-2.5-2.5v5M915 627.5h5m-2.5-2.5v5M915 625.5h5m-2.5-2.5v5M914 623.5h5m-2.5-2.5v5M915 622.5h5m-2.5-2.5v5M915 619.5h5m-2.5-2.5v5M915 616.5h5m-2.5-2.5v5M915 609.5h5m-2.5-2.5v5M915 608.5h5m-2.5-2.5v5M915 604.5h5m-2.5-2.5v5M915 602.5h5m-2.5-2.5v5M915 600.5h5m-2.5-2.5v5M916 596.5h5m-2.5-2.5v5M916 598.5h5m-2.5-2.5v5M916 595.5h5m-2.5-2.5v5M916 589.5h5m-2.5-2.5v5M916 585.5h5m-2.5-2.5v5M916 583.5h5m-2.5-2.5v5M917 580.5h5m-2.5-2.5v5M917 579.5h5m-2.5-2.5v5M917 575.5h5m-2.5-2.5v5M917 571.5h5m-2.5-2.5v5M917 568.5h5m-2.5-2.5v5M917 565.5h5m-2.5-2.5v5M917 564.5h5m-2.5-2.5v5M918 561.5h5m-2.5-2.5v5M917 562.5h5m-2.5-2.5v5M917 563.5h5m-2.5-2.5v5M917 560.5h5m-2.5-2.5v5M918 562.5h5m-2.5-2.5v5M918 558.5h5m-2.5-2.5v5M918 559.5h5m-2.5-2.5v5M918 557.5h5m-2.5-2.5v5M918 554.5h5m-2.5-2.5v5M918 553.5h5m-2.5-2.5v5M918 552.5h5m-2.5-2.5v5M919 549.5h5m-2.5-2.5v5M918 547.5h5m-2.5-2.5v5M919 547.5h5m-2.5-2.5v5M919 548.5h5m-2.5-2.5v5M918 549.5h5m-2.5-2.5v5M919 546.5h5m-2.5-2.5v5M919 545.5h5m-2.5-2.5v5M919 540.5h5m-2.5-2.5v5M920 543.5h5m-2.5-2.5v5M919 541.5h5m-2.5-2.5v5M920 542.5h5m-2.5-2.5v5M920 548.5h5m-2.5-2.5v5M920 550.5h5m-2.5-2.5v5M920 552.5h5m-2.5-2.5v5M920 555.5h5m-2.5-2.5v5M920 553.5h5m-2.5-2.5v5M921 558.5h5m-2.5-2.5v5M921 559.5h5m-2.5-2.5v5M920 562.5h5m-2.5-2.5v5M921 565.5h5m-2.5-2.5v5M921 569.5h5m-2.5-2.5v5M921 567.5h5m-2.5-2.5v5M921 570.5h5m-2.5-2.5v5M922 571.5h5m-2.5-2.5v5M922 575.5h5m-2.5-2.5v5M922 574.5h5m-2.5-2.5v5M922 577.5h5m-2.5-2.5v5M921 581.5h5m-2.5-2.5v5M922 581.5h5m-2.5-2.5v5M922 584.5h5m-2.5-2.5v5M922 588.5h5m-2.5-2.5v5M922 590.5h5m-2.5-2.5v5M923 587.5h5m-2.5-2.5v5M923 589.5h5m-2.5-2.5v5M922 593.5h5m-2.5-2.5v5M923 592.5h5m-2.5-2.5v5M923 593.5h5m-2.5-2.5v5M923 596.5h5m-2.5-2.5v5M923 599.5h5m-2.5-2.5v5M923 598.5h5m-2.5-2.5v5M923 595.5h5m-2.5-2.5v5M923 601.5h5m-2.5-2.5v5M924 600.5h5m-2.5-2.5v5M924 597.5h5m-2.5-2.5v5M924 595.5h5m-2.5-2.5v5M924 599.5h5m-2.5-2.5v5M924 598.5h5m-2.5-2.5v5M925 596.5h5m-2.5-2.5v5M925 598.5h5m-2.5-2.5v5M925 599.5h5m-2.5-2.5v5M925 600.5h5m-2.5-2.5v5M926 599.5h5m-2.5-2.5v5M926 598.5h5m-2.5-2.5v5M926 601.5h5m-2.5-2.5v5M926 597.5h5m-2.5-2.5v5M926 596.5h5m-2.5-2.5v5M926 595.5h5m-2.5-2.5v5M927 595.5h5m-2.5-2.5v5M927 600.5h5m-2.5-2.5v5M927 596.5h5m-2.5-2.5v5M927 597.5h5m-2.5-2.5v5M927 598.5h5m-2.5-2.5v5M928 597.5h5m-2.5-2.5v5M928 594.5h5m-2.5-2.5v5M928 595.5h5m-2.5-2.5v5M928 592.5h5m-2.5-2.5v5M928 593.5h5m-2.5-2.5v5M929 597.5h5m-2.5-2.5v5M929 595.5h5m-2.5-2.5v5M929 593.5h5m-2.5-2.5v5M929 591.5h5m-2.5-2.5v5M929 596.5h5m-2.5-2.5v5M929 592.5h5m-2.5-2.5v5M929 594.5h5m-2.5-2.5v5M929 598.5h5m-2.5-2.5v5M930 599.5h5m-2.5-2.5v5M930 597.5h5m-2.5-2.5v5M930 595.5h5m-2.5-2.5v5M930 602.5h5m-2.5-2.5v5M931 603.5h5m-2.5-2.5v5M931 602.5h5m-2.5-2.5v5M930 600.5h5m-2.5-2.5v5M931 605.5h5m-2.5-2.5v5M931 607.5h5m-2.5-2.5v5M931 611.5h5m-2.5-2.5v5M931 610.5h5m-2.5-2.5v5M931 614.5h5m-2.5-2.5v5M932 616.5h5m-2.5-2.5v5M932 617.5h5m-2.5-2.5v5M931 618.5h5m-2.5-2.5v5M932 621.5h5m-2.5-2.5v5M932 625.5h5m-2.5-2.5v5M563 534.5h5m-2.5-2.5v5M576 620.5h5m-2.5-2.5v5M576 619.5h5m-2.5-2.5v5M595 623.5h5m-2.5-2.5v5M606 594.5h5m-2.5-2.5v5M611 594.5h5m-2.5-2.5v5M611 595.5h5m-2.5-2.5v5M614 647.5h5m-2.5-2.5v5M613 645.5h5m-2.5-2.5v5M619 558.5h5m-2.5-2.5v5M627 584.5h5m-2.5-2.5v5M633 643.5h5m-2.5-2.5v5M633 641.5h5m-2.5-2.5v5M639 533.5h5m-2.5-2.5v5M656 506.5h5m-2.5-2.5v5M665 550.5h5m-2.5-2.5v5M665 552.5h5m-2.5-2.5v5M681 562.5h5m-2.5-2.5v5M689 652.5h5m-2.5-2.5v5M689 651.5h5m-2.5-2.5v5M693 510.5h5m-2.5-2.5v5M704 547.5h5m-2.5-2.5v5M708 636.5h5m-2.5-2.5v5M711 517.5h5m-2.5-2.5v5M712 518.5h5m-2.5-2.5v5M720 602.5h5m-2.5-2.5v5M719 600.5h5m-2.5-2.5v5M744 690.5h5m-2.5-2.5v5M769 607.5h5m-2.5-2.5v5M770 609.5h5m-2.5-2.5v5M774 632.5h5m-2.5-2.5v5M774 631.5h5m-2.5-2.5v5M777 636.5h5m-2.5-2.5v5M781 684.5h5m-2.5-2.5v5M802 650.5h5m-2.5-2.5v5M801 649.5h5m-2.5-2.5v5M805 595.5h5m-2.5-2.5v5M806 597.5h5m-2.5-2.5v5M815 633.5h5m-2.5-2.5v5M819 664.5h5m-2.5-2.5v5M825 597.5h5m-2.5-2.5v5M829 619.5h5m-2.5-2.5v5M833 587.5h5m-2.5-2.5v5M839 664.5h5m-2.5-2.5v5M849 601.5h5m-2.5-2.5v5M858 677.5h5m-2.5-2.5v5M863 584.5h5m-2.5-2.5v5M881 566.5h5m-2.5-2.5v5M892 578.5h5m-2.5-2.5v5M895 630.5h5m-2.5-2.5v5M895 629.5h5m-2.5-2.5v5M899 528.5h5m-2.5-2.5v5M900 530.5h5m-2.5-2.5v5M905 610.5h5m-2.5-2.5v5M911 585.5h5m-2.5-2.5v5M914 628.5h5m-2.5-2.5v5M914 627.5h5m-2.5-2.5v5"/>
</g>
<g class="tag">
<text x="97.4" y="39.3" textLength="36.04" lengthAdjust="spacingAndGlyphs">(a)</text>
<text x="524.8" y="39.3" textLength="36.55" lengthAdjust="spacingAndGlyphs">(b)</text>
<text x="89.99" y="411.0" textLength="34.23" lengthAdjust="spacingAndGlyphs">(c)</text>
<text x="521.38" y="409.8" textLength="36.92" lengthAdjust="spacingAndGlyphs">(d)</text>
</g>
<g class="title-a">
<text x="141.62" y="32.9" textLength="15.96" lengthAdjust="spacingAndGlyphs">h</text>
<text x="159.59" y="38.6" style="font-size:20.5px" textLength="13.03" lengthAdjust="spacingAndGlyphs">0</text>
<text x="183.39" y="32.9" textLength="128.17" lengthAdjust="spacingAndGlyphs">corrected</text>
<text x="318.63" y="32.9" textLength="50.81" lengthAdjust="spacingAndGlyphs">due</text>
<text x="375.69" y="32.9" textLength="28.52" lengthAdjust="spacingAndGlyphs">to</text>
<text x="412.08" y="32.9" textLength="85.93" lengthAdjust="spacingAndGlyphs">theory</text>
</g>
<g class="title-b">
<text x="602.75" y="29.1" textLength="15.61" lengthAdjust="spacingAndGlyphs">h</text>
<text x="619.67" y="34.7" style="font-size:20.5px" textLength="13.83" lengthAdjust="spacingAndGlyphs">0</text>
<text x="644.64" y="29.1" textLength="133.29" lengthAdjust="spacingAndGlyphs">correction</text>
<text x="785.61" y="29.1" textLength="102.08" lengthAdjust="spacingAndGlyphs">ignored</text>
</g>
<g class="title-c">
<text x="133.6" y="389.1" textLength="52.43" lengthAdjust="spacingAndGlyphs">SPH</text>
<text x="194.86" y="389.1" textLength="125.4" lengthAdjust="spacingAndGlyphs">corrected</text>
<text x="329.99" y="389.1" textLength="50.37" lengthAdjust="spacingAndGlyphs">due</text>
<text x="386.72" y="389.1" textLength="29.29" lengthAdjust="spacingAndGlyphs">to</text>
<text x="422.63" y="389.1" textLength="85.21" lengthAdjust="spacingAndGlyphs">theory</text>
</g>
<g class="title-d">
<text x="593.63" y="389.1" textLength="52.84" lengthAdjust="spacingAndGlyphs">SPH</text>
<text x="655.42" y="389.1" textLength="133.12" lengthAdjust="spacingAndGlyphs">correction</text>
<text x="796.35" y="389.1" textLength="102.16" lengthAdjust="spacingAndGlyphs">ignored</text>
</g>
<g class="yticks">
<text x="54.23" y="100.8" textLength="58.98" lengthAdjust="spacingAndGlyphs">75.5</text>
<text x="79.71" y="190.0" textLength="34.24" lengthAdjust="spacingAndGlyphs">75</text>
<text x="54.23" y="279.0" textLength="58.98" lengthAdjust="spacingAndGlyphs">74.5</text>
<text x="79.75" y="368.0" textLength="33.79" lengthAdjust="spacingAndGlyphs">74</text>
<text x="80.02" y="468.3" textLength="34.29" lengthAdjust="spacingAndGlyphs">84</text>
<text x="79.97" y="532.2" textLength="34.62" lengthAdjust="spacingAndGlyphs">83</text>
<text x="79.93" y="595.6" textLength="35.02" lengthAdjust="spacingAndGlyphs">82</text>
<text x="80.02" y="659.4" textLength="34.3" lengthAdjust="spacingAndGlyphs">81</text>
<text x="79.91" y="723.1" textLength="35.26" lengthAdjust="spacingAndGlyphs">80</text>
</g>
<g class="xticks">
<text x="137.87" y="753.3" textLength="67.85" lengthAdjust="spacingAndGlyphs">1980</text>
<text x="232.11" y="753.3" textLength="66.97" lengthAdjust="spacingAndGlyphs">1985</text>
<text x="325.0" y="753.3" textLength="67.74" lengthAdjust="spacingAndGlyphs">1990</text>
<text x="418.9" y="753.3" textLength="67.56" lengthAdjust="spacingAndGlyphs">1995</text>
<text x="562.87" y="753.3" textLength="67.85" lengthAdjust="spacingAndGlyphs">1980</text>
<text x="657.11" y="753.3" textLength="66.97" lengthAdjust="spacingAndGlyphs">1985</text>
<text x="750.0" y="753.3" textLength="67.74" lengthAdjust="spacingAndGlyphs">1990</text>
<text x="843.9" y="753.3" textLength="67.56" lengthAdjust="spacingAndGlyphs">1995</text>
</g>
<g class="xlabel">
<text x="292.26" y="798.0" textLength="55.7" lengthAdjust="spacingAndGlyphs">Year</text>
<text x="717.26" y="798.0" textLength="55.7" lengthAdjust="spacingAndGlyphs">Year</text>
</g>
<text transform="translate(31.1,200.6) rotate(-90)" text-anchor="middle">km</text>
<text transform="translate(29.1,560.6) rotate(-90)" text-anchor="middle">km</text>
</svg></body></html>
